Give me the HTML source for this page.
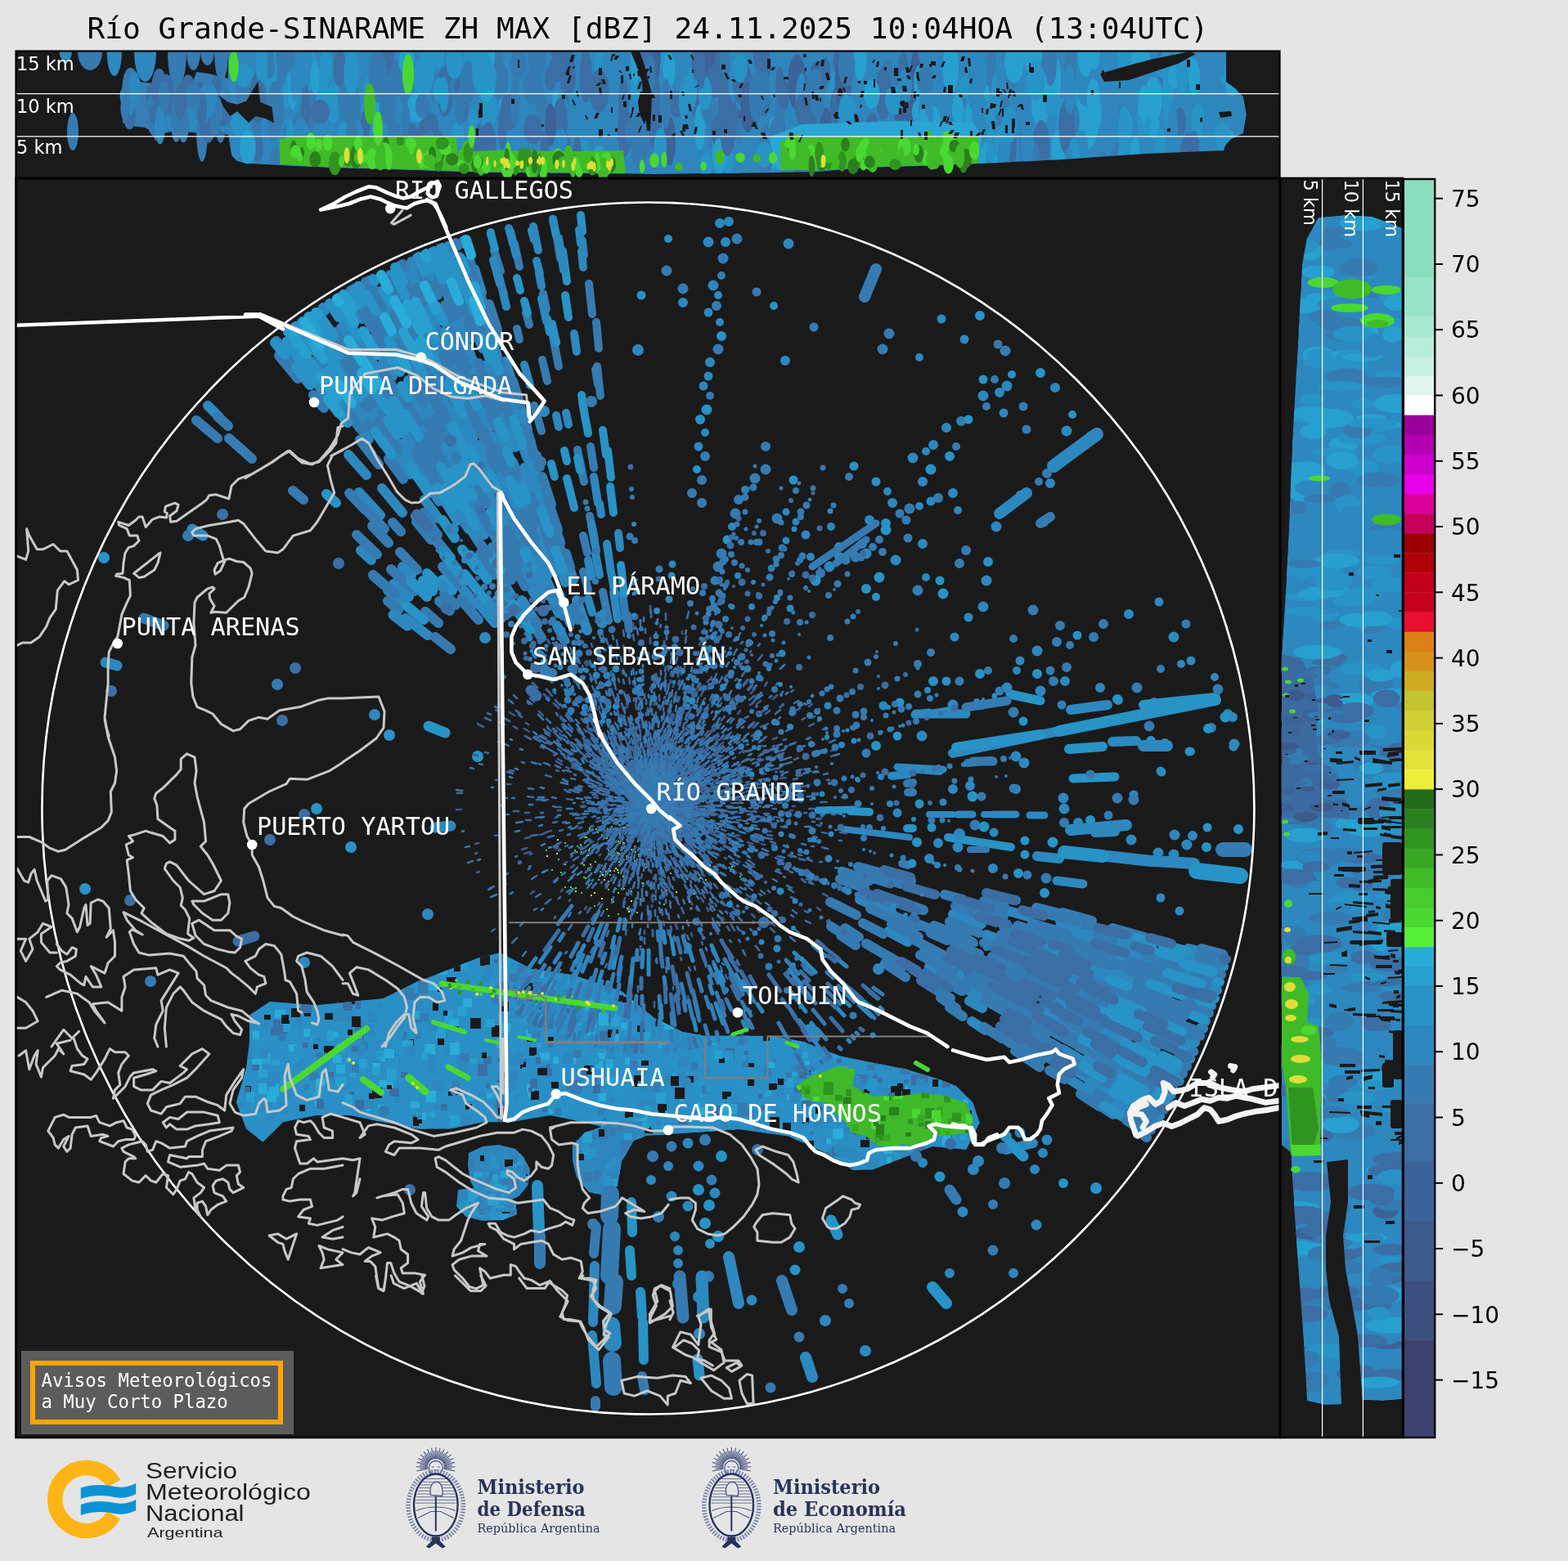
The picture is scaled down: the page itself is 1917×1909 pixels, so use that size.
<!DOCTYPE html>
<html><head><meta charset="utf-8"><title>Río Grande-SINARAME ZH MAX</title>
<style>html,body{margin:0;padding:0;background:#e5e5e5;overflow:hidden}svg{display:block}</style></head>
<body><svg xmlns="http://www.w3.org/2000/svg" width="1917" height="1909" viewBox="0 0 1917 1909">
<defs><clipPath id="mapclip"><rect x="20" y="219" width="1544" height="1538"/></clipPath><clipPath id="topclip"><rect x="20" y="63" width="1544" height="154"/></clipPath><clipPath id="rightclip"><rect x="1566" y="219" width="148" height="1538"/></clipPath></defs>
<rect x="0" y="0" width="1917" height="1909" fill="#e5e5e5"/>
<text x="106.5" y="47.4" font-family="DejaVu Sans Mono" font-size="36.15" fill="#000">Río Grande-SINARAME ZH MAX [dBZ] 24.11.2025 10:04HOA (13:04UTC)</text>
<rect x="19" y="62" width="1546" height="156" fill="#1a1a1a"/>
<rect x="19" y="218" width="1546" height="1540" fill="#1a1a1a"/>
<rect x="1565" y="218" width="150" height="1540" fill="#1a1a1a"/>
<g clip-path="url(#topclip)">
<path d="M279.0,63.0 L1499.0,63.0 L1499.0,100.0 L1510.0,108.0 L1520.0,118.0 L1524.0,140.0 L1520.0,163.0 L1505.0,170.0 L1498.0,178.0 L1496.0,184.0 L1400.0,188.0 L1300.0,195.0 L1200.0,200.0 L1100.0,204.0 L1060.0,205.0 L1000.0,210.0 L900.0,212.0 L800.0,213.0 L700.0,212.0 L600.0,211.0 L560.0,210.0 L500.0,208.0 L400.0,205.0 L342.0,202.0 L300.0,200.0 L290.0,197.0 L283.0,190.0 L279.0,165.0Z" fill="#2f86bd" />
<path d="M150.0,104.0 L170.0,100.0 L200.0,103.0 L236.0,100.0 L240.0,88.0 L255.0,90.0 L279.0,96.0 L279.0,165.0 L265.0,162.0 L250.0,158.0 L236.0,162.0 L215.0,160.0 L199.0,163.0 L190.0,172.0 L185.0,160.0 L177.0,156.0 L160.0,154.0 L150.0,150.0Z" fill="#357fb6" />
<ellipse cx="80.3" cy="63.0" rx="7.7" ry="12.0" fill="#2d88bf"/>
<ellipse cx="110.0" cy="63.0" rx="15.0" ry="23.0" fill="#357bb2"/>
<ellipse cx="139.8" cy="63.0" rx="9.2" ry="30.0" fill="#2d88bf"/>
<ellipse cx="177.5" cy="63.0" rx="13.5" ry="37.0" fill="#2d88bf"/>
<ellipse cx="216.5" cy="63.0" rx="11.5" ry="45.0" fill="#357bb2"/>
<ellipse cx="236.5" cy="63.0" rx="8.5" ry="23.0" fill="#357bb2"/>
<ellipse cx="253.5" cy="63.0" rx="8.5" ry="17.0" fill="#357bb2"/>
<ellipse cx="270.5" cy="63.0" rx="8.5" ry="37.0" fill="#357bb2"/>
<ellipse cx="89.0" cy="161.0" rx="7.0" ry="23.0" fill="#357bb2"/>
<ellipse cx="247.0" cy="160.0" rx="7.0" ry="38.0" fill="#357bb2"/>
<ellipse cx="289.0" cy="178.0" rx="6.0" ry="22.0" fill="#2d88bf"/>
<ellipse cx="1273.8" cy="130.6" rx="9.3" ry="17.7" fill="#2893c6"/>
<ellipse cx="947.6" cy="189.4" rx="9.4" ry="25.9" fill="#2d88bf"/>
<ellipse cx="1471.7" cy="155.9" rx="9.3" ry="17.1" fill="#3a6ea4"/>
<ellipse cx="362.7" cy="68.1" rx="11.2" ry="26.0" fill="#27a0d0"/>
<ellipse cx="855.6" cy="125.6" rx="10.9" ry="24.4" fill="#3a6ea4"/>
<ellipse cx="1099.8" cy="127.9" rx="6.9" ry="34.0" fill="#3a6ea4"/>
<ellipse cx="672.8" cy="95.6" rx="7.0" ry="15.4" fill="#3a6ea4"/>
<ellipse cx="1326.3" cy="117.9" rx="11.7" ry="30.9" fill="#2893c6"/>
<ellipse cx="863.1" cy="202.2" rx="7.8" ry="15.5" fill="#2893c6"/>
<ellipse cx="529.1" cy="158.8" rx="7.4" ry="20.2" fill="#3a6ea4"/>
<ellipse cx="1470.8" cy="170.6" rx="5.8" ry="18.9" fill="#27a0d0"/>
<ellipse cx="1265.3" cy="88.2" rx="8.9" ry="22.9" fill="#357bb2"/>
<ellipse cx="1231.5" cy="122.5" rx="7.7" ry="21.9" fill="#2d88bf"/>
<ellipse cx="1512.4" cy="65.8" rx="6.3" ry="33.9" fill="#2893c6"/>
<ellipse cx="408.4" cy="203.5" rx="6.5" ry="19.2" fill="#27a0d0"/>
<ellipse cx="1035.7" cy="180.9" rx="7.7" ry="15.5" fill="#357bb2"/>
<ellipse cx="1001.8" cy="97.5" rx="9.2" ry="21.4" fill="#357bb2"/>
<ellipse cx="1308.8" cy="82.3" rx="7.7" ry="26.5" fill="#357bb2"/>
<ellipse cx="1290.9" cy="98.4" rx="6.3" ry="28.8" fill="#27a0d0"/>
<ellipse cx="1370.1" cy="148.7" rx="8.0" ry="16.1" fill="#2d88bf"/>
<ellipse cx="578.2" cy="163.1" rx="6.8" ry="30.5" fill="#2893c6"/>
<ellipse cx="888.9" cy="136.9" rx="11.5" ry="33.5" fill="#3a6ea4"/>
<ellipse cx="629.7" cy="193.3" rx="6.4" ry="14.3" fill="#357bb2"/>
<ellipse cx="791.1" cy="98.4" rx="5.3" ry="19.6" fill="#3b6399"/>
<ellipse cx="398.4" cy="82.7" rx="8.2" ry="20.6" fill="#2893c6"/>
<ellipse cx="1135.2" cy="146.0" rx="6.0" ry="14.7" fill="#2d88bf"/>
<ellipse cx="1147.2" cy="199.7" rx="5.1" ry="26.7" fill="#2d88bf"/>
<ellipse cx="677.3" cy="204.9" rx="5.5" ry="24.9" fill="#2893c6"/>
<ellipse cx="339.7" cy="195.9" rx="10.2" ry="16.6" fill="#357bb2"/>
<ellipse cx="717.8" cy="160.3" rx="11.3" ry="31.4" fill="#2d88bf"/>
<ellipse cx="322.2" cy="134.0" rx="5.1" ry="27.2" fill="#2d88bf"/>
<ellipse cx="1001.7" cy="149.5" rx="5.6" ry="26.8" fill="#357bb2"/>
<ellipse cx="1180.7" cy="118.2" rx="10.1" ry="25.6" fill="#2893c6"/>
<ellipse cx="923.0" cy="136.1" rx="7.2" ry="15.8" fill="#3a6ea4"/>
<ellipse cx="896.6" cy="150.3" rx="11.4" ry="19.1" fill="#3b6399"/>
<ellipse cx="1119.1" cy="91.8" rx="6.2" ry="32.1" fill="#3b6399"/>
<ellipse cx="687.2" cy="157.6" rx="6.4" ry="22.6" fill="#27a0d0"/>
<ellipse cx="531.4" cy="93.4" rx="6.5" ry="32.4" fill="#357bb2"/>
<ellipse cx="452.5" cy="133.5" rx="10.9" ry="31.0" fill="#2893c6"/>
<ellipse cx="363.9" cy="202.2" rx="10.8" ry="16.3" fill="#2d88bf"/>
<ellipse cx="623.5" cy="93.4" rx="7.9" ry="26.5" fill="#2d88bf"/>
<ellipse cx="1166.0" cy="182.6" rx="9.4" ry="20.4" fill="#2893c6"/>
<ellipse cx="1119.3" cy="102.9" rx="7.5" ry="27.0" fill="#3b6399"/>
<ellipse cx="315.4" cy="180.8" rx="6.7" ry="16.8" fill="#3a6ea4"/>
<ellipse cx="1495.3" cy="79.4" rx="5.8" ry="24.7" fill="#2893c6"/>
<ellipse cx="1463.9" cy="160.2" rx="6.4" ry="23.5" fill="#357bb2"/>
<ellipse cx="1213.7" cy="138.9" rx="5.3" ry="18.5" fill="#27a0d0"/>
<ellipse cx="769.0" cy="175.5" rx="11.3" ry="15.7" fill="#2893c6"/>
<ellipse cx="762.2" cy="127.0" rx="6.4" ry="31.7" fill="#3a6ea4"/>
<ellipse cx="855.4" cy="155.5" rx="6.4" ry="28.4" fill="#27a0d0"/>
<ellipse cx="1421.8" cy="80.5" rx="6.7" ry="21.8" fill="#3a6ea4"/>
<ellipse cx="945.5" cy="175.3" rx="7.2" ry="32.2" fill="#27a0d0"/>
<ellipse cx="304.2" cy="134.7" rx="5.3" ry="20.8" fill="#2d88bf"/>
<ellipse cx="1229.9" cy="132.2" rx="5.2" ry="30.2" fill="#2893c6"/>
<ellipse cx="497.7" cy="110.6" rx="10.5" ry="16.8" fill="#357bb2"/>
<ellipse cx="1514.8" cy="190.9" rx="8.6" ry="27.6" fill="#2d88bf"/>
<ellipse cx="890.9" cy="197.8" rx="5.6" ry="18.4" fill="#2893c6"/>
<ellipse cx="972.3" cy="181.0" rx="8.9" ry="17.3" fill="#2893c6"/>
<ellipse cx="1322.7" cy="142.5" rx="7.2" ry="21.6" fill="#27a0d0"/>
<ellipse cx="1034.6" cy="106.2" rx="6.0" ry="24.9" fill="#3b6399"/>
<ellipse cx="790.6" cy="79.2" rx="5.0" ry="21.5" fill="#2893c6"/>
<ellipse cx="919.7" cy="119.9" rx="10.6" ry="25.3" fill="#3b6399"/>
<ellipse cx="366.1" cy="139.5" rx="7.9" ry="33.1" fill="#2d88bf"/>
<ellipse cx="616.1" cy="130.2" rx="5.9" ry="22.7" fill="#27a0d0"/>
<ellipse cx="1435.9" cy="193.6" rx="8.7" ry="16.2" fill="#2d88bf"/>
<ellipse cx="1423.1" cy="81.4" rx="10.5" ry="14.5" fill="#2893c6"/>
<ellipse cx="1130.1" cy="108.7" rx="7.5" ry="26.4" fill="#2893c6"/>
<ellipse cx="1332.9" cy="151.5" rx="10.0" ry="28.0" fill="#27a0d0"/>
<ellipse cx="1300.0" cy="150.4" rx="8.8" ry="31.3" fill="#2893c6"/>
<ellipse cx="936.4" cy="183.9" rx="9.3" ry="31.1" fill="#357bb2"/>
<ellipse cx="1410.2" cy="152.2" rx="7.4" ry="17.6" fill="#27a0d0"/>
<ellipse cx="553.3" cy="204.8" rx="11.2" ry="16.7" fill="#357bb2"/>
<ellipse cx="448.0" cy="75.5" rx="7.7" ry="22.7" fill="#2d88bf"/>
<ellipse cx="953.2" cy="163.1" rx="6.4" ry="26.6" fill="#3b6399"/>
<ellipse cx="986.0" cy="113.8" rx="10.7" ry="21.2" fill="#3a6ea4"/>
<ellipse cx="903.4" cy="160.4" rx="6.3" ry="15.4" fill="#357bb2"/>
<ellipse cx="465.3" cy="89.2" rx="6.4" ry="30.8" fill="#357bb2"/>
<ellipse cx="1425.1" cy="76.5" rx="5.4" ry="33.0" fill="#2893c6"/>
<ellipse cx="687.0" cy="129.3" rx="8.6" ry="22.6" fill="#3a6ea4"/>
<ellipse cx="1323.4" cy="88.7" rx="8.2" ry="28.8" fill="#2d88bf"/>
<ellipse cx="1029.0" cy="76.5" rx="10.5" ry="20.5" fill="#3a6ea4"/>
<ellipse cx="1151.7" cy="185.2" rx="9.4" ry="22.1" fill="#2d88bf"/>
<ellipse cx="1274.9" cy="99.7" rx="11.4" ry="28.9" fill="#27a0d0"/>
<ellipse cx="448.9" cy="109.8" rx="8.8" ry="21.4" fill="#2d88bf"/>
<ellipse cx="1226.2" cy="120.6" rx="10.1" ry="15.4" fill="#2893c6"/>
<ellipse cx="298.0" cy="113.5" rx="9.5" ry="26.5" fill="#357bb2"/>
<ellipse cx="620.8" cy="199.5" rx="7.1" ry="18.3" fill="#2d88bf"/>
<ellipse cx="985.6" cy="138.7" rx="7.7" ry="34.0" fill="#3a6ea4"/>
<ellipse cx="1221.9" cy="202.2" rx="5.2" ry="26.3" fill="#27a0d0"/>
<ellipse cx="778.9" cy="70.2" rx="6.4" ry="21.5" fill="#3a6ea4"/>
<ellipse cx="1398.9" cy="141.1" rx="8.6" ry="33.3" fill="#2893c6"/>
<ellipse cx="407.6" cy="126.1" rx="9.5" ry="25.0" fill="#2893c6"/>
<ellipse cx="1218.9" cy="69.4" rx="11.5" ry="17.2" fill="#2d88bf"/>
<ellipse cx="1337.5" cy="140.0" rx="9.2" ry="22.6" fill="#27a0d0"/>
<ellipse cx="1020.3" cy="114.9" rx="7.0" ry="27.1" fill="#2893c6"/>
<ellipse cx="1101.2" cy="169.2" rx="5.2" ry="29.4" fill="#357bb2"/>
<ellipse cx="349.9" cy="107.8" rx="7.8" ry="25.6" fill="#2893c6"/>
<ellipse cx="1446.7" cy="73.4" rx="11.3" ry="22.6" fill="#27a0d0"/>
<ellipse cx="340.9" cy="77.0" rx="10.7" ry="32.2" fill="#357bb2"/>
<ellipse cx="1488.9" cy="179.0" rx="9.2" ry="16.3" fill="#2893c6"/>
<ellipse cx="535.5" cy="70.4" rx="8.7" ry="16.5" fill="#2d88bf"/>
<ellipse cx="456.9" cy="122.2" rx="9.2" ry="26.8" fill="#2893c6"/>
<ellipse cx="801.0" cy="173.5" rx="8.7" ry="34.0" fill="#357bb2"/>
<ellipse cx="578.2" cy="79.2" rx="11.2" ry="29.7" fill="#2893c6"/>
<ellipse cx="1326.3" cy="102.0" rx="9.3" ry="28.5" fill="#2d88bf"/>
<ellipse cx="1211.6" cy="90.0" rx="6.7" ry="33.6" fill="#357bb2"/>
<ellipse cx="333.6" cy="71.6" rx="6.9" ry="22.5" fill="#2893c6"/>
<ellipse cx="331.8" cy="94.6" rx="6.9" ry="29.1" fill="#2893c6"/>
<ellipse cx="482.9" cy="96.3" rx="11.9" ry="23.7" fill="#357bb2"/>
<ellipse cx="544.1" cy="111.8" rx="10.2" ry="30.8" fill="#3a6ea4"/>
<ellipse cx="1271.8" cy="126.5" rx="10.8" ry="30.8" fill="#27a0d0"/>
<ellipse cx="1204.2" cy="118.4" rx="6.1" ry="17.1" fill="#27a0d0"/>
<ellipse cx="685.2" cy="140.9" rx="10.2" ry="32.4" fill="#2d88bf"/>
<ellipse cx="999.1" cy="128.6" rx="7.3" ry="24.9" fill="#357bb2"/>
<ellipse cx="1287.8" cy="128.8" rx="10.8" ry="14.2" fill="#2893c6"/>
<ellipse cx="1140.0" cy="133.3" rx="10.3" ry="20.6" fill="#2d88bf"/>
<ellipse cx="735.7" cy="79.7" rx="10.0" ry="25.4" fill="#2893c6"/>
<ellipse cx="823.7" cy="177.0" rx="7.1" ry="20.4" fill="#2d88bf"/>
<ellipse cx="1475.4" cy="166.6" rx="8.6" ry="15.7" fill="#2d88bf"/>
<ellipse cx="1117.7" cy="146.0" rx="10.6" ry="28.8" fill="#3b6399"/>
<ellipse cx="502.2" cy="170.8" rx="11.2" ry="19.6" fill="#3a6ea4"/>
<ellipse cx="557.1" cy="71.2" rx="6.1" ry="19.9" fill="#3a6ea4"/>
<ellipse cx="1086.0" cy="177.2" rx="5.4" ry="24.9" fill="#27a0d0"/>
<ellipse cx="955.9" cy="110.5" rx="6.9" ry="16.1" fill="#3b6399"/>
<ellipse cx="404.9" cy="178.9" rx="8.0" ry="28.2" fill="#2d88bf"/>
<ellipse cx="1226.4" cy="137.1" rx="10.4" ry="21.9" fill="#357bb2"/>
<ellipse cx="694.5" cy="82.4" rx="8.4" ry="30.1" fill="#3a6ea4"/>
<ellipse cx="1410.4" cy="121.3" rx="10.8" ry="27.3" fill="#27a0d0"/>
<ellipse cx="1310.6" cy="189.2" rx="11.7" ry="26.8" fill="#2893c6"/>
<ellipse cx="1271.8" cy="122.9" rx="7.9" ry="16.9" fill="#27a0d0"/>
<ellipse cx="1126.4" cy="108.6" rx="7.7" ry="24.6" fill="#357bb2"/>
<ellipse cx="357.8" cy="106.8" rx="5.8" ry="27.0" fill="#27a0d0"/>
<ellipse cx="1416.3" cy="192.5" rx="10.3" ry="14.3" fill="#2d88bf"/>
<ellipse cx="329.7" cy="78.4" rx="6.3" ry="18.3" fill="#357bb2"/>
<ellipse cx="1023.0" cy="130.0" rx="8.6" ry="22.8" fill="#3a6ea4"/>
<ellipse cx="1055.9" cy="196.8" rx="8.9" ry="31.1" fill="#2d88bf"/>
<ellipse cx="1376.5" cy="192.8" rx="7.4" ry="24.9" fill="#27a0d0"/>
<ellipse cx="776.3" cy="93.9" rx="5.9" ry="30.0" fill="#2893c6"/>
<ellipse cx="1237.2" cy="174.9" rx="5.4" ry="32.5" fill="#3a6ea4"/>
<ellipse cx="1398.4" cy="126.9" rx="6.7" ry="22.4" fill="#27a0d0"/>
<ellipse cx="1234.5" cy="83.6" rx="11.4" ry="30.2" fill="#357bb2"/>
<ellipse cx="1506.5" cy="100.8" rx="8.7" ry="17.0" fill="#27a0d0"/>
<ellipse cx="1295.3" cy="183.2" rx="10.8" ry="15.6" fill="#357bb2"/>
<ellipse cx="934.4" cy="189.3" rx="9.9" ry="15.7" fill="#2893c6"/>
<ellipse cx="1006.6" cy="184.7" rx="7.1" ry="29.8" fill="#2d88bf"/>
<ellipse cx="522.5" cy="159.9" rx="10.5" ry="22.8" fill="#3a6ea4"/>
<ellipse cx="953.3" cy="137.6" rx="6.1" ry="30.6" fill="#357bb2"/>
<ellipse cx="378.5" cy="106.4" rx="8.3" ry="28.3" fill="#357bb2"/>
<ellipse cx="376.4" cy="83.0" rx="9.7" ry="27.5" fill="#2893c6"/>
<ellipse cx="1474.3" cy="180.8" rx="9.6" ry="14.2" fill="#2d88bf"/>
<ellipse cx="869.6" cy="104.7" rx="5.8" ry="29.4" fill="#27a0d0"/>
<ellipse cx="1268.3" cy="92.4" rx="9.3" ry="19.8" fill="#2d88bf"/>
<ellipse cx="1207.2" cy="198.5" rx="10.3" ry="25.1" fill="#27a0d0"/>
<ellipse cx="748.2" cy="78.6" rx="7.2" ry="19.5" fill="#2d88bf"/>
<ellipse cx="692.9" cy="180.4" rx="5.6" ry="16.8" fill="#3a6ea4"/>
<ellipse cx="446.7" cy="152.5" rx="6.3" ry="17.9" fill="#3a6ea4"/>
<ellipse cx="1314.4" cy="147.2" rx="5.6" ry="18.5" fill="#357bb2"/>
<ellipse cx="818.6" cy="172.5" rx="7.4" ry="30.5" fill="#3b6399"/>
<ellipse cx="1228.2" cy="179.6" rx="7.7" ry="20.6" fill="#2d88bf"/>
<ellipse cx="1179.1" cy="150.1" rx="7.2" ry="29.8" fill="#357bb2"/>
<ellipse cx="1033.6" cy="65.6" rx="7.3" ry="20.8" fill="#357bb2"/>
<ellipse cx="537.0" cy="110.3" rx="7.1" ry="16.1" fill="#2893c6"/>
<ellipse cx="479.8" cy="171.8" rx="11.3" ry="25.0" fill="#357bb2"/>
<ellipse cx="1037.8" cy="135.9" rx="9.0" ry="18.0" fill="#2893c6"/>
<ellipse cx="1154.4" cy="195.9" rx="9.0" ry="14.5" fill="#2893c6"/>
<ellipse cx="452.6" cy="130.9" rx="7.9" ry="20.7" fill="#3a6ea4"/>
<ellipse cx="1427.7" cy="114.3" rx="8.2" ry="16.5" fill="#2893c6"/>
<ellipse cx="974.2" cy="100.5" rx="11.4" ry="33.8" fill="#3b6399"/>
<ellipse cx="435.9" cy="180.1" rx="7.0" ry="31.9" fill="#357bb2"/>
<ellipse cx="1217.7" cy="114.6" rx="6.2" ry="26.0" fill="#2893c6"/>
<ellipse cx="781.2" cy="174.1" rx="11.5" ry="34.0" fill="#357bb2"/>
<ellipse cx="1041.7" cy="153.9" rx="10.3" ry="17.2" fill="#3b6399"/>
<ellipse cx="934.3" cy="79.8" rx="7.8" ry="20.7" fill="#3a6ea4"/>
<ellipse cx="350.8" cy="174.3" rx="10.1" ry="29.8" fill="#2d88bf"/>
<ellipse cx="1465.0" cy="148.2" rx="8.3" ry="22.2" fill="#2893c6"/>
<ellipse cx="979.7" cy="120.8" rx="7.0" ry="31.8" fill="#2d88bf"/>
<ellipse cx="1336.7" cy="121.1" rx="8.0" ry="25.3" fill="#27a0d0"/>
<ellipse cx="802.0" cy="66.4" rx="11.4" ry="19.9" fill="#2893c6"/>
<ellipse cx="1185.4" cy="147.8" rx="10.3" ry="20.1" fill="#2893c6"/>
<ellipse cx="585.5" cy="182.9" rx="6.7" ry="31.5" fill="#3a6ea4"/>
<ellipse cx="870.1" cy="78.0" rx="11.4" ry="24.9" fill="#3b6399"/>
<ellipse cx="1367.1" cy="204.9" rx="10.1" ry="31.4" fill="#357bb2"/>
<ellipse cx="803.3" cy="177.3" rx="6.6" ry="28.9" fill="#2893c6"/>
<ellipse cx="435.9" cy="73.2" rx="8.6" ry="16.6" fill="#2893c6"/>
<ellipse cx="993.3" cy="127.4" rx="7.1" ry="28.6" fill="#3a6ea4"/>
<ellipse cx="827.1" cy="126.9" rx="8.7" ry="16.8" fill="#3a6ea4"/>
<ellipse cx="661.7" cy="127.6" rx="7.2" ry="20.5" fill="#357bb2"/>
<ellipse cx="1487.1" cy="130.1" rx="6.4" ry="19.9" fill="#2893c6"/>
<ellipse cx="525.5" cy="182.0" rx="7.5" ry="23.4" fill="#357bb2"/>
<ellipse cx="1066.5" cy="162.1" rx="8.9" ry="24.7" fill="#3a6ea4"/>
<ellipse cx="1084.6" cy="106.5" rx="10.7" ry="33.2" fill="#357bb2"/>
<ellipse cx="1162.2" cy="82.2" rx="9.9" ry="32.8" fill="#27a0d0"/>
<ellipse cx="559.6" cy="106.6" rx="10.0" ry="17.9" fill="#357bb2"/>
<ellipse cx="1170.8" cy="134.2" rx="7.1" ry="19.5" fill="#27a0d0"/>
<ellipse cx="1372.9" cy="146.8" rx="6.6" ry="20.0" fill="#357bb2"/>
<ellipse cx="625.5" cy="153.9" rx="5.6" ry="33.7" fill="#2d88bf"/>
<ellipse cx="375.8" cy="191.9" rx="5.0" ry="25.7" fill="#2893c6"/>
<ellipse cx="593.6" cy="177.1" rx="5.6" ry="19.7" fill="#27a0d0"/>
<ellipse cx="518.1" cy="88.5" rx="10.1" ry="14.6" fill="#27a0d0"/>
<ellipse cx="1388.3" cy="203.3" rx="5.2" ry="23.2" fill="#2893c6"/>
<ellipse cx="1428.0" cy="134.0" rx="6.3" ry="25.1" fill="#2893c6"/>
<ellipse cx="679.6" cy="131.7" rx="5.2" ry="19.8" fill="#27a0d0"/>
<ellipse cx="1126.6" cy="136.9" rx="11.7" ry="17.5" fill="#27a0d0"/>
<ellipse cx="422.9" cy="124.9" rx="9.7" ry="25.0" fill="#357bb2"/>
<ellipse cx="1252.5" cy="175.3" rx="6.7" ry="23.8" fill="#357bb2"/>
<ellipse cx="1027.1" cy="100.1" rx="6.4" ry="33.4" fill="#3b6399"/>
<ellipse cx="684.8" cy="149.4" rx="9.3" ry="30.1" fill="#3a6ea4"/>
<ellipse cx="1338.7" cy="67.4" rx="5.8" ry="17.6" fill="#27a0d0"/>
<ellipse cx="1051.6" cy="70.7" rx="8.0" ry="27.9" fill="#27a0d0"/>
<ellipse cx="931.3" cy="100.6" rx="9.1" ry="15.8" fill="#357bb2"/>
<ellipse cx="598.4" cy="85.7" rx="9.8" ry="30.6" fill="#27a0d0"/>
<ellipse cx="844.1" cy="107.8" rx="8.3" ry="28.0" fill="#2893c6"/>
<ellipse cx="336.8" cy="132.5" rx="10.3" ry="33.7" fill="#357bb2"/>
<ellipse cx="1200.9" cy="137.1" rx="11.9" ry="14.1" fill="#2d88bf"/>
<ellipse cx="459.1" cy="118.8" rx="7.1" ry="22.5" fill="#3a6ea4"/>
<ellipse cx="1480.1" cy="159.5" rx="10.0" ry="33.5" fill="#2d88bf"/>
<ellipse cx="431.2" cy="184.5" rx="7.9" ry="15.7" fill="#357bb2"/>
<ellipse cx="732.7" cy="110.9" rx="11.9" ry="26.2" fill="#3a6ea4"/>
<ellipse cx="1192.0" cy="143.6" rx="11.4" ry="31.7" fill="#27a0d0"/>
<ellipse cx="1435.6" cy="93.3" rx="7.7" ry="15.0" fill="#27a0d0"/>
<ellipse cx="1260.7" cy="177.2" rx="8.4" ry="22.0" fill="#2d88bf"/>
<ellipse cx="866.3" cy="132.6" rx="9.4" ry="17.6" fill="#357bb2"/>
<ellipse cx="800.6" cy="69.7" rx="6.9" ry="33.0" fill="#3b6399"/>
<ellipse cx="1197.2" cy="135.7" rx="9.0" ry="27.0" fill="#2d88bf"/>
<ellipse cx="355.4" cy="166.4" rx="10.4" ry="16.7" fill="#357bb2"/>
<ellipse cx="1174.8" cy="191.8" rx="5.1" ry="20.4" fill="#27a0d0"/>
<ellipse cx="685.1" cy="172.4" rx="8.6" ry="15.1" fill="#2d88bf"/>
<ellipse cx="885.8" cy="89.7" rx="8.6" ry="16.6" fill="#357bb2"/>
<ellipse cx="873.7" cy="161.6" rx="8.6" ry="25.0" fill="#357bb2"/>
<ellipse cx="1104.4" cy="83.9" rx="6.4" ry="19.6" fill="#3a6ea4"/>
<ellipse cx="563.0" cy="104.5" rx="7.4" ry="18.3" fill="#3a6ea4"/>
<ellipse cx="1328.3" cy="169.1" rx="8.4" ry="14.2" fill="#27a0d0"/>
<ellipse cx="651.7" cy="158.2" rx="11.4" ry="18.3" fill="#3a6ea4"/>
<ellipse cx="1459.8" cy="186.3" rx="6.6" ry="26.7" fill="#3a6ea4"/>
<ellipse cx="432.4" cy="133.0" rx="8.4" ry="32.6" fill="#357bb2"/>
<ellipse cx="896.5" cy="102.7" rx="6.1" ry="22.0" fill="#2d88bf"/>
<ellipse cx="716.4" cy="164.1" rx="8.6" ry="28.9" fill="#2d88bf"/>
<ellipse cx="873.3" cy="99.5" rx="11.0" ry="20.2" fill="#3a6ea4"/>
<ellipse cx="433.0" cy="192.2" rx="11.4" ry="19.4" fill="#2d88bf"/>
<ellipse cx="894.5" cy="146.2" rx="8.3" ry="20.5" fill="#3a6ea4"/>
<ellipse cx="711.9" cy="189.6" rx="9.0" ry="19.2" fill="#2893c6"/>
<ellipse cx="1376.1" cy="154.2" rx="7.7" ry="20.8" fill="#27a0d0"/>
<ellipse cx="1233.9" cy="152.1" rx="9.3" ry="22.2" fill="#2893c6"/>
<ellipse cx="1305.4" cy="187.9" rx="7.7" ry="32.2" fill="#3a6ea4"/>
<ellipse cx="1125.6" cy="101.7" rx="8.5" ry="23.5" fill="#27a0d0"/>
<ellipse cx="616.8" cy="99.7" rx="6.5" ry="24.4" fill="#2893c6"/>
<ellipse cx="1490.1" cy="63.5" rx="8.8" ry="31.0" fill="#2d88bf"/>
<ellipse cx="609.8" cy="77.8" rx="5.1" ry="30.1" fill="#357bb2"/>
<ellipse cx="1140.3" cy="160.5" rx="11.7" ry="30.5" fill="#27a0d0"/>
<ellipse cx="1275.1" cy="104.7" rx="7.9" ry="21.3" fill="#27a0d0"/>
<ellipse cx="1079.9" cy="114.4" rx="9.9" ry="32.3" fill="#3a6ea4"/>
<ellipse cx="1501.7" cy="179.1" rx="11.2" ry="20.2" fill="#27a0d0"/>
<ellipse cx="334.7" cy="151.3" rx="7.9" ry="23.6" fill="#357bb2"/>
<ellipse cx="597.3" cy="135.1" rx="10.6" ry="21.8" fill="#2893c6"/>
<ellipse cx="1065.8" cy="115.2" rx="9.8" ry="17.7" fill="#27a0d0"/>
<ellipse cx="1321.5" cy="180.7" rx="9.0" ry="22.4" fill="#2d88bf"/>
<ellipse cx="1270.5" cy="80.8" rx="7.6" ry="27.4" fill="#357bb2"/>
<ellipse cx="1482.8" cy="130.0" rx="9.9" ry="29.8" fill="#2d88bf"/>
<ellipse cx="800.7" cy="152.7" rx="7.8" ry="32.7" fill="#3a6ea4"/>
<ellipse cx="1356.1" cy="90.5" rx="7.5" ry="24.8" fill="#2d88bf"/>
<ellipse cx="1397.8" cy="181.3" rx="11.0" ry="17.4" fill="#2d88bf"/>
<ellipse cx="560.1" cy="165.5" rx="7.9" ry="16.8" fill="#2893c6"/>
<ellipse cx="763.9" cy="161.6" rx="8.8" ry="30.0" fill="#3a6ea4"/>
<ellipse cx="969.1" cy="190.3" rx="11.2" ry="22.7" fill="#357bb2"/>
<ellipse cx="683.1" cy="65.7" rx="9.0" ry="16.9" fill="#3a6ea4"/>
<ellipse cx="564.9" cy="131.5" rx="7.6" ry="19.2" fill="#3a6ea4"/>
<ellipse cx="471.5" cy="64.0" rx="10.3" ry="27.4" fill="#3a6ea4"/>
<ellipse cx="509.5" cy="131.6" rx="12.0" ry="18.0" fill="#27a0d0"/>
<ellipse cx="787.5" cy="67.6" rx="7.5" ry="25.2" fill="#3a6ea4"/>
<ellipse cx="625.8" cy="196.3" rx="11.1" ry="33.9" fill="#2d88bf"/>
<ellipse cx="987.6" cy="196.6" rx="5.3" ry="31.1" fill="#357bb2"/>
<ellipse cx="948.0" cy="158.8" rx="6.9" ry="14.5" fill="#357bb2"/>
<ellipse cx="297.9" cy="92.8" rx="11.7" ry="14.2" fill="#2893c6"/>
<ellipse cx="610.9" cy="97.8" rx="11.5" ry="23.9" fill="#357bb2"/>
<ellipse cx="1272.8" cy="180.5" rx="10.4" ry="33.7" fill="#3a6ea4"/>
<ellipse cx="878.0" cy="182.3" rx="7.9" ry="32.0" fill="#2893c6"/>
<ellipse cx="313.9" cy="144.9" rx="6.6" ry="21.8" fill="#357bb2"/>
<ellipse cx="907.6" cy="102.3" rx="11.9" ry="26.5" fill="#3a6ea4"/>
<ellipse cx="367.0" cy="155.8" rx="9.2" ry="19.3" fill="#357bb2"/>
<ellipse cx="1197.2" cy="93.0" rx="10.2" ry="24.9" fill="#2d88bf"/>
<ellipse cx="415.2" cy="83.3" rx="7.5" ry="22.6" fill="#3a6ea4"/>
<ellipse cx="776.7" cy="70.4" rx="5.7" ry="33.0" fill="#27a0d0"/>
<ellipse cx="536.8" cy="188.0" rx="7.2" ry="29.1" fill="#3a6ea4"/>
<ellipse cx="996.9" cy="108.7" rx="8.3" ry="32.8" fill="#3b6399"/>
<ellipse cx="1284.5" cy="72.9" rx="7.7" ry="32.4" fill="#357bb2"/>
<ellipse cx="930.9" cy="64.4" rx="10.1" ry="27.2" fill="#3a6ea4"/>
<ellipse cx="1376.8" cy="184.6" rx="9.4" ry="24.1" fill="#2893c6"/>
<ellipse cx="434.4" cy="167.9" rx="10.2" ry="22.7" fill="#2d88bf"/>
<ellipse cx="800.8" cy="117.6" rx="6.6" ry="26.0" fill="#3a6ea4"/>
<ellipse cx="934.7" cy="127.1" rx="7.0" ry="14.9" fill="#3a6ea4"/>
<ellipse cx="471.9" cy="129.6" rx="12.0" ry="28.8" fill="#357bb2"/>
<ellipse cx="516.6" cy="129.6" rx="8.9" ry="15.0" fill="#357bb2"/>
<ellipse cx="1211.0" cy="190.4" rx="5.8" ry="17.7" fill="#2893c6"/>
<ellipse cx="460.1" cy="79.3" rx="5.7" ry="19.0" fill="#357bb2"/>
<ellipse cx="364.7" cy="186.6" rx="10.0" ry="19.0" fill="#27a0d0"/>
<ellipse cx="714.0" cy="92.5" rx="5.1" ry="22.5" fill="#3b6399"/>
<ellipse cx="375.5" cy="141.8" rx="10.5" ry="23.8" fill="#357bb2"/>
<ellipse cx="373.8" cy="133.5" rx="5.4" ry="31.4" fill="#3a6ea4"/>
<ellipse cx="1265.0" cy="84.6" rx="7.6" ry="16.0" fill="#3a6ea4"/>
<ellipse cx="1460.0" cy="94.2" rx="7.0" ry="22.3" fill="#27a0d0"/>
<ellipse cx="1394.2" cy="73.2" rx="11.9" ry="18.1" fill="#27a0d0"/>
<ellipse cx="973.8" cy="204.2" rx="7.6" ry="30.3" fill="#2893c6"/>
<ellipse cx="672.9" cy="152.4" rx="6.9" ry="26.1" fill="#3b6399"/>
<ellipse cx="496.0" cy="145.4" rx="5.3" ry="19.6" fill="#357bb2"/>
<ellipse cx="1442.5" cy="149.6" rx="7.5" ry="17.9" fill="#3a6ea4"/>
<ellipse cx="1190.6" cy="114.2" rx="7.2" ry="22.2" fill="#2d88bf"/>
<ellipse cx="807.4" cy="179.5" rx="7.9" ry="23.1" fill="#2893c6"/>
<ellipse cx="437.0" cy="76.5" rx="8.6" ry="22.4" fill="#2d88bf"/>
<ellipse cx="997.5" cy="103.5" rx="11.1" ry="19.7" fill="#357bb2"/>
<ellipse cx="562.5" cy="130.8" rx="6.4" ry="22.3" fill="#357bb2"/>
<ellipse cx="836.5" cy="72.1" rx="7.9" ry="19.6" fill="#2d88bf"/>
<ellipse cx="614.2" cy="157.0" rx="5.1" ry="26.2" fill="#3a6ea4"/>
<ellipse cx="791.2" cy="81.8" rx="11.3" ry="19.0" fill="#3a6ea4"/>
<ellipse cx="1294.2" cy="183.7" rx="9.1" ry="24.9" fill="#27a0d0"/>
<ellipse cx="393.7" cy="114.6" rx="7.6" ry="28.5" fill="#2893c6"/>
<ellipse cx="1142.7" cy="203.6" rx="10.7" ry="31.5" fill="#2893c6"/>
<ellipse cx="862.1" cy="114.4" rx="8.3" ry="20.3" fill="#2893c6"/>
<ellipse cx="359.9" cy="94.6" rx="5.1" ry="29.8" fill="#2d88bf"/>
<ellipse cx="1304.3" cy="155.3" rx="9.9" ry="34.0" fill="#3a6ea4"/>
<ellipse cx="1092.1" cy="175.2" rx="11.5" ry="24.4" fill="#2893c6"/>
<ellipse cx="542.6" cy="115.5" rx="6.0" ry="21.9" fill="#2893c6"/>
<ellipse cx="1262.4" cy="63.5" rx="11.7" ry="27.9" fill="#27a0d0"/>
<ellipse cx="596.7" cy="178.2" rx="10.1" ry="29.5" fill="#3a6ea4"/>
<ellipse cx="817.8" cy="85.1" rx="7.6" ry="21.3" fill="#27a0d0"/>
<ellipse cx="314.7" cy="112.9" rx="8.8" ry="24.7" fill="#3a6ea4"/>
<ellipse cx="1239.8" cy="76.4" rx="12.0" ry="25.3" fill="#27a0d0"/>
<ellipse cx="1100.1" cy="135.4" rx="7.2" ry="21.1" fill="#3b6399"/>
<ellipse cx="1009.3" cy="87.2" rx="5.7" ry="16.8" fill="#3a6ea4"/>
<ellipse cx="904.6" cy="83.4" rx="9.0" ry="17.5" fill="#2893c6"/>
<ellipse cx="1347.5" cy="199.9" rx="7.9" ry="14.2" fill="#357bb2"/>
<ellipse cx="419.7" cy="167.7" rx="7.6" ry="19.9" fill="#2893c6"/>
<ellipse cx="320.1" cy="78.7" rx="7.1" ry="33.3" fill="#2893c6"/>
<ellipse cx="1222.9" cy="173.1" rx="7.7" ry="20.0" fill="#2893c6"/>
<ellipse cx="1093.3" cy="122.5" rx="11.3" ry="18.1" fill="#2893c6"/>
<ellipse cx="983.5" cy="134.1" rx="11.3" ry="21.9" fill="#3a6ea4"/>
<ellipse cx="555.7" cy="75.0" rx="10.5" ry="21.7" fill="#2893c6"/>
<ellipse cx="814.5" cy="127.0" rx="5.3" ry="30.7" fill="#357bb2"/>
<ellipse cx="958.5" cy="119.8" rx="6.6" ry="16.0" fill="#3a6ea4"/>
<ellipse cx="880.3" cy="95.7" rx="10.2" ry="23.7" fill="#3a6ea4"/>
<ellipse cx="293.7" cy="147.3" rx="11.7" ry="21.3" fill="#2893c6"/>
<ellipse cx="1138.4" cy="182.3" rx="6.5" ry="29.3" fill="#27a0d0"/>
<ellipse cx="430.0" cy="170.7" rx="7.4" ry="31.1" fill="#357bb2"/>
<ellipse cx="594.9" cy="101.4" rx="10.6" ry="22.5" fill="#27a0d0"/>
<ellipse cx="744.2" cy="75.7" rx="9.0" ry="15.9" fill="#2d88bf"/>
<ellipse cx="1307.8" cy="109.6" rx="7.2" ry="30.4" fill="#2d88bf"/>
<ellipse cx="354.8" cy="171.4" rx="5.3" ry="26.5" fill="#2893c6"/>
<ellipse cx="455.4" cy="111.3" rx="10.0" ry="26.3" fill="#2893c6"/>
<ellipse cx="1210.9" cy="145.3" rx="5.0" ry="28.7" fill="#2893c6"/>
<ellipse cx="497.2" cy="74.9" rx="9.8" ry="16.8" fill="#27a0d0"/>
<ellipse cx="835.6" cy="125.0" rx="5.8" ry="20.4" fill="#2893c6"/>
<ellipse cx="1312.6" cy="198.8" rx="7.5" ry="30.6" fill="#2893c6"/>
<ellipse cx="773.5" cy="161.1" rx="9.6" ry="16.3" fill="#357bb2"/>
<ellipse cx="683.7" cy="82.9" rx="11.6" ry="17.1" fill="#3a6ea4"/>
<ellipse cx="1387.8" cy="195.1" rx="6.4" ry="28.1" fill="#27a0d0"/>
<ellipse cx="914.2" cy="131.4" rx="8.8" ry="31.1" fill="#3b6399"/>
<ellipse cx="303.1" cy="179.9" rx="9.6" ry="21.5" fill="#27a0d0"/>
<ellipse cx="924.6" cy="118.2" rx="9.0" ry="30.8" fill="#357bb2"/>
<ellipse cx="466.8" cy="162.9" rx="7.8" ry="15.8" fill="#2d88bf"/>
<ellipse cx="572.3" cy="100.1" rx="10.1" ry="25.5" fill="#357bb2"/>
<ellipse cx="1418.7" cy="177.0" rx="6.8" ry="18.9" fill="#2893c6"/>
<ellipse cx="973.2" cy="201.6" rx="11.4" ry="23.1" fill="#2d88bf"/>
<ellipse cx="429.6" cy="89.4" rx="9.3" ry="27.6" fill="#2893c6"/>
<ellipse cx="1327.3" cy="68.0" rx="9.9" ry="25.4" fill="#27a0d0"/>
<ellipse cx="471.4" cy="198.0" rx="10.4" ry="30.1" fill="#3a6ea4"/>
<ellipse cx="588.9" cy="85.2" rx="11.9" ry="31.2" fill="#2893c6"/>
<ellipse cx="1035.1" cy="80.2" rx="10.4" ry="25.6" fill="#357bb2"/>
<ellipse cx="732.7" cy="198.0" rx="10.0" ry="19.8" fill="#27a0d0"/>
<ellipse cx="1306.8" cy="202.4" rx="5.8" ry="21.2" fill="#2d88bf"/>
<ellipse cx="1106.4" cy="103.7" rx="8.9" ry="19.3" fill="#2d88bf"/>
<ellipse cx="1445.4" cy="84.6" rx="7.7" ry="30.4" fill="#2893c6"/>
<ellipse cx="1034.6" cy="140.2" rx="10.1" ry="24.7" fill="#2893c6"/>
<ellipse cx="1009.8" cy="153.7" rx="7.1" ry="22.5" fill="#3b6399"/>
<ellipse cx="876.6" cy="160.4" rx="7.4" ry="18.3" fill="#3a6ea4"/>
<ellipse cx="1374.2" cy="73.7" rx="8.8" ry="25.5" fill="#2893c6"/>
<ellipse cx="656.9" cy="63.4" rx="11.5" ry="33.2" fill="#357bb2"/>
<ellipse cx="665.5" cy="186.8" rx="5.4" ry="27.3" fill="#3a6ea4"/>
<ellipse cx="458.1" cy="121.7" rx="6.0" ry="32.0" fill="#27a0d0"/>
<ellipse cx="1483.8" cy="193.6" rx="8.8" ry="22.7" fill="#2d88bf"/>
<ellipse cx="1038.4" cy="194.4" rx="11.2" ry="16.0" fill="#357bb2"/>
<ellipse cx="882.7" cy="74.2" rx="8.4" ry="25.2" fill="#3a6ea4"/>
<ellipse cx="600.0" cy="94.2" rx="6.9" ry="17.0" fill="#2893c6"/>
<ellipse cx="1453.4" cy="194.4" rx="11.0" ry="32.7" fill="#3a6ea4"/>
<ellipse cx="1263.4" cy="204.5" rx="9.0" ry="32.0" fill="#357bb2"/>
<ellipse cx="391.3" cy="136.7" rx="11.7" ry="14.6" fill="#3a6ea4"/>
<ellipse cx="651.4" cy="105.7" rx="11.9" ry="22.3" fill="#357bb2"/>
<ellipse cx="1131.8" cy="136.8" rx="9.1" ry="29.1" fill="#2d88bf"/>
<ellipse cx="368.5" cy="175.8" rx="11.8" ry="30.7" fill="#2d88bf"/>
<ellipse cx="716.2" cy="94.1" rx="7.7" ry="32.0" fill="#3a6ea4"/>
<ellipse cx="932.1" cy="110.6" rx="9.7" ry="23.1" fill="#357bb2"/>
<ellipse cx="794.5" cy="91.5" rx="6.5" ry="23.0" fill="#357bb2"/>
<ellipse cx="694.4" cy="96.8" rx="9.6" ry="19.2" fill="#3a6ea4"/>
<ellipse cx="512.0" cy="96.0" rx="7.1" ry="20.6" fill="#2893c6"/>
<ellipse cx="536.4" cy="67.9" rx="6.7" ry="15.9" fill="#2893c6"/>
<ellipse cx="1224.1" cy="97.7" rx="6.5" ry="22.3" fill="#2d88bf"/>
<ellipse cx="371.0" cy="73.4" rx="10.8" ry="34.0" fill="#2d88bf"/>
<ellipse cx="1256.2" cy="174.1" rx="7.4" ry="29.8" fill="#2d88bf"/>
<ellipse cx="976.6" cy="197.0" rx="5.5" ry="33.5" fill="#3a6ea4"/>
<ellipse cx="349.0" cy="67.7" rx="11.7" ry="22.5" fill="#357bb2"/>
<ellipse cx="461.5" cy="92.2" rx="11.1" ry="33.2" fill="#357bb2"/>
<ellipse cx="705.6" cy="195.2" rx="6.0" ry="28.3" fill="#3a6ea4"/>
<ellipse cx="522.0" cy="82.3" rx="9.7" ry="31.7" fill="#2893c6"/>
<ellipse cx="1374.3" cy="157.9" rx="7.6" ry="28.5" fill="#2893c6"/>
<ellipse cx="1494.7" cy="166.0" rx="9.7" ry="16.5" fill="#2893c6"/>
<ellipse cx="621.9" cy="137.1" rx="10.7" ry="22.8" fill="#3a6ea4"/>
<ellipse cx="385.2" cy="94.7" rx="5.5" ry="20.2" fill="#27a0d0"/>
<ellipse cx="1434.0" cy="159.1" rx="6.3" ry="33.3" fill="#2d88bf"/>
<ellipse cx="879.9" cy="189.8" rx="9.2" ry="21.0" fill="#27a0d0"/>
<ellipse cx="885.8" cy="68.5" rx="6.0" ry="23.4" fill="#357bb2"/>
<ellipse cx="953.3" cy="103.0" rx="5.3" ry="22.0" fill="#3a6ea4"/>
<ellipse cx="314.8" cy="123.2" rx="11.7" ry="26.2" fill="#3a6ea4"/>
<ellipse cx="857.1" cy="88.9" rx="5.1" ry="20.1" fill="#3a6ea4"/>
<ellipse cx="1130.9" cy="98.6" rx="10.2" ry="17.3" fill="#357bb2"/>
<ellipse cx="999.6" cy="122.2" rx="8.8" ry="23.2" fill="#357bb2"/>
<ellipse cx="889.5" cy="159.2" rx="9.4" ry="31.8" fill="#3a6ea4"/>
<ellipse cx="1226.2" cy="195.6" rx="7.2" ry="25.1" fill="#2d88bf"/>
<ellipse cx="634.4" cy="76.8" rx="9.8" ry="20.9" fill="#357bb2"/>
<ellipse cx="1128.3" cy="157.1" rx="7.8" ry="24.0" fill="#27a0d0"/>
<ellipse cx="853.6" cy="75.8" rx="8.5" ry="23.6" fill="#3a6ea4"/>
<ellipse cx="629.6" cy="125.9" rx="5.6" ry="30.0" fill="#357bb2"/>
<ellipse cx="1266.5" cy="99.2" rx="11.3" ry="24.1" fill="#2893c6"/>
<ellipse cx="272.1" cy="129.0" rx="7.4" ry="15.8" fill="#3a6ea4"/>
<ellipse cx="215.9" cy="121.5" rx="6.0" ry="14.8" fill="#2d88bf"/>
<ellipse cx="254.0" cy="153.9" rx="9.6" ry="20.9" fill="#3a6ea4"/>
<ellipse cx="242.4" cy="145.3" rx="9.0" ry="14.3" fill="#2d88bf"/>
<ellipse cx="190.5" cy="116.4" rx="9.6" ry="12.3" fill="#3a6ea4"/>
<ellipse cx="235.6" cy="128.0" rx="8.2" ry="20.8" fill="#2d88bf"/>
<ellipse cx="270.4" cy="136.9" rx="5.3" ry="20.7" fill="#357bb2"/>
<ellipse cx="185.0" cy="118.7" rx="6.9" ry="15.3" fill="#3a6ea4"/>
<ellipse cx="240.2" cy="142.7" rx="9.9" ry="20.1" fill="#357bb2"/>
<ellipse cx="247.1" cy="138.1" rx="7.2" ry="17.3" fill="#2d88bf"/>
<ellipse cx="251.7" cy="148.6" rx="7.8" ry="24.3" fill="#3a6ea4"/>
<ellipse cx="269.4" cy="115.5" rx="8.6" ry="12.5" fill="#357bb2"/>
<ellipse cx="215.5" cy="153.9" rx="6.2" ry="20.0" fill="#357bb2"/>
<ellipse cx="240.2" cy="130.3" rx="6.6" ry="15.5" fill="#357bb2"/>
<ellipse cx="155.4" cy="117.6" rx="8.9" ry="13.3" fill="#2d88bf"/>
<ellipse cx="269.7" cy="150.5" rx="6.5" ry="24.4" fill="#3a6ea4"/>
<ellipse cx="190.5" cy="127.7" rx="5.3" ry="13.4" fill="#357bb2"/>
<ellipse cx="218.4" cy="128.9" rx="5.2" ry="23.2" fill="#3a6ea4"/>
<ellipse cx="158.4" cy="142.6" rx="7.6" ry="15.7" fill="#3a6ea4"/>
<ellipse cx="198.3" cy="126.1" rx="7.0" ry="16.4" fill="#2d88bf"/>
<ellipse cx="189.5" cy="147.9" rx="9.3" ry="18.9" fill="#357bb2"/>
<ellipse cx="203.7" cy="116.0" rx="7.4" ry="24.5" fill="#357bb2"/>
<ellipse cx="206.5" cy="128.3" rx="7.1" ry="20.2" fill="#3a6ea4"/>
<ellipse cx="269.4" cy="129.5" rx="9.7" ry="19.6" fill="#2d88bf"/>
<ellipse cx="278.7" cy="130.9" rx="5.9" ry="22.0" fill="#357bb2"/>
<ellipse cx="230.1" cy="113.4" rx="9.8" ry="22.2" fill="#3a6ea4"/>
<ellipse cx="244.3" cy="120.3" rx="8.8" ry="20.4" fill="#3a6ea4"/>
<ellipse cx="159.4" cy="107.1" rx="9.9" ry="24.4" fill="#357bb2"/>
<ellipse cx="273.2" cy="149.3" rx="5.3" ry="12.9" fill="#2d88bf"/>
<ellipse cx="211.0" cy="135.4" rx="9.3" ry="24.9" fill="#2d88bf"/>
<ellipse cx="224.8" cy="142.0" rx="7.0" ry="20.4" fill="#3a6ea4"/>
<ellipse cx="261.6" cy="124.9" rx="5.4" ry="19.3" fill="#357bb2"/>
<ellipse cx="159.0" cy="128.2" rx="5.1" ry="12.9" fill="#2d88bf"/>
<ellipse cx="244.8" cy="135.6" rx="6.0" ry="15.2" fill="#3a6ea4"/>
<ellipse cx="213.8" cy="134.0" rx="6.6" ry="24.8" fill="#357bb2"/>
<ellipse cx="194.6" cy="105.1" rx="9.2" ry="21.4" fill="#3a6ea4"/>
<ellipse cx="204.1" cy="124.3" rx="9.4" ry="15.3" fill="#357bb2"/>
<ellipse cx="241.9" cy="126.9" rx="6.8" ry="17.7" fill="#2d88bf"/>
<ellipse cx="207.3" cy="114.8" rx="5.1" ry="23.3" fill="#3a6ea4"/>
<ellipse cx="250.1" cy="127.2" rx="7.4" ry="23.4" fill="#2d88bf"/>
<ellipse cx="235.7" cy="138.6" rx="7.5" ry="22.4" fill="#2d88bf"/>
<ellipse cx="264.5" cy="107.8" rx="6.1" ry="15.0" fill="#3a6ea4"/>
<ellipse cx="272.6" cy="137.4" rx="8.3" ry="17.7" fill="#3a6ea4"/>
<ellipse cx="189.9" cy="134.6" rx="5.4" ry="19.6" fill="#3a6ea4"/>
<ellipse cx="195.4" cy="140.3" rx="5.1" ry="17.4" fill="#2d88bf"/>
<ellipse cx="185.0" cy="135.3" rx="6.1" ry="17.2" fill="#357bb2"/>
<ellipse cx="246.9" cy="126.1" rx="7.5" ry="12.7" fill="#357bb2"/>
<ellipse cx="258.3" cy="124.0" rx="8.0" ry="21.3" fill="#2d88bf"/>
<ellipse cx="246.8" cy="133.5" rx="6.3" ry="21.2" fill="#3a6ea4"/>
<ellipse cx="203.8" cy="112.0" rx="5.1" ry="21.8" fill="#3a6ea4"/>
<ellipse cx="193.2" cy="141.1" rx="9.8" ry="15.6" fill="#3a6ea4"/>
<ellipse cx="195.6" cy="152.6" rx="6.6" ry="24.0" fill="#2d88bf"/>
<ellipse cx="236.2" cy="118.7" rx="9.0" ry="17.5" fill="#357bb2"/>
<ellipse cx="164.5" cy="106.5" rx="7.3" ry="19.2" fill="#2d88bf"/>
<ellipse cx="224.3" cy="152.6" rx="6.8" ry="21.9" fill="#357bb2"/>
<ellipse cx="153.1" cy="131.8" rx="5.8" ry="16.7" fill="#357bb2"/>
<ellipse cx="200.3" cy="118.0" rx="6.8" ry="19.0" fill="#357bb2"/>
<ellipse cx="220.5" cy="124.3" rx="7.0" ry="22.2" fill="#3a6ea4"/>
<ellipse cx="262.8" cy="151.6" rx="6.2" ry="14.3" fill="#357bb2"/>
<ellipse cx="267.6" cy="136.5" rx="5.1" ry="14.5" fill="#357bb2"/>
<path d="M279.0,220.0 L279.0,165.0 L283.0,190.0 L290.0,197.0 L300.0,200.0 L342.0,202.0 L400.0,205.0 L500.0,208.0 L560.0,210.0 L600.0,211.0 L700.0,212.0 L800.0,213.0 L900.0,212.0 L1000.0,210.0 L1060.0,205.0 L1100.0,204.0 L1200.0,200.0 L1300.0,195.0 L1400.0,188.0 L1496.0,184.0 L1498.0,178.0 L1505.0,170.0 L1520.0,163.0 L1524.0,140.0 L1520.0,118.0 L1510.0,108.0 L1499.0,100.0 L1499.0,63.0 L1566.0,63.0 L1566.0,220.0Z" fill="#1a1a1a" />
<path d="M940.0,168.0 L980.0,152.0 L1100.0,148.0 L1190.0,150.0 L1200.0,166.0 L1196.0,200.0 L950.0,208.0Z" fill="#2aa6d6" />
<path d="M342.0,170.0 L360.0,167.0 L420.0,166.0 L470.0,168.0 L520.0,166.0 L558.0,168.0 L560.0,209.0 L500.0,207.0 L400.0,204.0 L342.0,201.0Z" fill="#40bb28" />
<path d="M560.0,186.0 L600.0,184.0 L700.0,185.0 L762.0,184.0 L765.0,212.0 L700.0,211.0 L600.0,210.0 L560.0,209.0Z" fill="#40bb28" />
<path d="M954.0,172.0 L990.0,168.0 L1050.0,167.0 L1120.0,168.0 L1196.0,167.0 L1196.0,200.0 L1100.0,203.0 L1060.0,204.0 L1000.0,208.0 L954.0,208.0Z" fill="#40bb28" />
<ellipse cx="700.5" cy="204.9" rx="4.1" ry="12.3" fill="#40bb28"/>
<ellipse cx="737.4" cy="201.4" rx="3.1" ry="14.3" fill="#4ad832"/>
<ellipse cx="1040.9" cy="177.6" rx="6.1" ry="7.4" fill="#40bb28"/>
<ellipse cx="512.2" cy="197.5" rx="6.4" ry="7.5" fill="#40bb28"/>
<ellipse cx="630.3" cy="205.2" rx="4.1" ry="9.3" fill="#309420"/>
<ellipse cx="1159.7" cy="172.1" rx="7.2" ry="10.9" fill="#4ad832"/>
<ellipse cx="625.5" cy="199.2" rx="7.3" ry="6.6" fill="#4ad832"/>
<ellipse cx="1102.7" cy="179.3" rx="6.3" ry="12.3" fill="#40bb28"/>
<ellipse cx="353.6" cy="180.7" rx="4.8" ry="8.2" fill="#40bb28"/>
<ellipse cx="563.0" cy="199.0" rx="4.3" ry="7.0" fill="#4ad832"/>
<ellipse cx="1029.5" cy="197.2" rx="5.2" ry="12.5" fill="#309420"/>
<ellipse cx="638.8" cy="195.8" rx="5.9" ry="15.0" fill="#309420"/>
<ellipse cx="1048.8" cy="197.1" rx="6.1" ry="8.6" fill="#309420"/>
<ellipse cx="746.4" cy="201.2" rx="6.7" ry="10.1" fill="#2a801e"/>
<ellipse cx="1094.4" cy="201.2" rx="7.2" ry="6.7" fill="#309420"/>
<ellipse cx="1057.2" cy="180.5" rx="7.3" ry="10.7" fill="#4ad832"/>
<ellipse cx="582.8" cy="201.7" rx="6.8" ry="10.0" fill="#2a801e"/>
<ellipse cx="967.5" cy="175.9" rx="5.3" ry="14.1" fill="#2a801e"/>
<ellipse cx="650.3" cy="207.8" rx="7.6" ry="11.5" fill="#4ad832"/>
<ellipse cx="389.5" cy="177.3" rx="4.6" ry="7.6" fill="#4ad832"/>
<ellipse cx="455.0" cy="194.4" rx="6.6" ry="12.8" fill="#4ad832"/>
<ellipse cx="416.3" cy="189.0" rx="6.7" ry="14.0" fill="#40bb28"/>
<ellipse cx="742.1" cy="200.0" rx="6.1" ry="14.4" fill="#4ad832"/>
<ellipse cx="1166.7" cy="178.6" rx="6.6" ry="7.7" fill="#2a801e"/>
<ellipse cx="567.1" cy="206.2" rx="6.4" ry="6.6" fill="#309420"/>
<ellipse cx="1180.5" cy="193.8" rx="7.9" ry="12.0" fill="#2a801e"/>
<ellipse cx="624.6" cy="196.8" rx="4.9" ry="10.8" fill="#4ad832"/>
<ellipse cx="1101.4" cy="181.2" rx="3.7" ry="11.3" fill="#4ad832"/>
<ellipse cx="1074.9" cy="189.2" rx="4.2" ry="7.7" fill="#4ad832"/>
<ellipse cx="358.9" cy="181.5" rx="4.1" ry="9.9" fill="#2a801e"/>
<ellipse cx="503.1" cy="180.5" rx="3.3" ry="8.5" fill="#4ad832"/>
<ellipse cx="565.7" cy="189.2" rx="6.6" ry="7.2" fill="#40bb28"/>
<ellipse cx="471.9" cy="176.9" rx="3.9" ry="10.1" fill="#2a801e"/>
<ellipse cx="385.3" cy="194.8" rx="7.0" ry="9.7" fill="#2a801e"/>
<ellipse cx="662.6" cy="192.8" rx="7.9" ry="6.3" fill="#40bb28"/>
<ellipse cx="645.4" cy="192.4" rx="4.4" ry="12.0" fill="#309420"/>
<ellipse cx="1044.0" cy="173.7" rx="6.3" ry="8.4" fill="#40bb28"/>
<ellipse cx="1143.8" cy="194.9" rx="6.2" ry="11.7" fill="#40bb28"/>
<ellipse cx="1191.1" cy="184.1" rx="6.4" ry="11.3" fill="#4ad832"/>
<ellipse cx="536.0" cy="195.2" rx="6.3" ry="14.6" fill="#309420"/>
<ellipse cx="975.8" cy="172.1" rx="6.1" ry="8.5" fill="#40bb28"/>
<ellipse cx="1018.8" cy="199.1" rx="7.9" ry="8.4" fill="#40bb28"/>
<ellipse cx="682.3" cy="190.4" rx="5.8" ry="9.1" fill="#4ad832"/>
<ellipse cx="1105.8" cy="179.4" rx="8.0" ry="11.7" fill="#4ad832"/>
<ellipse cx="435.1" cy="191.7" rx="7.3" ry="14.4" fill="#2a801e"/>
<ellipse cx="1012.4" cy="195.2" rx="5.3" ry="12.2" fill="#309420"/>
<ellipse cx="539.6" cy="188.5" rx="3.8" ry="6.3" fill="#2a801e"/>
<ellipse cx="1001.1" cy="192.9" rx="7.8" ry="6.5" fill="#4ad832"/>
<ellipse cx="588.1" cy="201.0" rx="5.7" ry="13.7" fill="#40bb28"/>
<ellipse cx="571.6" cy="191.0" rx="3.1" ry="7.5" fill="#4ad832"/>
<ellipse cx="976.6" cy="198.0" rx="4.7" ry="7.1" fill="#40bb28"/>
<ellipse cx="532.9" cy="190.3" rx="7.9" ry="8.6" fill="#40bb28"/>
<ellipse cx="654.6" cy="204.7" rx="5.4" ry="14.2" fill="#309420"/>
<ellipse cx="985.8" cy="182.4" rx="3.5" ry="14.6" fill="#40bb28"/>
<ellipse cx="682.9" cy="194.7" rx="7.6" ry="10.4" fill="#2a801e"/>
<ellipse cx="489.4" cy="171.4" rx="5.0" ry="6.7" fill="#309420"/>
<ellipse cx="437.9" cy="192.9" rx="5.2" ry="8.7" fill="#40bb28"/>
<ellipse cx="424.9" cy="196.6" rx="5.4" ry="7.2" fill="#309420"/>
<ellipse cx="1131.6" cy="193.0" rx="4.1" ry="10.0" fill="#4ad832"/>
<ellipse cx="965.8" cy="174.9" rx="6.9" ry="7.0" fill="#4ad832"/>
<ellipse cx="552.8" cy="194.9" rx="7.6" ry="7.6" fill="#2a801e"/>
<ellipse cx="1004.4" cy="202.6" rx="5.1" ry="7.4" fill="#2a801e"/>
<ellipse cx="475.5" cy="194.5" rx="4.2" ry="13.6" fill="#4ad832"/>
<ellipse cx="1014.2" cy="187.6" rx="7.4" ry="11.4" fill="#40bb28"/>
<ellipse cx="1055.7" cy="201.9" rx="4.1" ry="6.6" fill="#4ad832"/>
<ellipse cx="594.3" cy="204.6" rx="5.4" ry="7.8" fill="#4ad832"/>
<ellipse cx="380.0" cy="172.7" rx="5.5" ry="10.7" fill="#4ad832"/>
<ellipse cx="513.3" cy="189.5" rx="4.9" ry="9.7" fill="#40bb28"/>
<ellipse cx="1066.7" cy="198.8" rx="7.0" ry="12.1" fill="#40bb28"/>
<ellipse cx="689.8" cy="198.5" rx="7.8" ry="7.6" fill="#40bb28"/>
<ellipse cx="1123.3" cy="188.1" rx="6.1" ry="10.8" fill="#2a801e"/>
<ellipse cx="737.3" cy="206.7" rx="7.0" ry="14.4" fill="#40bb28"/>
<ellipse cx="1004.7" cy="197.3" rx="4.6" ry="7.7" fill="#4ad832"/>
<ellipse cx="1135.2" cy="170.5" rx="5.3" ry="11.4" fill="#40bb28"/>
<ellipse cx="664.3" cy="207.4" rx="4.8" ry="14.3" fill="#4ad832"/>
<ellipse cx="368.7" cy="186.7" rx="3.5" ry="6.8" fill="#2a801e"/>
<ellipse cx="620.4" cy="205.7" rx="7.8" ry="12.8" fill="#4ad832"/>
<ellipse cx="444.2" cy="185.6" rx="7.4" ry="13.3" fill="#4ad832"/>
<ellipse cx="465.1" cy="194.5" rx="6.7" ry="13.8" fill="#40bb28"/>
<ellipse cx="994.9" cy="179.5" rx="6.9" ry="9.0" fill="#40bb28"/>
<ellipse cx="515.6" cy="197.1" rx="4.1" ry="9.1" fill="#4ad832"/>
<ellipse cx="1033.5" cy="176.9" rx="5.3" ry="8.3" fill="#2a801e"/>
<ellipse cx="1001.8" cy="188.3" rx="5.4" ry="14.7" fill="#309420"/>
<ellipse cx="992.4" cy="203.2" rx="3.9" ry="12.8" fill="#2a801e"/>
<ellipse cx="544.4" cy="182.8" rx="7.6" ry="6.8" fill="#4ad832"/>
<ellipse cx="444.3" cy="178.5" rx="7.2" ry="10.8" fill="#40bb28"/>
<ellipse cx="652.3" cy="203.5" rx="5.5" ry="14.6" fill="#40bb28"/>
<ellipse cx="991.3" cy="183.2" rx="4.8" ry="6.3" fill="#4ad832"/>
<ellipse cx="695.1" cy="186.7" rx="4.6" ry="9.3" fill="#40bb28"/>
<ellipse cx="1120.1" cy="183.0" rx="3.9" ry="6.9" fill="#4ad832"/>
<ellipse cx="437.9" cy="176.0" rx="4.9" ry="10.2" fill="#4ad832"/>
<ellipse cx="621.2" cy="188.0" rx="3.5" ry="14.7" fill="#4ad832"/>
<ellipse cx="540.7" cy="175.1" rx="8.0" ry="7.8" fill="#309420"/>
<ellipse cx="1061.0" cy="193.1" rx="4.0" ry="14.1" fill="#4ad832"/>
<ellipse cx="619.7" cy="194.8" rx="3.4" ry="13.7" fill="#2a801e"/>
<ellipse cx="609.6" cy="195.6" rx="5.5" ry="13.0" fill="#40bb28"/>
<ellipse cx="1050.8" cy="188.3" rx="4.8" ry="10.1" fill="#4ad832"/>
<ellipse cx="659.3" cy="199.7" rx="3.0" ry="12.8" fill="#309420"/>
<ellipse cx="366.8" cy="192.0" rx="3.1" ry="6.1" fill="#4ad832"/>
<ellipse cx="978.5" cy="192.2" rx="3.5" ry="9.5" fill="#40bb28"/>
<ellipse cx="1156.2" cy="174.8" rx="4.5" ry="14.6" fill="#4ad832"/>
<ellipse cx="522.6" cy="195.0" rx="7.1" ry="10.8" fill="#4ad832"/>
<ellipse cx="570.0" cy="186.2" rx="5.9" ry="14.1" fill="#40bb28"/>
<ellipse cx="1072.4" cy="191.5" rx="7.1" ry="9.9" fill="#40bb28"/>
<ellipse cx="708.1" cy="207.1" rx="5.0" ry="10.2" fill="#4ad832"/>
<ellipse cx="701.5" cy="196.5" rx="4.7" ry="6.9" fill="#2a801e"/>
<ellipse cx="585.1" cy="198.2" rx="5.5" ry="7.6" fill="#2a801e"/>
<ellipse cx="1059.3" cy="180.6" rx="3.1" ry="12.6" fill="#4ad832"/>
<ellipse cx="1065.3" cy="186.4" rx="6.5" ry="11.9" fill="#40bb28"/>
<ellipse cx="409.5" cy="199.7" rx="7.8" ry="14.5" fill="#309420"/>
<ellipse cx="583.9" cy="198.1" rx="5.2" ry="8.5" fill="#4ad832"/>
<ellipse cx="1139.7" cy="195.9" rx="7.8" ry="11.4" fill="#40bb28"/>
<ellipse cx="502.2" cy="175.2" rx="6.7" ry="7.0" fill="#4ad832"/>
<ellipse cx="729.9" cy="198.5" rx="3.4" ry="12.6" fill="#4ad832"/>
<ellipse cx="572.4" cy="187.0" rx="5.9" ry="12.2" fill="#309420"/>
<ellipse cx="1043.0" cy="203.5" rx="6.8" ry="9.4" fill="#2a801e"/>
<ellipse cx="1063.2" cy="197.9" rx="6.6" ry="7.4" fill="#2a801e"/>
<ellipse cx="728.7" cy="204.0" rx="6.0" ry="7.2" fill="#4ad832"/>
<ellipse cx="702.7" cy="199.5" rx="4.8" ry="9.1" fill="#4ad832"/>
<ellipse cx="1159.6" cy="201.0" rx="6.3" ry="11.5" fill="#4ad832"/>
<ellipse cx="724.1" cy="203.1" rx="6.0" ry="11.4" fill="#309420"/>
<ellipse cx="528.4" cy="189.3" rx="4.6" ry="10.4" fill="#2a801e"/>
<ellipse cx="470.2" cy="183.9" rx="7.5" ry="9.6" fill="#4ad832"/>
<ellipse cx="968.7" cy="183.4" rx="4.4" ry="12.2" fill="#4ad832"/>
<ellipse cx="466.4" cy="187.9" rx="5.1" ry="13.2" fill="#40bb28"/>
<ellipse cx="698.1" cy="191.0" rx="3.1" ry="8.7" fill="#40bb28"/>
<ellipse cx="1102.0" cy="188.2" rx="3.3" ry="9.1" fill="#40bb28"/>
<ellipse cx="1148.3" cy="174.5" rx="4.6" ry="9.4" fill="#40bb28"/>
<ellipse cx="1157.3" cy="196.4" rx="3.8" ry="11.1" fill="#4ad832"/>
<ellipse cx="653.6" cy="197.2" rx="4.3" ry="14.8" fill="#2a801e"/>
<ellipse cx="519.6" cy="176.5" rx="4.5" ry="11.5" fill="#40bb28"/>
<ellipse cx="525.0" cy="196.7" rx="7.6" ry="8.3" fill="#40bb28"/>
<ellipse cx="361.4" cy="185.4" rx="6.4" ry="8.0" fill="#4ad832"/>
<ellipse cx="985.8" cy="186.9" rx="5.2" ry="6.3" fill="#40bb28"/>
<ellipse cx="1177.9" cy="204.0" rx="4.6" ry="7.6" fill="#2a801e"/>
<ellipse cx="715.9" cy="197.3" rx="7.2" ry="13.8" fill="#40bb28"/>
<ellipse cx="417.5" cy="197.6" rx="3.5" ry="6.8" fill="#4ad832"/>
<ellipse cx="1173.3" cy="190.8" rx="6.1" ry="14.6" fill="#40bb28"/>
<ellipse cx="400.7" cy="174.8" rx="5.9" ry="9.7" fill="#4ad832"/>
<ellipse cx="1154.2" cy="184.6" rx="5.3" ry="9.2" fill="#4ad832"/>
<ellipse cx="785.0" cy="203.4" rx="3.2" ry="8.5" fill="#4ad832"/>
<ellipse cx="800.0" cy="196.2" rx="5.6" ry="9.0" fill="#4ad832"/>
<ellipse cx="812.0" cy="195.2" rx="3.5" ry="9.8" fill="#4ad832"/>
<ellipse cx="830.0" cy="204.0" rx="4.6" ry="5.3" fill="#40bb28"/>
<ellipse cx="860.0" cy="203.1" rx="3.6" ry="5.9" fill="#4ad832"/>
<ellipse cx="880.0" cy="192.0" rx="5.8" ry="9.3" fill="#40bb28"/>
<ellipse cx="905.0" cy="192.6" rx="5.8" ry="6.2" fill="#4ad832"/>
<ellipse cx="925.0" cy="193.3" rx="4.6" ry="5.3" fill="#40bb28"/>
<ellipse cx="945.0" cy="193.3" rx="5.2" ry="7.2" fill="#4ad832"/>
<ellipse cx="424.0" cy="190.0" rx="3.5" ry="10.0" fill="#e0dd3a"/>
<ellipse cx="440.5" cy="191.0" rx="3.5" ry="10.0" fill="#e0dd3a"/>
<ellipse cx="512.5" cy="191.0" rx="3.5" ry="9.0" fill="#e0dd3a"/>
<ellipse cx="1006.6" cy="197.0" rx="3.0" ry="8.0" fill="#e0dd3a"/>
<ellipse cx="632.8" cy="199.5" rx="2.7" ry="3.0" fill="#e0dd3a"/>
<ellipse cx="680.9" cy="200.8" rx="2.6" ry="5.8" fill="#e0dd3a"/>
<ellipse cx="702.6" cy="198.0" rx="1.8" ry="4.4" fill="#e0dd3a"/>
<ellipse cx="638.6" cy="201.0" rx="1.6" ry="5.1" fill="#e0dd3a"/>
<ellipse cx="659.6" cy="196.4" rx="1.7" ry="5.8" fill="#e0dd3a"/>
<ellipse cx="726.6" cy="203.9" rx="2.1" ry="6.0" fill="#e0dd3a"/>
<ellipse cx="621.4" cy="202.5" rx="2.9" ry="3.6" fill="#e0dd3a"/>
<ellipse cx="595.7" cy="197.1" rx="1.6" ry="5.4" fill="#e0dd3a"/>
<ellipse cx="689.0" cy="200.3" rx="1.7" ry="4.9" fill="#e0dd3a"/>
<ellipse cx="616.2" cy="197.2" rx="2.4" ry="4.9" fill="#e0dd3a"/>
<ellipse cx="719.1" cy="203.4" rx="1.7" ry="3.9" fill="#e0dd3a"/>
<ellipse cx="617.3" cy="200.4" rx="1.5" ry="5.6" fill="#e0dd3a"/>
<ellipse cx="700.7" cy="203.3" rx="2.2" ry="5.7" fill="#e0dd3a"/>
<ellipse cx="724.4" cy="203.5" rx="2.7" ry="3.6" fill="#e0dd3a"/>
<ellipse cx="648.5" cy="196.5" rx="2.6" ry="4.4" fill="#e0dd3a"/>
<ellipse cx="747.9" cy="198.6" rx="2.1" ry="5.6" fill="#e0dd3a"/>
<ellipse cx="745.2" cy="202.8" rx="2.8" ry="5.8" fill="#e0dd3a"/>
<ellipse cx="637.1" cy="201.6" rx="1.6" ry="5.0" fill="#e0dd3a"/>
<ellipse cx="742.6" cy="200.6" rx="1.7" ry="4.7" fill="#e0dd3a"/>
<ellipse cx="605.1" cy="200.2" rx="1.6" ry="4.3" fill="#e0dd3a"/>
<ellipse cx="721.8" cy="202.7" rx="2.8" ry="4.4" fill="#e0dd3a"/>
<ellipse cx="663.4" cy="196.5" rx="2.7" ry="4.7" fill="#e0dd3a"/>
<ellipse cx="658.2" cy="197.3" rx="2.2" ry="3.2" fill="#e0dd3a"/>
<ellipse cx="613.6" cy="196.7" rx="2.1" ry="3.4" fill="#e0dd3a"/>
<ellipse cx="723.2" cy="201.5" rx="2.8" ry="4.7" fill="#e0dd3a"/>
<ellipse cx="619.7" cy="198.5" rx="2.8" ry="4.8" fill="#e0dd3a"/>
<ellipse cx="285.7" cy="81.0" rx="6.0" ry="19.0" fill="#4ad832"/>
<ellipse cx="452.0" cy="127.0" rx="7.0" ry="25.0" fill="#40bb28"/>
<ellipse cx="462.0" cy="157.0" rx="6.0" ry="21.0" fill="#4ad832"/>
<ellipse cx="499.0" cy="91.0" rx="7.0" ry="25.0" fill="#4ad832"/>
<ellipse cx="576.6" cy="167.0" rx="4.0" ry="14.0" fill="#4ad832"/>
<path d="M771.0,63.0 L782.0,63.0 L788.0,80.0 L793.0,100.0 L797.0,115.0 L796.0,140.0 L795.0,160.0 L791.0,160.0 L789.0,140.0 L786.0,120.0 L785.0,100.0 L778.0,80.0Z" fill="#1a1a1a" />
<path d="M783.0,112.0 L790.0,120.0 L792.0,140.0 L788.0,152.0 L782.0,140.0 L780.0,125.0Z" fill="#1a1a1a" />
<path fill="#1a1a1a" d="M1052 128l2 0l-1 4h-2zM1163 159l4 0l-4 5h-4zM1003 105l5 0l-2 4h-5zM699 67l4 0l-3 9h-4zM699 122l2 0l3 7h-2zM1108 92l4 0l2 5h-4zM835 152l4 0l-1 9h-4zM1224 123l2 0l-2 8h-2zM753 68l4 0l-3 5h-4zM1125 78l4 0l-1 5h-4zM1212 148l4 0l1 10h-4zM1214 127l4 0l-1 5h-4zM1009 89l4 0l2 9h-4zM816 67l3 0l3 6h-3zM996 116l4 0l1 7h-4zM1002 120l2 0l-0 4h-2zM1186 160l3 0l0 7h-3zM944 82l4 0l-2 4h-4zM846 85l2 0l0 4h-2zM786 129l4 0l-0 7h-4zM1033 94l3 0l-2 8h-3zM1101 123l5 0l0 7h-5zM1120 93l3 0l2 6h-3zM1093 83l5 0l-0 10h-5zM1247 127l3 0l-4 4h-3zM1021 137l4 0l-1 8h-4zM1106 125l4 0l1 7h-4zM1004 73l4 0l-1 8h-4zM1233 113l2 0l-1 7h-2zM783 154l2 0l-3 8h-2zM980 165l2 0l-4 9h-2zM1237 156l3 0l-0 7h-3zM782 100l3 0l-3 9h-3zM992 112l3 0l1 9h-3zM871 160l4 0l0 5h-4zM1176 69l4 0l-2 6h-4zM779 87l3 0l1 6h-3zM841 127l3 0l2 9h-3zM823 163l3 0l-2 5h-3zM1089 108l4 0l3 5h-4zM838 152l3 0l1 6h-3zM983 119l3 0l2 10h-3zM742 164l2 0l3 3h-2zM844 67l2 0l3 6h-2zM701 81l2 0l-1 3h-2zM965 162l4 0l1 9h-4zM1200 132l2 0l-0 6h-2zM752 157l3 0l-0 4h-3zM1141 92l4 0l-2 4h-4zM795 115l4 0l2 5h-4zM1018 140l5 0l4 5h-5zM945 115l2 0l1 4h-2zM748 68l2 0l-2 7h-2zM837 141l3 0l1 4h-3zM1247 127l3 0l2 7h-3zM1159 143l2 0l-3 8h-2zM762 115l2 0l-2 7h-2zM1218 108l4 0l-0 10h-4zM1120 114l3 0l1 4h-3zM1206 133l3 0l-1 7h-3zM909 142l2 0l0 6h-2zM772 138l2 0l-2 6h-2zM1025 108l4 0l2 6h-4zM999 75l3 0l-2 5h-3zM1221 112l4 0l1 4h-4zM756 86l2 0l3 3h-2zM1230 101l2 0l1 8h-2zM715 141l2 0l2 5h-2zM1120 88l3 0l1 9h-3zM984 83l2 0l0 4h-2zM1024 110l4 0l1 7h-4zM920 149l3 0l4 9h-3zM1154 142l4 0l-2 7h-4zM747 131l2 0l0 7h-2zM1030 107l2 0l2 5h-2zM1186 96l3 0l-1 6h-3zM1044 140l4 0l2 9h-4zM1234 109l3 0l-1 8h-3zM1154 106l3 0l-1 7h-3zM696 92l3 0l-3 10h-3zM1196 162l4 0l-4 5h-4zM1183 71l3 0l1 10h-3zM1151 148l2 0l-3 7h-2zM902 114l4 0l1 5h-4zM769 90l2 0l1 7h-2zM1089 106l5 0l1 8h-5zM1179 82l3 0l1 7h-3zM1225 133l2 0l-0 10h-2zM805 141l4 0l0 9h-4zM833 112l3 0l1 5h-3zM774 90l2 0l0 3h-2zM1103 105l5 0l1 7h-5zM850 155l3 0l-2 9h-3zM1223 133l2 0l-3 8h-2zM906 102l3 0l-3 6h-3zM914 73l4 0l2 5h-4zM930 162l5 0l3 8h-5zM1202 158l3 0l-3 7h-3zM894 97l4 0l2 3h-4zM732 107l3 0l1 9h-3zM773 131l2 0l-1 7h-2zM1225 109l2 0l4 5h-2zM885 89l3 0l4 8h-3zM735 97l4 0l2 6h-4zM1068 73l2 0l-2 4h-2zM792 93l2 0l0 3h-2zM1114 80l2 0l-3 8h-2zM768 114l3 0l0 8h-3zM983 102l2 0l-1 9h-2zM1153 75l3 0l-3 7h-3zM732 158l5 0l0 10h-5zM1100 125l3 0l1 4h-3zM938 133l2 0l-3 5h-2zM1117 112l3 0l0 8h-3zM853 104l2 0l-4 3h-2zM1229 153l3 0l0 10h-3zM1072 75l3 0l-1 7h-3zM1056 99l4 0l-0 4h-4zM930 117l2 0l2 5h-2zM783 112l5 0l2 7h-5zM1122 162l3 0l2 6h-3zM704 111l2 0l2 7h-2zM1172 115l4 0l1 4h-4zM1211 126l3 0l-1 7h-3zM790 84l4 0l-4 7h-4zM1034 148l4 0l4 4h-4zM792 115l3 0l-2 4h-3zM794 81l2 0l1 8h-2zM831 160l3 0l3 6h-3zM1053 111l4 0l-2 8h-4zM729 138l4 0l-3 7h-4zM1107 82l4 0l1 7h-4zM732 101l4 0l-4 4h-4zM921 150l4 0l-3 5h-4zM1159 149l4 0l2 4h-4zM695 81l3 0l-4 10h-3zM780 138l4 0l-3 5h-4zM1168 162l5 0l-3 7h-5zM1104 130l4 0l0 8h-4zM1237 111l3 0l2 7h-3z"/>
<path d="M1345.0,90.0 L1380.0,80.0 L1410.0,72.0 L1440.0,66.0 L1455.0,63.0 L1462.0,66.0 L1440.0,78.0 L1410.0,88.0 L1380.0,98.0 L1350.0,100.0Z" fill="#1a1a1a" />
<path d="M1490.0,137.0 L1505.0,136.0 L1506.0,142.0 L1492.0,144.0Z" fill="#1a1a1a" />
<path d="M267.4,116.4 L278.7,124.9 L290.0,127.7 L301.2,123.5 L315.4,99.5 L318.2,124.9 L332.3,130.6 L335.1,150.3 L323.8,144.7 L312.5,141.9 L304.1,150.3 L290.0,136.2 L281.5,141.9 L273.0,130.6Z" fill="#1a1a1a" />
<rect x="1101" y="159" width="3" height="11" fill="#1a1a1a"/>
<rect x="1368" y="100" width="2" height="8" fill="#1a1a1a"/>
<rect x="1130" y="161" width="4" height="10" fill="#1a1a1a"/>
<rect x="1259" y="82" width="5" height="7" fill="#1a1a1a"/>
<rect x="759" y="92" width="3" height="10" fill="#1a1a1a"/>
<rect x="1068" y="97" width="2" height="10" fill="#1a1a1a"/>
<rect x="1254" y="149" width="5" height="4" fill="#1a1a1a"/>
<rect x="819" y="111" width="3" height="10" fill="#1a1a1a"/>
<rect x="748" y="66" width="4" height="3" fill="#1a1a1a"/>
<rect x="586" y="126" width="4" height="8" fill="#1a1a1a"/>
<rect x="625" y="121" width="4" height="6" fill="#1a1a1a"/>
<rect x="765" y="81" width="4" height="6" fill="#1a1a1a"/>
<rect x="1099" y="132" width="3" height="8" fill="#1a1a1a"/>
<rect x="798" y="140" width="3" height="8" fill="#1a1a1a"/>
<rect x="1237" y="145" width="4" height="11" fill="#1a1a1a"/>
<rect x="1467" y="144" width="3" height="5" fill="#1a1a1a"/>
<rect x="1136" y="78" width="3" height="4" fill="#1a1a1a"/>
<rect x="1159" y="104" width="6" height="10" fill="#1a1a1a"/>
<rect x="1049" y="99" width="3" height="3" fill="#1a1a1a"/>
<rect x="662" y="152" width="3" height="3" fill="#1a1a1a"/>
<rect x="1462" y="103" width="5" height="7" fill="#1a1a1a"/>
<rect x="1451" y="73" width="4" height="9" fill="#1a1a1a"/>
<rect x="582" y="157" width="3" height="9" fill="#1a1a1a"/>
<rect x="633" y="73" width="2" height="10" fill="#1a1a1a"/>
<rect x="1427" y="157" width="4" height="4" fill="#1a1a1a"/>
<rect x="1275" y="116" width="5" height="9" fill="#1a1a1a"/>
<rect x="1081" y="82" width="3" height="4" fill="#1a1a1a"/>
<rect x="958" y="94" width="6" height="3" fill="#1a1a1a"/>
<rect x="1258" y="77" width="2" height="11" fill="#1a1a1a"/>
<rect x="762" y="124" width="4" height="7" fill="#1a1a1a"/>
<rect x="882" y="79" width="5" height="6" fill="#1a1a1a"/>
<rect x="1113" y="147" width="2" height="7" fill="#1a1a1a"/>
<rect x="885" y="158" width="4" height="5" fill="#1a1a1a"/>
<rect x="982" y="66" width="4" height="4" fill="#1a1a1a"/>
<rect x="687" y="116" width="4" height="5" fill="#1a1a1a"/>
<rect x="1097" y="96" width="5" height="3" fill="#1a1a1a"/>
<rect x="1334" y="110" width="3" height="6" fill="#1a1a1a"/>
<rect x="1138" y="75" width="6" height="5" fill="#1a1a1a"/>
<rect x="938" y="72" width="4" height="12" fill="#1a1a1a"/>
<rect x="732" y="83" width="4" height="9" fill="#1a1a1a"/>
<rect x="692" y="87" width="4" height="5" fill="#1a1a1a"/>
<rect x="585" y="134" width="5" height="10" fill="#1a1a1a"/>
<rect x="1347" y="86" width="3" height="8" fill="#1a1a1a"/>
<rect x="1127" y="128" width="4" height="5" fill="#1a1a1a"/>
<rect x="779" y="73" width="2" height="8" fill="#1a1a1a"/>
</g>
<g clip-path="url(#mapclip)">
<clipPath id="radclip"><circle cx="792.4" cy="988.5" r="740"/></clipPath><g clip-path="url(#radclip)"><path d="M305.0,1241.5 L329.6,1225.0 L386.8,1229.3 L427.7,1225.2 L468.5,1221.0 L509.4,1200.7 L542.0,1188.4 L583.0,1172.0 L611.6,1165.0 L650.0,1185.0 L700.0,1192.0 L760.0,1212.0 L800.0,1245.0 L835.0,1262.0 L862.0,1266.7 L943.8,1266.7 L984.8,1274.8 L1025.7,1291.0 L1066.6,1299.4 L1107.6,1307.6 L1148.6,1320.0 L1169.0,1328.0 L1189.5,1348.6 L1197.7,1373.0 L1181.3,1405.9 L1140.0,1402.0 L1066.6,1430.5 L1042.0,1430.5 L1009.0,1410.0 L964.0,1389.5 L903.0,1381.0 L841.4,1385.4 L780.0,1389.5 L713.7,1372.3 L672.9,1364.0 L623.8,1372.3 L591.0,1372.3 L550.3,1380.5 L509.4,1380.5 L468.5,1372.3 L427.7,1364.0 L386.8,1364.0 L346.0,1372.3 L321.4,1396.8 L301.0,1380.5 L288.7,1347.8 L301.0,1307.0 L305.0,1274.0Z" fill="#2a8fc6" />
<clipPath id="c2368331"><path d="M305.0,1241.5 L329.6,1225.0 L386.8,1229.3 L427.7,1225.2 L468.5,1221.0 L509.4,1200.7 L542.0,1188.4 L583.0,1172.0 L611.6,1165.0 L650.0,1185.0 L700.0,1192.0 L760.0,1212.0 L800.0,1245.0 L835.0,1262.0 L862.0,1266.7 L943.8,1266.7 L984.8,1274.8 L1025.7,1291.0 L1066.6,1299.4 L1107.6,1307.6 L1148.6,1320.0 L1169.0,1328.0 L1189.5,1348.6 L1197.7,1373.0 L1181.3,1405.9 L1140.0,1402.0 L1066.6,1430.5 L1042.0,1430.5 L1009.0,1410.0 L964.0,1389.5 L903.0,1381.0 L841.4,1385.4 L780.0,1389.5 L713.7,1372.3 L672.9,1364.0 L623.8,1372.3 L591.0,1372.3 L550.3,1380.5 L509.4,1380.5 L468.5,1372.3 L427.7,1364.0 L386.8,1364.0 L346.0,1372.3 L321.4,1396.8 L301.0,1380.5 L288.7,1347.8 L301.0,1307.0 L305.0,1274.0Z"/></clipPath><g clip-path="url(#c2368331)"><rect x="839" y="1412" width="9" height="10" fill="#357bb2"/><rect x="1124" y="1313" width="10" height="11" fill="#3a6ea4"/><rect x="866" y="1239" width="8" height="12" fill="#29acd9"/><rect x="687" y="1353" width="9" height="8" fill="#2893c6"/><rect x="543" y="1283" width="8" height="8" fill="#2d88bf"/><rect x="1054" y="1327" width="9" height="10" fill="#1a1a1a"/><rect x="594" y="1325" width="5" height="6" fill="#3a6ea4"/><rect x="656" y="1275" width="6" height="6" fill="#27a0d0"/><rect x="470" y="1409" width="9" height="12" fill="#2d88bf"/><rect x="831" y="1340" width="5" height="7" fill="#29acd9"/><rect x="779" y="1343" width="12" height="10" fill="#2d88bf"/><rect x="494" y="1262" width="10" height="8" fill="#3a6ea4"/><rect x="1100" y="1243" width="9" height="9" fill="#2d88bf"/><rect x="993" y="1174" width="10" height="14" fill="#357bb2"/><rect x="384" y="1205" width="8" height="7" fill="#2d88bf"/><rect x="884" y="1187" width="11" height="10" fill="#1a1a1a"/><rect x="496" y="1412" width="8" height="9" fill="#29acd9"/><rect x="564" y="1175" width="8" height="10" fill="#27a0d0"/><rect x="1035" y="1265" width="8" height="6" fill="#357bb2"/><rect x="1123" y="1426" width="8" height="11" fill="#357bb2"/><rect x="881" y="1351" width="9" height="10" fill="#2893c6"/><rect x="558" y="1288" width="9" height="8" fill="#2d88bf"/><rect x="1101" y="1214" width="9" height="9" fill="#357bb2"/><rect x="1007" y="1320" width="11" height="12" fill="#1a1a1a"/><rect x="419" y="1202" width="6" height="6" fill="#3a6ea4"/><rect x="878" y="1355" width="8" height="8" fill="#2893c6"/><rect x="866" y="1289" width="7" height="6" fill="#2893c6"/><rect x="880" y="1371" width="10" height="13" fill="#2d88bf"/><rect x="312" y="1291" width="13" height="16" fill="#2893c6"/><rect x="1019" y="1194" width="9" height="9" fill="#2d88bf"/><rect x="913" y="1396" width="8" height="12" fill="#2893c6"/><rect x="754" y="1217" width="8" height="8" fill="#1a1a1a"/><rect x="382" y="1390" width="9" height="10" fill="#2893c6"/><rect x="1165" y="1192" width="8" height="8" fill="#2893c6"/><rect x="1196" y="1232" width="11" height="12" fill="#2893c6"/><rect x="882" y="1348" width="6" height="7" fill="#1a1a1a"/><rect x="811" y="1408" width="10" height="10" fill="#2d88bf"/><rect x="806" y="1274" width="5" height="7" fill="#29acd9"/><rect x="1190" y="1258" width="7" height="8" fill="#2d88bf"/><rect x="534" y="1175" width="13" height="17" fill="#29acd9"/><rect x="665" y="1247" width="11" height="11" fill="#3a6ea4"/><rect x="407" y="1286" width="9" height="8" fill="#2893c6"/><rect x="1058" y="1221" width="6" height="7" fill="#1a1a1a"/><rect x="768" y="1370" width="6" height="7" fill="#357bb2"/><rect x="1088" y="1189" width="9" height="9" fill="#27a0d0"/><rect x="1101" y="1305" width="8" height="9" fill="#27a0d0"/><rect x="883" y="1335" width="11" height="9" fill="#1a1a1a"/><rect x="1044" y="1421" width="10" height="10" fill="#2d88bf"/><rect x="662" y="1301" width="13" height="15" fill="#3a6ea4"/><rect x="510" y="1196" width="10" height="8" fill="#27a0d0"/><rect x="631" y="1211" width="11" height="12" fill="#29acd9"/><rect x="659" y="1305" width="11" height="13" fill="#2d88bf"/><rect x="633" y="1179" width="11" height="12" fill="#357bb2"/><rect x="703" y="1252" width="8" height="9" fill="#2893c6"/><rect x="936" y="1370" width="6" height="6" fill="#2d88bf"/><rect x="629" y="1338" width="7" height="8" fill="#2d88bf"/><rect x="676" y="1187" width="11" height="10" fill="#2893c6"/><rect x="829" y="1366" width="11" height="9" fill="#3a6ea4"/><rect x="1153" y="1401" width="8" height="6" fill="#2893c6"/><rect x="764" y="1358" width="13" height="9" fill="#1a1a1a"/><rect x="972" y="1325" width="13" height="15" fill="#2d88bf"/><rect x="564" y="1406" width="9" height="11" fill="#2d88bf"/><rect x="939" y="1167" width="13" height="16" fill="#27a0d0"/><rect x="914" y="1320" width="8" height="8" fill="#1a1a1a"/><rect x="752" y="1170" width="8" height="8" fill="#3a6ea4"/><rect x="698" y="1230" width="10" height="12" fill="#2893c6"/><rect x="320" y="1288" width="11" height="13" fill="#27a0d0"/><rect x="455" y="1330" width="12" height="13" fill="#1a1a1a"/><rect x="592" y="1287" width="8" height="7" fill="#2893c6"/><rect x="538" y="1260" width="10" height="10" fill="#2d88bf"/><rect x="1075" y="1176" width="9" height="8" fill="#2d88bf"/><rect x="304" y="1220" width="6" height="5" fill="#3a6ea4"/><rect x="760" y="1219" width="12" height="10" fill="#1a1a1a"/><rect x="663" y="1354" width="6" height="6" fill="#3a6ea4"/><rect x="845" y="1314" width="10" height="7" fill="#2d88bf"/><rect x="711" y="1283" width="9" height="7" fill="#27a0d0"/><rect x="490" y="1311" width="9" height="7" fill="#3a6ea4"/><rect x="529" y="1322" width="13" height="11" fill="#2d88bf"/><rect x="555" y="1325" width="9" height="7" fill="#2d88bf"/><rect x="649" y="1217" width="12" height="12" fill="#29acd9"/><rect x="431" y="1217" width="12" height="10" fill="#357bb2"/><rect x="308" y="1295" width="12" height="13" fill="#29acd9"/><rect x="973" y="1185" width="12" height="16" fill="#1a1a1a"/><rect x="1197" y="1197" width="11" height="8" fill="#1a1a1a"/><rect x="683" y="1358" width="6" height="8" fill="#2893c6"/><rect x="448" y="1355" width="5" height="4" fill="#29acd9"/><rect x="803" y="1198" width="10" height="7" fill="#1a1a1a"/><rect x="349" y="1396" width="6" height="5" fill="#29acd9"/><rect x="683" y="1323" width="5" height="5" fill="#2893c6"/><rect x="1184" y="1408" width="8" height="11" fill="#2893c6"/><rect x="988" y="1259" width="8" height="7" fill="#1a1a1a"/><rect x="361" y="1295" width="12" height="10" fill="#2d88bf"/><rect x="1130" y="1256" width="11" height="11" fill="#3a6ea4"/><rect x="1181" y="1380" width="6" height="6" fill="#27a0d0"/><rect x="804" y="1242" width="8" height="10" fill="#2d88bf"/><rect x="701" y="1314" width="5" height="5" fill="#27a0d0"/><rect x="1040" y="1428" width="11" height="11" fill="#357bb2"/><rect x="407" y="1290" width="11" height="10" fill="#29acd9"/><rect x="532" y="1416" width="12" height="12" fill="#2893c6"/><rect x="478" y="1371" width="8" height="9" fill="#357bb2"/><rect x="584" y="1410" width="6" height="6" fill="#27a0d0"/><rect x="507" y="1239" width="8" height="11" fill="#3a6ea4"/><rect x="667" y="1174" width="12" height="15" fill="#2d88bf"/><rect x="739" y="1237" width="13" height="14" fill="#3a6ea4"/><rect x="451" y="1372" width="6" height="7" fill="#3a6ea4"/><rect x="891" y="1201" width="11" height="10" fill="#2893c6"/><rect x="463" y="1384" width="6" height="4" fill="#357bb2"/><rect x="680" y="1263" width="13" height="15" fill="#2d88bf"/><rect x="774" y="1357" width="12" height="12" fill="#2d88bf"/><rect x="658" y="1211" width="6" height="7" fill="#29acd9"/><rect x="380" y="1219" width="6" height="9" fill="#2893c6"/><rect x="1153" y="1383" width="11" height="11" fill="#357bb2"/><rect x="1069" y="1274" width="6" height="6" fill="#2d88bf"/><rect x="548" y="1335" width="5" height="5" fill="#1a1a1a"/><rect x="1121" y="1413" width="11" height="9" fill="#2893c6"/><rect x="497" y="1271" width="9" height="10" fill="#1a1a1a"/><rect x="992" y="1339" width="7" height="8" fill="#29acd9"/><rect x="550" y="1364" width="12" height="13" fill="#27a0d0"/><rect x="1160" y="1206" width="12" height="9" fill="#2893c6"/><rect x="751" y="1400" width="7" height="9" fill="#2893c6"/><rect x="1086" y="1326" width="8" height="10" fill="#27a0d0"/><rect x="366" y="1367" width="6" height="7" fill="#2d88bf"/><rect x="1045" y="1329" width="11" height="16" fill="#2d88bf"/><rect x="1192" y="1421" width="10" height="12" fill="#2893c6"/><rect x="419" y="1223" width="12" height="10" fill="#357bb2"/><rect x="1093" y="1235" width="10" height="8" fill="#1a1a1a"/><rect x="914" y="1214" width="5" height="4" fill="#357bb2"/><rect x="735" y="1225" width="7" height="9" fill="#2893c6"/><rect x="369" y="1258" width="6" height="9" fill="#2d88bf"/><rect x="694" y="1173" width="6" height="8" fill="#3a6ea4"/><rect x="387" y="1398" width="10" height="7" fill="#29acd9"/><rect x="1033" y="1416" width="6" height="5" fill="#2893c6"/><rect x="552" y="1401" width="11" height="14" fill="#3a6ea4"/><rect x="1100" y="1297" width="12" height="17" fill="#357bb2"/><rect x="658" y="1232" width="11" height="9" fill="#1a1a1a"/><rect x="371" y="1258" width="8" height="10" fill="#29acd9"/><rect x="589" y="1192" width="9" height="9" fill="#2d88bf"/><rect x="864" y="1266" width="12" height="12" fill="#29acd9"/><rect x="446" y="1165" width="9" height="9" fill="#1a1a1a"/><rect x="1135" y="1184" width="13" height="15" fill="#3a6ea4"/><rect x="1063" y="1360" width="7" height="8" fill="#2893c6"/><rect x="584" y="1301" width="12" height="15" fill="#3a6ea4"/><rect x="1161" y="1280" width="11" height="14" fill="#2d88bf"/><rect x="1138" y="1419" width="11" height="14" fill="#2d88bf"/><rect x="300" y="1286" width="9" height="10" fill="#2d88bf"/><rect x="1042" y="1166" width="6" height="7" fill="#357bb2"/><rect x="602" y="1336" width="7" height="7" fill="#27a0d0"/><rect x="811" y="1173" width="13" height="14" fill="#2893c6"/><rect x="887" y="1282" width="6" height="8" fill="#2d88bf"/><rect x="1102" y="1190" width="7" height="8" fill="#27a0d0"/><rect x="725" y="1326" width="9" height="11" fill="#3a6ea4"/><rect x="327" y="1214" width="9" height="9" fill="#357bb2"/><rect x="960" y="1318" width="10" height="12" fill="#27a0d0"/><rect x="643" y="1398" width="5" height="4" fill="#2893c6"/><rect x="555" y="1181" width="8" height="7" fill="#1a1a1a"/><rect x="440" y="1397" width="9" height="11" fill="#357bb2"/><rect x="1046" y="1235" width="13" height="13" fill="#2893c6"/><rect x="500" y="1279" width="6" height="5" fill="#2893c6"/><rect x="849" y="1240" width="6" height="7" fill="#2d88bf"/><rect x="756" y="1172" width="13" height="16" fill="#3a6ea4"/><rect x="728" y="1283" width="12" height="12" fill="#29acd9"/><rect x="670" y="1276" width="6" height="5" fill="#3a6ea4"/><rect x="501" y="1358" width="10" height="12" fill="#2893c6"/><rect x="561" y="1199" width="7" height="6" fill="#2893c6"/><rect x="719" y="1235" width="9" height="12" fill="#3a6ea4"/><rect x="456" y="1298" width="12" height="13" fill="#2d88bf"/><rect x="930" y="1173" width="12" height="11" fill="#3a6ea4"/><rect x="485" y="1390" width="8" height="10" fill="#3a6ea4"/><rect x="926" y="1370" width="8" height="11" fill="#2d88bf"/><rect x="650" y="1172" width="9" height="9" fill="#3a6ea4"/><rect x="414" y="1238" width="5" height="5" fill="#3a6ea4"/><rect x="1188" y="1263" width="9" height="10" fill="#27a0d0"/><rect x="1079" y="1394" width="8" height="9" fill="#3a6ea4"/><rect x="979" y="1342" width="6" height="5" fill="#29acd9"/><rect x="692" y="1233" width="9" height="6" fill="#3a6ea4"/><rect x="652" y="1403" width="12" height="13" fill="#2d88bf"/><rect x="303" y="1242" width="6" height="5" fill="#357bb2"/><rect x="812" y="1313" width="11" height="13" fill="#2d88bf"/><rect x="569" y="1350" width="8" height="7" fill="#1a1a1a"/><rect x="933" y="1178" width="6" height="7" fill="#2d88bf"/><rect x="1112" y="1194" width="9" height="10" fill="#1a1a1a"/><rect x="508" y="1263" width="6" height="7" fill="#3a6ea4"/><rect x="778" y="1296" width="10" height="9" fill="#27a0d0"/><rect x="489" y="1412" width="5" height="4" fill="#2893c6"/><rect x="552" y="1322" width="9" height="9" fill="#357bb2"/><rect x="1103" y="1258" width="13" height="13" fill="#2d88bf"/><rect x="611" y="1202" width="12" height="9" fill="#3a6ea4"/><rect x="349" y="1215" width="9" height="9" fill="#2893c6"/><rect x="546" y="1195" width="12" height="13" fill="#1a1a1a"/><rect x="889" y="1341" width="13" height="14" fill="#2d88bf"/><rect x="977" y="1248" width="9" height="11" fill="#2893c6"/><rect x="435" y="1330" width="12" height="10" fill="#2893c6"/><rect x="524" y="1359" width="7" height="6" fill="#27a0d0"/><rect x="736" y="1224" width="6" height="8" fill="#27a0d0"/><rect x="457" y="1273" width="6" height="4" fill="#2d88bf"/><rect x="708" y="1276" width="12" height="13" fill="#2893c6"/><rect x="660" y="1294" width="8" height="10" fill="#2893c6"/><rect x="552" y="1378" width="7" height="7" fill="#2d88bf"/><rect x="462" y="1285" width="8" height="10" fill="#27a0d0"/><rect x="1000" y="1211" width="13" height="11" fill="#29acd9"/><rect x="984" y="1297" width="6" height="5" fill="#29acd9"/><rect x="899" y="1321" width="6" height="7" fill="#2893c6"/><rect x="519" y="1277" width="13" height="16" fill="#29acd9"/><rect x="618" y="1265" width="9" height="9" fill="#2893c6"/><rect x="1001" y="1307" width="12" height="10" fill="#2893c6"/><rect x="1066" y="1219" width="8" height="8" fill="#2d88bf"/><rect x="578" y="1395" width="9" height="10" fill="#2893c6"/><rect x="635" y="1194" width="9" height="12" fill="#2d88bf"/><rect x="1084" y="1185" width="8" height="8" fill="#2d88bf"/><rect x="678" y="1411" width="9" height="9" fill="#357bb2"/><rect x="941" y="1355" width="9" height="10" fill="#2d88bf"/><rect x="679" y="1355" width="7" height="9" fill="#357bb2"/><rect x="1130" y="1189" width="9" height="12" fill="#2d88bf"/><rect x="672" y="1391" width="11" height="12" fill="#2893c6"/><rect x="1170" y="1235" width="12" height="16" fill="#1a1a1a"/><rect x="768" y="1369" width="12" height="9" fill="#2d88bf"/><rect x="980" y="1367" width="9" height="7" fill="#1a1a1a"/><rect x="702" y="1327" width="10" height="11" fill="#2d88bf"/><rect x="695" y="1195" width="8" height="8" fill="#27a0d0"/><rect x="460" y="1287" width="8" height="5" fill="#2893c6"/><rect x="1114" y="1354" width="5" height="6" fill="#3a6ea4"/><rect x="639" y="1427" width="13" height="17" fill="#29acd9"/><rect x="702" y="1422" width="8" height="9" fill="#2d88bf"/><rect x="1080" y="1330" width="10" height="10" fill="#2d88bf"/><rect x="1166" y="1217" width="7" height="7" fill="#1a1a1a"/><rect x="1126" y="1367" width="6" height="5" fill="#2d88bf"/><rect x="943" y="1247" width="5" height="5" fill="#357bb2"/><rect x="323" y="1241" width="8" height="6" fill="#1a1a1a"/><rect x="531" y="1349" width="8" height="8" fill="#2d88bf"/><rect x="1140" y="1274" width="12" height="15" fill="#2d88bf"/><rect x="891" y="1349" width="5" height="6" fill="#357bb2"/><rect x="864" y="1257" width="8" height="8" fill="#2893c6"/><rect x="395" y="1325" width="6" height="7" fill="#3a6ea4"/><rect x="792" y="1345" width="10" height="7" fill="#2d88bf"/><rect x="1070" y="1348" width="6" height="9" fill="#2d88bf"/><rect x="660" y="1411" width="6" height="7" fill="#1a1a1a"/><rect x="427" y="1219" width="7" height="9" fill="#1a1a1a"/><rect x="376" y="1398" width="13" height="14" fill="#2d88bf"/><rect x="955" y="1178" width="13" height="10" fill="#2893c6"/><rect x="769" y="1167" width="13" height="10" fill="#2893c6"/><rect x="1159" y="1347" width="10" height="11" fill="#2d88bf"/><rect x="1154" y="1345" width="13" height="17" fill="#2d88bf"/><rect x="1124" y="1285" width="12" height="9" fill="#27a0d0"/><rect x="342" y="1348" width="10" height="14" fill="#2d88bf"/><rect x="1010" y="1185" width="6" height="6" fill="#1a1a1a"/><rect x="826" y="1321" width="6" height="5" fill="#2893c6"/><rect x="375" y="1331" width="7" height="5" fill="#2893c6"/><rect x="379" y="1268" width="7" height="7" fill="#27a0d0"/><rect x="804" y="1350" width="11" height="8" fill="#1a1a1a"/><rect x="1024" y="1182" width="6" height="7" fill="#29acd9"/><rect x="930" y="1197" width="5" height="4" fill="#357bb2"/><rect x="671" y="1356" width="5" height="6" fill="#29acd9"/><rect x="977" y="1310" width="9" height="9" fill="#3a6ea4"/><rect x="385" y="1344" width="7" height="9" fill="#29acd9"/><rect x="494" y="1208" width="12" height="15" fill="#357bb2"/><rect x="1089" y="1328" width="13" height="16" fill="#1a1a1a"/><rect x="1010" y="1392" width="6" height="7" fill="#29acd9"/><rect x="887" y="1287" width="10" height="12" fill="#2d88bf"/><rect x="1129" y="1287" width="10" height="11" fill="#2d88bf"/><rect x="374" y="1414" width="10" height="12" fill="#27a0d0"/><rect x="1181" y="1199" width="10" height="10" fill="#1a1a1a"/><rect x="893" y="1403" width="6" height="5" fill="#2d88bf"/><rect x="814" y="1358" width="10" height="10" fill="#2893c6"/><rect x="539" y="1350" width="8" height="8" fill="#3a6ea4"/><rect x="1116" y="1321" width="7" height="6" fill="#2d88bf"/><rect x="919" y="1167" width="6" height="7" fill="#2893c6"/><rect x="548" y="1235" width="6" height="6" fill="#2893c6"/><rect x="673" y="1300" width="9" height="7" fill="#2893c6"/><rect x="625" y="1425" width="10" height="9" fill="#29acd9"/><rect x="366" y="1351" width="7" height="8" fill="#1a1a1a"/><rect x="552" y="1250" width="7" height="6" fill="#2d88bf"/><rect x="953" y="1348" width="8" height="8" fill="#2893c6"/><rect x="1157" y="1252" width="13" height="11" fill="#2d88bf"/><rect x="1064" y="1279" width="10" height="13" fill="#2d88bf"/><rect x="450" y="1246" width="8" height="6" fill="#2893c6"/><rect x="504" y="1363" width="8" height="6" fill="#3a6ea4"/><rect x="1102" y="1328" width="8" height="6" fill="#29acd9"/><rect x="1102" y="1408" width="13" height="14" fill="#2d88bf"/><rect x="333" y="1312" width="9" height="12" fill="#2d88bf"/><rect x="415" y="1324" width="8" height="9" fill="#2d88bf"/><rect x="616" y="1249" width="8" height="7" fill="#2d88bf"/><rect x="379" y="1171" width="6" height="7" fill="#1a1a1a"/><rect x="559" y="1231" width="12" height="11" fill="#27a0d0"/><rect x="386" y="1367" width="5" height="5" fill="#2893c6"/><rect x="941" y="1353" width="9" height="9" fill="#2d88bf"/><rect x="637" y="1397" width="7" height="6" fill="#29acd9"/><rect x="456" y="1300" width="9" height="10" fill="#29acd9"/><rect x="883" y="1418" width="9" height="8" fill="#357bb2"/><rect x="385" y="1320" width="5" height="5" fill="#2893c6"/><rect x="1105" y="1363" width="11" height="14" fill="#2d88bf"/><rect x="1190" y="1207" width="6" height="6" fill="#3a6ea4"/><rect x="524" y="1248" width="9" height="12" fill="#2d88bf"/><rect x="665" y="1405" width="12" height="14" fill="#3a6ea4"/><rect x="938" y="1378" width="7" height="8" fill="#27a0d0"/><rect x="770" y="1221" width="8" height="6" fill="#29acd9"/><rect x="480" y="1424" width="12" height="14" fill="#2d88bf"/><rect x="604" y="1173" width="5" height="5" fill="#3a6ea4"/><rect x="509" y="1361" width="12" height="9" fill="#29acd9"/><rect x="916" y="1287" width="12" height="13" fill="#2893c6"/><rect x="1031" y="1273" width="12" height="14" fill="#3a6ea4"/><rect x="802" y="1408" width="10" height="8" fill="#2893c6"/><rect x="566" y="1221" width="11" height="11" fill="#29acd9"/><rect x="1158" y="1368" width="10" height="14" fill="#3a6ea4"/><rect x="960" y="1395" width="12" height="14" fill="#3a6ea4"/><rect x="1122" y="1206" width="10" height="12" fill="#2893c6"/><rect x="1191" y="1407" width="8" height="8" fill="#357bb2"/><rect x="1186" y="1224" width="12" height="16" fill="#2d88bf"/><rect x="1127" y="1308" width="6" height="4" fill="#27a0d0"/><rect x="513" y="1420" width="8" height="7" fill="#2d88bf"/><rect x="872" y="1388" width="8" height="9" fill="#3a6ea4"/><rect x="647" y="1281" width="9" height="10" fill="#1a1a1a"/><rect x="922" y="1378" width="7" height="7" fill="#357bb2"/><rect x="934" y="1388" width="10" height="8" fill="#2893c6"/><rect x="729" y="1381" width="6" height="9" fill="#3a6ea4"/><rect x="615" y="1373" width="12" height="13" fill="#357bb2"/><rect x="400" y="1260" width="9" height="13" fill="#27a0d0"/><rect x="477" y="1249" width="11" height="9" fill="#2893c6"/><rect x="765" y="1281" width="8" height="11" fill="#2d88bf"/><rect x="931" y="1352" width="6" height="6" fill="#3a6ea4"/><rect x="876" y="1225" width="13" height="17" fill="#2893c6"/><rect x="692" y="1320" width="13" height="13" fill="#357bb2"/><rect x="303" y="1428" width="11" height="14" fill="#3a6ea4"/><rect x="444" y="1416" width="13" height="16" fill="#2893c6"/><rect x="601" y="1254" width="10" height="14" fill="#1a1a1a"/><rect x="854" y="1354" width="12" height="10" fill="#29acd9"/><rect x="316" y="1424" width="6" height="7" fill="#2d88bf"/><rect x="902" y="1354" width="10" height="11" fill="#3a6ea4"/><rect x="430" y="1246" width="9" height="8" fill="#27a0d0"/><rect x="472" y="1323" width="9" height="11" fill="#29acd9"/><rect x="1149" y="1261" width="6" height="5" fill="#2893c6"/><rect x="463" y="1223" width="9" height="7" fill="#2893c6"/><rect x="879" y="1294" width="7" height="6" fill="#1a1a1a"/><rect x="515" y="1287" width="10" height="9" fill="#27a0d0"/><rect x="1170" y="1298" width="9" height="7" fill="#357bb2"/><rect x="497" y="1428" width="11" height="8" fill="#357bb2"/><rect x="795" y="1416" width="6" height="7" fill="#3a6ea4"/><rect x="872" y="1209" width="13" height="18" fill="#3a6ea4"/><rect x="363" y="1212" width="6" height="5" fill="#27a0d0"/><rect x="1113" y="1272" width="8" height="9" fill="#357bb2"/><rect x="294" y="1403" width="12" height="12" fill="#1a1a1a"/><rect x="1097" y="1324" width="9" height="8" fill="#3a6ea4"/><rect x="426" y="1185" width="8" height="10" fill="#357bb2"/><rect x="1141" y="1165" width="11" height="12" fill="#2d88bf"/><rect x="649" y="1389" width="11" height="16" fill="#27a0d0"/><rect x="714" y="1303" width="11" height="11" fill="#1a1a1a"/><rect x="697" y="1237" width="13" height="17" fill="#2d88bf"/><rect x="951" y="1180" width="12" height="9" fill="#2893c6"/><rect x="858" y="1167" width="10" height="8" fill="#2893c6"/><rect x="366" y="1430" width="8" height="11" fill="#2893c6"/><rect x="571" y="1339" width="9" height="7" fill="#27a0d0"/><rect x="921" y="1375" width="5" height="5" fill="#357bb2"/><rect x="442" y="1273" width="8" height="10" fill="#357bb2"/><rect x="346" y="1422" width="8" height="6" fill="#2893c6"/><rect x="731" y="1337" width="10" height="10" fill="#29acd9"/><rect x="733" y="1368" width="9" height="7" fill="#3a6ea4"/><rect x="378" y="1311" width="11" height="10" fill="#357bb2"/><rect x="611" y="1251" width="13" height="12" fill="#29acd9"/><rect x="905" y="1261" width="10" height="14" fill="#2d88bf"/><rect x="557" y="1332" width="6" height="7" fill="#1a1a1a"/><rect x="1144" y="1206" width="10" height="12" fill="#27a0d0"/><rect x="1106" y="1427" width="9" height="9" fill="#2d88bf"/><rect x="1076" y="1346" width="9" height="10" fill="#27a0d0"/><rect x="638" y="1380" width="10" height="8" fill="#2893c6"/><rect x="375" y="1381" width="6" height="8" fill="#2d88bf"/><rect x="1091" y="1272" width="10" height="11" fill="#1a1a1a"/><rect x="351" y="1188" width="9" height="7" fill="#27a0d0"/><rect x="930" y="1429" width="10" height="12" fill="#3a6ea4"/><rect x="429" y="1244" width="8" height="6" fill="#2d88bf"/><rect x="1055" y="1191" width="8" height="7" fill="#1a1a1a"/><rect x="715" y="1222" width="11" height="14" fill="#29acd9"/><rect x="592" y="1413" width="9" height="9" fill="#2d88bf"/><rect x="303" y="1224" width="9" height="9" fill="#2d88bf"/><rect x="744" y="1342" width="7" height="6" fill="#2d88bf"/><rect x="345" y="1414" width="9" height="8" fill="#2893c6"/><rect x="555" y="1382" width="7" height="9" fill="#3a6ea4"/><rect x="663" y="1263" width="12" height="12" fill="#2893c6"/><rect x="805" y="1356" width="8" height="6" fill="#1a1a1a"/><rect x="1107" y="1402" width="5" height="5" fill="#27a0d0"/><rect x="859" y="1186" width="11" height="9" fill="#2893c6"/><rect x="974" y="1197" width="11" height="10" fill="#2d88bf"/><rect x="792" y="1234" width="5" height="7" fill="#357bb2"/><rect x="600" y="1414" width="11" height="14" fill="#2d88bf"/><rect x="855" y="1209" width="10" height="9" fill="#3a6ea4"/><rect x="502" y="1346" width="12" height="9" fill="#2d88bf"/><rect x="300" y="1328" width="7" height="8" fill="#1a1a1a"/><rect x="477" y="1276" width="11" height="15" fill="#2d88bf"/><rect x="779" y="1254" width="9" height="8" fill="#1a1a1a"/><rect x="329" y="1325" width="12" height="16" fill="#29acd9"/><rect x="544" y="1237" width="10" height="13" fill="#27a0d0"/><rect x="404" y="1387" width="10" height="7" fill="#1a1a1a"/><rect x="1129" y="1288" width="12" height="14" fill="#2d88bf"/><rect x="731" y="1356" width="8" height="7" fill="#357bb2"/><rect x="1023" y="1165" width="12" height="14" fill="#29acd9"/><rect x="551" y="1332" width="8" height="6" fill="#357bb2"/><rect x="312" y="1269" width="11" height="13" fill="#2893c6"/><rect x="491" y="1182" width="8" height="11" fill="#357bb2"/><rect x="296" y="1220" width="8" height="8" fill="#27a0d0"/><rect x="446" y="1253" width="12" height="14" fill="#2d88bf"/><rect x="431" y="1239" width="12" height="14" fill="#2d88bf"/><rect x="1167" y="1240" width="6" height="8" fill="#2d88bf"/><rect x="1051" y="1336" width="9" height="10" fill="#2d88bf"/><rect x="871" y="1388" width="13" height="9" fill="#3a6ea4"/><rect x="1151" y="1239" width="11" height="9" fill="#2d88bf"/><rect x="1081" y="1301" width="11" height="8" fill="#2d88bf"/><rect x="947" y="1213" width="12" height="14" fill="#29acd9"/><rect x="1079" y="1194" width="13" height="15" fill="#3a6ea4"/><rect x="1066" y="1214" width="7" height="7" fill="#3a6ea4"/><rect x="631" y="1264" width="8" height="8" fill="#2893c6"/><rect x="1034" y="1349" width="12" height="9" fill="#1a1a1a"/><rect x="1140" y="1320" width="7" height="9" fill="#1a1a1a"/><rect x="559" y="1296" width="13" height="15" fill="#2d88bf"/><rect x="804" y="1199" width="10" height="9" fill="#2893c6"/><rect x="885" y="1171" width="8" height="10" fill="#357bb2"/><rect x="645" y="1336" width="9" height="7" fill="#29acd9"/><rect x="950" y="1430" width="11" height="14" fill="#1a1a1a"/><rect x="1047" y="1321" width="10" height="9" fill="#2d88bf"/><rect x="1067" y="1313" width="5" height="6" fill="#3a6ea4"/><rect x="744" y="1385" width="7" height="9" fill="#2893c6"/><rect x="758" y="1226" width="8" height="7" fill="#2893c6"/><rect x="1102" y="1182" width="9" height="6" fill="#1a1a1a"/><rect x="506" y="1207" width="8" height="8" fill="#2893c6"/><rect x="1012" y="1381" width="6" height="7" fill="#2893c6"/><rect x="940" y="1325" width="10" height="8" fill="#1a1a1a"/><rect x="372" y="1234" width="8" height="9" fill="#1a1a1a"/><rect x="756" y="1391" width="8" height="8" fill="#3a6ea4"/><rect x="1046" y="1314" width="7" height="9" fill="#357bb2"/><rect x="1178" y="1344" width="6" height="5" fill="#29acd9"/><rect x="312" y="1352" width="12" height="15" fill="#2893c6"/><rect x="887" y="1282" width="11" height="15" fill="#3a6ea4"/><rect x="519" y="1327" width="5" height="4" fill="#2d88bf"/><rect x="1041" y="1327" width="8" height="10" fill="#29acd9"/><rect x="1030" y="1221" width="6" height="8" fill="#2893c6"/><rect x="906" y="1264" width="9" height="10" fill="#2d88bf"/><rect x="770" y="1190" width="8" height="7" fill="#2893c6"/><rect x="652" y="1382" width="6" height="8" fill="#2893c6"/><rect x="800" y="1201" width="7" height="9" fill="#357bb2"/><rect x="334" y="1382" width="6" height="7" fill="#2d88bf"/><rect x="719" y="1247" width="10" height="10" fill="#29acd9"/><rect x="1046" y="1231" width="12" height="13" fill="#27a0d0"/><rect x="913" y="1252" width="5" height="5" fill="#2893c6"/><rect x="794" y="1225" width="9" height="11" fill="#2893c6"/><rect x="696" y="1294" width="8" height="7" fill="#29acd9"/><rect x="1000" y="1262" width="9" height="10" fill="#357bb2"/><rect x="521" y="1404" width="6" height="8" fill="#29acd9"/><rect x="894" y="1423" width="11" height="8" fill="#2893c6"/><rect x="623" y="1240" width="8" height="5" fill="#2d88bf"/><rect x="745" y="1369" width="9" height="10" fill="#2893c6"/><rect x="430" y="1385" width="10" height="11" fill="#27a0d0"/><rect x="806" y="1245" width="9" height="8" fill="#3a6ea4"/><rect x="523" y="1289" width="10" height="13" fill="#2d88bf"/><rect x="462" y="1412" width="11" height="9" fill="#27a0d0"/><rect x="389" y="1199" width="12" height="15" fill="#2d88bf"/><rect x="1027" y="1350" width="8" height="11" fill="#2d88bf"/><rect x="347" y="1335" width="10" height="8" fill="#2d88bf"/><rect x="1137" y="1306" width="10" height="9" fill="#2d88bf"/><rect x="330" y="1176" width="8" height="10" fill="#3a6ea4"/><rect x="694" y="1366" width="5" height="7" fill="#2d88bf"/><rect x="717" y="1266" width="9" height="7" fill="#2d88bf"/><rect x="830" y="1390" width="9" height="7" fill="#2d88bf"/><rect x="309" y="1261" width="8" height="10" fill="#29acd9"/><rect x="957" y="1373" width="10" height="13" fill="#1a1a1a"/><rect x="368" y="1200" width="11" height="13" fill="#1a1a1a"/><rect x="1055" y="1285" width="12" height="10" fill="#2d88bf"/><rect x="1078" y="1197" width="10" height="13" fill="#27a0d0"/><rect x="872" y="1230" width="13" height="16" fill="#3a6ea4"/><rect x="1152" y="1388" width="10" height="13" fill="#29acd9"/><rect x="1026" y="1353" width="7" height="6" fill="#2893c6"/><rect x="1176" y="1181" width="13" height="11" fill="#2893c6"/><rect x="1103" y="1318" width="9" height="9" fill="#2893c6"/><rect x="1153" y="1300" width="10" height="8" fill="#2d88bf"/><rect x="893" y="1375" width="11" height="8" fill="#2d88bf"/><rect x="492" y="1268" width="9" height="8" fill="#357bb2"/><rect x="764" y="1402" width="5" height="5" fill="#1a1a1a"/><rect x="973" y="1176" width="7" height="7" fill="#27a0d0"/><rect x="1143" y="1195" width="7" height="5" fill="#357bb2"/><rect x="908" y="1295" width="7" height="10" fill="#357bb2"/><rect x="778" y="1359" width="13" height="12" fill="#29acd9"/><rect x="633" y="1430" width="6" height="6" fill="#2893c6"/><rect x="535" y="1250" width="11" height="13" fill="#27a0d0"/><rect x="915" y="1209" width="10" height="13" fill="#3a6ea4"/><rect x="1090" y="1363" width="5" height="4" fill="#29acd9"/><rect x="728" y="1276" width="11" height="12" fill="#2893c6"/><rect x="787" y="1297" width="6" height="6" fill="#2d88bf"/><rect x="587" y="1169" width="12" height="12" fill="#1a1a1a"/><rect x="1029" y="1317" width="7" height="6" fill="#2893c6"/><rect x="1081" y="1373" width="11" height="15" fill="#3a6ea4"/><rect x="1170" y="1418" width="6" height="8" fill="#3a6ea4"/><rect x="601" y="1399" width="13" height="9" fill="#29acd9"/><rect x="1177" y="1329" width="10" height="9" fill="#357bb2"/><rect x="327" y="1317" width="10" height="12" fill="#2d88bf"/><rect x="884" y="1175" width="8" height="12" fill="#27a0d0"/><rect x="555" y="1252" width="6" height="8" fill="#1a1a1a"/><rect x="466" y="1294" width="5" height="4" fill="#29acd9"/><rect x="369" y="1384" width="6" height="8" fill="#29acd9"/><rect x="318" y="1284" width="9" height="11" fill="#2d88bf"/><rect x="784" y="1297" width="9" height="9" fill="#1a1a1a"/><rect x="574" y="1401" width="11" height="9" fill="#2d88bf"/><rect x="777" y="1189" width="9" height="7" fill="#29acd9"/><rect x="1086" y="1226" width="11" height="8" fill="#3a6ea4"/><rect x="292" y="1407" width="13" height="17" fill="#2893c6"/><rect x="1070" y="1291" width="6" height="7" fill="#357bb2"/><rect x="1165" y="1350" width="9" height="11" fill="#2d88bf"/><rect x="801" y="1201" width="7" height="8" fill="#2893c6"/><rect x="591" y="1292" width="10" height="9" fill="#3a6ea4"/><rect x="886" y="1285" width="11" height="15" fill="#2893c6"/><rect x="434" y="1277" width="12" height="14" fill="#2d88bf"/><rect x="728" y="1265" width="9" height="11" fill="#2893c6"/><rect x="776" y="1367" width="8" height="6" fill="#27a0d0"/><rect x="405" y="1243" width="10" height="8" fill="#2893c6"/><rect x="424" y="1417" width="10" height="10" fill="#357bb2"/><rect x="402" y="1311" width="6" height="6" fill="#3a6ea4"/><rect x="529" y="1226" width="7" height="10" fill="#1a1a1a"/><rect x="612" y="1311" width="6" height="8" fill="#1a1a1a"/><rect x="1178" y="1376" width="6" height="6" fill="#27a0d0"/><rect x="561" y="1300" width="9" height="9" fill="#2d88bf"/><rect x="759" y="1407" width="5" height="7" fill="#2d88bf"/><rect x="638" y="1295" width="6" height="6" fill="#3a6ea4"/><rect x="1049" y="1282" width="5" height="4" fill="#2d88bf"/><rect x="525" y="1170" width="8" height="6" fill="#2893c6"/><rect x="422" y="1239" width="6" height="8" fill="#1a1a1a"/><rect x="1047" y="1227" width="11" height="8" fill="#29acd9"/><rect x="756" y="1389" width="6" height="5" fill="#2d88bf"/><rect x="980" y="1346" width="12" height="8" fill="#3a6ea4"/><rect x="764" y="1185" width="8" height="8" fill="#2893c6"/><rect x="798" y="1247" width="6" height="8" fill="#1a1a1a"/><rect x="1028" y="1379" width="11" height="14" fill="#2d88bf"/><rect x="935" y="1356" width="8" height="8" fill="#27a0d0"/><rect x="729" y="1366" width="8" height="6" fill="#2893c6"/><rect x="821" y="1312" width="9" height="6" fill="#27a0d0"/><rect x="750" y="1317" width="7" height="6" fill="#27a0d0"/><rect x="741" y="1296" width="8" height="11" fill="#29acd9"/><rect x="1134" y="1234" width="10" height="8" fill="#2d88bf"/><rect x="295" y="1388" width="11" height="10" fill="#3a6ea4"/><rect x="582" y="1389" width="5" height="7" fill="#27a0d0"/><rect x="481" y="1293" width="9" height="12" fill="#2d88bf"/><rect x="810" y="1387" width="12" height="16" fill="#2893c6"/><rect x="728" y="1236" width="9" height="9" fill="#3a6ea4"/><rect x="564" y="1364" width="13" height="16" fill="#2d88bf"/><rect x="971" y="1302" width="8" height="9" fill="#357bb2"/><rect x="701" y="1406" width="5" height="7" fill="#3a6ea4"/><rect x="733" y="1261" width="12" height="12" fill="#3a6ea4"/><rect x="450" y="1242" width="11" height="8" fill="#2d88bf"/><rect x="1127" y="1364" width="7" height="7" fill="#1a1a1a"/><rect x="1056" y="1227" width="6" height="9" fill="#3a6ea4"/><rect x="1013" y="1189" width="8" height="11" fill="#2893c6"/><rect x="1025" y="1276" width="8" height="7" fill="#2d88bf"/><rect x="1176" y="1238" width="9" height="11" fill="#27a0d0"/><rect x="871" y="1237" width="6" height="5" fill="#3a6ea4"/><rect x="1017" y="1425" width="12" height="13" fill="#2893c6"/><rect x="642" y="1243" width="6" height="8" fill="#27a0d0"/><rect x="649" y="1334" width="10" height="11" fill="#1a1a1a"/><rect x="964" y="1184" width="8" height="8" fill="#2d88bf"/><rect x="832" y="1324" width="5" height="4" fill="#2893c6"/><rect x="442" y="1200" width="11" height="10" fill="#27a0d0"/><rect x="386" y="1319" width="12" height="17" fill="#29acd9"/><rect x="786" y="1262" width="9" height="8" fill="#27a0d0"/><rect x="298" y="1377" width="6" height="7" fill="#357bb2"/><rect x="950" y="1219" width="10" height="14" fill="#357bb2"/><rect x="339" y="1253" width="12" height="12" fill="#3a6ea4"/><rect x="463" y="1321" width="10" height="9" fill="#29acd9"/><rect x="852" y="1402" width="13" height="14" fill="#27a0d0"/><rect x="962" y="1166" width="12" height="15" fill="#27a0d0"/><rect x="543" y="1384" width="13" height="17" fill="#3a6ea4"/><rect x="962" y="1339" width="7" height="6" fill="#29acd9"/><rect x="764" y="1312" width="7" height="8" fill="#2893c6"/><rect x="964" y="1198" width="8" height="6" fill="#27a0d0"/><rect x="618" y="1301" width="9" height="6" fill="#2893c6"/><rect x="825" y="1180" width="7" height="8" fill="#2893c6"/><rect x="965" y="1263" width="7" height="8" fill="#29acd9"/><rect x="1040" y="1364" width="12" height="15" fill="#1a1a1a"/><rect x="915" y="1300" width="7" height="6" fill="#1a1a1a"/><rect x="386" y="1215" width="12" height="14" fill="#357bb2"/><rect x="971" y="1329" width="8" height="7" fill="#3a6ea4"/><rect x="874" y="1197" width="7" height="8" fill="#2d88bf"/><rect x="707" y="1382" width="10" height="12" fill="#1a1a1a"/><rect x="1063" y="1309" width="6" height="6" fill="#2893c6"/><rect x="760" y="1184" width="9" height="11" fill="#2893c6"/><rect x="1127" y="1254" width="10" height="12" fill="#1a1a1a"/><rect x="387" y="1342" width="12" height="12" fill="#2893c6"/><rect x="860" y="1390" width="12" height="9" fill="#27a0d0"/><rect x="1147" y="1243" width="11" height="13" fill="#27a0d0"/><rect x="1014" y="1200" width="13" height="15" fill="#1a1a1a"/><rect x="985" y="1309" width="6" height="5" fill="#1a1a1a"/><rect x="777" y="1272" width="7" height="7" fill="#2893c6"/><rect x="1006" y="1409" width="10" height="12" fill="#3a6ea4"/><rect x="1155" y="1176" width="6" height="7" fill="#3a6ea4"/><rect x="1094" y="1212" width="7" height="8" fill="#2d88bf"/><rect x="608" y="1362" width="9" height="10" fill="#3a6ea4"/><rect x="611" y="1172" width="12" height="13" fill="#2893c6"/><rect x="1028" y="1279" width="10" height="8" fill="#1a1a1a"/><rect x="1016" y="1213" width="8" height="11" fill="#357bb2"/><rect x="382" y="1336" width="11" height="10" fill="#27a0d0"/><rect x="604" y="1422" width="10" height="10" fill="#2d88bf"/><rect x="510" y="1397" width="11" height="10" fill="#27a0d0"/><rect x="952" y="1310" width="11" height="11" fill="#2893c6"/><rect x="492" y="1273" width="5" height="7" fill="#29acd9"/><rect x="1028" y="1427" width="8" height="7" fill="#2893c6"/><rect x="786" y="1215" width="11" height="12" fill="#3a6ea4"/><rect x="951" y="1319" width="7" height="8" fill="#1a1a1a"/><rect x="646" y="1384" width="9" height="11" fill="#3a6ea4"/><rect x="964" y="1414" width="8" height="7" fill="#27a0d0"/><rect x="437" y="1325" width="9" height="9" fill="#2893c6"/><rect x="436" y="1276" width="5" height="4" fill="#2d88bf"/><rect x="646" y="1401" width="9" height="10" fill="#2893c6"/><rect x="743" y="1259" width="13" height="10" fill="#1a1a1a"/><rect x="969" y="1231" width="8" height="9" fill="#2893c6"/><rect x="387" y="1244" width="7" height="6" fill="#2d88bf"/><rect x="860" y="1304" width="9" height="8" fill="#2d88bf"/><rect x="616" y="1235" width="6" height="4" fill="#2893c6"/><rect x="368" y="1287" width="6" height="7" fill="#2893c6"/><rect x="935" y="1389" width="11" height="14" fill="#1a1a1a"/><rect x="461" y="1264" width="9" height="8" fill="#2893c6"/><rect x="708" y="1366" width="7" height="6" fill="#2d88bf"/><rect x="552" y="1246" width="9" height="9" fill="#29acd9"/><rect x="910" y="1285" width="5" height="5" fill="#3a6ea4"/><rect x="396" y="1388" width="10" height="12" fill="#357bb2"/><rect x="659" y="1245" width="8" height="9" fill="#2893c6"/><rect x="641" y="1375" width="10" height="9" fill="#2d88bf"/><rect x="666" y="1168" width="11" height="10" fill="#2d88bf"/><rect x="402" y="1378" width="5" height="5" fill="#29acd9"/><rect x="829" y="1358" width="9" height="9" fill="#2d88bf"/><rect x="1040" y="1316" width="9" height="12" fill="#27a0d0"/><rect x="372" y="1326" width="6" height="6" fill="#357bb2"/><rect x="995" y="1359" width="8" height="10" fill="#29acd9"/><rect x="405" y="1317" width="9" height="7" fill="#2d88bf"/><rect x="607" y="1270" width="13" height="12" fill="#29acd9"/><rect x="1077" y="1204" width="10" height="10" fill="#357bb2"/><rect x="1060" y="1302" width="10" height="7" fill="#357bb2"/><rect x="322" y="1212" width="12" height="9" fill="#3a6ea4"/><rect x="425" y="1259" width="6" height="7" fill="#1a1a1a"/><rect x="644" y="1326" width="9" height="9" fill="#29acd9"/><rect x="768" y="1268" width="10" height="14" fill="#357bb2"/><rect x="320" y="1420" width="6" height="8" fill="#357bb2"/><rect x="1190" y="1174" width="11" height="10" fill="#1a1a1a"/><rect x="439" y="1172" width="13" height="18" fill="#29acd9"/><rect x="634" y="1239" width="9" height="10" fill="#27a0d0"/><rect x="660" y="1287" width="12" height="9" fill="#29acd9"/><rect x="422" y="1338" width="9" height="12" fill="#27a0d0"/><rect x="594" y="1411" width="5" height="6" fill="#2d88bf"/><rect x="1181" y="1373" width="9" height="9" fill="#2893c6"/><rect x="820" y="1253" width="6" height="7" fill="#3a6ea4"/><rect x="624" y="1294" width="8" height="10" fill="#2d88bf"/><rect x="456" y="1167" width="11" height="14" fill="#3a6ea4"/><rect x="480" y="1348" width="6" height="7" fill="#2893c6"/><rect x="1118" y="1218" width="6" height="6" fill="#2893c6"/><rect x="1183" y="1358" width="5" height="5" fill="#1a1a1a"/><rect x="1044" y="1378" width="8" height="10" fill="#3a6ea4"/><rect x="1195" y="1260" width="6" height="7" fill="#357bb2"/><rect x="422" y="1292" width="7" height="8" fill="#27a0d0"/><rect x="999" y="1263" width="7" height="9" fill="#27a0d0"/><rect x="412" y="1362" width="10" height="13" fill="#2893c6"/><rect x="1182" y="1166" width="8" height="8" fill="#357bb2"/><rect x="1130" y="1375" width="10" height="13" fill="#2d88bf"/><rect x="1068" y="1198" width="13" height="15" fill="#29acd9"/><rect x="1013" y="1166" width="6" height="8" fill="#2893c6"/><rect x="461" y="1225" width="6" height="7" fill="#2d88bf"/><rect x="847" y="1322" width="12" height="15" fill="#2893c6"/><rect x="929" y="1428" width="8" height="8" fill="#29acd9"/><rect x="535" y="1269" width="8" height="9" fill="#1a1a1a"/><rect x="479" y="1271" width="11" height="11" fill="#2893c6"/><rect x="696" y="1312" width="5" height="7" fill="#2d88bf"/><rect x="992" y="1186" width="11" height="11" fill="#27a0d0"/><rect x="1152" y="1320" width="9" height="10" fill="#3a6ea4"/><rect x="683" y="1167" width="11" height="10" fill="#2d88bf"/><rect x="595" y="1337" width="7" height="6" fill="#29acd9"/><rect x="659" y="1236" width="11" height="11" fill="#27a0d0"/><rect x="962" y="1214" width="10" height="9" fill="#3a6ea4"/><rect x="1148" y="1361" width="10" height="7" fill="#27a0d0"/><rect x="408" y="1262" width="6" height="6" fill="#29acd9"/><rect x="988" y="1353" width="12" height="9" fill="#27a0d0"/><rect x="808" y="1237" width="11" height="16" fill="#29acd9"/><rect x="748" y="1264" width="9" height="12" fill="#29acd9"/><rect x="669" y="1244" width="9" height="8" fill="#357bb2"/><rect x="968" y="1310" width="6" height="7" fill="#27a0d0"/><rect x="903" y="1214" width="10" height="11" fill="#2893c6"/><rect x="1120" y="1234" width="13" height="11" fill="#29acd9"/><rect x="394" y="1370" width="13" height="13" fill="#3a6ea4"/><rect x="630" y="1371" width="8" height="6" fill="#357bb2"/><rect x="421" y="1189" width="8" height="10" fill="#2893c6"/><rect x="1111" y="1392" width="10" height="12" fill="#2893c6"/><rect x="736" y="1229" width="12" height="10" fill="#357bb2"/><rect x="502" y="1347" width="11" height="8" fill="#29acd9"/><rect x="722" y="1304" width="6" height="7" fill="#357bb2"/><rect x="978" y="1286" width="10" height="9" fill="#27a0d0"/><rect x="1104" y="1391" width="11" height="14" fill="#1a1a1a"/><rect x="935" y="1256" width="6" height="8" fill="#2d88bf"/><rect x="446" y="1346" width="11" height="10" fill="#2d88bf"/><rect x="622" y="1190" width="13" height="11" fill="#357bb2"/><rect x="421" y="1237" width="10" height="13" fill="#2d88bf"/><rect x="430" y="1279" width="7" height="7" fill="#3a6ea4"/><rect x="1032" y="1350" width="9" height="9" fill="#357bb2"/><rect x="1001" y="1191" width="7" height="10" fill="#2d88bf"/><rect x="837" y="1316" width="11" height="8" fill="#1a1a1a"/><rect x="607" y="1321" width="6" height="5" fill="#3a6ea4"/><rect x="806" y="1187" width="8" height="8" fill="#357bb2"/><rect x="925" y="1398" width="9" height="8" fill="#2d88bf"/><rect x="1097" y="1417" width="6" height="7" fill="#357bb2"/><rect x="853" y="1348" width="12" height="12" fill="#29acd9"/><rect x="332" y="1219" width="8" height="10" fill="#2d88bf"/><rect x="749" y="1237" width="5" height="6" fill="#27a0d0"/><rect x="885" y="1237" width="11" height="15" fill="#27a0d0"/><rect x="849" y="1272" width="11" height="14" fill="#2893c6"/><rect x="950" y="1414" width="6" height="6" fill="#2893c6"/><rect x="497" y="1260" width="8" height="11" fill="#2893c6"/><rect x="1177" y="1351" width="5" height="7" fill="#29acd9"/><rect x="870" y="1398" width="12" height="11" fill="#2d88bf"/><rect x="735" y="1371" width="6" height="8" fill="#29acd9"/><rect x="854" y="1185" width="5" height="4" fill="#357bb2"/><rect x="417" y="1216" width="10" height="12" fill="#2d88bf"/><rect x="856" y="1209" width="9" height="9" fill="#27a0d0"/><rect x="741" y="1297" width="6" height="5" fill="#27a0d0"/><rect x="965" y="1237" width="8" height="10" fill="#3a6ea4"/><rect x="348" y="1165" width="8" height="6" fill="#2893c6"/><rect x="1084" y="1415" width="6" height="8" fill="#29acd9"/><rect x="587" y="1410" width="7" height="7" fill="#29acd9"/><rect x="691" y="1378" width="12" height="11" fill="#29acd9"/><rect x="880" y="1347" width="7" height="9" fill="#2893c6"/><rect x="654" y="1290" width="6" height="7" fill="#2893c6"/><rect x="993" y="1267" width="5" height="4" fill="#1a1a1a"/><rect x="644" y="1264" width="8" height="10" fill="#1a1a1a"/><rect x="390" y="1287" width="10" height="9" fill="#29acd9"/><rect x="445" y="1219" width="7" height="5" fill="#2893c6"/><rect x="342" y="1216" width="10" height="11" fill="#2d88bf"/><rect x="1018" y="1380" width="13" height="13" fill="#29acd9"/><rect x="601" y="1418" width="8" height="11" fill="#2893c6"/><rect x="994" y="1368" width="12" height="11" fill="#2d88bf"/><rect x="1114" y="1314" width="9" height="13" fill="#3a6ea4"/><rect x="1008" y="1213" width="9" height="7" fill="#2d88bf"/><rect x="904" y="1224" width="9" height="8" fill="#29acd9"/><rect x="333" y="1374" width="12" height="12" fill="#2893c6"/><rect x="1083" y="1341" width="9" height="11" fill="#2d88bf"/><rect x="894" y="1239" width="11" height="10" fill="#3a6ea4"/><rect x="927" y="1338" width="5" height="5" fill="#3a6ea4"/><rect x="848" y="1394" width="13" height="16" fill="#1a1a1a"/><rect x="913" y="1338" width="11" height="8" fill="#2d88bf"/><rect x="802" y="1369" width="6" height="7" fill="#2d88bf"/><rect x="965" y="1303" width="8" height="8" fill="#2d88bf"/><rect x="484" y="1279" width="11" height="10" fill="#2893c6"/><rect x="1047" y="1171" width="5" height="4" fill="#27a0d0"/><rect x="673" y="1392" width="9" height="8" fill="#29acd9"/><rect x="855" y="1245" width="10" height="13" fill="#27a0d0"/><rect x="907" y="1290" width="5" height="7" fill="#2893c6"/><rect x="1159" y="1283" width="8" height="8" fill="#2893c6"/><rect x="925" y="1243" width="12" height="13" fill="#29acd9"/><rect x="850" y="1212" width="10" height="8" fill="#2893c6"/><rect x="1176" y="1361" width="10" height="9" fill="#2893c6"/><rect x="603" y="1350" width="10" height="12" fill="#2d88bf"/><rect x="1118" y="1257" width="11" height="12" fill="#2893c6"/><rect x="866" y="1384" width="8" height="9" fill="#2893c6"/><rect x="702" y="1315" width="13" height="16" fill="#2893c6"/><rect x="426" y="1194" width="6" height="7" fill="#29acd9"/><rect x="701" y="1263" width="12" height="13" fill="#3a6ea4"/><rect x="584" y="1335" width="9" height="6" fill="#2d88bf"/><rect x="1052" y="1394" width="11" height="9" fill="#1a1a1a"/><rect x="1086" y="1336" width="8" height="9" fill="#3a6ea4"/><rect x="891" y="1228" width="9" height="12" fill="#2893c6"/><rect x="594" y="1394" width="13" height="15" fill="#2d88bf"/><rect x="964" y="1419" width="7" height="7" fill="#29acd9"/><rect x="439" y="1295" width="10" height="11" fill="#27a0d0"/><rect x="401" y="1283" width="6" height="7" fill="#2d88bf"/><rect x="825" y="1330" width="12" height="14" fill="#1a1a1a"/><rect x="713" y="1169" width="8" height="8" fill="#3a6ea4"/><rect x="410" y="1174" width="7" height="8" fill="#1a1a1a"/><rect x="979" y="1237" width="12" height="11" fill="#2d88bf"/><rect x="593" y="1246" width="12" height="10" fill="#27a0d0"/><rect x="636" y="1299" width="7" height="8" fill="#1a1a1a"/><rect x="375" y="1420" width="10" height="8" fill="#29acd9"/><rect x="990" y="1428" width="6" height="8" fill="#2893c6"/><rect x="1006" y="1365" width="11" height="9" fill="#2d88bf"/><rect x="781" y="1323" width="12" height="12" fill="#2893c6"/><rect x="783" y="1211" width="8" height="9" fill="#29acd9"/><rect x="574" y="1294" width="9" height="6" fill="#27a0d0"/><rect x="439" y="1241" width="6" height="5" fill="#2893c6"/><rect x="747" y="1243" width="11" height="12" fill="#27a0d0"/><rect x="625" y="1321" width="5" height="6" fill="#29acd9"/><rect x="622" y="1368" width="9" height="9" fill="#29acd9"/><rect x="333" y="1190" width="7" height="9" fill="#2893c6"/><rect x="1163" y="1186" width="7" height="8" fill="#2893c6"/><rect x="1119" y="1237" width="12" height="11" fill="#2d88bf"/><rect x="1069" y="1318" width="9" height="6" fill="#3a6ea4"/><rect x="775" y="1315" width="12" height="14" fill="#1a1a1a"/><rect x="323" y="1233" width="8" height="8" fill="#2893c6"/><rect x="606" y="1377" width="12" height="13" fill="#1a1a1a"/><rect x="1082" y="1227" width="12" height="13" fill="#29acd9"/><rect x="705" y="1315" width="13" height="16" fill="#2d88bf"/><rect x="679" y="1414" width="6" height="8" fill="#29acd9"/><rect x="462" y="1351" width="8" height="10" fill="#29acd9"/><rect x="350" y="1212" width="7" height="8" fill="#2d88bf"/><rect x="884" y="1234" width="9" height="10" fill="#2893c6"/><rect x="336" y="1427" width="8" height="10" fill="#3a6ea4"/><rect x="370" y="1275" width="6" height="6" fill="#3a6ea4"/><rect x="753" y="1332" width="8" height="6" fill="#3a6ea4"/><rect x="985" y="1264" width="9" height="6" fill="#29acd9"/><rect x="845" y="1173" width="9" height="10" fill="#2d88bf"/><rect x="1104" y="1344" width="11" height="14" fill="#357bb2"/><rect x="675" y="1338" width="7" height="8" fill="#2d88bf"/><rect x="768" y="1366" width="8" height="10" fill="#2893c6"/><rect x="579" y="1398" width="10" height="7" fill="#2d88bf"/><rect x="752" y="1390" width="12" height="16" fill="#2d88bf"/><rect x="298" y="1195" width="7" height="9" fill="#2d88bf"/><rect x="925" y="1169" width="6" height="6" fill="#27a0d0"/><rect x="1024" y="1329" width="9" height="10" fill="#2d88bf"/><rect x="657" y="1174" width="6" height="4" fill="#1a1a1a"/><rect x="437" y="1261" width="8" height="11" fill="#3a6ea4"/><rect x="855" y="1395" width="9" height="10" fill="#2d88bf"/><rect x="674" y="1344" width="12" height="11" fill="#2893c6"/><rect x="635" y="1406" width="9" height="12" fill="#3a6ea4"/><rect x="1059" y="1387" width="6" height="6" fill="#1a1a1a"/><rect x="793" y="1240" width="9" height="10" fill="#2d88bf"/><rect x="730" y="1417" width="9" height="12" fill="#357bb2"/><rect x="846" y="1356" width="6" height="6" fill="#357bb2"/><rect x="825" y="1296" width="9" height="9" fill="#2d88bf"/><rect x="1159" y="1274" width="7" height="9" fill="#29acd9"/><rect x="1090" y="1176" width="11" height="9" fill="#29acd9"/><rect x="873" y="1285" width="10" height="10" fill="#27a0d0"/><rect x="985" y="1205" width="12" height="11" fill="#29acd9"/><rect x="802" y="1337" width="12" height="13" fill="#27a0d0"/><rect x="520" y="1402" width="5" height="5" fill="#2893c6"/><rect x="1192" y="1314" width="11" height="13" fill="#2d88bf"/><rect x="800" y="1397" width="5" height="6" fill="#29acd9"/><rect x="728" y="1297" width="9" height="10" fill="#29acd9"/><rect x="505" y="1366" width="11" height="11" fill="#1a1a1a"/><rect x="948" y="1332" width="10" height="12" fill="#2d88bf"/><rect x="539" y="1393" width="10" height="9" fill="#1a1a1a"/><rect x="414" y="1233" width="6" height="8" fill="#3a6ea4"/><rect x="290" y="1304" width="12" height="9" fill="#27a0d0"/><rect x="510" y="1362" width="6" height="7" fill="#2d88bf"/><rect x="851" y="1301" width="5" height="5" fill="#2893c6"/><rect x="1105" y="1279" width="12" height="10" fill="#1a1a1a"/><rect x="1083" y="1166" width="8" height="8" fill="#29acd9"/><rect x="1197" y="1325" width="11" height="10" fill="#2893c6"/><rect x="619" y="1275" width="10" height="8" fill="#2893c6"/><rect x="550" y="1275" width="12" height="15" fill="#29acd9"/><rect x="853" y="1399" width="10" height="9" fill="#1a1a1a"/><rect x="973" y="1257" width="12" height="13" fill="#2d88bf"/><rect x="1138" y="1330" width="8" height="8" fill="#2d88bf"/><rect x="511" y="1199" width="12" height="16" fill="#357bb2"/><rect x="593" y="1180" width="10" height="14" fill="#2d88bf"/><rect x="1103" y="1332" width="10" height="14" fill="#1a1a1a"/><rect x="1090" y="1228" width="6" height="7" fill="#2d88bf"/><rect x="1181" y="1194" width="10" height="9" fill="#2d88bf"/><rect x="718" y="1257" width="9" height="10" fill="#29acd9"/><rect x="316" y="1325" width="10" height="13" fill="#29acd9"/><rect x="1107" y="1242" width="6" height="8" fill="#3a6ea4"/><rect x="902" y="1266" width="8" height="12" fill="#357bb2"/><rect x="858" y="1328" width="9" height="10" fill="#357bb2"/><rect x="805" y="1252" width="5" height="6" fill="#2893c6"/><rect x="975" y="1363" width="10" height="10" fill="#2d88bf"/><rect x="1044" y="1426" width="6" height="6" fill="#2893c6"/><rect x="807" y="1215" width="6" height="6" fill="#3a6ea4"/><rect x="1127" y="1366" width="8" height="6" fill="#3a6ea4"/><rect x="764" y="1294" width="6" height="8" fill="#29acd9"/><rect x="801" y="1387" width="11" height="8" fill="#29acd9"/><rect x="382" y="1269" width="10" height="11" fill="#2d88bf"/><rect x="376" y="1415" width="10" height="7" fill="#1a1a1a"/><rect x="387" y="1344" width="9" height="12" fill="#3a6ea4"/><rect x="412" y="1182" width="9" height="9" fill="#2d88bf"/><rect x="704" y="1258" width="12" height="15" fill="#2893c6"/><rect x="1176" y="1369" width="7" height="8" fill="#2d88bf"/><rect x="964" y="1166" width="8" height="7" fill="#2d88bf"/><rect x="711" y="1309" width="6" height="8" fill="#3a6ea4"/><rect x="368" y="1173" width="11" height="11" fill="#2893c6"/><rect x="427" y="1335" width="6" height="4" fill="#3a6ea4"/><rect x="748" y="1196" width="9" height="8" fill="#27a0d0"/><rect x="644" y="1213" width="10" height="11" fill="#1a1a1a"/><rect x="1036" y="1305" width="11" height="15" fill="#2d88bf"/><rect x="345" y="1315" width="12" height="10" fill="#29acd9"/><rect x="665" y="1391" width="8" height="10" fill="#1a1a1a"/><rect x="1115" y="1280" width="9" height="11" fill="#2893c6"/><rect x="355" y="1412" width="11" height="9" fill="#29acd9"/><rect x="1061" y="1342" width="8" height="8" fill="#2d88bf"/><rect x="1174" y="1385" width="8" height="9" fill="#27a0d0"/><rect x="434" y="1255" width="6" height="6" fill="#3a6ea4"/><rect x="998" y="1286" width="6" height="5" fill="#2d88bf"/><rect x="973" y="1260" width="12" height="15" fill="#357bb2"/><rect x="794" y="1325" width="13" height="10" fill="#357bb2"/><rect x="453" y="1369" width="13" height="9" fill="#27a0d0"/><rect x="781" y="1303" width="13" height="12" fill="#2d88bf"/><rect x="856" y="1204" width="10" height="12" fill="#27a0d0"/><rect x="856" y="1227" width="9" height="10" fill="#1a1a1a"/><rect x="360" y="1279" width="8" height="7" fill="#27a0d0"/><rect x="355" y="1383" width="6" height="5" fill="#29acd9"/><rect x="773" y="1375" width="9" height="13" fill="#2893c6"/><rect x="601" y="1356" width="8" height="6" fill="#2893c6"/><rect x="610" y="1225" width="12" height="12" fill="#1a1a1a"/><rect x="304" y="1196" width="13" height="10" fill="#29acd9"/><rect x="670" y="1268" width="7" height="8" fill="#1a1a1a"/><rect x="1164" y="1175" width="10" height="12" fill="#29acd9"/><rect x="838" y="1257" width="11" height="9" fill="#2d88bf"/><rect x="655" y="1293" width="6" height="8" fill="#3a6ea4"/><rect x="897" y="1396" width="8" height="8" fill="#2893c6"/><rect x="643" y="1259" width="8" height="11" fill="#29acd9"/><rect x="1136" y="1342" width="9" height="7" fill="#27a0d0"/><rect x="964" y="1402" width="5" height="6" fill="#357bb2"/><rect x="833" y="1230" width="5" height="5" fill="#29acd9"/><rect x="348" y="1194" width="11" height="13" fill="#27a0d0"/><rect x="1032" y="1430" width="12" height="14" fill="#2893c6"/><rect x="336" y="1235" width="13" height="10" fill="#29acd9"/><rect x="700" y="1226" width="9" height="8" fill="#2893c6"/><rect x="1098" y="1396" width="8" height="11" fill="#357bb2"/><rect x="609" y="1293" width="7" height="6" fill="#3a6ea4"/><rect x="934" y="1303" width="9" height="12" fill="#357bb2"/><rect x="396" y="1172" width="10" height="12" fill="#3a6ea4"/><rect x="1123" y="1171" width="10" height="7" fill="#2893c6"/><rect x="969" y="1206" width="6" height="5" fill="#2893c6"/><rect x="584" y="1239" width="6" height="6" fill="#2893c6"/><rect x="505" y="1235" width="10" height="12" fill="#27a0d0"/><rect x="770" y="1297" width="10" height="11" fill="#357bb2"/><rect x="476" y="1331" width="12" height="10" fill="#3a6ea4"/><rect x="527" y="1362" width="6" height="5" fill="#27a0d0"/><rect x="302" y="1224" width="7" height="6" fill="#27a0d0"/><rect x="612" y="1327" width="12" height="12" fill="#1a1a1a"/><rect x="622" y="1219" width="5" height="4" fill="#2893c6"/><rect x="674" y="1323" width="9" height="8" fill="#1a1a1a"/><rect x="1050" y="1314" width="12" height="12" fill="#357bb2"/><rect x="954" y="1197" width="10" height="9" fill="#29acd9"/><rect x="464" y="1183" width="8" height="7" fill="#2893c6"/><rect x="347" y="1170" width="9" height="8" fill="#2d88bf"/><rect x="448" y="1402" width="11" height="14" fill="#2d88bf"/><rect x="449" y="1237" width="8" height="6" fill="#2d88bf"/><rect x="589" y="1287" width="6" height="7" fill="#1a1a1a"/><rect x="997" y="1354" width="7" height="8" fill="#1a1a1a"/><rect x="335" y="1408" width="12" height="11" fill="#29acd9"/><rect x="563" y="1288" width="11" height="11" fill="#357bb2"/><rect x="384" y="1422" width="6" height="8" fill="#27a0d0"/><rect x="407" y="1231" width="8" height="7" fill="#2893c6"/><rect x="1029" y="1318" width="10" height="13" fill="#2893c6"/><rect x="701" y="1323" width="12" height="14" fill="#2d88bf"/><rect x="780" y="1303" width="5" height="6" fill="#2d88bf"/><rect x="354" y="1286" width="12" height="14" fill="#2893c6"/><rect x="975" y="1282" width="6" height="6" fill="#2d88bf"/><rect x="346" y="1374" width="10" height="9" fill="#3a6ea4"/><rect x="652" y="1260" width="8" height="9" fill="#29acd9"/><rect x="944" y="1196" width="11" height="13" fill="#2893c6"/><rect x="747" y="1169" width="11" height="12" fill="#1a1a1a"/><rect x="1024" y="1189" width="8" height="8" fill="#2893c6"/><rect x="1097" y="1325" width="7" height="9" fill="#1a1a1a"/><rect x="714" y="1205" width="10" height="12" fill="#2d88bf"/><rect x="896" y="1199" width="11" height="12" fill="#2893c6"/><rect x="617" y="1210" width="9" height="10" fill="#2893c6"/><rect x="691" y="1393" width="9" height="12" fill="#29acd9"/><rect x="1113" y="1233" width="10" height="13" fill="#27a0d0"/><rect x="697" y="1221" width="13" height="18" fill="#357bb2"/><rect x="438" y="1255" width="9" height="8" fill="#3a6ea4"/><rect x="1092" y="1406" width="9" height="12" fill="#2893c6"/><rect x="701" y="1369" width="7" height="8" fill="#2d88bf"/><rect x="412" y="1277" width="7" height="6" fill="#29acd9"/><rect x="573" y="1355" width="8" height="7" fill="#2893c6"/><rect x="724" y="1317" width="6" height="7" fill="#3a6ea4"/><rect x="1003" y="1187" width="11" height="12" fill="#2893c6"/><rect x="1068" y="1290" width="12" height="12" fill="#3a6ea4"/><rect x="913" y="1359" width="9" height="7" fill="#2d88bf"/><rect x="1144" y="1292" width="6" height="5" fill="#3a6ea4"/><rect x="473" y="1306" width="12" height="16" fill="#27a0d0"/><rect x="322" y="1345" width="11" height="12" fill="#2d88bf"/><rect x="916" y="1171" width="12" height="17" fill="#2d88bf"/><rect x="910" y="1356" width="11" height="9" fill="#357bb2"/><rect x="1079" y="1278" width="11" height="10" fill="#29acd9"/><rect x="351" y="1257" width="13" height="14" fill="#2893c6"/><rect x="946" y="1182" width="9" height="8" fill="#357bb2"/><rect x="923" y="1166" width="8" height="6" fill="#27a0d0"/><rect x="334" y="1368" width="8" height="6" fill="#2893c6"/><rect x="510" y="1392" width="9" height="11" fill="#3a6ea4"/><rect x="903" y="1353" width="11" height="13" fill="#357bb2"/><rect x="1176" y="1378" width="7" height="8" fill="#2893c6"/><rect x="607" y="1345" width="13" height="14" fill="#3a6ea4"/><rect x="509" y="1261" width="6" height="7" fill="#2d88bf"/><rect x="396" y="1279" width="12" height="10" fill="#1a1a1a"/><rect x="353" y="1275" width="10" height="8" fill="#2d88bf"/><rect x="1167" y="1264" width="10" height="10" fill="#357bb2"/><rect x="653" y="1234" width="9" height="8" fill="#2893c6"/><rect x="955" y="1420" width="11" height="11" fill="#29acd9"/><rect x="353" y="1277" width="10" height="9" fill="#29acd9"/><rect x="774" y="1360" width="8" height="7" fill="#2d88bf"/><rect x="854" y="1167" width="5" height="6" fill="#27a0d0"/><rect x="1118" y="1402" width="13" height="9" fill="#3a6ea4"/><rect x="421" y="1205" width="6" height="8" fill="#27a0d0"/><rect x="866" y="1391" width="9" height="6" fill="#27a0d0"/><rect x="640" y="1358" width="7" height="7" fill="#2d88bf"/><rect x="542" y="1414" width="10" height="10" fill="#2893c6"/><rect x="1062" y="1348" width="6" height="5" fill="#2d88bf"/><rect x="473" y="1327" width="6" height="5" fill="#1a1a1a"/><rect x="682" y="1223" width="5" height="7" fill="#2d88bf"/><rect x="419" y="1221" width="11" height="15" fill="#3a6ea4"/><rect x="891" y="1186" width="8" height="6" fill="#27a0d0"/><rect x="1023" y="1295" width="6" height="5" fill="#3a6ea4"/><rect x="432" y="1177" width="13" height="17" fill="#2d88bf"/><rect x="514" y="1220" width="10" height="12" fill="#2893c6"/><rect x="750" y="1165" width="11" height="12" fill="#1a1a1a"/><rect x="524" y="1301" width="8" height="11" fill="#2d88bf"/><rect x="910" y="1166" width="12" height="10" fill="#2d88bf"/><rect x="619" y="1317" width="12" height="15" fill="#2d88bf"/><rect x="736" y="1166" width="6" height="7" fill="#29acd9"/><rect x="851" y="1378" width="13" height="9" fill="#2893c6"/><rect x="732" y="1238" width="12" height="16" fill="#29acd9"/><rect x="1154" y="1195" width="12" height="12" fill="#29acd9"/><rect x="397" y="1239" width="10" height="8" fill="#1a1a1a"/><rect x="878" y="1211" width="6" height="7" fill="#1a1a1a"/><rect x="1080" y="1401" width="11" height="10" fill="#29acd9"/><rect x="1197" y="1202" width="6" height="5" fill="#2d88bf"/><rect x="545" y="1295" width="9" height="9" fill="#2893c6"/><rect x="331" y="1179" width="7" height="7" fill="#2d88bf"/><rect x="1030" y="1365" width="10" height="11" fill="#2d88bf"/><rect x="1163" y="1209" width="8" height="10" fill="#2893c6"/><rect x="900" y="1224" width="11" height="14" fill="#357bb2"/><rect x="599" y="1197" width="8" height="11" fill="#2893c6"/><rect x="890" y="1348" width="11" height="14" fill="#27a0d0"/><rect x="755" y="1382" width="9" height="12" fill="#2d88bf"/><rect x="641" y="1202" width="10" height="12" fill="#1a1a1a"/><rect x="1190" y="1266" width="9" height="12" fill="#3a6ea4"/><rect x="938" y="1299" width="9" height="7" fill="#29acd9"/><rect x="1034" y="1276" width="6" height="6" fill="#1a1a1a"/><rect x="1056" y="1345" width="12" height="12" fill="#27a0d0"/><rect x="466" y="1372" width="9" height="13" fill="#2d88bf"/><rect x="512" y="1374" width="10" height="8" fill="#2893c6"/><rect x="821" y="1166" width="6" height="6" fill="#1a1a1a"/><rect x="1124" y="1236" width="9" height="9" fill="#2d88bf"/><rect x="290" y="1348" width="7" height="5" fill="#2d88bf"/><rect x="1066" y="1343" width="7" height="7" fill="#357bb2"/><rect x="404" y="1195" width="13" height="13" fill="#2d88bf"/><rect x="878" y="1385" width="10" height="8" fill="#1a1a1a"/><rect x="524" y="1203" width="11" height="8" fill="#29acd9"/><rect x="1066" y="1353" width="13" height="13" fill="#2d88bf"/><rect x="403" y="1302" width="9" height="7" fill="#2893c6"/><rect x="718" y="1402" width="7" height="8" fill="#357bb2"/><rect x="1177" y="1200" width="9" height="10" fill="#2d88bf"/><rect x="436" y="1217" width="9" height="8" fill="#2d88bf"/><rect x="667" y="1387" width="8" height="8" fill="#2d88bf"/><rect x="484" y="1393" width="8" height="9" fill="#2893c6"/><rect x="332" y="1296" width="10" height="7" fill="#27a0d0"/><rect x="322" y="1248" width="8" height="8" fill="#2d88bf"/><rect x="707" y="1377" width="6" height="5" fill="#2893c6"/><rect x="386" y="1287" width="13" height="9" fill="#357bb2"/><rect x="356" y="1233" width="11" height="11" fill="#1a1a1a"/><rect x="476" y="1294" width="11" height="14" fill="#2893c6"/><rect x="825" y="1274" width="8" height="7" fill="#2d88bf"/><rect x="382" y="1205" width="13" height="16" fill="#27a0d0"/><rect x="433" y="1170" width="8" height="6" fill="#2d88bf"/><rect x="1123" y="1215" width="7" height="9" fill="#2d88bf"/><rect x="594" y="1411" width="7" height="7" fill="#2d88bf"/><rect x="521" y="1334" width="12" height="14" fill="#29acd9"/><rect x="706" y="1251" width="5" height="5" fill="#27a0d0"/><rect x="1066" y="1266" width="5" height="6" fill="#2893c6"/><rect x="897" y="1258" width="6" height="7" fill="#27a0d0"/><rect x="1154" y="1198" width="5" height="6" fill="#2d88bf"/><rect x="874" y="1352" width="11" height="14" fill="#3a6ea4"/><rect x="341" y="1263" width="8" height="10" fill="#357bb2"/><rect x="1193" y="1264" width="7" height="6" fill="#29acd9"/><rect x="434" y="1345" width="11" height="12" fill="#3a6ea4"/><rect x="1191" y="1297" width="8" height="8" fill="#2d88bf"/><rect x="845" y="1299" width="8" height="10" fill="#357bb2"/><rect x="533" y="1261" width="12" height="9" fill="#27a0d0"/><rect x="650" y="1260" width="10" height="9" fill="#357bb2"/><rect x="787" y="1352" width="9" height="9" fill="#27a0d0"/><rect x="648" y="1319" width="9" height="12" fill="#3a6ea4"/><rect x="769" y="1266" width="9" height="10" fill="#2d88bf"/><rect x="686" y="1210" width="9" height="8" fill="#2d88bf"/><rect x="1104" y="1374" width="7" height="6" fill="#2893c6"/><rect x="759" y="1251" width="8" height="8" fill="#29acd9"/><rect x="737" y="1317" width="13" height="9" fill="#27a0d0"/><rect x="605" y="1327" width="6" height="7" fill="#3a6ea4"/><rect x="976" y="1267" width="9" height="9" fill="#27a0d0"/><rect x="636" y="1167" width="5" height="4" fill="#2d88bf"/><rect x="706" y="1224" width="9" height="8" fill="#357bb2"/><rect x="780" y="1322" width="13" height="13" fill="#2d88bf"/><rect x="430" y="1243" width="11" height="13" fill="#1a1a1a"/><rect x="651" y="1421" width="7" height="6" fill="#357bb2"/><rect x="1003" y="1391" width="7" height="7" fill="#2d88bf"/><rect x="326" y="1357" width="11" height="14" fill="#2d88bf"/><rect x="609" y="1242" width="11" height="9" fill="#2893c6"/><rect x="513" y="1239" width="11" height="10" fill="#357bb2"/><rect x="417" y="1177" width="6" height="8" fill="#29acd9"/><rect x="949" y="1172" width="11" height="12" fill="#3a6ea4"/><rect x="1013" y="1405" width="6" height="5" fill="#2d88bf"/><rect x="893" y="1340" width="8" height="10" fill="#2d88bf"/><rect x="855" y="1337" width="5" height="5" fill="#27a0d0"/><rect x="777" y="1223" width="12" height="12" fill="#2d88bf"/><rect x="721" y="1289" width="11" height="13" fill="#2893c6"/><rect x="989" y="1330" width="6" height="4" fill="#2893c6"/><rect x="1042" y="1318" width="12" height="14" fill="#2d88bf"/><rect x="649" y="1206" width="8" height="7" fill="#1a1a1a"/><rect x="482" y="1343" width="8" height="6" fill="#2d88bf"/><rect x="506" y="1197" width="5" height="4" fill="#2d88bf"/><rect x="344" y="1241" width="9" height="11" fill="#1a1a1a"/><rect x="352" y="1380" width="7" height="7" fill="#357bb2"/><rect x="805" y="1274" width="9" height="8" fill="#29acd9"/><rect x="629" y="1288" width="11" height="14" fill="#2d88bf"/><rect x="465" y="1241" width="5" height="5" fill="#2893c6"/><rect x="1045" y="1341" width="9" height="12" fill="#29acd9"/><rect x="1120" y="1319" width="11" height="9" fill="#2d88bf"/><rect x="729" y="1430" width="7" height="7" fill="#357bb2"/><rect x="634" y="1239" width="10" height="9" fill="#2893c6"/><rect x="983" y="1407" width="13" height="16" fill="#357bb2"/><rect x="1139" y="1279" width="6" height="7" fill="#27a0d0"/><rect x="334" y="1247" width="9" height="11" fill="#3a6ea4"/><rect x="638" y="1305" width="7" height="7" fill="#2893c6"/><rect x="1157" y="1173" width="9" height="9" fill="#2d88bf"/><rect x="451" y="1427" width="7" height="5" fill="#2d88bf"/><rect x="1098" y="1220" width="6" height="6" fill="#27a0d0"/><rect x="743" y="1284" width="8" height="11" fill="#2d88bf"/><rect x="1021" y="1326" width="8" height="11" fill="#29acd9"/><rect x="495" y="1272" width="10" height="9" fill="#27a0d0"/><rect x="1091" y="1200" width="10" height="8" fill="#1a1a1a"/><rect x="1077" y="1210" width="10" height="13" fill="#2893c6"/><rect x="786" y="1377" width="9" height="9" fill="#2893c6"/><rect x="867" y="1267" width="9" height="9" fill="#2893c6"/><rect x="716" y="1410" width="7" height="8" fill="#29acd9"/><rect x="980" y="1187" width="6" height="8" fill="#357bb2"/><rect x="666" y="1183" width="13" height="15" fill="#2893c6"/><rect x="534" y="1177" width="9" height="9" fill="#357bb2"/><rect x="970" y="1194" width="12" height="16" fill="#1a1a1a"/><rect x="393" y="1328" width="13" height="10" fill="#2893c6"/><rect x="591" y="1430" width="12" height="9" fill="#2d88bf"/><rect x="433" y="1228" width="10" height="10" fill="#2893c6"/><rect x="1189" y="1306" width="7" height="6" fill="#1a1a1a"/><rect x="1086" y="1378" width="8" height="9" fill="#27a0d0"/><rect x="340" y="1169" width="6" height="8" fill="#2893c6"/><rect x="615" y="1332" width="12" height="15" fill="#2893c6"/><rect x="969" y="1393" width="6" height="5" fill="#29acd9"/><rect x="615" y="1328" width="10" height="9" fill="#2d88bf"/><rect x="1053" y="1354" width="12" height="10" fill="#2d88bf"/><rect x="1191" y="1264" width="8" height="11" fill="#3a6ea4"/><rect x="506" y="1224" width="12" height="12" fill="#2d88bf"/><rect x="985" y="1378" width="9" height="12" fill="#2893c6"/><rect x="864" y="1223" width="10" height="11" fill="#2893c6"/><rect x="791" y="1384" width="6" height="7" fill="#3a6ea4"/><rect x="378" y="1168" width="10" height="10" fill="#27a0d0"/><rect x="410" y="1317" width="13" height="12" fill="#27a0d0"/><rect x="899" y="1231" width="10" height="13" fill="#357bb2"/><rect x="609" y="1355" width="9" height="8" fill="#1a1a1a"/><rect x="696" y="1237" width="8" height="7" fill="#3a6ea4"/><rect x="958" y="1421" width="11" height="9" fill="#29acd9"/><rect x="943" y="1388" width="7" height="8" fill="#1a1a1a"/><rect x="1109" y="1189" width="13" height="13" fill="#29acd9"/><rect x="1018" y="1286" width="6" height="8" fill="#27a0d0"/><rect x="656" y="1184" width="10" height="12" fill="#29acd9"/><rect x="868" y="1383" width="12" height="15" fill="#2d88bf"/><rect x="902" y="1349" width="11" height="10" fill="#357bb2"/><rect x="938" y="1209" width="5" height="4" fill="#2d88bf"/><rect x="312" y="1407" width="8" height="7" fill="#3a6ea4"/><rect x="816" y="1296" width="13" height="10" fill="#2893c6"/><rect x="812" y="1248" width="12" height="11" fill="#29acd9"/><rect x="811" y="1235" width="10" height="10" fill="#2d88bf"/><rect x="1160" y="1220" width="5" height="7" fill="#29acd9"/><rect x="400" y="1391" width="7" height="6" fill="#2d88bf"/><rect x="359" y="1279" width="9" height="7" fill="#2893c6"/><rect x="935" y="1241" width="5" height="5" fill="#29acd9"/><rect x="961" y="1311" width="7" height="7" fill="#357bb2"/><rect x="1182" y="1178" width="7" height="7" fill="#3a6ea4"/><rect x="1124" y="1217" width="6" height="6" fill="#2d88bf"/><rect x="536" y="1325" width="7" height="6" fill="#2d88bf"/><rect x="1193" y="1390" width="7" height="6" fill="#357bb2"/><rect x="1085" y="1286" width="11" height="11" fill="#2d88bf"/><rect x="344" y="1315" width="10" height="7" fill="#2893c6"/><rect x="1030" y="1257" width="8" height="10" fill="#2d88bf"/><rect x="1086" y="1200" width="10" height="8" fill="#357bb2"/><rect x="574" y="1213" width="8" height="8" fill="#2893c6"/><rect x="1156" y="1175" width="7" height="7" fill="#2893c6"/><rect x="632" y="1367" width="6" height="8" fill="#2d88bf"/><rect x="301" y="1335" width="10" height="13" fill="#27a0d0"/><rect x="1069" y="1326" width="10" height="8" fill="#2d88bf"/><rect x="1135" y="1425" width="9" height="9" fill="#2893c6"/><rect x="316" y="1308" width="11" height="10" fill="#27a0d0"/><rect x="796" y="1171" width="6" height="5" fill="#29acd9"/><rect x="965" y="1339" width="11" height="10" fill="#2d88bf"/><rect x="1128" y="1227" width="7" height="7" fill="#2893c6"/><rect x="912" y="1337" width="12" height="9" fill="#2893c6"/><rect x="417" y="1280" width="11" height="13" fill="#2893c6"/><rect x="924" y="1190" width="12" height="8" fill="#2d88bf"/><rect x="1137" y="1227" width="9" height="12" fill="#29acd9"/><rect x="470" y="1283" width="12" height="11" fill="#29acd9"/><rect x="430" y="1301" width="9" height="11" fill="#357bb2"/><rect x="382" y="1294" width="8" height="6" fill="#2893c6"/><rect x="1012" y="1178" width="12" height="10" fill="#2893c6"/><rect x="968" y="1270" width="8" height="8" fill="#27a0d0"/><rect x="822" y="1236" width="6" height="6" fill="#3a6ea4"/><rect x="645" y="1248" width="13" height="16" fill="#2d88bf"/><rect x="361" y="1246" width="9" height="8" fill="#2d88bf"/><rect x="623" y="1309" width="11" height="15" fill="#2d88bf"/><rect x="699" y="1411" width="6" height="5" fill="#3a6ea4"/><rect x="606" y="1205" width="6" height="7" fill="#357bb2"/><rect x="534" y="1310" width="5" height="5" fill="#2d88bf"/><rect x="310" y="1355" width="7" height="9" fill="#2893c6"/><rect x="1115" y="1295" width="10" height="8" fill="#1a1a1a"/><rect x="313" y="1350" width="9" height="9" fill="#2d88bf"/><rect x="1056" y="1358" width="9" height="11" fill="#2d88bf"/><rect x="330" y="1394" width="9" height="7" fill="#2893c6"/><rect x="714" y="1318" width="10" height="9" fill="#2893c6"/><rect x="914" y="1305" width="8" height="11" fill="#2893c6"/><rect x="827" y="1311" width="11" height="9" fill="#2d88bf"/><rect x="831" y="1292" width="12" height="12" fill="#2d88bf"/><rect x="1031" y="1303" width="6" height="6" fill="#27a0d0"/><rect x="866" y="1421" width="7" height="7" fill="#2d88bf"/><rect x="1051" y="1324" width="9" height="8" fill="#2d88bf"/><rect x="1060" y="1319" width="13" height="15" fill="#2893c6"/><rect x="830" y="1239" width="12" height="11" fill="#27a0d0"/><rect x="1016" y="1265" width="12" height="9" fill="#2893c6"/><rect x="451" y="1337" width="7" height="7" fill="#1a1a1a"/><rect x="826" y="1424" width="11" height="13" fill="#2d88bf"/><rect x="452" y="1427" width="9" height="9" fill="#1a1a1a"/><rect x="940" y="1383" width="10" height="11" fill="#357bb2"/><rect x="805" y="1376" width="7" height="5" fill="#2893c6"/><rect x="863" y="1327" width="7" height="9" fill="#2893c6"/><rect x="1054" y="1220" width="8" height="10" fill="#29acd9"/><rect x="626" y="1404" width="5" height="6" fill="#3a6ea4"/><rect x="940" y="1249" width="9" height="7" fill="#2d88bf"/><rect x="689" y="1288" width="12" height="13" fill="#2d88bf"/><rect x="834" y="1214" width="12" height="10" fill="#3a6ea4"/><rect x="943" y="1371" width="6" height="6" fill="#3a6ea4"/><rect x="889" y="1405" width="7" height="7" fill="#2893c6"/><rect x="819" y="1212" width="10" height="8" fill="#29acd9"/><rect x="958" y="1211" width="6" height="4" fill="#2d88bf"/><rect x="723" y="1271" width="11" height="14" fill="#2893c6"/><rect x="1179" y="1376" width="11" height="8" fill="#357bb2"/><rect x="701" y="1284" width="10" height="9" fill="#357bb2"/><rect x="348" y="1248" width="6" height="6" fill="#1a1a1a"/><rect x="684" y="1400" width="10" height="8" fill="#1a1a1a"/><rect x="749" y="1326" width="13" height="12" fill="#2893c6"/><rect x="848" y="1225" width="6" height="7" fill="#2893c6"/><rect x="1183" y="1333" width="12" height="14" fill="#2893c6"/><rect x="1064" y="1209" width="13" height="17" fill="#2893c6"/><rect x="646" y="1330" width="5" height="5" fill="#3a6ea4"/><rect x="390" y="1178" width="11" height="12" fill="#29acd9"/><rect x="409" y="1233" width="12" height="17" fill="#2d88bf"/><rect x="872" y="1235" width="6" height="7" fill="#1a1a1a"/><rect x="792" y="1327" width="7" height="9" fill="#2d88bf"/><rect x="994" y="1310" width="5" height="5" fill="#27a0d0"/><rect x="778" y="1356" width="11" height="11" fill="#2d88bf"/><rect x="1028" y="1273" width="8" height="10" fill="#2d88bf"/><rect x="368" y="1225" width="13" height="14" fill="#3a6ea4"/><rect x="657" y="1306" width="12" height="9" fill="#1a1a1a"/><rect x="1042" y="1221" width="10" height="7" fill="#1a1a1a"/><rect x="299" y="1329" width="7" height="7" fill="#3a6ea4"/><rect x="326" y="1334" width="12" height="14" fill="#29acd9"/><rect x="671" y="1200" width="8" height="11" fill="#29acd9"/><rect x="349" y="1232" width="5" height="4" fill="#2d88bf"/><rect x="535" y="1208" width="5" height="5" fill="#1a1a1a"/><rect x="575" y="1245" width="13" height="13" fill="#1a1a1a"/><rect x="1017" y="1402" width="12" height="12" fill="#3a6ea4"/><rect x="362" y="1343" width="7" height="5" fill="#2893c6"/><rect x="1036" y="1371" width="7" height="10" fill="#357bb2"/><rect x="411" y="1302" width="11" height="11" fill="#29acd9"/><rect x="1047" y="1227" width="12" height="16" fill="#3a6ea4"/><rect x="781" y="1265" width="10" height="9" fill="#27a0d0"/><rect x="1004" y="1416" width="6" height="7" fill="#2d88bf"/><rect x="1114" y="1231" width="10" height="7" fill="#2893c6"/><rect x="329" y="1392" width="6" height="8" fill="#3a6ea4"/><rect x="1031" y="1308" width="10" height="11" fill="#357bb2"/><rect x="1097" y="1279" width="9" height="8" fill="#1a1a1a"/><rect x="697" y="1321" width="13" height="16" fill="#357bb2"/><rect x="820" y="1316" width="10" height="12" fill="#1a1a1a"/><rect x="502" y="1214" width="10" height="9" fill="#357bb2"/><rect x="879" y="1255" width="13" height="16" fill="#2893c6"/><rect x="428" y="1312" width="8" height="6" fill="#27a0d0"/><rect x="972" y="1381" width="6" height="7" fill="#2893c6"/><rect x="435" y="1226" width="6" height="8" fill="#3a6ea4"/><rect x="703" y="1254" width="8" height="6" fill="#2893c6"/><rect x="676" y="1292" width="7" height="9" fill="#29acd9"/><rect x="881" y="1349" width="9" height="11" fill="#29acd9"/><rect x="983" y="1395" width="12" height="13" fill="#1a1a1a"/><rect x="867" y="1380" width="11" height="14" fill="#29acd9"/><rect x="1092" y="1278" width="13" height="13" fill="#2d88bf"/><rect x="394" y="1416" width="8" height="10" fill="#1a1a1a"/><rect x="542" y="1236" width="5" height="6" fill="#1a1a1a"/><rect x="822" y="1234" width="10" height="9" fill="#27a0d0"/><rect x="880" y="1359" width="13" height="12" fill="#27a0d0"/><rect x="960" y="1255" width="7" height="9" fill="#27a0d0"/><rect x="695" y="1415" width="10" height="11" fill="#3a6ea4"/><rect x="1164" y="1279" width="11" height="10" fill="#2d88bf"/><rect x="635" y="1341" width="12" height="13" fill="#2893c6"/><rect x="694" y="1370" width="11" height="13" fill="#2893c6"/><rect x="969" y="1280" width="12" height="16" fill="#2d88bf"/><rect x="809" y="1278" width="11" height="12" fill="#2d88bf"/><rect x="548" y="1248" width="7" height="6" fill="#29acd9"/><rect x="1105" y="1320" width="6" height="5" fill="#3a6ea4"/><rect x="788" y="1201" width="7" height="8" fill="#2893c6"/><rect x="455" y="1304" width="10" height="11" fill="#27a0d0"/><rect x="753" y="1166" width="12" height="14" fill="#2d88bf"/><rect x="753" y="1286" width="8" height="6" fill="#2893c6"/><rect x="406" y="1214" width="11" height="13" fill="#3a6ea4"/><rect x="742" y="1227" width="10" height="13" fill="#2d88bf"/><rect x="435" y="1263" width="8" height="8" fill="#27a0d0"/><rect x="719" y="1168" width="6" height="9" fill="#357bb2"/><rect x="485" y="1252" width="8" height="6" fill="#2d88bf"/><rect x="605" y="1324" width="7" height="7" fill="#27a0d0"/><rect x="588" y="1381" width="8" height="9" fill="#29acd9"/><rect x="1182" y="1303" width="5" height="4" fill="#3a6ea4"/><rect x="652" y="1200" width="10" height="10" fill="#357bb2"/><rect x="540" y="1174" width="7" height="8" fill="#2d88bf"/><rect x="346" y="1252" width="9" height="10" fill="#27a0d0"/><rect x="941" y="1366" width="12" height="15" fill="#1a1a1a"/><rect x="308" y="1302" width="9" height="7" fill="#3a6ea4"/><rect x="993" y="1168" width="8" height="7" fill="#2893c6"/><rect x="856" y="1344" width="11" height="10" fill="#2893c6"/><rect x="935" y="1334" width="8" height="7" fill="#27a0d0"/><rect x="933" y="1264" width="8" height="9" fill="#1a1a1a"/><rect x="383" y="1277" width="6" height="6" fill="#1a1a1a"/><rect x="1169" y="1243" width="10" height="9" fill="#357bb2"/><rect x="601" y="1217" width="12" height="10" fill="#357bb2"/><rect x="331" y="1257" width="9" height="9" fill="#3a6ea4"/></g>
<path d="M573.0,1410.0 L590.0,1402.0 L610.0,1400.0 L630.0,1405.0 L640.0,1415.0 L648.0,1430.0 L645.0,1450.0 L635.0,1462.0 L620.0,1470.0 L600.0,1468.0 L585.0,1460.0 L575.0,1445.0 L572.0,1425.0Z" fill="#2f86bd" />
<clipPath id="c93072132"><path d="M573.0,1410.0 L590.0,1402.0 L610.0,1400.0 L630.0,1405.0 L640.0,1415.0 L648.0,1430.0 L645.0,1450.0 L635.0,1462.0 L620.0,1470.0 L600.0,1468.0 L585.0,1460.0 L575.0,1445.0 L572.0,1425.0Z"/></clipPath><g clip-path="url(#c93072132)"><rect x="610" y="1460" width="8" height="8" fill="#27a0d0"/><rect x="578" y="1469" width="6" height="8" fill="#2d88bf"/><rect x="643" y="1436" width="12" height="10" fill="#1a1a1a"/><rect x="616" y="1408" width="6" height="6" fill="#2d88bf"/><rect x="609" y="1447" width="8" height="11" fill="#2d88bf"/><rect x="631" y="1462" width="9" height="8" fill="#2d88bf"/><rect x="624" y="1464" width="7" height="8" fill="#27a0d0"/><rect x="577" y="1445" width="5" height="7" fill="#2d88bf"/><rect x="633" y="1465" width="8" height="8" fill="#27a0d0"/><rect x="621" y="1421" width="10" height="7" fill="#27a0d0"/><rect x="614" y="1437" width="10" height="12" fill="#357bb2"/><rect x="573" y="1417" width="7" height="9" fill="#357bb2"/><rect x="626" y="1435" width="9" height="9" fill="#27a0d0"/><rect x="593" y="1433" width="12" height="13" fill="#357bb2"/><rect x="600" y="1446" width="10" height="7" fill="#27a0d0"/><rect x="596" y="1453" width="10" height="11" fill="#2d88bf"/><rect x="626" y="1415" width="6" height="8" fill="#357bb2"/><rect x="602" y="1436" width="7" height="9" fill="#27a0d0"/><rect x="587" y="1413" width="5" height="7" fill="#1a1a1a"/><rect x="631" y="1446" width="11" height="16" fill="#2d88bf"/><rect x="610" y="1452" width="6" height="6" fill="#2d88bf"/><rect x="597" y="1456" width="7" height="8" fill="#357bb2"/><rect x="639" y="1467" width="9" height="8" fill="#357bb2"/><rect x="634" y="1411" width="7" height="9" fill="#2893c6"/><rect x="617" y="1449" width="10" height="9" fill="#2d88bf"/><rect x="645" y="1434" width="12" height="16" fill="#2893c6"/><rect x="625" y="1458" width="6" height="8" fill="#2d88bf"/><rect x="638" y="1462" width="7" height="6" fill="#27a0d0"/><rect x="599" y="1420" width="11" height="9" fill="#2893c6"/><rect x="591" y="1453" width="8" height="9" fill="#27a0d0"/><rect x="616" y="1464" width="7" height="7" fill="#27a0d0"/><rect x="634" y="1418" width="6" height="4" fill="#2893c6"/><rect x="626" y="1458" width="10" height="11" fill="#2d88bf"/><rect x="573" y="1420" width="6" height="8" fill="#357bb2"/><rect x="642" y="1438" width="6" height="6" fill="#27a0d0"/><rect x="648" y="1440" width="11" height="10" fill="#2d88bf"/><rect x="632" y="1420" width="7" height="5" fill="#27a0d0"/><rect x="643" y="1405" width="6" height="8" fill="#2893c6"/><rect x="646" y="1462" width="11" height="11" fill="#2d88bf"/><rect x="600" y="1444" width="10" height="14" fill="#2893c6"/><rect x="609" y="1449" width="7" height="9" fill="#357bb2"/><rect x="612" y="1432" width="10" height="9" fill="#27a0d0"/><rect x="613" y="1450" width="7" height="5" fill="#27a0d0"/><rect x="591" y="1464" width="5" height="4" fill="#27a0d0"/><rect x="599" y="1414" width="7" height="6" fill="#2893c6"/><rect x="610" y="1406" width="11" height="10" fill="#2d88bf"/><rect x="646" y="1417" width="7" height="10" fill="#2d88bf"/><rect x="573" y="1448" width="12" height="9" fill="#2893c6"/><rect x="588" y="1453" width="5" height="6" fill="#27a0d0"/><rect x="640" y="1427" width="9" height="8" fill="#357bb2"/><rect x="625" y="1442" width="9" height="12" fill="#357bb2"/><rect x="582" y="1436" width="6" height="6" fill="#357bb2"/><rect x="618" y="1464" width="11" height="11" fill="#357bb2"/><rect x="606" y="1448" width="8" height="8" fill="#27a0d0"/><rect x="576" y="1436" width="9" height="8" fill="#357bb2"/><rect x="617" y="1418" width="10" height="9" fill="#1a1a1a"/><rect x="589" y="1433" width="9" height="7" fill="#2893c6"/><rect x="579" y="1433" width="10" height="8" fill="#27a0d0"/><rect x="621" y="1426" width="7" height="8" fill="#2d88bf"/><rect x="648" y="1443" width="9" height="8" fill="#2d88bf"/></g>
<path d="M560.0,1455.0 L585.0,1452.0 L610.0,1460.0 L630.0,1470.0 L632.0,1485.0 L615.0,1492.0 L590.0,1493.0 L570.0,1488.0 L558.0,1475.0Z" fill="#2f86bd" />
<clipPath id="c55932325"><path d="M560.0,1455.0 L585.0,1452.0 L610.0,1460.0 L630.0,1470.0 L632.0,1485.0 L615.0,1492.0 L590.0,1493.0 L570.0,1488.0 L558.0,1475.0Z"/></clipPath><g clip-path="url(#c55932325)"><rect x="612" y="1480" width="11" height="11" fill="#2d88bf"/><rect x="616" y="1483" width="9" height="9" fill="#1a1a1a"/><rect x="569" y="1472" width="9" height="10" fill="#2d88bf"/><rect x="588" y="1474" width="5" height="6" fill="#2893c6"/><rect x="610" y="1485" width="5" height="7" fill="#27a0d0"/><rect x="595" y="1475" width="6" height="4" fill="#357bb2"/><rect x="576" y="1490" width="7" height="10" fill="#357bb2"/><rect x="631" y="1469" width="10" height="11" fill="#27a0d0"/><rect x="568" y="1468" width="11" height="14" fill="#27a0d0"/><rect x="588" y="1470" width="8" height="9" fill="#2d88bf"/><rect x="561" y="1477" width="11" height="11" fill="#27a0d0"/><rect x="628" y="1465" width="8" height="10" fill="#27a0d0"/><rect x="609" y="1464" width="7" height="9" fill="#2d88bf"/><rect x="564" y="1468" width="7" height="8" fill="#2893c6"/><rect x="627" y="1470" width="5" height="6" fill="#357bb2"/><rect x="625" y="1476" width="11" height="15" fill="#2d88bf"/><rect x="559" y="1487" width="8" height="8" fill="#2d88bf"/><rect x="598" y="1462" width="7" height="10" fill="#357bb2"/><rect x="577" y="1472" width="6" height="6" fill="#2893c6"/><rect x="614" y="1482" width="9" height="12" fill="#1a1a1a"/><rect x="599" y="1462" width="8" height="7" fill="#357bb2"/><rect x="606" y="1462" width="6" height="7" fill="#357bb2"/><rect x="573" y="1470" width="10" height="7" fill="#2d88bf"/><rect x="563" y="1483" width="11" height="13" fill="#2893c6"/><rect x="583" y="1452" width="12" height="9" fill="#2d88bf"/><rect x="630" y="1466" width="5" height="5" fill="#27a0d0"/><rect x="590" y="1486" width="5" height="4" fill="#2893c6"/><rect x="606" y="1467" width="8" height="7" fill="#2893c6"/><rect x="606" y="1467" width="10" height="10" fill="#27a0d0"/><rect x="630" y="1465" width="8" height="9" fill="#2d88bf"/><rect x="627" y="1478" width="8" height="7" fill="#357bb2"/><rect x="599" y="1477" width="7" height="6" fill="#2893c6"/><rect x="590" y="1479" width="11" height="10" fill="#2d88bf"/><rect x="603" y="1483" width="8" height="6" fill="#2d88bf"/><rect x="572" y="1473" width="11" height="10" fill="#357bb2"/><rect x="625" y="1472" width="9" height="11" fill="#2893c6"/><rect x="562" y="1472" width="8" height="7" fill="#357bb2"/><rect x="610" y="1465" width="6" height="9" fill="#2d88bf"/><rect x="610" y="1463" width="11" height="9" fill="#2893c6"/><rect x="577" y="1470" width="10" height="13" fill="#2893c6"/><rect x="596" y="1460" width="10" height="14" fill="#27a0d0"/><rect x="569" y="1480" width="7" height="8" fill="#2893c6"/><rect x="628" y="1465" width="6" height="7" fill="#27a0d0"/><rect x="631" y="1455" width="9" height="8" fill="#357bb2"/><rect x="611" y="1484" width="12" height="12" fill="#27a0d0"/><rect x="559" y="1475" width="6" height="7" fill="#2d88bf"/><rect x="585" y="1481" width="6" height="7" fill="#27a0d0"/><rect x="559" y="1470" width="11" height="11" fill="#2893c6"/><rect x="632" y="1492" width="9" height="12" fill="#2893c6"/><rect x="593" y="1454" width="6" height="7" fill="#357bb2"/><rect x="621" y="1485" width="8" height="11" fill="#2893c6"/><rect x="623" y="1480" width="8" height="6" fill="#357bb2"/><rect x="573" y="1464" width="8" height="6" fill="#27a0d0"/><rect x="580" y="1471" width="7" height="9" fill="#357bb2"/><rect x="591" y="1452" width="6" height="7" fill="#2d88bf"/><rect x="582" y="1479" width="10" height="7" fill="#357bb2"/><rect x="599" y="1482" width="12" height="10" fill="#2893c6"/><rect x="578" y="1480" width="8" height="8" fill="#2893c6"/><rect x="572" y="1456" width="12" height="9" fill="#27a0d0"/><rect x="623" y="1473" width="5" height="5" fill="#357bb2"/></g>
<path d="M700.0,1400.0 L715.0,1385.0 L735.0,1378.0 L760.0,1370.0 L790.0,1372.0 L800.0,1385.0 L775.0,1395.0 L760.0,1420.0 L755.0,1450.0 L740.0,1462.0 L720.0,1458.0 L705.0,1440.0 L700.0,1420.0Z" fill="#2f86bd" />
<clipPath id="c29140441"><path d="M700.0,1400.0 L715.0,1385.0 L735.0,1378.0 L760.0,1370.0 L790.0,1372.0 L800.0,1385.0 L775.0,1395.0 L760.0,1420.0 L755.0,1450.0 L740.0,1462.0 L720.0,1458.0 L705.0,1440.0 L700.0,1420.0Z"/></clipPath><g clip-path="url(#c29140441)"><rect x="724" y="1459" width="5" height="6" fill="#27a0d0"/><rect x="710" y="1409" width="12" height="14" fill="#27a0d0"/><rect x="795" y="1379" width="8" height="11" fill="#357bb2"/><rect x="767" y="1412" width="11" height="10" fill="#2893c6"/><rect x="707" y="1412" width="11" height="12" fill="#2d88bf"/><rect x="732" y="1379" width="12" height="15" fill="#357bb2"/><rect x="788" y="1377" width="10" height="9" fill="#1a1a1a"/><rect x="781" y="1404" width="6" height="6" fill="#2d88bf"/><rect x="793" y="1440" width="9" height="12" fill="#2893c6"/><rect x="712" y="1384" width="12" height="13" fill="#27a0d0"/><rect x="740" y="1423" width="8" height="7" fill="#2893c6"/><rect x="744" y="1442" width="11" height="10" fill="#27a0d0"/><rect x="718" y="1404" width="11" height="12" fill="#2893c6"/><rect x="762" y="1394" width="11" height="13" fill="#357bb2"/><rect x="786" y="1447" width="10" height="7" fill="#27a0d0"/><rect x="705" y="1411" width="9" height="8" fill="#1a1a1a"/><rect x="730" y="1437" width="6" height="7" fill="#27a0d0"/><rect x="762" y="1441" width="8" height="7" fill="#2893c6"/><rect x="774" y="1451" width="6" height="8" fill="#357bb2"/><rect x="724" y="1387" width="7" height="6" fill="#357bb2"/><rect x="765" y="1449" width="10" height="11" fill="#357bb2"/><rect x="777" y="1415" width="6" height="4" fill="#357bb2"/><rect x="711" y="1397" width="10" height="12" fill="#2893c6"/><rect x="763" y="1406" width="10" height="10" fill="#2893c6"/><rect x="763" y="1386" width="10" height="8" fill="#27a0d0"/><rect x="753" y="1449" width="6" height="7" fill="#27a0d0"/><rect x="742" y="1455" width="6" height="6" fill="#2893c6"/><rect x="756" y="1427" width="11" height="9" fill="#2893c6"/><rect x="735" y="1433" width="6" height="5" fill="#2d88bf"/><rect x="745" y="1379" width="8" height="10" fill="#357bb2"/><rect x="784" y="1429" width="7" height="9" fill="#2d88bf"/><rect x="739" y="1444" width="12" height="9" fill="#2893c6"/><rect x="768" y="1423" width="9" height="7" fill="#2d88bf"/><rect x="714" y="1417" width="8" height="6" fill="#2d88bf"/><rect x="725" y="1431" width="10" height="13" fill="#357bb2"/><rect x="776" y="1409" width="7" height="6" fill="#357bb2"/><rect x="759" y="1409" width="6" height="4" fill="#357bb2"/><rect x="758" y="1397" width="6" height="5" fill="#357bb2"/><rect x="741" y="1372" width="7" height="7" fill="#357bb2"/><rect x="707" y="1407" width="5" height="4" fill="#357bb2"/><rect x="763" y="1445" width="9" height="13" fill="#1a1a1a"/><rect x="732" y="1381" width="7" height="9" fill="#1a1a1a"/><rect x="738" y="1438" width="9" height="8" fill="#2893c6"/><rect x="781" y="1399" width="10" height="9" fill="#357bb2"/><rect x="762" y="1409" width="10" height="7" fill="#2893c6"/><rect x="755" y="1449" width="6" height="9" fill="#2893c6"/><rect x="747" y="1416" width="6" height="9" fill="#2893c6"/><rect x="759" y="1398" width="11" height="12" fill="#357bb2"/><rect x="779" y="1389" width="7" height="8" fill="#2893c6"/><rect x="759" y="1433" width="11" height="11" fill="#2893c6"/><rect x="720" y="1424" width="7" height="8" fill="#2d88bf"/><rect x="773" y="1439" width="10" height="13" fill="#27a0d0"/><rect x="756" y="1423" width="9" height="6" fill="#2d88bf"/><rect x="751" y="1456" width="10" height="12" fill="#2d88bf"/><rect x="713" y="1433" width="11" height="12" fill="#357bb2"/><rect x="784" y="1402" width="7" height="8" fill="#27a0d0"/><rect x="784" y="1416" width="8" height="8" fill="#2893c6"/><rect x="771" y="1461" width="8" height="9" fill="#27a0d0"/><rect x="785" y="1371" width="9" height="9" fill="#27a0d0"/><rect x="755" y="1375" width="7" height="7" fill="#357bb2"/></g>
<path d="M972.5,1328.0 L993.0,1315.8 L1025.7,1303.5 L1046.0,1307.6 L1042.0,1328.0 L1066.6,1340.4 L1099.4,1340.4 L1128.0,1336.3 L1156.7,1340.4 L1181.0,1348.6 L1189.5,1369.0 L1185.4,1385.4 L1148.6,1389.5 L1140.4,1381.3 L1140.4,1397.7 L1107.6,1401.8 L1074.8,1401.8 L1058.5,1389.5 L1042.0,1385.4 L1034.0,1373.0 L1009.3,1348.6 L984.8,1344.5Z" fill="#3fb82a" />
<clipPath id="c13555288"><path d="M972.5,1328.0 L993.0,1315.8 L1025.7,1303.5 L1046.0,1307.6 L1042.0,1328.0 L1066.6,1340.4 L1099.4,1340.4 L1128.0,1336.3 L1156.7,1340.4 L1181.0,1348.6 L1189.5,1369.0 L1185.4,1385.4 L1148.6,1389.5 L1140.4,1381.3 L1140.4,1397.7 L1107.6,1401.8 L1074.8,1401.8 L1058.5,1389.5 L1042.0,1385.4 L1034.0,1373.0 L1009.3,1348.6 L984.8,1344.5Z"/></clipPath><g clip-path="url(#c13555288)"><rect x="1073" y="1316" width="11" height="11" fill="#40bb28"/><rect x="1146" y="1392" width="12" height="16" fill="#4ad832"/><rect x="1159" y="1368" width="9" height="11" fill="#38a824"/><rect x="974" y="1328" width="11" height="12" fill="#4ad832"/><rect x="1024" y="1358" width="6" height="7" fill="#4ad832"/><rect x="979" y="1328" width="12" height="14" fill="#38a824"/><rect x="1065" y="1368" width="11" height="13" fill="#4ad832"/><rect x="1158" y="1398" width="5" height="7" fill="#2a801e"/><rect x="1083" y="1337" width="7" height="9" fill="#309420"/><rect x="1086" y="1324" width="9" height="8" fill="#38a824"/><rect x="1042" y="1375" width="7" height="9" fill="#38a824"/><rect x="1123" y="1373" width="7" height="5" fill="#309420"/><rect x="1107" y="1321" width="5" height="5" fill="#4ad832"/><rect x="1031" y="1342" width="10" height="8" fill="#2a801e"/><rect x="1166" y="1396" width="6" height="6" fill="#38a824"/><rect x="1151" y="1365" width="7" height="5" fill="#40bb28"/><rect x="1014" y="1305" width="9" height="11" fill="#40bb28"/><rect x="1131" y="1371" width="7" height="9" fill="#2a801e"/><rect x="1090" y="1392" width="10" height="8" fill="#40bb28"/><rect x="1165" y="1312" width="5" height="6" fill="#40bb28"/><rect x="1139" y="1381" width="10" height="11" fill="#38a824"/><rect x="1021" y="1339" width="9" height="7" fill="#309420"/><rect x="1169" y="1334" width="8" height="10" fill="#40bb28"/><rect x="994" y="1341" width="8" height="10" fill="#4ad832"/><rect x="1145" y="1354" width="8" height="11" fill="#38a824"/><rect x="1175" y="1387" width="6" height="4" fill="#4ad832"/><rect x="1188" y="1328" width="7" height="7" fill="#40bb28"/><rect x="1131" y="1355" width="11" height="13" fill="#309420"/><rect x="977" y="1343" width="8" height="9" fill="#4ad832"/><rect x="1154" y="1340" width="8" height="8" fill="#309420"/><rect x="982" y="1390" width="7" height="7" fill="#2a801e"/><rect x="1054" y="1331" width="7" height="6" fill="#2a801e"/><rect x="1021" y="1313" width="10" height="8" fill="#40bb28"/><rect x="1107" y="1385" width="7" height="5" fill="#2a801e"/><rect x="1159" y="1318" width="8" height="8" fill="#309420"/><rect x="1128" y="1331" width="5" height="5" fill="#40bb28"/><rect x="976" y="1341" width="7" height="8" fill="#2a801e"/><rect x="1070" y="1386" width="11" height="9" fill="#309420"/><rect x="1115" y="1356" width="10" height="11" fill="#4ad832"/><rect x="1006" y="1330" width="7" height="8" fill="#38a824"/><rect x="1126" y="1334" width="10" height="9" fill="#309420"/><rect x="1038" y="1385" width="7" height="6" fill="#2a801e"/><rect x="1142" y="1366" width="8" height="11" fill="#4ad832"/><rect x="1149" y="1320" width="11" height="14" fill="#40bb28"/><rect x="1031" y="1389" width="10" height="8" fill="#38a824"/><rect x="1049" y="1320" width="11" height="15" fill="#38a824"/><rect x="1125" y="1304" width="10" height="8" fill="#4ad832"/><rect x="991" y="1376" width="8" height="9" fill="#38a824"/><rect x="986" y="1391" width="10" height="10" fill="#309420"/><rect x="1132" y="1400" width="8" height="10" fill="#4ad832"/><rect x="1181" y="1362" width="8" height="12" fill="#4ad832"/><rect x="1156" y="1328" width="6" height="7" fill="#309420"/><rect x="1083" y="1316" width="10" height="8" fill="#309420"/><rect x="1110" y="1369" width="6" height="6" fill="#309420"/><rect x="974" y="1377" width="6" height="6" fill="#2a801e"/><rect x="1164" y="1361" width="11" height="11" fill="#309420"/><rect x="1144" y="1315" width="9" height="9" fill="#40bb28"/><rect x="1156" y="1383" width="6" height="6" fill="#38a824"/><rect x="1053" y="1396" width="6" height="8" fill="#2a801e"/><rect x="1091" y="1336" width="5" height="7" fill="#309420"/><rect x="980" y="1345" width="12" height="11" fill="#38a824"/><rect x="1174" y="1322" width="10" height="14" fill="#38a824"/><rect x="973" y="1333" width="6" height="6" fill="#2a801e"/><rect x="1069" y="1391" width="6" height="7" fill="#38a824"/><rect x="1080" y="1387" width="8" height="9" fill="#38a824"/><rect x="1092" y="1331" width="12" height="13" fill="#4ad832"/><rect x="1176" y="1335" width="8" height="6" fill="#309420"/><rect x="1007" y="1323" width="12" height="16" fill="#309420"/><rect x="993" y="1305" width="9" height="9" fill="#38a824"/><rect x="1007" y="1339" width="8" height="9" fill="#40bb28"/><rect x="974" y="1307" width="11" height="8" fill="#4ad832"/><rect x="1077" y="1364" width="6" height="7" fill="#2a801e"/><rect x="1139" y="1358" width="11" height="10" fill="#4ad832"/><rect x="1011" y="1364" width="11" height="12" fill="#4ad832"/><rect x="1122" y="1363" width="8" height="9" fill="#38a824"/><rect x="996" y="1349" width="12" height="14" fill="#40bb28"/><rect x="1080" y="1336" width="7" height="10" fill="#4ad832"/><rect x="1157" y="1325" width="9" height="12" fill="#2a801e"/><rect x="977" y="1339" width="6" height="8" fill="#4ad832"/><rect x="984" y="1387" width="6" height="7" fill="#38a824"/><rect x="1012" y="1396" width="6" height="7" fill="#40bb28"/><rect x="1068" y="1371" width="6" height="6" fill="#2a801e"/><rect x="1034" y="1332" width="7" height="9" fill="#309420"/><rect x="1028" y="1401" width="11" height="15" fill="#4ad832"/><rect x="995" y="1377" width="11" height="10" fill="#309420"/><rect x="1180" y="1380" width="10" height="11" fill="#2a801e"/><rect x="984" y="1332" width="6" height="6" fill="#309420"/><rect x="1087" y="1354" width="12" height="10" fill="#2a801e"/><rect x="979" y="1364" width="12" height="13" fill="#40bb28"/><rect x="1071" y="1375" width="10" height="13" fill="#2a801e"/></g>
<path fill="#55f03a" d="M755 1028h2v2h-2zM825 1017h2v2h-2zM720 1063h2v2h-2zM862 1075h2v2h-2zM714 1030h2v2h-2zM720 1012h2v2h-2zM702 1039h2v2h-2zM811 1105h2v2h-2zM784 1015h2v2h-2zM710 1041h2v2h-2zM771 1089h2v2h-2zM690 1084h2v2h-2zM867 1062h2v2h-2zM786 1003h2v2h-2zM790 1023h2v2h-2zM759 1086h2v2h-2zM757 1030h2v2h-2zM904 1071h2v2h-2zM713 1057h2v2h-2zM745 1043h2v2h-2zM812 1047h2v2h-2zM741 1047h2v2h-2zM778 1006h2v2h-2zM892 1064h2v2h-2zM896 1054h2v2h-2zM785 1009h2v2h-2zM782 1099h2v2h-2zM741 1111h2v2h-2zM719 1081h2v2h-2zM886 1070h2v2h-2zM775 1034h2v2h-2zM703 1085h2v2h-2zM780 997h2v2h-2zM814 1088h2v2h-2zM736 1010h2v2h-2zM749 1102h2v2h-2zM780 1044h2v2h-2zM727 1053h2v2h-2zM743 1087h2v2h-2zM753 1005h2v2h-2zM755 1091h2v2h-2zM767 1008h2v2h-2zM715 1073h2v2h-2zM719 1039h2v2h-2zM767 1007h2v2h-2zM726 1035h2v2h-2zM741 1024h2v2h-2zM716 1023h2v2h-2zM888 1083h2v2h-2zM811 1030h2v2h-2zM756 1008h2v2h-2zM843 1068h2v2h-2zM797 1094h2v2h-2zM756 1053h2v2h-2zM763 1122h2v2h-2zM894 1059h2v2h-2zM743 1119h2v2h-2zM765 1073h2v2h-2zM792 1032h2v2h-2zM755 1066h2v2h-2zM756 1043h2v2h-2zM778 1115h2v2h-2zM848 1089h2v2h-2zM697 1084h2v2h-2zM785 1018h2v2h-2zM848 1092h2v2h-2zM720 1014h2v2h-2zM793 1038h2v2h-2zM771 1004h2v2h-2z"/>
<path fill="#e2e23a" d="M699 1086h2v2h-2zM764 1017h2v2h-2zM779 1028h2v2h-2zM735 1098h2v2h-2zM752 1061h2v2h-2zM775 1015h2v2h-2zM770 1086h2v2h-2zM849 1042h2v2h-2zM736 1013h2v2h-2zM777 1010h2v2h-2zM771 1101h2v2h-2zM753 1005h2v2h-2zM752 1012h2v2h-2zM791 1044h2v2h-2zM745 1064h2v2h-2zM711 1055h2v2h-2zM842 1102h2v2h-2zM786 1020h2v2h-2zM751 1016h2v2h-2zM761 1071h2v2h-2zM844 1025h2v2h-2zM704 1041h2v2h-2zM721 1056h2v2h-2zM842 1053h2v2h-2zM681 1026h2v2h-2zM770 1123h2v2h-2zM740 1065h2v2h-2zM774 1010h2v2h-2zM748 1018h2v2h-2zM806 1008h2v2h-2zM754 1042h2v2h-2zM769 1010h2v2h-2zM726 1091h2v2h-2zM766 1110h2v2h-2zM777 1003h2v2h-2zM767 1047h2v2h-2zM743 1039h2v2h-2zM788 1060h2v2h-2zM690 1056h2v2h-2zM671 1035h2v2h-2zM754 1063h2v2h-2zM718 1045h2v2h-2zM668 1046h2v2h-2zM761 1015h2v2h-2zM752 1001h2v2h-2zM738 1075h2v2h-2zM738 1060h2v2h-2zM783 1010h2v2h-2zM744 1044h2v2h-2zM770 1091h2v2h-2zM680 1043h2v2h-2zM768 1114h2v2h-2zM774 1002h2v2h-2zM758 1055h2v2h-2zM713 1050h2v2h-2zM703 1089h2v2h-2zM736 1069h2v2h-2zM762 1011h2v2h-2zM792 1119h2v2h-2zM742 1013h2v2h-2zM772 1061h2v2h-2zM778 1018h2v2h-2zM747 1023h2v2h-2zM743 1077h2v2h-2zM722 1094h2v2h-2zM826 1090h2v2h-2zM867 1057h2v2h-2zM761 1030h2v2h-2zM782 1020h2v2h-2zM747 1099h2v2h-2z"/>
<path fill="#4ad832" d="M759 1046h2v2h-2zM730 1017h2v2h-2zM713 1072h2v2h-2zM728 1013h2v2h-2zM739 1059h2v2h-2zM782 1037h2v2h-2zM678 1034h2v2h-2zM779 1005h2v2h-2zM831 1034h2v2h-2zM768 1003h2v2h-2zM716 1046h2v2h-2zM755 1117h2v2h-2zM760 1006h2v2h-2zM798 1003h2v2h-2zM682 1050h2v2h-2zM769 1051h2v2h-2zM765 1046h2v2h-2zM776 1041h2v2h-2zM763 1122h2v2h-2zM803 1015h2v2h-2zM776 1005h2v2h-2zM771 1038h2v2h-2zM752 1086h2v2h-2zM828 1025h2v2h-2zM817 1119h2v2h-2zM735 1020h2v2h-2zM714 1023h2v2h-2zM757 1012h2v2h-2zM879 1056h2v2h-2zM765 1092h2v2h-2zM709 1032h2v2h-2zM780 1046h2v2h-2zM793 1082h2v2h-2zM757 1019h2v2h-2zM774 1023h2v2h-2zM780 1046h2v2h-2zM742 1031h2v2h-2zM746 1025h2v2h-2zM674 1063h2v2h-2zM819 1067h2v2h-2zM775 1052h2v2h-2zM780 998h2v2h-2zM743 1039h2v2h-2zM784 1079h2v2h-2zM722 1028h2v2h-2zM762 1086h2v2h-2zM731 1075h2v2h-2zM819 1014h2v2h-2zM710 1091h2v2h-2zM764 1123h2v2h-2zM783 1006h2v2h-2zM745 1069h2v2h-2zM667 1039h2v2h-2zM725 1036h2v2h-2zM720 1037h2v2h-2zM752 1036h2v2h-2zM685 1066h2v2h-2zM750 1026h2v2h-2zM705 1034h2v2h-2zM752 1029h2v2h-2zM856 1030h2v2h-2zM774 1009h2v2h-2zM747 1046h2v2h-2zM767 1024h2v2h-2zM778 995h2v2h-2zM873 1043h2v2h-2zM759 1035h2v2h-2zM774 1011h2v2h-2zM810 1011h2v2h-2zM796 1024h2v2h-2zM733 1065h2v2h-2zM745 1044h2v2h-2zM747 1010h2v2h-2zM718 1061h2v2h-2zM726 1107h2v2h-2zM762 1108h2v2h-2zM717 1079h2v2h-2zM750 1064h2v2h-2zM855 1073h2v2h-2zM795 1047h2v2h-2zM690 1030h2v2h-2z"/>
<path stroke="#2d88bf" stroke-width="12" stroke-linecap="round" fill="none" d="M718 771l-13 -37M690 783l-9 -18M697 762l-6 -16M692 746l-8 -19M683 750l-16 -36M657 764l-19 -30M639 757l-22 -32M701 709l-7 -20M691 712l-13 -36M673 720l-12 -25M664 724l-10 -19M655 729l-15 -27M613 756l-18 -23M605 762l-25 -30M678 700l-11 -29M669 704l-12 -28M660 708l-12 -25M651 713l-10 -20M625 728l-11 -18M669 687l-14 -34M660 691l-13 -30M633 704l-7 -12M576 744l-11 -13M685 664l-12 -36M666 671l-10 -25M647 679l-13 -30M572 727l-10 -11M523 777l-27 -21M663 655l-14 -36M635 667l-9 -20M618 676l-12 -21M609 681l-7 -12M673 634l-8 -24M645 645l-10 -22M636 649l-7 -15M627 653l-14 -28M618 658l-17 -32M609 663l-14 -25M592 673l-18 -28M559 696l-20 -25M664 620l-8 -25M646 627l-13 -32M636 631l-14 -34M592 654l-19 -31M583 659l-20 -32M551 682l-18 -22M500 730l-19 -16M494 738l-20 -16M663 604l-11 -33M653 607l-6 -16M625 618l-14 -31M607 627l-15 -30M590 637l-20 -35M573 647l-18 -27M503 704l-11 -11M658 589l-9 -27M648 592l-7 -20M639 595l-12 -30M630 599l-6 -14M621 603l-13 -29M603 612l-15 -29M585 621l-12 -21M576 626l-11 -19M568 631l-17 -27M559 637l-15 -24M470 716l-13 -11M650 574l-5 -15M613 589l-7 -17M604 593l-17 -36M586 602l-15 -29M536 634l-17 -23M520 646l-12 -15M644 559l-10 -29M616 570l-13 -30M598 578l-7 -13M571 592l-16 -30M562 597l-9 -16M554 602l-19 -31M537 613l-9 -13M454 685l-13 -12M630 547l-11 -28M621 551l-13 -32M611 555l-8 -21M602 559l-14 -32M593 563l-9 -19M575 572l-7 -13M558 581l-14 -24M532 597l-11 -17M492 627l-25 -30M645 525l-10 -31M626 532l-14 -38M580 551l-8 -17M562 560l-17 -32M553 565l-15 -27M519 586l-14 -21M465 630l-26 -28M634 512l-6 -19M615 519l-8 -23M597 526l-14 -33M579 534l-12 -25M570 539l-14 -29M561 543l-11 -21M552 548l-12 -21M543 553l-20 -35M509 574l-11 -16M501 580l-19 -27M627 498l-9 -27M617 501l-13 -37M599 508l-12 -28M589 512l-10 -24M580 516l-14 -31M571 520l-13 -28M562 525l-13 -28M553 529l-14 -26M510 554l-21 -32M502 560l-12 -17M630 480l-12 -38M611 486l-8 -22M556 510l-12 -25M521 529l-9 -15M448 581l-22 -25M611 469l-12 -34M601 473l-9 -26M592 476l-11 -28M583 480l-14 -33M546 497l-17 -34M529 506l-12 -21M520 511l-16 -28M469 543l-9 -13M454 555l-14 -17M582 463l-9 -20M563 471l-6 -15M554 475l-6 -14M545 479l-15 -30M527 489l-11 -22M510 498l-11 -18M501 503l-10 -17M467 525l-21 -31M451 537l-21 -28M608 436l-7 -21M580 447l-8 -22M562 454l-8 -19M534 467l-12 -26M526 471l-16 -30M508 481l-9 -16M491 491l-14 -23M465 507l-21 -32M457 513l-12 -18M449 519l-22 -30M609 419l-7 -21M600 422l-12 -33M590 426l-8 -23M572 433l-10 -25M544 445l-13 -28M508 462l-15 -27M474 483l-18 -29M465 488l-19 -30M441 505l-13 -17M433 511l-18 -23M598 406l-6 -18M570 416l-10 -24M542 428l-15 -34M480 460l-11 -19M471 465l-10 -17M422 499l-9 -12M578 396l-9 -24M568 400l-8 -22M559 403l-6 -15M550 407l-6 -15M522 419l-16 -34M461 453l-13 -22M444 463l-9 -13M404 493l-11 -14M532 397l-6 -15M487 419l-6 -13M428 455l-20 -28M395 479l-15 -20M589 358l-9 -29M552 372l-6 -14M524 383l-14 -32M515 387l-7 -15M488 401l-8 -16M470 410l-7 -13M453 420l-8 -13M444 425l-12 -20M436 431l-19 -30M428 436l-15 -22M419 442l-20 -29M403 453l-22 -30M481 386l-16 -30M472 391l-13 -24M380 451l-22 -29M531 345l-9 -23M513 353l-9 -21M504 357l-15 -32M451 385l-18 -32M442 390l-9 -15M425 400l-8 -12M359 446l-22 -28M539 325l-8 -18M511 337l-8 -17M502 341l-7 -16M484 349l-7 -13M397 399l-11 -17M268 510l-14 -14M568 298l-1 -4M549 304l-1 -3M540 308l-2 -4M530 311l-1 -3M512 319l-2 -4M449 349l-2 -4M431 359l-2 -4M397 380l-2 -4M364 402l-2 -3M356 408l-2 -3M1051 1100l40 17M1086 1139l24 13M1130 1159l39 20M1136 1182l29 16M1165 1118l35 12M1154 1181l20 11M1177 1207l30 17M1206 1143l23 9M1185 1224l16 9M1233 1114l24 7M1188 1249l17 11M1259 1139l20 6M1270 1156l32 11M1242 1255l39 23M1251 1237l40 22M1256 1228l20 11M1284 1164l26 9M1290 1145l40 13M1293 1136l43 12M1296 1126l22 6M1271 1233l20 10M1280 1215l21 10M1284 1206l16 7M1308 1141l17 5M1285 1243l38 20M1293 1225l41 19M1305 1197l30 13M1309 1188l31 12M1313 1179l38 14M1316 1169l30 11M1325 1141l43 12M1296 1255l35 19M1314 1219l23 11M1325 1192l21 8M1328 1182l32 11M1299 1283l32 19M1313 1257l41 21M1318 1248l26 12M1345 1183l37 13M1357 1145l16 5M1299 1314l38 25M1319 1280l16 8M1333 1253l28 13M1363 1179l23 7M1367 1169l20 7M1369 1160l44 13M1372 1150l37 10M1375 1141l20 5M1319 1312l34 21M1329 1295l31 18M1348 1260l22 10M1384 1167l26 7M1327 1330l17 11M1332 1321l32 20M1352 1287l26 13M1361 1269l39 19M1365 1260l16 7M1395 1186l40 13M1398 1176l21 7M1346 1329l35 21M1361 1303l24 13M1388 1249l27 12M1356 1344l19 11M1386 1291l40 21M1394 1274l19 9M1424 1199l26 9M1433 1171l23 6M1364 1360l15 10M1395 1308l26 15M1420 1254l25 11M1444 1189l40 12M1450 1169l26 7M1453 1160l32 8M1388 1353l18 11M1417 1300l25 13M1445 1236l27 11M1455 1208l26 9M1464 1179l28 8M1398 1367l11 7M1403 1359l11 6M1423 1324l11 6M1449 1270l12 5M1463 1233l13 4M1473 1204l12 4M1479 1185l12 4M1482 1175l12 4M1412 1374l-2 -2M1418 1365l-3 -1M1455 1295l-3 -1M1459 1286l-3 -1M1471 1258l-3 -1M1488 1211l-3 -1M1496 1182l-3 -1M1165 921l130 -27M1309 868l45 -6M1360 907l29 -1M1339 1018l24 -1M1268 1047l27 3M1507 877h.01M1424 909h.01M1458 1022h.01M1214 1062h.01M1147 1031h.01M1136 1050h.01M1318 1006h.01M1165 965h.01M1242 965h.01M1186 961h.01M880 273h.01M891 271h.01M887 296h.01M868 443h.01M835 370h.01M960 441h.01M1222 480h.01M1290 474h.01M1294 568h.01M1284 591h.01M1157 523h.01M1141 544h.01M1128 589h.01M1165 603h.01M1091 615h.01M1063 636h.01M1026 681h.01M1026 669h.01M1054 665h.01M1128 665h.01M1380 751h.01M1302 833h.01M1345 841h.01M1501 873h.01M817 1426h.01M796 1443h.01M825 1512h.01M829 1529h.01M829 1545h.01M1161 1557h.01M1239 1557h.01M1275 1410h.01M1265 1430h.01M1128 1422h.01M1230 1406l33 -8M727 1548l-2 69M724 1633l5 59"/>
<path stroke="#357bb2" stroke-width="12" stroke-linecap="round" fill="none" d="M707 758l-6 -15M662 780l-13 -20M697 694l-5 -17M642 717l-12 -22M585 758l-21 -24M551 794l-19 -15M688 680l-12 -37M679 683l-13 -34M642 699l-12 -23M625 709l-18 -30M657 675l-16 -37M638 683l-18 -35M630 688l-16 -29M621 693l-14 -24M604 703l-17 -26M557 740l-14 -14M550 747l-13 -12M536 762l-16 -14M682 648l-11 -32M654 658l-14 -31M645 662l-17 -35M627 671l-11 -21M601 686l-13 -20M560 716l-19 -23M663 637l-6 -16M654 641l-6 -16M674 617l-11 -34M655 624l-7 -18M627 635l-13 -28M601 649l-16 -29M507 723l-29 -27M487 746l-13 -11M540 670l-16 -20M510 697l-21 -22M483 726l-27 -23M594 616l-10 -17M535 654l-9 -12M527 660l-18 -22M660 571l-4 -14M632 581l-7 -18M622 585l-15 -36M527 640l-9 -13M653 556l-7 -24M607 574l-9 -21M589 583l-14 -28M545 608l-19 -30M490 650l-10 -11M475 664l-20 -21M461 678l-25 -24M649 541l-6 -18M566 576l-9 -17M470 647l-24 -25M598 543l-8 -18M545 570l-14 -23M536 575l-21 -33M528 581l-19 -30M625 515l-10 -26M606 522l-7 -18M588 530l-13 -30M535 558l-15 -24M518 568l-9 -13M493 586l-18 -25M447 624l-20 -21M636 495l-9 -29M608 504l-7 -18M544 534l-12 -22M536 539l-13 -23M518 549l-17 -29M621 483l-8 -22M593 493l-13 -30M574 501l-11 -24M547 514l-12 -23M487 550l-13 -18M463 568l-20 -26M620 466l-8 -23M555 492l-10 -22M537 501l-13 -25M511 516l-16 -27M503 521l-20 -33M478 537l-16 -21M591 460l-6 -16M572 467l-10 -24M536 484l-15 -29M518 493l-9 -17M476 519l-9 -13M459 531l-9 -12M371 611l-13 -11M571 450l-9 -22M553 458l-11 -23M543 462l-6 -14M517 476l-8 -14M482 496l-8 -13M441 525l-15 -20M562 437l-14 -34M553 440l-16 -35M482 477l-12 -20M457 493l-22 -32M449 499l-18 -25M608 403l-10 -31M589 409l-11 -30M579 413l-7 -20M506 445l-8 -15M597 390l-9 -27M513 424l-6 -14M496 433l-8 -15M453 458l-17 -25M396 499l-13 -16M569 382l-7 -19M560 386l-9 -24M551 389l-7 -16M505 410l-14 -29M496 414l-14 -28M479 424l-17 -29M470 429l-11 -19M436 450l-15 -23M411 467l-12 -16M308 561l-28 -25M580 362l-6 -18M570 365l-10 -29M506 392l-11 -22M582 344l-8 -26M573 347l-11 -33M554 354l-13 -35M545 357l-9 -23M535 361l-5 -13M517 369l-8 -17M508 373l-14 -30M499 377l-16 -33M490 382l-16 -31M463 396l-14 -26M455 401l-12 -21M420 422l-10 -16M372 457l-16 -20M364 463l-23 -28M560 335l-9 -25M522 349l-6 -15M486 366l-11 -23M468 375l-17 -32M279 521l-13 -12M266 536l-26 -22M457 363l-10 -18M372 416l-12 -16M559 301l-2 -4M494 327l-2 -4M440 354l-2 -4M423 364l-2 -4M340 420l-2 -3M1015 1103l32 16M1027 1075l30 11M1030 1066l33 11M1016 1133l25 16M1049 1060l33 9M1028 1144l18 12M1033 1135l17 11M1062 1072l25 8M1055 1129l25 13M1064 1111l24 11M1078 1074l24 7M1059 1154l31 18M1095 1072l19 5M1090 1130l33 16M1095 1121l27 12M1102 1103l27 10M1082 1178l25 17M1087 1170l19 11M1117 1149l36 19M1125 1131l28 12M1115 1185l29 18M1125 1168l40 21M1138 1141l20 9M1142 1132l41 16M1155 1094l22 6M1154 1146l26 11M1161 1127l36 14M1168 1108l33 11M1139 1207l23 14M1150 1190l32 18M1167 1154l30 13M1171 1145l18 7M1185 1107l42 13M1150 1220l19 13M1160 1203l16 9M1175 1177l28 14M1203 1102l25 7M1161 1232l16 11M1182 1198l26 14M1186 1189l40 20M1203 1153l32 13M1221 1096l21 5M1209 1180l41 19M1213 1170l32 15M1220 1152l22 8M1224 1143l24 8M1227 1133l26 9M1204 1223l30 17M1209 1215l32 17M1222 1188l41 19M1230 1170l34 13M1234 1160l38 15M1244 1132l19 6M1203 1256l22 14M1241 1185l30 14M1245 1176l28 12M1249 1167l38 15M1252 1158l27 9M1262 1129l42 13M1267 1110l28 7M1217 1263l19 13M1238 1229l32 17M1273 1146l23 8M1276 1137l21 6M1282 1118l34 9M1231 1272l24 15M1236 1263l39 24M1247 1246l27 15M1269 1201l23 11M1280 1174l38 14M1299 1116l36 10M1241 1285l30 20M1247 1277l20 13M1257 1260l37 21M1262 1251l20 11M1302 1160l30 10M1306 1150l24 8M1314 1121l18 5M1260 1286l14 10M1270 1269l20 12M1302 1207l39 17M1319 1160l23 7M1328 1131l17 5M1276 1290l30 19M1291 1264l34 18M1301 1246l22 12M1305 1238l39 18M1318 1210l20 9M1332 1173l24 8M1335 1163l24 8M1341 1144l19 6M1283 1309l19 11M1294 1292l34 20M1309 1266l40 21M1322 1239l27 12M1326 1230l25 11M1331 1221l35 15M1338 1202l39 15M1348 1174l23 7M1360 1135l39 11M1309 1297l19 11M1346 1226l36 15M1353 1207l18 7M1334 1286l28 16M1343 1269l20 9M1368 1214l34 13M1371 1204l32 12M1378 1186l31 10M1381 1176l33 11M1321 1338l23 15M1337 1313l21 12M1347 1296l16 8M1370 1251l28 13M1378 1233l41 17M1381 1223l26 11M1388 1205l23 8M1392 1195l31 11M1401 1167l37 10M1335 1346l26 17M1341 1337l14 9M1356 1312l33 18M1384 1258l21 10M1396 1231l28 11M1399 1221l20 8M1403 1212l24 9M1409 1193l19 6M1412 1184l20 6M1415 1174l30 9M1376 1309l16 9M1414 1228l19 7M1375 1343l35 22M1380 1335l21 12M1385 1326l18 10M1390 1317l25 14M1424 1245l42 17M1428 1236l19 7M1432 1226l36 14M1441 1198l23 7M1377 1370l16 10M1382 1361l25 16M1403 1327l25 14M1434 1264l19 9M1438 1255l26 11M1448 1227l28 10M1452 1218l25 8M1458 1199l18 5M1461 1189l28 8M1466 1170l28 7M1469 1160l26 7M1392 1376l11 7M1408 1350l11 7M1445 1279l12 5M1476 1195l12 3M1402 1391l-3 -2M1428 1348l-3 -1M1432 1339l-2 -1M1442 1322l-3 -2M1446 1313l-2 -1M1451 1304l-3 -1M1467 1267l-3 -1M1474 1249l-2 -1M1478 1239l-3 -1M1481 1230l-3 -1M1493 1192l-2 -1M1200 862h.01M1411 859h.01M1301 1006h.01M876 374h.01M862 558h.01M858 587h.01M846 603h.01M858 615h.01M936 546h.01M903 611h.01M1280 579h.01M1175 515h.01M1147 609h.01M1003 701h.01M1181 673h.01M1173 689h.01M1349 763h.01M1337 779h.01M1292 785h.01M1296 765h.01M1304 816h.01M1288 833h.01M1481 890h.01M1272 640l12 -8M1030 1576h.01M1038 1594h.01M1214 1473h.01M729 1500l-3 33M728 1713l-0 7M785 1683l3 17"/>
<path stroke="#2893c6" stroke-width="12" stroke-linecap="round" fill="none" d="M648 770l-20 -31M621 750l-13 -17M688 697l-9 -24M651 695l-10 -21M592 732l-24 -30M612 698l-10 -17M596 709l-21 -30M672 651l-10 -27M584 697l-19 -25M568 710l-25 -31M553 722l-12 -13M518 758l-21 -17M537 716l-15 -15M529 723l-12 -13M522 730l-20 -20M609 644l-9 -18M644 611l-6 -15M635 614l-12 -27M581 642l-19 -32M556 658l-15 -22M612 607l-13 -26M595 597l-8 -17M578 607l-19 -34M569 612l-20 -34M560 617l-13 -21M552 622l-17 -26M625 566l-5 -14M580 587l-12 -22M639 544l-11 -31M584 567l-9 -17M549 586l-10 -15M524 603l-22 -32M617 535l-8 -19M571 556l-18 -35M583 497l-12 -29M565 505l-17 -35M512 534l-17 -28M479 556l-20 -28M411 615l-12 -11M574 484l-10 -21M564 488l-12 -27M494 526l-16 -24M486 532l-12 -18M610 453l-9 -25M492 508l-11 -18M484 514l-13 -21M599 440l-9 -26M499 486l-8 -14M474 501l-15 -22M535 449l-9 -19M517 458l-10 -20M425 517l-12 -15M551 424l-7 -17M489 455l-15 -26M446 481l-12 -18M438 487l-19 -27M532 415l-14 -29M487 438l-12 -23M436 469l-22 -32M428 475l-18 -26M420 481l-20 -27M579 379l-12 -34M542 393l-9 -19M419 461l-14 -20M403 473l-23 -31M387 465l-13 -16M379 471l-17 -22M563 350l-13 -36M437 411l-19 -32M404 433l-17 -24M569 331l-5 -14M550 338l-11 -31M541 342l-13 -33M495 362l-12 -26M477 370l-8 -15M459 380l-11 -20M408 411l-15 -22M400 416l-16 -23M383 428l-21 -29M367 440l-17 -22M548 322l-7 -19M529 329l-7 -19M520 333l-8 -19M493 345l-9 -18M448 368l-10 -18M439 373l-7 -13M422 383l-10 -17M414 388l-11 -17M380 410l-11 -16M364 422l-12 -16M348 434l-12 -15M484 331l-1 -4M458 344l-2 -3M406 374l-3 -3M381 391l-3 -4M372 396l-2 -3M1324 1271l22 11M1342 1235l28 12M1357 1198l22 8M1324 1304l24 14M1356 1241l32 15M1360 1232l28 12M1364 1223l31 13M1390 1147l20 6M1374 1242l32 14M1366 1294l30 16M1375 1276l29 15M1406 1203l15 5M1418 1165l24 6M1421 1155l30 8M1350 1352l18 11M1361 1335l19 11M1366 1327l35 20M1371 1318l28 16M1381 1300l36 19M1399 1264l37 17M1407 1246l38 16M1421 1209l24 8M1427 1190l42 13M1399 1300l18 9M1404 1291l34 16M1417 1263l29 13M1447 1179l35 10M1421 1291l19 9M1430 1273l17 8M1413 1341l11 7M1418 1333l11 6M1427 1315l12 6M1460 1242l12 5M1467 1223l12 4M1485 1221l-3 -1M1491 1201l-3 -0M1398 862l88 -9M1307 916l41 -3M1367 856h.01M1477 891h.01M1407 906h.01M1071 912h.01M1514 1014h.01M1475 1036h.01M1277 1092h.01M1245 1068h.01M1121 1030h.01M1373 1009h.01M1333 1003h.01M882 411h.01M856 513h.01M1198 386h.01M1272 456h.01M1161 558h.01M1083 640h.01M1208 687h.01M1059 720h.01M1268 824h.01M1198 824h.01M1141 833h.01M1366 855h.01M1169 914l103 -16M868 1521h.01M1300 1447h.01M772 1470l1 37M770 1529l2 31M783 1580l2 30M786 1617l1 46"/>
<path stroke="#27a0d0" stroke-width="12" stroke-linecap="round" fill="none" d="M524 436l-10 -20M515 441l-9 -18M497 450l-9 -18M414 505l-13 -17M505 428l-12 -22M412 487l-19 -25M588 376l-8 -26M523 401l-15 -32M514 405l-16 -33M461 434l-17 -29M533 379l-7 -17M396 439l-14 -20M433 395l-18 -31M375 434l-21 -29M431 378l-11 -18M389 405l-12 -17M521 315l-1 -4M389 385l-2 -3"/>
<path stroke="#29acd9" stroke-width="12" stroke-linecap="round" fill="none" d="M463 470l-21 -32M455 476l-13 -20M430 493l-17 -24M587 393l-8 -25M444 444l-18 -28M561 368l-9 -23M497 396l-15 -29M479 405l-9 -17M526 365l-7 -16M391 422l-19 -28M576 312l-6 -19M475 354l-9 -18M414 369l-2 -4"/>
<path stroke="#357bb2" stroke-width="10" stroke-linecap="round" fill="none" d="M769 770l-2 -18M765 756l-4 -30M734 484l-4 -36M731 470l-3 -18M732 426l-3 -32M724 384l-4 -37M714 312l-2 -18M726 572l-4 -26M685 316l-4 -25M744 759l-7 -35M727 660l-6 -29M714 589l-8 -39M683 448l-7 -36M668 378l-4 -19M718 676l-5 -21M669 466l-6 -26M647 397l-4 -15M635 326l-6 -28M627 298l-5 -19M719 721l-6 -22M662 527l-9 -31M635 415l-3 -13M616 361l-9 -35M612 332l-8 -26M1103 1056l7 2M1110 969l6 -0M1109 958l7 -1M1183 933l29 -3M882 337h.01M868 484h.01M1216 464h.01M1206 497h.01M1270 589h.01M1231 622h.01M1169 546h.01M1075 660h.01M1067 669h.01M1038 583h.01M1079 675h.01M1308 789h.01M1239 781h.01M1208 820h.01M1122 812h.01M1138 798h.01M1419 818h.01"/>
<path stroke="#2893c6" stroke-width="10" stroke-linecap="round" fill="none" d="M763 727l-4 -36M750 627l-4 -32M747 584l-4 -33M741 556l-4 -30M712 283l-2 -20M719 530l-7 -38M716 515l-5 -32M695 388l-4 -27M693 344l-5 -37M680 288l-4 -20M709 575l-3 -15M680 419l-5 -23M672 406l-3 -16M653 293l-3 -11M702 621l-9 -36M693 564l-3 -13M645 383l-4 -15M636 355l-4 -15M678 583l-4 -16M605 304l-5 -18M601 290l-1 -6M1040 992l23 1M1109 1013l7 0M1159 1024l77 12M852 574h.01M817 292h.01M946 374h.01M1237 458h.01M1311 507h.01M1071 730h.01"/>
<path stroke="#2d88bf" stroke-width="10" stroke-linecap="round" fill="none" d="M758 670l-2 -18M713 327l-2 -20M710 298l-2 -17M755 757l-5 -33M752 728l-4 -24M747 700l-5 -35M735 629l-2 -13M731 615l-5 -32M705 430l-3 -22M689 330l-6 -39M677 274l-1 -6M733 703l-5 -26M729 674l-6 -32M695 519l-3 -14M668 393l-6 -28M662 350l-3 -16M660 335l-4 -16M658 306l-6 -29M723 705l-4 -20M683 522l-3 -14M631 312l-7 -29M724 749l-5 -17M648 471l-7 -25M619 375l-4 -17M611 347l-8 -29M1090 949l20 -2M878 361h.01M880 394h.01M862 529h.01M911 599h.01M895 644h.01M1124 437h.01M1247 605h.01M1132 552h.01M1171 624h.01M1124 619h.01M1085 601h.01M991 681h.01M1016 644h.01M1132 706h.01M1243 820h.01M1444 812h.01M1485 828h.01M1456 919h.01M1100 939l49 4"/>
<path stroke="#3a6ea4" stroke-width="12" stroke-linecap="round" fill="none" d="M1055 1091l23 9M1072 1093l42 15M1081 1064l32 9M1086 1100l35 13M1108 1084l35 10M1102 1176l19 11M1126 1199l14 9M1131 1190l29 18M1171 1099l39 12M1159 1172l26 13M1163 1163l37 18M1197 1121l21 7M1206 1092l34 9M1191 1180l37 18M1195 1171l29 13M1213 1125l18 5M1217 1161l37 15M1214 1206l29 15M1238 1151l23 9M1241 1142l31 10M1250 1113l26 7M1233 1204l31 15M1223 1255l25 16M1228 1246l27 16M1233 1238l22 12M1242 1220l29 15M1247 1211l18 9M1251 1202l35 16M1259 1184l34 14M1263 1175l42 16M1267 1165l21 8M1273 1192l41 18M1277 1183l26 10M1287 1155l20 6M1252 1268l21 13M1267 1242l33 18M1276 1224l19 10M1296 1179l36 13M1299 1169l30 11M1280 1252l21 11M1289 1234l29 14M1298 1216l41 19M1281 1281l29 18M1309 1228l41 19M1321 1201l31 12M1338 1154l37 11M1343 1135l33 8M1289 1300l20 13M1334 1211l28 12M1329 1262l21 10M1339 1277l20 11M1352 1251l39 18M1387 1157l18 5M1342 1304l15 9M1356 1278l39 20M1406 1147l26 7M1371 1285l26 14M1392 1240l31 13M1403 1255l41 18M1412 1273l24 10M1438 1208l41 13M1408 1318l25 14M1412 1309l26 14M1441 1288l11 5M1470 1214l12 4M1407 1382l-3 -1M1423 1357l-3 -2M1499 1173l-3 -1"/>
<path stroke="#2893c6" stroke-width="14" stroke-linecap="round" fill="none" d="M1295 894l191 -38M882 1414h.01M854 1455h.01M862 1496h.01M878 1512h.01M977 1525h.01M1140 1574l17 20M657 1450l2 56M867 1474h.01M429 1036h.01M387 989h.01M476 899h.01M104 1087h.01M584 925h.01M127 682h.01M1340 1453h.01"/>
<path stroke="#2d88bf" stroke-width="14" stroke-linecap="round" fill="none" d="M1398 912l29 -0M1309 1015l68 -6M1354 1047l53 6M1410 1053l50 3M1222 628l33 -25M829 1570h.01M854 1586h.01M1009 1615h.01M1058 1652h.01M1196 1420h.01M1230 1390h.01M1190 1430h.01M1104 1406h.01M891 1537l12 57M985 1660l8 24M1026 1406l41 16M501 1286h.01M1173 1020h.01M624 629h.01M593 780h.01M780 428h.01M523 1118h.01M1074 1185h.01M542 717h.01M372 1177h.01M855 1631h.01M502 702h.01M673 825h.01M667 821h.01M554 647h.01M458 874h.01M665 503h.01M838 1323h.01M1455 1277h.01"/>
<path stroke="#2893c6" stroke-width="11" stroke-linecap="round" fill="none" d="M1312 952l51 -2M1100 859h.01M1251 882h.01M1454 919h.01M1508 913h.01M1420 944h.01M1097 900h.01M1476 1012h.01M1253 1028h.01M1253 1045h.01M1124 983h.01M1139 1012h.01M1115 1056h.01M784 361h.01M970 587h.01M889 660h.01M1202 464h.01M1184 513h.01M1071 589h.01M1044 570h.01M1149 710h.01M1317 777h.01M1157 833h.01M1235 849l37 8"/>
<path stroke="#2d88bf" stroke-width="9" stroke-linecap="round" fill="none" d="M1097 938l56 3M1171 996l18 -0M1215 996l27 -0M1259 997l18 0M665 810h.01M818 733h.01M821 704h.01M822 690h.01M1008 1078h.01M1037 1090h.01M742 826h.01M992 1072h.01M1012 863h.01M753 818h.01M956 799h.01M950 1160h.01M916 786h.01M925 901h.01M969 871h.01M687 771h.01M961 661h.01M973 638h.01M1092 1109h.01M647 780h.01M846 857h.01M1013 1050h.01M541 671h.01M966 744h.01M900 1033h.01M954 1090h.01M729 826h.01M1153 981h.01M961 626h.01M851 1127h.01M839 855h.01M841 842h.01M920 971h.01M942 968h.01"/>
<path stroke="#2893c6" stroke-width="9" stroke-linecap="round" fill="none" d="M1118 874l18 -3M1141 872l24 -4M1000 991l44 -1"/>
<path stroke="#2d88bf" stroke-width="8" stroke-linecap="round" fill="none" d="M1136 996l29 -0M1203 996l9 -0M1032 1014l80 10M715 865h.01M646 753h.01M659 798h.01M731 797h.01M903 839h.01M753 864h.01M999 921h.01M1029 911h.01M950 731h.01M1091 1113h.01M978 973h.01M892 1106h.01M966 889h.01M719 856h.01M737 749h.01M969 1181h.01M992 910h.01M978 915h.01M592 578h.01M928 829h.01M803 747h.01M947 883h.01M869 839h.01M919 742h.01M1077 950h.01M971 1198h.01M872 779h.01M694 836h.01M1033 1088h.01M1146 1058h.01M1134 844h.01M1088 983h.01M682 771h.01M902 704h.01M568 685h.01"/>
<path stroke="#357bb2" stroke-width="8" stroke-linecap="round" fill="none" d="M1186 1039l20 -0M952 964h.01M709 855h.01M717 881h.01M675 821h.01M602 717h.01M921 981h.01M658 800h.01M728 674h.01M867 745h.01M871 732h.01M877 711h.01M947 1037h.01M1057 1098h.01M744 836h.01M819 881h.01M859 725h.01M887 684h.01M968 702h.01M1020 1083h.01M688 755h.01M1013 728h.01M990 875h.01M999 870h.01M1042 846h.01M728 711h.01M902 854h.01M978 761h.01M1111 864h.01M1137 854h.01M894 823h.01M901 810h.01M978 685h.01M955 995h.01M964 996h.01M667 730h.01M611 615h.01M996 922h.01M1120 882h.01M1194 858h.01M894 678h.01M734 773h.01M712 754h.01M707 739h.01M906 913h.01M779 723h.01M776 661h.01M1056 1025h.01M987 1217h.01M1084 1106h.01M694 848h.01M849 849h.01M887 757h.01M925 663h.01M1063 1012h.01M840 864h.01M921 1024h.01M962 1211h.01M928 873h.01M861 793h.01M906 663h.01M827 820h.01M844 738h.01M888 1085h.01M944 775h.01M635 745h.01M1063 1100h.01M1192 1154h.01M1206 1159h.01M674 761h.01M1171 1061h.01M660 782h.01M1023 891h.01M1056 877h.01M1094 861h.01M947 843h.01M1015 780h.01M825 791h.01M874 833h.01M955 679h.01M979 632h.01M924 986h.01M960 985h.01M973 600h.01M676 758h.01M878 1190h.01M887 1211h.01M877 747h.01M898 688h.01M884 840h.01M625 763h.01M592 718h.01M976 963h.01M1147 939h.01M1227 928h.01M893 826h.01M708 786h.01M690 743h.01"/>
<path stroke="#2893c6" stroke-width="16" stroke-linecap="round" fill="none" d="M1301 1042l47 5"/>
<path stroke="#2893c6" stroke-width="20" stroke-linecap="round" fill="none" d="M1463 1065l53 6"/>
<path stroke="#357bb2" stroke-width="18" stroke-linecap="round" fill="none" d="M1495 1039l27 -0"/>
<path stroke="#2d88bf" stroke-width="11" stroke-linecap="round" fill="none" d="M1292 1077l32 4M1080 863h.01M1419 1098h.01M1442 1114h.01M1097 994h.01M1215 1018h.01M866 382h.01M866 460h.01M860 472h.01M854 546h.01M1151 390h.01M1179 415h.01M1227 505h.01M1302 562h.01M1138 613h.01M985 654h.01M1417 736h.01M1247 808h.01M1184 755h.01M1167 779h.01M1456 808h.01M1419 943h.01M1386 972h.01M1120 873l61 0"/>
<path stroke="#2d88bf" stroke-width="13" stroke-linecap="round" fill="none" d="M1165 862h.01M1301 989h.01M1242 925h.01M1252 933h.01M1127 900h.01M1436 1021h.01M1416 1043h.01M1435 1045h.01M1451 1033h.01M1171 1036h.01M1383 1027h.01M866 296h.01M872 349h.01M964 298h.01M1231 472h.01M1202 484h.01M1304 527h.01M1313 552h.01M1218 644h.01M1116 560h.01M1059 677h.01M1014 693h.01M1095 685h.01M1206 710h.01M1202 742h.01M1435 779h.01M1268 796h.01M1231 841h.01M1272 845h.01M1509 910h.01M1300 976h.01M841 1398h.01M854 1426h.01M874 1459h.01M821 1463h.01M841 1475h.01M919 1590h.01M1267 1498h.01M1177 1482h.01M1280 1394h.01M248 655l-13 -8M652 713l-8 -16M143 814l-14 -4M551 1010l-19 2M736 762l-2 -8M498 765l-17 -13M989 1259l7 10"/>
<path stroke="#357bb2" stroke-width="13" stroke-linecap="round" fill="none" d="M1239 871h.01M1386 978h.01M1405 888h.01M1279 1074h.01M1192 1009h.01M901 292h.01M884 316h.01M878 427h.01M815 331h.01M835 353h.01M936 574h.01M923 585h.01M950 634h.01M899 628h.01M882 677h.01M878 693h.01M1087 408h.01M1079 427h.01M1229 429h.01M1276 638h.01M1112 622h.01M1046 681h.01M1122 722h.01M1263 746h.01M1390 841h.01M1489 843h.01M1366 976h.01M821 1402h.01M870 1443h.01M977 1635h.01M942 1697h.01M1214 1529h.01M1247 1385h.01M1161 1455l8 12M200 765l-24 -9M430 456l-8 -12"/>
<path stroke="#357bb2" stroke-width="11" stroke-linecap="round" fill="none" d="M1298 862h.01M1059 921h.01M1256 1070h.01M1355 997h.01M1200 974h.01M925 357h.01M995 400h.01M874 710h.01M1220 421h.01M1251 497h.01M1255 525h.01M1333 533h.01M1325 542h.01M1108 636h.01M1100 628h.01M1034 685h.01M1110 658h.01M1450 763h.01M1284 820h.01M1173 833h.01M1222 845h.01M1333 947h.01M1239 964h.01M1181 865l50 -8M1190 931l24 -0"/>
<path stroke="#2893c6" stroke-width="13" stroke-linecap="round" fill="none" d="M1498 877h.01M1287 1030h.01M1203 1011h.01M1189 974h.01M864 501h.01M1138 574h.01M1083 648h.01M997 710h.01M1075 706h.01M1153 726h.01M972 1553h.01M1149 1439h.01M1235 1398l16 16M544 896l-20 -8M1016 1492l8 18M853 1662l2 20"/>
<path stroke="#3d5a8d" stroke-width="2.6" stroke-linecap="round" fill="none" d="M795 989l7 1M818 795l0 -3M811 973l5 -4M822 1027l2 2M806 969l2 -3M825 951l2 -2M806 979l3 -2M930 1124l4 4M843 960l6 -4M919 1118l4 4M853 1036l3 2M803 1000l4 6M796 956l0 -6M811 902l1 -6M674 1016l-7 2M799 1000l3 4M816 1137l1 6M786 890l-1 -5M686 905l-4 -4M894 982l3 -0M814 978l4 -2M825 912l1 -4M795 998l1 4M810 984l2 -0M843 1043l4 3M857 966l8 -3M809 980l2 -1M785 997l-2 2M909 920l4 -2M849 970l3 -1M794 976l0 -7M769 903l-1 -3M786 1038l-0 2M824 977l1 -0M813 968l2 -2M810 989l4 0M767 1002l-7 4M772 962l-2 -3M791 987l-3 -2M795 991l4 5M807 958l1 -4M693 1054l-4 3M694 1034l-3 1M917 1066l6 4M874 971l3 -1M944 1129l3 3M1016 918l6 -1M800 1225l-0 7M769 942l-3 -5M852 947l4 -3M809 989l7 0M794 987l2 -2M791 1013l-0 8M763 947l-3 -6M774 1010l-4 4M895 949l4 -2M796 988l7 0M832 971l4 -2M777 910l-1 -7M779 944l-1 -5M877 1057l3 2M806 987l4 0M689 882l-4 -4M785 1146l-0 4M798 989l4 -0M805 992l7 1M786 977l-3 -6M803 990l2 -0M870 770l2 -6M780 985l-6 -2M773 1043l-1 4M786 1000l-2 4M821 1021l4 5M925 873l2 -2M797 1096l-0 4M770 974l-5 -2M727 908l-4 -5M776 985l-6 -2M818 948l4 -6M762 992l-5 0M770 1026l-2 3M801 999l5 5M780 868l-0 -3M586 1066l-3 1M794 988l4 -1M834 866l2 -4M700 814l-3 -5M768 852l-0 -3M792 988l-1 -6M799 991l4 1M766 934l-2 -4M772 972l-5 -3M797 1019l1 6M884 866l1 -1M841 918l2 -4M789 995l-3 6M793 988l2 -1M825 975l7 -4M797 991l2 1M790 984l-3 -4M887 902l2 -3M792 951l-0 -3M767 950l-2 -4M830 990l8 1M797 992l6 4M764 869l-0 -4M835 1018l5 3M834 988l6 0M835 973l4 -1M875 1020l4 2M788 888l-1 -4M793 988l2 0M793 989l1 2M795 989l8 2M839 934l1 -2M701 922l-3 -2M897 1064l3 3M887 992l2 0M823 1051l3 5M763 988l-4 -0M858 1092l4 6M776 944l-3 -7M840 1016l4 2M767 968l-5 -3M805 998l4 4M893 1011l3 0M779 882l-1 -4M708 909l-5 -5M843 991l6 -0M776 907l-1 -5M767 865l-1 -7M803 1012l2 5M846 1016l7 3M792 802l0 -4M945 904l5 -2M801 999l3 3M785 976l-2 -5M739 965l-6 -3M734 1060l-5 7M810 981l2 -1M800 998l3 4M795 990l3 2M793 988l5 -6M783 965l-2 -6M803 947l1 -6M784 991l-7 2M838 915l1 -3M787 956l-1 -8M807 842l1 -3M915 1081l2 2M791 984l0 -3M936 1016l7 1M794 986l3 -7M806 997l4 2M862 868l4 -6M754 1042l-2 4M729 931l-2 -2M805 997l2 2M918 1096l5 4M811 963l3 -5M753 997l-6 2M736 1058l-3 3M796 999l3 8M804 975l3 -4M769 884l-1 -7M796 1044l0 6M799 991l7 3M891 987l6 -0M844 942l6 -5M805 989l8 1M791 972l-1 -7M724 900l-5 -6M734 872l-1 -2M803 978l5 -5M935 968l3 -1M838 917l2 -3M795 994l2 3M814 953l3 -6M989 888l6 -3M890 963l2 -0M766 943l-1 -2M797 980l3 -4M804 997l3 2M799 950l0 -3M796 987l6 -2M739 919l-2 -3M795 993l2 3M796 988l7 -0M810 984l4 -1M692 926l-5 -3M743 1067l-4 5M851 921l5 -6M822 924l1 -2M789 988l-3 -1M932 947l4 -1M778 899l-1 -4M856 944l7 -4M752 979l-5 -1M790 976l-1 -6M732 915l-3 -4M788 972l-1 -5M769 903l-1 -3M798 982l2 -3M686 991l-4 -0M814 976l6 -3M798 967l1 -6M769 1023l-3 4M820 975l7 -4M770 985l-7 -1M800 1039l1 5M789 981l-1 -4M771 920l-2 -4M682 1037l-3 1M859 995l6 1M736 963l-4 -2M853 943l3 -2M801 1071l1 7M790 891l-0 -6M781 973l-3 -4M878 1029l5 2M755 965l-7 -4M855 975l2 -1M801 983l5 -3M796 985l1 -2M841 1014l6 3M793 968l-0 -3M826 987l5 -0M751 836l-2 -6M761 1023l-3 3M819 987l3 0M812 978l3 -2M804 970l3 -6M811 1127l1 5M753 861l-2 -8M794 971l-0 -6M793 971l0 -6M797 1080l0 4M672 855l-3 -3M792 971l0 -3M791 977l-1 -7M846 968l6 -2M850 945l6 -5M736 966l-5 -2M893 968l6 -1M857 851l2 -5M853 992l6 1M916 890l5 -4M827 1003l5 2M823 1010l4 3M811 899l1 -6M886 798l1 -2M834 1066l4 6M879 1023l4 2M821 929l2 -4M926 916l6 -4M806 932l1 -5M786 953l-1 -5M856 844l1 -2M856 941l6 -5M757 922l-4 -6M822 942l4 -7M892 865l4 -5M800 992l3 2M786 963l-1 -5M804 992l8 2M795 984l1 -3M834 874l2 -4M725 887l-3 -5M841 1218l1 6M856 959l6 -2M843 1041l2 2M755 944l-5 -6M830 1036l3 4M815 951l2 -4M844 1017l3 2M782 970l-2 -3M747 930l-4 -5M792 988l5 -0M838 997l7 2M794 987l3 -4M738 781l-1 -4M808 1008l2 3M860 919l5 -5M715 945l-6 -3M813 974l4 -2M797 989l4 2M884 937l3 -2M793 981l0 -2M794 987l1 -2M887 1114l2 3M852 992l7 0M744 918l-2 -3M804 958l1 -3M775 1021l-4 7M822 1033l3 4M819 1028l1 2M809 1095l1 4M825 971l4 -3M798 962l0 -3M799 1003l1 3M774 941l-2 -5M798 994l4 5M759 918l-1 -2M760 954l-5 -5M789 982l-2 -3M882 980l8 -1M820 997l2 0M815 1011l5 5M882 994l2 1M733 933l-4 -4M796 947l-0 -5M808 967l4 -5M770 943l-2 -5M790 1030l-0 3M918 1025l4 1M787 964l-1 -6M805 1064l1 5M860 773l1 -4M789 1041l0 5M797 956l1 -6M798 980l4 -4M793 987l4 -3M846 902l2 -3M883 1102l4 5M753 936l-2 -3M798 979l3 -5M797 1107l-0 2M884 1093l4 4M664 875l-5 -5M795 999l1 4M842 975l2 -0M815 1023l4 6M779 973l-1 -2M668 903l-6 -4M794 989l4 2M778 969l-3 -6M697 1100l-1 2M810 952l1 -3M688 900l-4 -3M831 1018l4 3M886 1004l5 1M794 993l1 5M791 986l-2 -2M795 988l3 -1M784 1009l-3 6M795 989l7 2M856 906l3 -4M758 961l-2 -2M792 989l3 2M795 990l3 3M832 985l3 -1M792 989l-6 2M776 837l-0 -8M789 984l-3 -5M648 1024l-6 1M795 996l1 7M892 1048l5 3M941 942l7 -2M805 977l3 -2M805 987l8 -1M864 966l7 -3M815 967l1 -2M980 1075l2 1M868 968l6 -2M790 954l-1 -3M848 1028l4 3M675 835l-3 -3M820 1009l5 3M799 1025l1 7M881 1037l4 2M778 971l-2 -3M800 993l2 1M796 944l1 -6M820 1029l2 3M809 933l1 -4M764 967l-4 -2M799 984l6 -4M792 986l-0 -2M783 943l-2 -7M825 1024l4 3M793 986l-0 -3M795 980l1 -3M793 988l3 -5M793 989l2 5M848 944l4 -4M702 1058l-4 3M798 984l4 -4M795 989l8 2M870 1063l2 3M792 937l-0 -4M818 895l2 -6M762 967l-2 -1M712 962l-3 -1M750 1032l-4 5M801 1095l1 5M925 861l5 -4M805 991l3 1M801 953l2 -4M775 958l-3 -5M787 979l-2 -3M762 976l-6 -2M647 895l-6 -4M793 989l2 2M794 1044l0 4M868 1032l6 3M788 1033l-1 7M815 1009l3 3M796 985l3 -3M820 989l5 0M812 957l1 -3M777 999l-6 4M687 935l-7 -4M793 990l2 3M789 988l-8 0M823 984l7 -1M897 968l5 -1M809 1018l2 2M698 882l-3 -3M777 959l-1 -2M806 995l3 2M815 914l2 -7M763 1006l-5 4M793 1120l0 5M860 958l3 -1M795 984l2 -2M783 955l-2 -8M758 955l-4 -5M798 973l3 -7M782 936l-1 -4M794 988l4 -1M772 997l-4 2M826 962l3 -2M840 962l3 -1M789 974l-1 -5M797 1028l1 6M792 988l-3 -4M750 1028l-1 1M770 924l-1 -5M790 993l-2 4M725 1040l-7 5M792 988l1 -2M832 982l6 -1M783 957l-1 -3M796 994l1 3M888 1092l5 5M877 931l4 -2M914 843l4 -5M914 1030l6 2M812 1014l3 5M785 984l-4 -3M886 943l5 -2M755 945l-4 -5M798 986l2 -2M792 1001l-0 4M754 946l-2 -2M811 1010l2 3M815 991l3 1M819 939l4 -7M787 993l-4 3M787 988l-7 -0M653 1090l-4 3M786 938l-1 -5M778 867l-1 -6M808 991l3 0M808 965l2 -3M795 973l1 -5M793 988l4 -1M800 982l4 -3M727 864l-2 -4M761 879l-1 -5M815 1038l2 4M752 962l-4 -2M799 982l4 -5M877 1038l3 1M795 991l5 4M820 966l3 -3M769 1031l-4 7M846 968l3 -1M789 913l-0 -4M786 983l-5 -4M783 980l-2 -1M769 950l-3 -5M807 831l0 -3M892 977l8 -1M714 986l-4 -0M761 1043l-2 3M828 1024l2 2M873 964l4 -1M777 895l-0 -5M788 1007l-1 6M850 1011l7 2M901 939l3 -2M811 1009l1 2M800 982l6 -4M935 839l3 -5M679 924l-2 -1M671 891l-2 -3M861 977l6 -2M771 924l-1 -2M804 1007l1 2M895 944l7 -3M781 977l-4 -4M781 951l-2 -6M922 971l3 -1M659 903l-4 -3M798 977l2 -3M789 1021l-0 4M827 977l7 -2M797 1005l1 7M901 1052l3 2M779 959l-4 -7M761 955l-3 -3M780 1000l-3 3M855 867l1 -2M773 1112l-1 7M781 973l-2 -2M775 976l-3 -2M780 908l-1 -3M811 966l2 -3M833 1012l4 3M792 970l-0 -4M707 936l-5 -3M780 1058l-0 3M805 985l7 -1M805 975l2 -3M768 861l-1 -5M688 811l-4 -7M834 956l6 -5M749 953l-6 -5M872 1126l2 4M788 998l-2 5M745 850l-1 -4M795 944l1 -6M759 963l-2 -1M800 970l3 -6M822 985l6 -0M795 844l-0 -3M794 987l3 -4M788 943l-0 -8M793 988l4 -4M904 921l5 -3M840 977l6 -2M794 975l1 -6M716 986l-3 -1M798 951l1 -6M782 980l-6 -4M797 987l4 -2M774 1002l-3 2M782 1014l-1 4M896 1109l2 3M818 962l4 -5M722 1027l-7 3M762 1064l-1 1M775 933l-0 -2M786 993l-6 4M801 983l4 -2M803 1009l3 7M817 992l7 1M761 913l-3 -8M792 977l-0 -2M832 1000l5 1M799 1024l1 3M823 978l4 -1M857 1098l3 5M791 986l-2 -2M796 988l6 -1M811 974l5 -5M804 975l2 -3M775 985l-4 -1M930 889l3 -2M835 981l2 -1M804 991l6 1M767 1073l-2 4M799 980l4 -5M810 891l2 -7M787 984l-3 -3M826 1024l4 3M793 970l1 -6M799 993l6 4M945 855l5 -5M796 993l5 5M870 949l6 -3M790 988l-4 0M808 989l2 -0M823 914l1 -4M927 925l5 -2M709 893l-2 -3M864 803l1 -3M714 856l-2 -2M812 933l3 -8M788 952l-1 -6M820 969l5 -3M840 985l7 -1M785 1008l-2 5M804 999l2 2M857 877l2 -4M810 932l2 -6M849 1016l6 4M744 948l-5 -5M801 948l1 -4M825 997l4 1M795 915l-0 -4M809 971l2 -2M807 959l2 -4M793 986l0 -6M815 1017l3 4M828 946l5 -6M864 1110l2 4M788 964l-1 -3M826 1018l2 3M799 998l2 3M818 869l1 -4M733 867l-1 -3M740 920l-2 -2M739 1014l-4 2M812 995l7 2M718 948l-5 -3M798 954l1 -6M805 884l0 -3M731 1031l-5 4M747 1048l-3 4M785 973l-3 -5M849 1002l4 1M564 990l-6 0M695 909l-5 -4M838 1025l2 2M810 969l3 -4M871 914l5 -5M732 888l-1 -3M740 979l-4 -0M842 973l3 -1M885 977l5 -1M788 991l-3 1M799 998l3 6M897 949l6 -2M740 921l-2 -3M791 998l-0 4M824 975l2 -1M835 920l3 -5M939 1005l5 1M793 987l4 -6M817 927l1 -2M971 979l4 0M793 979l1 -3M725 1029l-4 2M895 970l4 -0M799 982l3 -3M772 952l-2 -4M815 956l3 -4M778 1011l-4 5M774 1026l-3 7M706 941l-7 -3M820 897l1 -2M772 893l-1 -5M798 911l0 -7M793 987l2 -4M847 822l1 -3M727 989l-8 0M714 942l-4 -2M788 977l-1 -4M836 941l2 -3M770 975l-3 -2M814 1006l3 3M780 1011l-2 4M792 988l-0 -4M712 857l-4 -6M893 858l3 -4M820 879l2 -6M866 1083l3 4M785 969l-2 -4M585 1031l-4 1M784 977l-3 -4M783 979l-3 -3M584 924l-5 -1M791 942l0 -5M802 963l2 -6M785 980l-3 -4M981 962l6 -1M762 958l-2 -2M797 991l4 2M666 1019l-6 2M737 940l-1 -1M795 991l5 4M841 1011l3 1M837 1049l3 4M792 986l-2 -3M783 934l-1 -4M743 858l-2 -4M883 916l3 -2M794 990l3 6M788 975l-1 -5M686 1030l-5 2M869 894l3 -3M791 988l-4 -5M792 986l-2 -7M775 985l-4 -1M872 1035l6 4M825 931l3 -5M861 1048l3 3M923 853l4 -4M784 997l-6 5M816 996l7 2M803 991l4 1M875 905l4 -5M722 908l-4 -4M793 984l2 -7M778 978l-2 -1M788 1138l0 4M690 881l-5 -5M856 821l1 -2M897 978l7 -0M813 998l2 1M822 881l2 -7M863 912l3 -3M813 830l1 -7M698 909l-4 -4M738 945l-5 -4M801 978l1 -1M821 827l2 -7M767 909l-2 -4M817 905l2 -7M838 991l3 1M999 1002l3 0M816 960l4 -5M793 987l3 -7M802 1004l3 4M838 932l3 -4M1005 1036l3 1M763 849l-0 -3M879 912l5 -4M747 1002l-4 1M767 992l-7 1M816 997l6 2M870 864l2 -3M687 895l-6 -5M671 907l-3 -2M869 1067l2 2M791 975l-0 -6M848 849l3 -7M855 939l5 -4M817 935l1 -4M790 990l-4 3M971 997l4 0M796 975l2 -6M819 1034l2 3M701 882l-4 -5M787 983l-4 -5M591 889l-7 -4M798 989l6 1M753 967l-7 -3M780 980l-2 -2M762 992l-8 1M897 956l5 -2M791 800l-0 -2M823 840l1 -4M782 957l-2 -4M796 977l1 -3M872 1060l3 2M821 989l4 0M813 1022l4 7M848 975l4 -2M798 983l4 -5M784 939l-1 -8M887 839l3 -6M789 987l-3 -2M790 982l-1 -4M696 940l-4 -2M780 933l-1 -2M763 794l-1 -5M789 982l-2 -6M902 873l3 -4M819 981l8 -2M826 1130l2 6M788 988l-6 -1M729 940l-3 -2M791 1002l-1 5M766 962l-1 -1M777 975l-3 -2M760 912l-1 -3M770 965l-4 -5M794 988l5 -1M773 971l-5 -4M670 854l-5 -5M797 987l5 -1M826 1014l6 4M792 987l-2 -5M753 948l-2 -2M862 1015l7 2M787 966l-2 -5M801 928l0 -4M782 961l-2 -3M743 1078l-3 5M835 1004l3 1M786 1000l-3 5M793 988l5 0M835 960l2 -1M855 947l5 -3M835 902l3 -5M793 986l1 -2M850 970l8 -3M819 937l1 -3M889 959l6 -2M812 1006l4 3M786 989l-6 0M804 911l1 -5M802 993l4 2M716 913l-3 -2M708 969l-6 -1M780 965l-3 -6M868 1032l4 3M745 944l-5 -5M754 960l-2 -2M873 894l1 -2M804 976l6 -6M794 979l1 -6M814 986l4 -1M783 873l-0 -7M815 953l1 -2M644 1037l-6 2M790 987l-3 -2M824 1042l4 6M805 985l5 -1M788 937l-1 -7M803 954l2 -5M789 985l-4 -4M876 900l2 -3M748 959l-4 -3M803 1016l2 5M769 1001l-2 1M799 990l4 0M782 878l-0 -7M823 946l3 -4M830 959l3 -2M796 981l2 -2M766 985l-5 -1M794 961l1 -7M782 982l-4 -3M937 927l6 -2M860 997l2 0M853 939l2 -2M778 858l-1 -4M792 988l-2 -3M867 898l4 -4M836 969l5 -3M840 985l4 -0M841 1003l5 2M792 990l-2 7M798 975l3 -4M830 1016l1 1M785 931l-1 -3M828 958l2 -2M793 989l3 3M817 976l6 -2M954 952l7 -1M916 1086l4 3M718 912l-4 -4M842 1004l3 1M792 1000l0 7M786 983l-3 -2M809 934l1 -6M780 911l-2 -7M833 1047l5 6M787 990l-2 0M610 871l-4 -3M748 947l-3 -4M782 959l-1 -2M841 1026l4 3M801 961l1 -3M729 989l-5 0M839 896l2 -4M803 949l1 -6M819 951l2 -2M803 971l3 -5M812 980l3 -1M870 974l4 -1M833 973l3 -1M772 1092l-0 2M793 978l-0 -6M797 991l5 2M813 972l4 -4M842 1019l5 3M743 983l-6 -0M821 1035l2 5M792 973l-1 -5M798 1100l0 3M850 909l4 -5M805 1021l3 7M809 980l3 -2M817 969l6 -5M818 991l5 1M794 1004l1 8M791 970l-1 -6M948 920l6 -2M816 1017l1 2M800 964l1 -6M818 985l5 -1M782 972l-2 -3M780 923l-1 -7M855 789l1 -3M751 936l-5 -5M772 926l-1 -4M820 1036l2 2M794 998l1 7M809 1017l3 5M781 991l-3 0M775 951l-3 -4M793 991l2 5M797 985l6 -4M775 977l-5 -3M827 973l2 -1M878 865l4 -5M807 1039l1 3M773 894l-0 -4M801 989l7 0M800 999l4 5M927 954l6 -1M826 851l1 -5M795 983l2 -5M780 952l-2 -7M816 969l2 -1M792 955l-0 -4M789 995l-2 4M752 1022l-2 2M806 996l4 2M830 886l3 -6M629 875l-6 -4M836 962l5 -3M792 989l2 3M796 1017l1 6M792 993l-1 5M803 987l5 -0M823 1020l4 5M801 997l5 5M838 892l3 -5M848 1057l2 3M927 959l5 -1M752 947l-3 -3M804 992l6 2M783 899l-0 -6M787 982l-5 -5M798 992l3 2M794 979l1 -6M738 807l-0 -2M804 993l8 3M798 997l3 5M819 935l2 -5M864 1026l2 2M771 1011l-3 2M798 950l1 -4M799 960l1 -7M818 953l2 -2M762 932l-1 -4M772 950l-3 -6M719 888l-1 -2M799 1045l1 4M786 973l-3 -6M793 1030l0 6M757 918l-2 -5M867 937l5 -3M795 993l2 2M774 993l-4 1M779 948l-2 -5M737 1148l-2 6M720 813l-3 -5M832 1004l3 1M792 989l-6 2M858 1047l3 4M816 968l4 -4M754 997l-5 0M865 995l4 1M823 894l2 -4M829 987l3 -0M838 992l6 0M873 943l7 -4M873 920l6 -5M703 934l-6 -3M820 942l1 -3M797 991l3 1M733 858l-3 -6M811 976l4 -2M770 1058l-1 4M824 979l3 -1M909 839l4 -5M793 988l3 -1M900 975l3 -1M777 1060l-1 5M803 970l3 -6M803 1014l1 4M753 898l-1 -4M805 965l2 -2M749 961l-3 -2M769 970l-4 -3M782 1018l-1 4M953 865l4 -2M918 848l5 -6M648 1042l-7 2M836 930l4 -7M788 977l-3 -6M926 1113l3 3M850 1016l2 1M847 964l5 -2M799 959l1 -4M723 916l-4 -4M844 845l1 -3M807 962l3 -7M820 835l0 -3M969 986l3 0M740 925l-1 -2M792 991l0 7M785 984l-3 -2M799 998l2 3M792 987l-1 -4M701 768l-1 -2M792 974l0 -3M837 1142l0 2M785 1012l-1 3M793 984l0 -4M938 929l2 -1M795 987l4 -2M809 983l5 -2M784 989l-7 1M749 951l-2 -2M886 992l4 0M836 820l1 -6M813 945l1 -2M749 902l-2 -5M900 1021l4 1M788 982l-2 -2M843 897l2 -4M799 968l1 -2M868 967l7 -3M789 957l-1 -3M810 974l4 -4M771 1087l-1 5M784 996l-5 4M730 868l-4 -6M792 1004l0 5M780 930l-2 -8M793 985l0 -5M828 1005l6 3M869 1024l6 3M793 988l3 -0M813 1047l2 5M860 1015l3 1M745 887l-3 -7M791 962l-1 -6M775 973l-5 -5M832 1005l5 2M809 972l3 -3M752 989l-5 -0M818 984l4 -1M931 1032l4 1M843 1024l5 3M845 1141l1 4M854 934l5 -4M794 982l2 -5M881 981l3 -0M802 936l2 -8M844 947l4 -3M815 935l2 -7M789 979l-3 -7M799 998l4 6M792 872l-0 -6M845 1051l4 4M868 1079l2 3M757 997l-2 1M827 858l2 -6M917 862l2 -1M805 1140l0 8M787 1038l-0 3M816 1003l6 4M880 943l4 -2M804 968l3 -5M792 988l-1 -5M860 998l7 1M813 985l6 -1M784 964l-0 -3M790 985l-4 -4M862 934l5 -4M924 937l4 -2M799 1002l3 6M866 986l7 -0M703 938l-4 -3M768 1011l-2 1M795 987l4 -2M808 958l2 -3M749 1057l-5 6M801 994l6 4M806 991l2 -0M733 991l-7 0M696 921l-2 -2M804 990l4 0M799 989l3 1M835 1011l5 3M810 976l2 -1M854 1037l2 1M837 1006l3 2M769 884l-1 -4M791 1038l-0 6M804 993l3 1M804 1004l4 5M871 977l8 -1M855 899l4 -6M792 952l-0 -8M799 984l7 -5M784 992l-3 2M858 1009l6 2M821 980l3 -1M830 943l4 -4M850 1071l4 6M847 968l4 -1M771 971l-6 -5M788 907l-0 -3M824 1008l3 2M774 765l-0 -3M815 907l2 -7M802 980l3 -2M793 982l0 -6M809 912l1 -5M777 985l-5 -1M797 982l3 -6M811 990l2 0M793 988l6 0M861 1016l8 3M792 990l1 3M822 944l3 -5M807 918l1 -5M789 990l-3 2M688 1088l-2 2M923 993l2 0M777 1035l-1 3M773 952l-2 -4M744 1036l-2 2M840 1000l4 1M825 1066l3 6M793 988l2 -2M899 1034l6 2M870 932l3 -3M857 996l4 1M803 978l3 -2M741 932l-5 -6M812 998l5 3M741 1000l-4 1M717 1109l-2 3M784 990l-2 0M810 987l4 -0M774 938l-1 -2M773 881l-1 -5M717 895l-3 -3M779 957l-2 -5M835 1001l7 3M785 985l-2 -1M797 996l3 6M731 976l-5 -1M832 953l5 -4M782 968l-4 -7M813 959l3 -4M796 1001l1 4M805 978l3 -2M858 1152l1 3M827 1012l4 3M780 977l-6 -6M800 985l6 -3M826 1190l1 6M879 927l5 -3M801 923l1 -7M804 979l4 -3M807 1026l3 6M798 959l0 -4M793 988l6 -0M837 928l4 -6M866 946l2 -2M844 1026l6 4M794 986l4 -5M804 985l5 -1M772 1180l-1 8M819 943l3 -5M796 992l1 1M908 1042l5 2M798 969l1 -3M780 982l-2 -1M793 988l4 -5M843 1031l2 2M810 976l5 -4M707 864l-3 -3M831 1009l3 1M802 994l6 3M1006 1093l6 3M785 982l-4 -3M759 934l-2 -3M814 1004l5 4M801 993l5 2M835 933l5 -5M752 913l-3 -5M849 938l2 -2M789 987l-6 -1M769 967l-4 -4M886 941l4 -3M797 989l6 2M871 1020l7 3M737 878l-3 -6M815 1057l2 6M864 822l1 -5M799 989l5 1M1016 925l3 -1M833 980l5 -1M814 1005l6 5M799 993l3 2M805 955l2 -4M792 988l3 -0M804 1009l2 3M999 1110l4 3M845 827l1 -3M837 1032l5 4M778 996l-6 3M715 906l-2 -2M804 990l4 0M785 805l-1 -5M782 973l-2 -3M804 976l4 -4M832 966l3 -2M766 905l-2 -4M825 973l6 -3M880 1030l5 2M814 990l3 -0M793 972l-0 -4M741 933l-2 -2M739 929l-3 -4M804 907l0 -6M840 1045l3 4M834 775l0 -3M824 915l2 -2M871 1029l5 3M791 997l-0 2M820 1014l3 3M855 997l5 1M831 959l2 -1M605 1136l-4 3M792 1027l-0 3M843 1099l3 7M806 981l4 -3M966 991l3 0M822 885l0 -2M769 1019l-3 4M808 943l1 -4M916 1057l6 3M792 981l-0 -3M809 921l1 -3M819 1018l1 2M815 927l1 -4M774 994l-4 1M696 925l-2 -1M787 904l0 -3M844 982l6 -1M860 944l4 -3M864 985l3 -0M807 985l7 -2M746 941l-2 -2M755 969l-6 -3"/>
<path stroke="#3b6399" stroke-width="2.6" stroke-linecap="round" fill="none" d="M838 945l4 -4M967 959l5 -1M807 914l2 -7M790 945l-0 -4M831 979l2 -0M809 1009l3 4M931 1042l5 2M791 963l0 -3M763 1123l-1 3M888 956l5 -2M792 1000l-1 7M889 1133l3 5M813 1009l5 4M808 938l2 -3M861 1050l2 2M797 1002l3 6M815 957l3 -5M808 976l2 -1M724 963l-3 -1M795 954l1 -2M624 959l-4 -0M795 891l0 -3M781 1063l-1 7M820 825l1 -4M865 917l2 -3M795 982l1 -4M792 955l-0 -7M686 987l-4 0M787 975l-2 -7M804 1002l4 6M819 990l3 0M771 972l-5 -3M791 988l-3 -2M959 970l7 -0M805 985l3 -0M821 1012l5 4M776 941l-1 -4M847 992l4 0M846 954l4 -3M780 980l-4 -3M794 989l3 1M871 990l8 0M933 919l4 -2M783 944l-1 -6M819 1102l1 2M812 1014l4 4M794 989l7 2M788 937l-0 -7M839 1020l6 4M845 975l5 -1M810 949l2 -6M734 1045l-1 1M828 900l1 -3M791 978l-1 -3M780 959l-1 -3M763 964l-4 -3M801 948l0 -3M733 1104l-2 3M793 985l2 -6M802 1089l0 3M776 986l-6 -1M784 1036l-1 5M861 909l4 -4M835 1003l4 2M714 987l-3 -0M808 962l2 -2M827 977l5 -2M749 962l-3 -1M827 897l2 -5M799 941l1 -3M793 988l5 -5M840 989l6 0M789 986l-4 -4M795 970l1 -5M741 945l-2 -1M791 979l-0 -7M804 999l3 3M681 895l-4 -4M745 1015l-7 3M793 991l1 2M874 1105l2 3M797 985l2 -2M948 1049l6 3M898 976l4 -0M877 957l6 -2M748 904l-1 -3M756 932l-5 -7M797 991l2 1M807 916l1 -5M803 1008l2 5M891 863l2 -3M833 1010l6 3M682 999l-3 1M808 893l1 -2M773 954l-3 -4M851 931l3 -3M821 968l3 -2M818 889l1 -6M863 1027l3 2M832 1052l2 2M786 994l-4 3M792 990l-3 6M839 1028l6 5M745 888l-2 -3M829 858l2 -5M822 1060l1 2M985 1126l6 3M764 971l-3 -1M892 921l5 -4M789 977l-1 -4M790 1006l-1 3M798 988l6 -0M726 1083l-2 3M793 986l2 -7M646 886l-3 -2M781 968l-1 -2M928 931l5 -2M937 935l5 -2M853 944l4 -3M806 1003l3 3M876 862l3 -4M864 940l4 -3M761 1043l-2 3M751 1070l-4 7M921 890l4 -3M801 990l5 0M798 983l3 -3M804 958l3 -6M806 884l-0 -2M792 978l-0 -3M783 937l-1 -3M609 866l-4 -2M799 965l2 -5M756 860l-2 -7M720 945l-2 -1M827 987l8 0M650 1044l-2 1M711 965l-6 -2M796 922l0 -7M768 932l-3 -6M611 1021l-6 1M835 947l4 -3M823 982l8 -2M796 989l5 -0M782 976l-2 -3M700 1046l-2 2M901 1003l6 0M837 1022l6 4M793 988l6 -3M776 997l-6 3M851 964l5 -2M872 944l3 -2M769 943l-2 -4M769 1089l-1 6M853 1123l3 6M795 987l5 -1M810 982l2 -1M807 998l5 3M751 964l-4 -2M853 981l2 -1M740 926l-2 -3M804 974l4 -5M776 910l-1 -3M862 920l3 -2M788 983l-3 -4M797 993l6 4M761 971l-4 -2M773 1006l-5 4M798 996l3 4M958 905l3 -1M795 964l1 -6M795 946l0 -3M782 893l-1 -8M907 970l3 -1M799 996l2 2M1003 981l8 -0M875 958l4 -2M792 1005l-1 4M916 856l6 -5M737 930l-4 -3M803 987l7 -2M794 992l3 6M806 966l2 -4M835 899l1 -2M793 985l1 -6M794 989l3 0M647 994l-5 0M863 948l7 -4M882 1125l3 4M773 943l-3 -7M792 985l-1 -4M846 966l4 -1M814 976l6 -3M806 988l8 0M794 978l-0 -3M868 978l4 -0M794 1013l0 4M813 957l2 -2M793 1005l0 8M813 969l4 -3M810 1027l1 2M831 917l3 -6M819 1007l5 4M852 927l5 -4M794 982l2 -5M803 996l5 3M859 858l3 -4M822 927l1 -3M839 1152l2 5M724 791l-1 -4M812 840l1 -7M852 980l7 -1M775 969l-5 -6M798 969l1 -6M829 940l2 -4M841 938l2 -2M813 1000l2 1M804 950l1 -3M791 990l-3 1M845 952l2 -2M754 1028l-2 2M748 797l-1 -4M905 940l4 -2M846 937l2 -2M928 999l7 1M814 971l3 -3M938 920l5 -3M827 979l3 -1M830 951l4 -3M847 891l2 -3M844 957l3 -2M826 879l2 -7M792 989l-4 -0M863 986l8 -1M795 987l2 -1M821 996l2 1M794 985l2 -7M761 940l-3 -6M789 989l-4 1M831 916l1 -3M790 979l-1 -4M801 1016l2 6M782 980l-6 -4M782 1140l-1 2M796 977l1 -3M811 984l3 -1M803 967l1 -3M801 949l1 -4M934 903l3 -2M762 954l-2 -3M810 977l5 -3M739 1011l-7 3M956 862l2 -1M811 990l8 1M796 970l1 -6M845 1036l5 4M765 943l-3 -6M793 1077l-0 6M866 939l5 -3M797 976l3 -7M913 1059l5 3M803 1007l3 5M798 980l3 -3M792 966l0 -3M795 787l0 -7M845 1048l2 3M851 969l5 -1M808 1011l2 3M797 988l5 -1M789 981l-2 -5M777 973l-5 -4M788 990l-7 2M818 973l3 -3M749 953l-3 -3M862 926l5 -5M819 926l1 -3M779 979l-3 -3M800 959l0 -3M839 965l2 -1M790 967l-1 -6M608 954l-2 -0M786 958l-1 -5M687 931l-5 -3M796 994l5 6M792 970l-0 -7M786 1005l-1 4M730 973l-5 -1M720 975l-2 0M778 900l-0 -2M989 989l6 -0M773 976l-6 -5M852 980l2 0M865 965l3 -1M831 988l2 -0M816 934l2 -4M799 994l3 3M904 842l2 -2M854 1061l5 5M774 973l-5 -5M762 1046l-3 7M784 930l-0 -6M843 888l2 -4M807 1079l1 4M792 987l-1 -7M919 987l7 -0M791 898l0 -4M790 984l-3 -7M794 986l3 -4M698 928l-3 -2M818 913l2 -7M733 917l-5 -6M839 958l6 -4M943 976l7 -0M743 1015l-4 2M789 1015l0 3M796 995l2 4M814 758l0 -8M793 988l7 -4M794 991l4 5M795 958l0 -7M818 982l6 -2M777 1002l-3 2M757 880l-1 -4M808 984l3 -1M886 1049l2 1M821 906l2 -7M790 995l-0 2M799 879l1 -5M750 948l-4 -4M800 920l1 -7M772 917l-2 -5M784 982l-4 -3M820 990l3 0M765 1078l-2 5M791 987l-4 -6M898 1116l2 1M831 1061l3 6M892 944l7 -3M900 1176l3 4M865 1058l5 5M803 996l3 2M833 929l4 -6M802 916l0 -2M840 994l7 1M727 846l-3 -7M793 974l0 -2M808 1048l1 5M810 984l7 -2M796 1001l2 4M808 983l2 -1M818 934l3 -4M769 963l-4 -4M811 989l6 0M798 981l3 -3M796 987l7 -2M795 989l5 -0M852 809l1 -4M853 983l2 -1M835 975l8 -3M804 983l5 -3M791 1030l0 8M873 975l6 -1M759 1015l-3 3M767 927l-2 -7M744 1015l-3 2M600 874l-4 -2M783 904l-0 -5M838 950l2 -3M801 964l0 -3M762 941l-1 -2M738 972l-8 -3M819 881l2 -7M797 987l2 -0M829 1031l2 3M795 987l3 -1M913 1046l3 1M873 949l3 -2M753 995l-4 1M812 982l3 -1M725 1014l-3 1M806 987l5 -1M814 1080l1 5M790 973l-1 -7M820 1023l2 2M735 955l-3 -2M782 983l-4 -2M814 963l2 -2M784 948l-0 -4M799 992l5 3M821 1012l3 3M842 946l4 -3M802 991l5 2M802 1003l4 6M839 967l4 -1M796 939l1 -7M766 1137l-1 6M831 871l2 -6M695 929l-5 -3M884 961l3 -0M798 987l5 -1M845 939l6 -5M794 987l1 -3M798 972l0 -2M779 916l-1 -4M770 856l-1 -4M773 938l-1 -2M758 986l-4 0M709 996l-4 1M815 1081l1 4M772 959l-2 -2M854 1032l6 4M818 980l3 -0M978 941l2 -0M797 982l2 -2M813 861l1 -5M894 1131l4 7M844 920l3 -4M792 967l-0 -2M812 1041l2 3M807 1009l3 4M863 933l4 -3M810 1017l3 5M670 916l-3 -2M794 942l1 -7M814 977l7 -3M824 942l3 -5M870 993l2 -0M774 987l-4 -0M808 910l0 -3M767 973l-3 -2M780 1004l-4 5M838 1000l3 0M791 984l-2 -5M762 1019l-1 2M757 962l-3 -1M799 975l3 -5M772 965l-3 -4M769 1036l-4 6M834 1052l3 6M925 960l4 -1M855 919l5 -5M861 1029l5 3M785 1069l-1 5M808 998l4 3M825 1001l6 2M913 1094l3 3M793 947l-0 -7M815 1002l4 3M803 979l4 -4M913 911l2 -1M779 968l-3 -5M810 992l3 1M842 937l5 -5M920 998l5 1M912 957l4 -1M793 989l3 1M718 931l-5 -5M804 1018l2 6M729 863l-2 -5M890 893l4 -3M876 971l7 -2M791 950l0 -5M795 990l2 1M855 952l7 -4M801 984l4 -2M790 966l-0 -2M808 987l5 -1M781 967l-2 -5M802 776l-0 -3M839 952l3 -1M797 993l5 6M824 1012l4 3M798 990l7 1M791 1037l0 3M743 971l-2 -1M802 963l1 -2M905 991l7 0M795 986l2 -2M812 1003l3 2M822 915l1 -3M799 1073l0 2M840 964l5 -3M791 954l0 -3M858 823l2 -6M803 971l3 -7M792 987l-1 -7M714 820l-2 -6M800 957l2 -6M784 980l-2 -2M793 988l4 -6M799 987l7 -2M784 1037l-1 6M861 960l7 -3M901 1025l5 2M804 996l6 3M817 870l2 -8M728 937l-5 -4M822 1017l4 4M891 1172l3 5M784 983l-2 -2M804 981l4 -3M832 969l6 -3M872 1042l4 3M811 869l0 -4M796 987l5 -2M794 980l1 -8M802 1019l1 5M790 989l-3 -0M807 1007l2 2M807 950l1 -3M757 991l-3 -0M828 938l3 -5M740 982l-7 -1M757 966l-4 -3M789 957l-1 -3M793 988l2 -1M799 1019l1 2M800 995l4 5M819 972l6 -4M804 986l5 -2M830 1015l2 1M832 1158l0 2M795 749l0 -8M760 968l-5 -3M725 865l-3 -7M859 911l3 -4M788 985l-4 -3M747 979l-4 -1M846 959l4 -1M809 1017l1 2M727 1118l-4 7M817 953l3 -4M852 977l8 -2M790 1015l-0 4M803 962l1 -3M845 1026l5 3M833 1000l2 0M785 978l-3 -3M848 877l1 -2M814 988l6 -0M769 1026l-2 3M826 950l2 -2M899 1201l3 6M804 984l3 -1M795 957l0 -4M913 975l3 -1M823 988l5 -0M927 807l5 -6M763 1016l-1 1M754 958l-3 -3M985 862l4 -3M865 1026l2 1M788 985l-2 -1M790 985l-1 -3M797 988l5 -1M820 1047l2 4M732 1059l-3 4M793 986l1 -6M1027 1018l8 1M783 1006l-1 2M780 993l-5 1M797 941l1 -4M722 1110l-4 6M851 1012l2 1M786 994l-6 5M764 1098l-2 7M794 990l3 1M724 894l-2 -3M711 1012l-3 1M914 992l5 1M736 1078l-1 2M944 1116l3 3M855 979l8 -1M849 852l3 -6M721 926l-4 -4M834 906l1 -2M892 1005l3 1M756 944l-2 -3M797 1079l1 7M872 956l6 -3M672 936l-3 -2M842 968l6 -2M933 870l5 -4M803 976l4 -5M917 798l1 -2M765 1063l-2 6M797 978l2 -4M787 983l-4 -4M793 964l0 -3M763 965l-4 -3M806 924l1 -6M792 988l1 -3M919 900l5 -4M901 952l8 -3M770 971l-3 -2M830 937l3 -4M862 954l3 -2M875 968l5 -1M799 999l4 6M960 914l2 -1M812 988l6 0M875 979l3 -0M778 923l-1 -4M842 1003l3 1M709 942l-4 -3M857 906l1 -1M807 1003l3 4M623 882l-7 -4M759 945l-2 -4M763 1069l-0 2M843 1042l3 4M753 984l-5 -0M787 978l-1 -3M885 1026l2 1M916 1037l2 1M818 955l3 -3M806 917l1 -4M839 1013l5 3M733 889l-4 -6M811 1065l2 8M789 971l-0 -2M807 1063l1 8M787 984l-3 -2M803 945l2 -6M796 971l2 -7M808 960l1 -2M804 973l2 -2M791 933l-0 -4M792 985l-0 -6M800 862l1 -5M792 898l0 -4M790 972l-1 -7M793 943l1 -4M869 994l4 0M789 966l-1 -4M765 899l-0 -3M827 879l1 -4M746 927l-3 -4M710 909l-5 -5M808 957l2 -5M830 1008l6 3M736 1023l-5 4M816 977l4 -1M797 955l1 -5M813 975l2 -2M814 1015l2 2M778 954l-1 -2M769 973l-3 -2M737 932l-2 -3M784 982l-3 -2M811 981l5 -2M817 1058l2 4M725 932l-3 -2M913 968l8 -2M793 1059l0 6M883 951l4 -1M779 933l-0 -2M803 1002l3 3M871 947l3 -2M751 998l-4 1M751 960l-6 -4M825 855l1 -7M757 864l-2 -7M795 981l2 -3M774 900l-1 -4M795 1005l1 7M724 899l-3 -3M989 864l4 -3M794 996l2 6M830 1034l4 5M649 904l-7 -4M795 988l5 -1M776 906l-1 -5M622 912l-7 -3M793 941l0 -2M862 994l3 0M822 979l5 -2M762 1023l-1 2M849 994l6 0M828 942l3 -4M805 984l6 -3M775 1012l-1 2M813 821l1 -6M829 952l2 -2M911 1015l7 1M804 1002l2 3M864 1034l5 3M836 975l6 -2M779 929l-2 -5M797 922l0 -7M819 963l3 -4M801 998l3 4M833 1110l3 7M831 998l3 1M797 962l1 -2M634 992l-6 0M838 1027l4 3M786 1002l-1 3M819 967l4 -4M734 928l-3 -2M756 1018l-6 4M816 1006l4 3M834 932l2 -3M828 961l6 -4M770 836l-1 -7M866 843l2 -5M861 874l2 -3M792 988l7 -2M821 949l2 -3M790 983l-1 -3M797 990l5 2M820 966l6 -5M821 935l3 -6M921 1028l6 2M793 988l3 -4M885 1035l5 2M758 1076l-2 7M946 999l8 1M768 920l-2 -5M844 998l7 1M853 1003l7 2M759 940l-2 -3M816 1023l4 6M771 921l-1 -4M819 909l2 -6M864 982l7 -1M806 994l4 1M792 973l-0 -5M919 979l5 -1M901 1133l2 3M743 934l-1 -2M802 997l6 6M895 1011l3 1M793 991l1 6M813 899l0 -2M749 1022l-2 2M781 1022l-1 2M891 976l3 -1M799 949l1 -5M812 1001l3 2M793 925l-0 -5M852 1066l2 3M834 970l6 -2M793 988l3 -2M792 982l-1 -2M833 970l5 -3M801 987l5 -1M824 976l6 -3M885 904l6 -5M1000 882l3 -2M792 998l-0 7M792 972l0 -3M774 998l-2 1M812 1026l3 5M700 978l-7 -1M814 845l0 -2M773 999l-3 2M761 1012l-6 4M756 898l-1 -2M860 992l2 0M875 1137l3 5M737 1169l-2 4M822 979l8 -2M799 968l2 -6M789 990l-1 0M795 984l3 -4M796 1020l1 8M797 978l1 -3M882 881l4 -5M792 988l-4 -5M799 979l2 -3M753 1013l-3 1M583 1043l-2 1M777 960l-3 -5M795 978l2 -7M692 891l-5 -5M874 942l3 -2M802 1021l2 6M793 981l-0 -6M812 1020l4 6M855 1011l7 2M788 992l-3 3M841 1012l6 3M836 1042l3 3M787 994l-5 4M829 992l6 0M861 965l3 -1M869 975l8 -1M815 995l7 2M858 1069l3 2M801 922l0 -6M807 1037l1 4M793 1014l0 3M746 949l-1 -1M719 919l-4 -4M796 981l2 -5M748 891l-3 -6M819 954l3 -4M833 922l3 -4M806 979l4 -3M801 985l6 -3M845 1032l2 2M810 997l5 3M732 940l-3 -3M806 953l3 -6M778 974l-2 -2M840 935l4 -5M796 976l2 -5M887 1192l2 5M798 987l5 -1M928 874l5 -5M804 967l2 -4M834 943l2 -2M850 1071l2 4M752 916l-3 -6M789 963l-1 -3M972 869l3 -1M830 988l4 -0M777 969l-4 -5M809 962l3 -5M777 953l-3 -7M938 1125l5 5M824 969l3 -2M899 935l3 -1M790 967l-0 -6M815 996l3 1M798 995l2 2M822 962l5 -4M808 993l3 1M749 1033l-5 5M843 936l4 -4M815 992l4 1M837 909l3 -5M792 972l-0 -4M724 860l-2 -3M784 977l-4 -6M835 954l3 -3M785 983l-6 -4M880 870l3 -3M792 988l-2 -6M788 996l-2 2M911 992l3 -0M840 970l7 -2M1029 975l7 0M835 890l2 -6M838 966l5 -2M675 851l-2 -2M829 1034l4 5M912 930l5 -2M778 906l-0 -4M794 912l0 -4M757 944l-2 -3M883 996l4 0M707 1164l-2 5M844 1046l4 4M776 961l-2 -4M788 961l-1 -6M782 976l-4 -5M864 915l2 -2M793 960l1 -6M820 852l1 -3M814 1041l1 2M862 899l4 -5M812 983l4 -1M735 946l-2 -1M736 887l-3 -5M858 1002l5 1M795 988l2 0M789 986l-3 -3M788 1035l-1 2M814 999l5 3M844 1008l5 2M777 930l-1 -3M726 988l-6 -0M791 986l-6 -5M615 864l-5 -4M776 906l-1 -6M670 831l-2 -2M805 911l1 -4M800 995l4 2M827 979l6 -1M788 991l-7 3M795 986l5 -4M862 1174l2 6M895 808l2 -3M823 968l5 -3M683 866l-6 -6M777 1036l-2 5M794 968l-0 -5M744 939l-3 -3M787 963l-1 -7M837 985l2 -0M800 995l6 5M785 859l-0 -4M792 989l0 5M796 943l0 -7M801 1020l2 6M758 1081l-1 3M792 988l-1 -2M848 1040l3 3M812 968l5 -5M785 984l-5 -4M938 919l7 -4M888 963l3 -1M812 973l5 -5M862 1015l6 3M990 1018l5 0M768 962l-6 -5M760 991l-4 0M841 997l2 -0M859 925l4 -4M807 985l3 -1M790 975l-1 -7M817 1013l4 5M822 994l4 1M842 985l3 -0M845 948l5 -3M793 1041l-0 3M770 1043l-2 4M789 1001l-1 2M899 832l2 -2M793 807l-0 -8M795 986l2 -2M817 1085l2 6M864 1005l5 1M784 1000l-4 6M916 923l2 -1M859 944l4 -2M817 1004l3 2M823 1207l-0 3M784 953l-1 -4M908 944l6 -3M740 1012l-7 3M789 999l-1 2M792 987l-0 -5M791 995l-1 5M817 935l3 -7M756 941l-3 -4M1006 892l4 -2M750 1015l-3 1M793 991l0 5M794 982l0 -4M796 968l2 -6M815 938l1 -3M901 958l6 -2M790 981l-1 -4M798 974l2 -4M794 992l2 3M775 981l-7 -4M820 1040l1 2M746 978l-4 -0M769 984l-7 -2M750 1014l-5 3M846 927l4 -4M800 975l1 -2M775 837l-1 -3M833 929l4 -6M800 953l2 -8M791 976l0 -3M836 981l7 -1M768 920l-2 -6M971 929l5 -2M632 891l-4 -3M792 990l-2 8M791 935l-0 -5M794 992l2 6M835 895l1 -3M808 984l7 -2M891 916l4 -3M864 800l2 -4M851 935l1 -1M727 914l-4 -4M788 996l-4 6M798 987l4 -0M957 935l3 -1M755 929l-4 -6M937 928l5 -2M799 968l2 -7M876 925l2 -2M756 872l-1 -4M780 971l-3 -4M772 964l-3 -3M795 992l3 5M802 979l2 -3M810 1018l4 6M763 964l-2 -2M746 927l-1 -2M681 1005l-5 1M759 1013l-2 1M839 1026l5 4M819 1138l1 3M813 969l4 -3M788 968l-2 -6M806 913l1 -5M812 996l3 2M832 972l3 -2M789 1013l-0 6M848 974l4 -1M796 982l1 -2M771 1001l-2 2M809 980l3 -1M817 978l2 -0M805 1056l0 3M674 894l-5 -4M771 942l-4 -7M778 992l-7 2M777 971l-5 -5M760 953l-2 -2M812 946l3 -7M849 1001l3 1M805 996l6 5M797 931l-0 -3M680 898l-3 -3M818 1021l2 2M795 982l3 -7M789 980l-3 -7M683 943l-3 -1M796 942l0 -6M792 981l-1 -3M865 994l4 -0M729 989l-5 0M797 982l5 -7M769 971l-2 -1M818 939l3 -5M632 854l-4 -4M884 960l7 -2M857 1046l4 4M781 1062l-1 4M773 974l-5 -4M822 1019l2 2M760 954l-5 -5M777 904l-1 -7M806 986l4 -0M993 970l7 -0M796 983l1 -3M817 820l0 -6M809 971l4 -4M870 839l4 -6M787 983l-5 -5M792 988l-3 -4M891 978l4 -0M793 985l0 -3M826 978l5 -1M790 978l-2 -6M784 960l-2 -7M795 997l2 4M788 972l-1 -5M827 1003l7 3M854 844l3 -7M805 1045l1 6M806 1010l3 6M793 988l3 -4M794 990l6 6M829 1033l3 5M836 958l2 -2M815 1050l2 4M742 937l-4 -4M829 828l0 -3M935 968l7 -1M821 985l7 -1M682 1169l-4 5M670 978l-4 0M855 872l3 -6M869 831l1 -3M844 956l5 -3M858 1031l2 1M793 986l2 -7M793 989l4 4M845 900l4 -6M790 971l-0 -3M735 1131l-3 7M740 907l-1 -2M861 935l5 -4M775 963l-3 -4M784 961l-3 -6M834 988l3 -1M781 973l-4 -5M792 988l0 -7M720 919l-4 -4M803 1002l4 4M852 1087l4 6M703 834l-2 -4M675 909l-6 -3M938 1021l6 1M740 1062l-4 6M722 880l-4 -7M832 1171l1 3M837 934l2 -2M790 981l-2 -7M868 927l2 -1M850 1018l4 2M820 934l3 -7M877 949l3 -1M819 863l2 -6M815 1004l4 3M753 909l-3 -7M833 1014l7 4M757 917l-3 -6M999 1009l4 1M867 1105l3 5M825 912l2 -5M823 1037l1 2M807 936l1 -3M799 987l4 -1M842 978l7 -1M861 1045l6 5M870 859l3 -5M792 988l-5 -6M813 951l3 -7M781 932l-2 -8M796 971l2 -8M792 975l-0 -5M697 847l-4 -6M861 992l6 1M875 1059l2 1M888 974l5 -0M809 944l2 -3M837 1023l3 2M942 1135l5 5M811 906l1 -7M841 951l4 -2M910 1041l3 2M807 985l7 -2M796 1019l0 5M864 981l6 -1M774 1020l-2 3M764 971l-3 -2M798 964l0 -3M757 993l-7 1M794 987l5 -2M785 1039l-1 7M803 997l3 3M736 1003l-7 2M973 948l3 -0M771 968l-5 -6M792 989l-1 2M797 999l3 7M785 999l-2 2M993 878l3 -2M827 934l4 -6M846 961l6 -3M795 988l7 -3M806 857l0 -7M812 1001l3 2M945 989l4 -0M775 921l-2 -8M792 988l-1 -5M790 982l-3 -6M831 942l3 -3M864 1004l5 1M996 945l5 -1M792 987l-2 -7M793 853l-0 -3M779 978l-3 -3M719 870l-4 -6M804 1020l2 4M856 1043l5 5M855 986l7 0M826 991l4 0M803 945l1 -5M965 911l8 -3M797 974l1 -6M777 963l-1 -2M818 963l2 -1M715 1052l-5 4M860 974l6 -2M832 1015l6 4M793 976l0 -3M842 919l2 -4M793 986l3 -7M878 952l2 -1M794 994l1 6M846 1032l4 4M925 1101l5 4M835 955l6 -4M948 944l2 -0M741 1020l-6 4M729 957l-6 -3M824 959l5 -4M793 972l0 -8M998 1001l6 0M842 955l4 -2M773 1014l-4 6M791 978l-1 -5M813 970l5 -4M853 1026l2 1M920 1070l4 3M793 988l2 -2M792 988l-4 -4M812 1085l-0 2M774 1009l-1 2M886 1034l6 3M716 999l-5 1M783 965l-1 -3M815 974l4 -2M771 890l-1 -3M1005 1018l6 1M793 991l1 7M863 1049l5 5M827 1042l3 5M804 985l4 -1M873 935l4 -3M796 985l2 -4M883 1122l2 3M835 1006l5 2M813 969l5 -4M789 972l-1 -3M870 961l3 -1M751 930l-1 -2M672 787l-3 -5M802 991l3 1M861 976l2 0M809 979l2 -1M793 987l0 -5M749 1028l-2 2M824 953l3 -3M914 1052l4 2M778 1006l-4 6M936 873l5 -4M736 840l-2 -6M778 986l-7 -1M792 874l-0 -5M790 989l-2 1M838 849l3 -6M840 1057l1 2M784 954l-1 -4M834 977l7 -2M793 989l3 0M790 983l-1 -3M811 959l3 -5M674 950l-7 -2M717 814l-2 -4M792 988l-2 -3M807 987l3 -0M765 952l-3 -3M802 1000l2 3M758 931l-3 -5M797 967l2 -5M964 1046l4 2M794 987l2 -3M796 995l3 4M824 1049l3 5M728 928l-4 -5M869 1008l7 2M794 981l1 -4M778 892l-0 -3M801 979l1 -2M984 1114l4 2M746 1021l-2 1M852 901l4 -6M817 936l1 -2M798 992l4 3M720 918l-5 -6M803 862l-0 -3M797 984l6 -5M826 1004l3 2M821 990l4 0M815 999l4 2M779 955l-2 -7M834 907l1 -3M764 1103l-2 6M636 1053l-2 1M791 1004l-1 5M829 919l2 -4M857 892l4 -6M766 951l-3 -5M786 1036l-1 7M865 834l2 -3M803 933l2 -8M777 977l-3 -2M794 989l7 1M917 918l3 -2M770 964l-1 -2M810 983l4 -1M827 967l5 -3M827 993l7 1M792 986l-2 -6M818 959l4 -5M790 1050l-0 2M797 1041l1 6M790 977l-1 -5M784 1051l-1 7M847 926l3 -3M822 966l4 -2M798 996l2 3M792 979l0 -4M841 1018l7 4M839 875l1 -3M808 981l6 -3M947 963l2 -0M823 929l3 -6M741 944l-4 -3"/>
<path stroke="#3a6ea4" stroke-width="2.6" stroke-linecap="round" fill="none" d="M792 914l-0 -8M937 969l7 -1M750 1097l-2 7M805 990l3 1M805 994l7 3M773 1055l-1 3M781 1005l-4 6M792 989l-8 1M824 972l4 -3M839 961l2 -2M905 1085l3 2M794 991l1 4M803 1025l2 7M895 1115l3 3M760 951l-5 -6M797 987l8 -2M795 1006l0 4M828 957l3 -3M830 987l4 0M860 979l3 -0M769 927l-2 -4M782 976l-4 -6M766 958l-5 -5M917 1136l2 2M851 1126l2 5M865 972l2 -1M915 844l5 -6M797 992l6 4M838 880l2 -5M782 971l-3 -5M818 1017l2 2M888 952l4 -1M877 986l3 0M768 991l-4 1M855 884l3 -6M913 946l2 -1M794 988l5 0M850 920l3 -4M834 972l6 -2M774 936l-2 -6M840 959l6 -3M854 1014l6 3M640 1128l-4 4M717 907l-4 -5M773 1070l-2 6M754 896l-3 -5M842 1001l3 1M817 935l3 -7M786 978l-1 -3M819 872l1 -3M761 926l-3 -5M758 1015l-6 5M627 946l-7 -2M795 970l1 -8M955 848l2 -2M814 973l2 -1M850 975l3 -1M807 982l6 -3M798 958l2 -7M795 950l1 -5M879 999l3 1M839 1047l4 6M710 962l-3 -1M804 1016l2 5M860 803l0 -2M807 978l5 -4M881 974l7 -1M751 975l-7 -2M800 938l1 -7M770 959l-2 -3M854 1069l5 6M840 947l4 -4M808 982l5 -2M788 1027l-1 3M866 906l3 -4M824 932l4 -6M834 1022l2 1M871 816l3 -5M795 985l2 -4M788 1026l-0 7M816 1000l7 3M808 825l0 -5M781 979l-1 -2M790 983l-3 -5M768 944l-4 -7M781 1013l-1 3M840 1126l2 6M737 921l-3 -4M868 990l3 -0M823 919l3 -5M822 948l2 -3M854 922l5 -5M770 958l-2 -3M828 952l4 -4M795 987l4 -2M822 1021l5 5M773 966l-3 -4M791 1078l-0 3M796 986l6 -3M831 881l1 -3M851 1110l2 3M809 1010l2 2M795 987l4 -2M928 1127l3 3M805 865l1 -3M803 1172l-0 6M979 914l5 -2M801 983l6 -4M833 947l2 -2M962 1083l6 3M837 981l3 -0M793 988l2 -6M848 983l4 -0M777 998l-3 1M774 997l-3 2M792 1007l0 8M742 938l-3 -3M779 953l-1 -4M672 900l-6 -4M830 1046l4 7M801 911l1 -3M792 973l-0 -7M828 985l3 0M786 964l-1 -6M722 980l-5 -1M826 928l2 -4M807 957l1 -3M777 951l-1 -2M786 1039l-0 5M792 988l-4 -4M786 982l-3 -3M981 880l3 -2M804 989l5 0M795 981l1 -3M804 993l6 2M811 998l4 2M793 980l-0 -8M900 958l6 -2M713 930l-2 -2M813 989l7 0M738 905l-2 -3M792 983l-1 -3M788 1027l-1 3M802 963l2 -4M828 989l4 0M728 845l-1 -2M775 978l-7 -4M812 985l5 -1M774 1039l-1 3M810 984l3 -0M835 986l5 -0M809 1003l6 5M828 889l1 -5M832 934l4 -6M739 935l-2 -2M745 995l-6 0M784 994l-5 4M799 941l1 -6M815 1003l2 1M857 1065l2 3M789 978l-1 -4M802 984l2 -1M796 986l3 -3M920 959l6 -2M772 1051l-2 4M792 988l-1 -3M773 1005l-7 5M795 1004l1 5M872 1008l2 1M897 1087l4 4M697 969l-4 -1M944 1125l2 2M886 955l4 -1M758 972l-5 -2M986 904l3 -2M947 1007l2 0M804 1036l2 4M760 956l-3 -3M840 995l6 0M886 944l7 -3M804 984l3 -1M937 1044l2 1M815 998l4 1M708 895l-2 -3M704 937l-2 -1M749 826l-2 -5M805 971l2 -3M793 957l-0 -4M799 903l1 -6M790 964l-1 -5M789 965l-0 -4M783 994l-5 2M815 955l4 -6M777 963l-2 -3M743 758l-1 -3M794 988l6 -0M792 986l-1 -8M821 947l2 -3M804 985l6 -1M775 947l-2 -4M796 989l4 2M821 993l8 1M830 1010l3 2M738 1010l-7 2M832 925l3 -4M814 1005l4 3M769 971l-4 -3M800 979l5 -6M787 977l-2 -5M794 989l2 2M801 995l4 3M879 835l4 -7M793 989l4 2M865 940l3 -2M929 1070l3 1M772 966l-4 -4M792 986l-2 -6M843 1029l3 2M803 1000l4 5M816 982l4 -1M808 1019l2 4M764 957l-2 -3M798 1012l1 4M792 992l-0 3M648 1061l-2 2M732 965l-6 -3M784 967l-1 -3M798 1055l1 4M763 918l-3 -6M792 985l-1 -6M781 994l-6 2M773 1005l-5 4M817 979l7 -2M719 883l-2 -3M725 921l-4 -5M779 1015l-2 4M753 946l-3 -3M802 980l3 -2M725 1159l-3 6M788 943l-1 -2M647 861l-2 -2M841 971l6 -2M787 760l0 -5M779 891l-0 -3M840 946l4 -4M763 870l-1 -5M800 853l0 -6M783 1157l-0 4M832 962l4 -2M794 990l4 6M792 987l-2 -6M801 928l0 -3M788 979l-2 -3M795 870l0 -4M814 904l1 -4M834 924l2 -3M817 1009l2 2M964 1087l6 4M837 982l4 -1M611 908l-2 -1M796 989l5 0M783 1006l-3 6M812 972l3 -3M804 1004l2 2M806 805l0 -6M830 1036l4 5M806 997l4 3M792 985l-1 -2M760 955l-5 -5M871 917l4 -3M829 978l7 -2M815 880l2 -6M810 954l1 -3M724 816l-3 -8M834 1072l4 7M862 986l3 0M740 942l-4 -3M806 985l3 -1M814 1008l3 3M784 983l-3 -1M807 1044l2 4M950 912l6 -2M781 963l-3 -5M794 965l1 -5M750 1047l-3 5M782 1009l-3 5M797 989l3 0M993 1005l3 0M844 893l3 -5M808 895l0 -3M976 1045l4 1M748 1030l-4 4M845 963l7 -3M806 1020l2 4M766 1014l-1 2M905 979l2 -1M794 989l4 1M796 1004l1 4M804 917l1 -4M832 897l2 -3M798 982l5 -6M783 1042l-1 4M841 928l5 -6M878 859l4 -6M790 875l-0 -3M895 937l5 -3M838 921l4 -6M743 929l-3 -4M798 993l6 4M771 969l-6 -5M818 947l3 -6M806 1001l3 3M791 980l-1 -3M789 972l-1 -4M770 966l-2 -2M846 993l7 0M758 925l-2 -3M793 985l0 -5M853 801l1 -4M776 950l-2 -4M794 985l3 -6M769 943l-1 -2M757 965l-2 -1M808 981l3 -2M786 991l-7 3M741 924l-4 -5M779 985l-7 -1M747 959l-2 -2M816 983l6 -1M821 978l7 -3M818 913l0 -2M818 973l4 -3M665 915l-4 -2M977 972l5 -0M807 1021l3 6M799 914l1 -3M829 943l4 -5M805 962l1 -3M752 837l-1 -3M763 959l-2 -3M804 974l4 -6M837 989l3 0M748 919l-3 -5M816 1051l3 6M679 1121l-1 2M868 986l6 -0M786 1007l-2 6M748 950l-5 -4M800 932l1 -4M791 973l-1 -5M780 1005l-3 3M895 923l2 -2M760 886l-2 -5M802 1013l1 3M804 986l7 -2M835 944l3 -4M944 1011l4 1M797 983l5 -6M818 985l7 -1M805 975l5 -5M807 990l3 1M744 941l-4 -4M770 1074l-1 6M801 994l5 4M801 957l2 -7M807 987l6 -1M840 1038l4 5M706 1010l-2 1M844 1077l1 3M820 986l5 -1M815 1007l3 2M696 919l-5 -3M795 971l0 -5M803 973l3 -5M790 976l-0 -4M797 988l3 -0M808 973l3 -2M839 919l3 -3M778 957l-2 -4M797 983l4 -5M897 935l6 -3M797 963l1 -7M803 996l5 4M910 901l5 -4M792 1036l0 3M674 910l-3 -1M636 873l-5 -4M846 986l6 0M812 995l5 1M798 930l1 -3M831 955l4 -3M737 947l-2 -2M831 996l6 1M763 940l-4 -6M811 838l0 -3M705 919l-3 -2M774 1000l-4 2M881 1027l6 3M898 982l5 0M903 1149l2 3M804 993l5 1M801 961l1 -4M820 1003l6 3M728 970l-6 -1M795 992l2 2M795 972l1 -4M793 984l0 -7M889 883l5 -5M980 1032l5 1M796 987l2 -1M798 1137l-0 8M750 939l-2 -2M790 861l-0 -5M690 943l-2 -1M784 937l-1 -5M834 1002l7 2M764 872l-1 -6M770 964l-4 -5M728 856l-3 -7M781 918l-1 -5M653 858l-5 -4M790 982l-2 -6M813 970l2 -2M795 988l2 -1M819 949l3 -5M927 986l3 0M791 981l-1 -5M831 978l3 -1M812 1048l1 6M783 943l-1 -7M792 959l-0 -7M802 991l5 1M893 884l4 -5M601 1086l-4 2M692 966l-2 -0M791 988l-6 -1M799 996l6 6M797 948l0 -4M746 941l-4 -3M714 1042l-4 2M771 999l-7 4M792 989l5 1M783 905l-1 -5M784 981l-5 -5M822 961l3 -3M759 936l-4 -6M770 969l-2 -2M870 1009l3 0M779 972l-4 -5M705 829l-4 -7M622 996l-3 -0M730 937l-4 -3M792 1023l-0 4M802 1052l0 6M799 975l3 -6M830 823l2 -7M842 1183l2 4M831 887l1 -3M992 1035l3 0M799 918l0 -3M825 893l2 -5M833 949l3 -3M725 1035l-3 2M793 874l-0 -4M907 905l4 -3M736 941l-5 -4M786 1010l-3 8M740 903l-4 -7M793 1005l-0 8M765 956l-4 -5M789 984l-3 -4M780 977l-5 -4M785 962l-1 -6M796 979l3 -7M823 962l2 -2M954 944l3 -1M798 978l1 -3M797 1002l1 3M777 965l-3 -4M742 982l-6 -1M799 994l5 4M777 974l-3 -4M813 922l1 -3M792 983l0 -6M801 962l1 -4M785 1094l-0 8M850 953l6 -3M793 962l0 -7M958 994l7 -0M950 1063l3 1M827 919l3 -6M794 974l0 -7M870 1162l3 6M800 881l0 -7M792 989l-8 -0M835 984l6 -0M731 1034l-4 2M759 953l-4 -5M946 1008l3 1M813 960l4 -5M756 1002l-5 2M823 1002l4 2M790 985l-3 -4M800 936l1 -5M745 902l-1 -2M879 905l5 -4M661 1093l-6 4M799 980l2 -2M786 979l-2 -3M791 983l-0 -3M657 841l-6 -6M767 924l-3 -7M800 992l3 1M802 1024l0 3M795 982l1 -5M788 985l-3 -2M828 822l1 -7M720 1033l-6 4M866 927l6 -5M834 836l1 -4M786 967l-1 -4M808 1000l5 4M802 982l4 -3M792 979l-0 -4M919 1055l3 2M782 1052l-1 6M762 931l-4 -7M857 1015l5 2M792 988l0 -3M804 985l2 -0M788 973l-2 -7M885 966l7 -1M736 1106l-4 7M796 962l0 -3M803 982l4 -2M775 1066l-1 6M828 920l3 -5M849 975l3 -1M793 979l1 -3M718 976l-2 -0M788 935l-0 -8M812 969l5 -4M711 967l-8 -2M791 970l0 -3M801 991l6 2M794 919l0 -4M787 961l-2 -7M859 1015l6 3M811 1005l3 4M832 994l3 1M825 965l4 -3M829 936l4 -6M835 975l7 -2M905 1099l3 3M821 986l2 -1M794 989l6 5M923 1020l8 2M706 1061l-2 2M787 967l-1 -4M763 958l-3 -2M795 905l1 -3M846 967l4 -1M890 1020l6 2M805 988l5 0M784 980l-4 -4M840 943l5 -5M812 942l2 -3M804 1121l1 6M801 984l5 -2M653 817l-3 -5M947 977l3 0M833 873l1 -2M762 950l-4 -5M909 1004l4 -0M822 1002l3 2M773 972l-2 -2M806 967l4 -5M789 1001l-1 5M841 897l1 -3M788 969l-1 -6M789 1006l-1 5M815 904l1 -4M804 1002l2 2M888 1000l8 1M810 981l3 -1M936 968l3 -1M817 1073l1 3M795 988l6 -0M738 949l-2 -1M797 980l2 -4M932 1038l7 3M842 970l4 -1M926 1070l5 3M760 926l-2 -3M697 899l-4 -4M799 987l7 -2M789 986l-5 -3M793 990l2 2M890 987l6 0M741 1056l-4 7M798 989l5 -0M817 1021l2 3M778 1053l-1 5M822 946l1 -2M775 825l-1 -7M858 1039l3 3M799 997l3 2M765 1039l-2 5M794 988l7 -2M811 971l3 -3M795 1001l1 3M821 1013l2 2M853 955l6 -3M818 974l7 -4M792 1042l-0 7M738 1114l-3 6M808 935l1 -6M837 1163l0 2M796 977l2 -5M892 1031l5 2M707 1048l-6 4M805 1031l1 2M797 988l4 -1M777 958l-3 -5M745 960l-4 -3M812 984l5 -1M809 994l4 2M820 1018l2 2M803 972l2 -2M795 1007l0 5M671 935l-6 -2M920 860l5 -6M797 874l0 -7M805 1007l3 4M876 1044l2 2M814 1009l5 4M789 992l-4 4M810 954l1 -2M700 1043l-2 2M809 984l4 -1M795 998l0 2M721 922l-3 -3M834 995l4 0M763 951l-4 -5M788 986l-3 -1M786 1000l-3 6M914 1002l6 1M793 995l1 6M782 964l-2 -6M744 1005l-7 2M840 1050l5 5M788 933l-0 -5M805 990l5 0M825 977l4 -2M855 898l3 -5M801 1070l1 6M722 893l-2 -2M801 986l7 -2M808 990l6 1M917 1076l4 3M812 999l5 2M817 1012l5 5M744 1081l-3 5M793 991l1 6M781 960l-1 -4M830 969l6 -3M796 994l1 2M917 1102l5 4M814 1011l4 4M797 985l5 -3M628 943l-5 -1M795 984l0 -2M798 997l2 2M744 1021l-6 5M897 1005l6 1M807 986l7 -2M927 854l5 -4M851 941l5 -4M874 948l4 -2M794 973l1 -6M817 944l2 -4M818 1014l5 5M804 1024l2 5M924 886l3 -2M815 971l4 -4M838 1025l2 2M795 959l1 -2M894 947l5 -2M902 956l4 -1M787 960l-1 -5M790 1001l-1 5M840 978l4 -0M781 906l-1 -7M822 977l4 -2M811 988l8 -1M711 915l-5 -5M822 1004l2 2M790 979l-0 -3M807 999l7 5M825 903l3 -5M736 981l-5 -0M567 1016l-2 1M679 795l-1 -2M787 984l-3 -2M754 947l-4 -4M801 984l5 -2M861 869l2 -3M811 940l1 -2M880 971l3 -1M789 795l-0 -3M799 971l2 -5M796 987l5 -3M839 1070l2 5M749 958l-4 -4M966 1146l6 5M807 993l4 1M724 955l-6 -3M786 985l-5 -3M798 986l4 -1M824 859l1 -5M796 1007l0 3M840 993l5 1M921 1005l5 0M854 884l3 -6M766 954l-3 -4M863 908l4 -5M928 907l3 -2M793 897l-0 -4M882 891l3 -3M742 850l-1 -5M792 991l-2 6M797 983l3 -5M903 835l3 -4M796 977l2 -5M859 962l3 -1M799 985l7 -4M826 989l5 0M755 968l-6 -4M827 962l4 -3M945 913l2 -1M717 1040l-5 4M812 969l2 -2M795 984l1 -4M715 1022l-6 3M921 1027l6 2M792 975l-0 -8M812 788l0 -4M869 1025l6 4M668 812l-3 -5M830 960l2 -2M818 988l3 -0M835 890l1 -3M816 861l1 -6M793 946l0 -6M762 1083l-1 5M803 979l6 -6M815 965l4 -4M820 1133l1 5M733 1057l-2 3M741 942l-2 -1M843 1033l2 2M776 1103l-1 5M843 957l1 -1M791 984l-3 -6M794 1002l1 7M791 960l0 -8M780 885l-1 -6M794 987l3 -4M772 978l-2 -1M721 1062l-5 5M919 985l3 -1M814 989l7 -0M762 994l-6 1M806 1051l2 8M1008 921l2 -1M770 1000l-3 2M925 978l6 -1M845 1073l2 2M790 990l-3 2M957 946l6 -2M777 841l-1 -8M849 1065l2 4M844 1082l2 4M834 976l5 -1M793 1054l0 5M818 1018l2 2M796 986l4 -3M838 967l5 -2M800 1035l1 3M716 1036l-6 3M830 937l4 -5M793 988l2 -0M792 986l-3 -5M806 974l4 -4M743 941l-5 -4M721 1076l-4 4M789 932l-1 -7M884 936l6 -4M757 965l-3 -1M806 950l1 -2M751 900l-3 -7M809 1079l0 3M793 979l-0 -4M805 985l4 -1M824 981l7 -2M801 980l4 -3M814 953l3 -5M807 1012l3 4M753 997l-8 2M808 962l1 -3M780 967l-3 -5M808 1003l3 3M824 971l3 -2M835 1020l6 4M840 1048l4 5M795 987l3 -1M797 992l4 4M871 1027l3 1M803 950l1 -3M808 983l2 -1M794 994l0 3M795 986l3 -3M790 974l-1 -5M820 984l4 -0M807 977l4 -3M825 1017l2 1M818 938l4 -7M795 985l3 -4M783 1011l-3 6M673 1100l-6 5M863 1034l6 4M861 977l7 -1M871 1130l2 5M802 937l2 -6M786 968l-1 -4M794 891l-0 -3M765 956l-3 -4M798 980l1 -3M793 981l0 -5M791 986l-2 -4M776 963l-1 -2M815 1058l2 6M888 1115l1 2M798 992l6 4M886 935l3 -1M784 979l-2 -2M776 1006l-4 5M780 977l-5 -5M578 1053l-6 2M804 988l8 -0M803 926l0 -3M831 965l6 -4M828 978l5 -1M733 915l-3 -3M805 956l1 -2M793 999l1 5M849 1016l5 3M814 1000l5 2M812 1020l4 7M732 993l-7 0M719 995l-6 1M785 927l0 -2M815 849l1 -4M802 1048l1 3M724 853l-2 -3M672 847l-4 -4M870 1006l6 1M795 989l7 3M813 895l1 -4M792 970l-0 -3M673 884l-5 -5M794 965l-0 -5M823 1035l4 6M745 967l-5 -2M796 986l4 -3M794 1027l1 6M774 1013l-4 7M755 961l-6 -5M764 952l-4 -5M801 971l2 -4M830 908l2 -5M813 1006l4 3M785 949l-1 -5M793 991l0 4M805 978l5 -3M873 970l5 -1M761 1036l-2 4M793 989l2 4M839 959l4 -3M903 945l4 -2M738 949l-3 -2M874 1012l4 1M771 999l-7 4M726 981l-2 -0M784 981l-5 -5M762 1051l-3 6M794 1031l1 7M825 951l3 -4M800 986l6 -2M731 942l-5 -3M805 969l2 -2M793 971l0 -5M819 1105l1 5M884 929l7 -4M794 988l2 -1M960 970l4 -0M789 974l-1 -4M782 966l-0 -2M894 907l3 -3M777 988l-4 -0M855 1014l5 3M852 935l3 -2M836 861l2 -6M813 950l2 -4M791 979l-1 -5M813 953l1 -2M794 992l3 7M874 1098l4 5M804 994l5 3M788 1056l0 2M680 987l-4 -1M777 968l-2 -2M818 952l2 -3M816 988l5 -0M795 944l-0 -2M809 1050l1 3M975 949l5 -1M868 1091l4 5M783 938l-1 -6M797 985l3 -4M714 788l-2 -4M860 1054l5 5M912 1007l3 0M773 956l-4 -7M855 924l5 -5M925 1023l3 1M831 942l3 -5M772 971l-4 -4M789 774l-0 -5M793 1000l-0 3M837 962l3 -1M834 998l2 1M632 1147l-6 6M811 973l4 -3M792 988l-5 -3M836 940l4 -4M747 951l-5 -5M848 1046l4 5M898 908l6 -5M667 979l-4 -0M1026 1028l3 0M805 994l2 1M942 1029l6 2M798 988l3 0M764 1031l-2 2M793 972l-0 -4M745 954l-7 -5M790 986l-3 -3M787 990l-3 1M766 893l-1 -2M798 998l3 5M907 890l2 -1M841 1039l5 5M829 967l2 -2M818 973l6 -4M921 842l4 -4M838 1036l4 5M803 983l5 -3M794 987l6 -3M832 995l5 0M916 988l2 0M732 1040l-3 3M818 901l2 -6M800 979l4 -5M786 942l-1 -5M903 1122l4 4M775 970l-2 -2M785 1006l-3 6M804 998l6 5M773 1005l-3 2M792 966l0 -3M807 968l2 -3M825 973l7 -3M847 980l4 -1M961 894l4 -2M614 865l-5 -3M854 927l2 -2M680 976l-5 -1M801 958l2 -7M619 1081l-3 1M806 1011l4 7M945 982l3 0M732 939l-2 -2M792 948l0 -7M804 985l5 -1M793 981l-0 -2M791 955l-0 -5M798 988l6 0M792 976l0 -5M807 868l1 -4M766 966l-4 -3M788 941l-0 -6M785 940l-1 -3M821 991l6 0M787 970l-2 -7M792 988l-6 -4M909 883l2 -1M756 962l-6 -4M838 954l6 -5M774 1059l-1 4M801 983l3 -2M786 984l-6 -5M875 963l3 -1M799 998l4 5M700 892l-5 -6M854 944l6 -5M818 975l4 -3M794 990l5 5M800 989l7 0M816 1004l4 2M830 988l4 -1M736 960l-6 -3M840 756l2 -8M873 918l6 -5M819 921l1 -4M858 922l1 -2M764 968l-4 -2M776 946l-3 -6M796 967l1 -6M859 1006l7 2M893 1117l4 5M785 912l-1 -4M804 1030l2 6M802 923l1 -3M800 989l3 -0M779 989l-5 -0M832 957l6 -5M826 1033l3 4M765 919l-3 -7M797 969l2 -7M771 973l-2 -1M812 968l2 -3M766 959l-3 -3M816 982l5 -2M836 1060l3 4M795 994l2 2M806 950l2 -5M730 951l-5 -3M783 977l-2 -2M801 987l4 -0M704 996l-3 1M805 840l1 -7M797 845l1 -4M861 1051l5 6M732 916l-4 -6M795 1000l0 3M749 910l-3 -6M794 992l4 7M793 993l1 3M814 967l2 -3M879 934l3 -2M818 976l4 -2M919 1099l2 3M781 974l-4 -7M728 915l-2 -3M849 981l2 -1M784 998l-4 5M763 964l-6 -5M887 1089l2 2M809 985l6 -1M746 991l-8 0M790 982l-0 -3M868 906l5 -6M856 1040l1 1M899 957l5 -2M804 960l1 -2M812 1012l1 2M858 877l2 -4M867 1011l6 2M806 953l1 -4M824 1028l3 4M826 979l7 -2M788 984l-1 -2M796 991l2 2M778 914l-1 -5M792 990l-0 4M840 968l2 -1M777 918l-1 -5M783 972l-1 -2M909 1058l3 2M864 1011l3 1M814 980l6 -2M796 991l6 4M795 985l1 -3M839 1029l2 3M726 946l-2 -2M784 1013l-1 4M906 939l4 -1M786 981l-6 -6M795 989l6 1M787 974l-2 -5M809 985l7 -1M807 954l1 -2M740 983l-6 -1M796 976l1 -3M757 964l-3 -2M766 991l-4 1M790 961l-1 -7M836 973l6 -2M874 910l3 -3M827 1016l5 4M798 979l1 -2M802 913l1 -5M781 1073l-0 6M637 1055l-3 1M959 1010l3 -0M777 929l-1 -3M812 979l3 -1M775 783l-1 -7M822 978l4 -1M912 1099l5 5M805 977l5 -4M830 966l6 -3M793 986l-0 -5M824 925l3 -6M750 1024l-3 3M833 988l4 -0M977 1050l7 2M838 786l1 -8M826 1097l2 5M803 989l6 0M808 934l0 -3M780 1206l-0 7M794 986l4 -4M794 986l3 -3M799 957l2 -5M798 985l7 -3M871 1036l3 2M565 970l-6 -0M892 1150l2 2M789 989l-7 1M745 866l-1 -3M828 999l4 1M812 968l2 -2M815 940l2 -6M885 991l2 -0M818 1016l5 5M818 979l6 -2M829 1011l2 1M841 1015l6 3M773 1004l-3 3M787 952l-0 -7M755 932l-4 -6M813 946l2 -4M796 1051l0 2M821 958l4 -4M864 1022l4 2M881 978l2 0M759 961l-3 -3M864 1058l5 5M831 955l4 -4M863 1010l4 2M806 941l1 -4M759 989l-5 0M790 980l-1 -4M763 953l-3 -3M737 1010l-4 2M818 958l3 -4M855 928l3 -3M805 995l7 3M764 881l-1 -6M783 972l-4 -6M808 1006l4 4M795 979l1 -6M872 903l5 -5M830 873l2 -6M844 983l5 -1M793 991l1 4M782 959l-1 -3M849 974l3 -1M854 1002l5 1M878 986l3 0M935 953l4 -1M901 890l6 -5M817 988l2 -0M791 971l-1 -7M693 1164l-2 2M873 995l4 1M797 1003l3 6M812 992l3 1M809 1078l1 7M809 916l0 -2M871 889l3 -3M895 955l7 -3M768 1066l-2 6M826 988l8 -0M818 1000l2 1M788 979l-2 -6M789 997l-2 4M744 910l-3 -5M826 1019l3 2M815 984l7 -1M792 988l3 -0M809 906l1 -7M792 923l-0 -6M817 967l2 -2M784 982l-6 -4M787 1019l-1 5M789 991l-4 4M780 1061l-1 4M699 923l-5 -4M780 964l-3 -7M791 982l-1 -5M783 1101l-0 6M840 931l2 -1M814 1019l3 5M812 967l4 -5M801 969l2 -6M780 935l-1 -3M814 973l6 -4M795 977l1 -5M1014 908l7 -3M879 916l5 -4M790 976l-1 -6M850 1002l3 1M881 779l1 -3M802 1070l0 2M986 1075l6 2M773 978l-6 -3M805 998l6 4M817 982l7 -2M793 988l4 -2M775 968l-2 -1M808 981l4 -2M794 988l6 -0M936 997l2 -0M795 983l1 -4M788 964l-0 -4M792 988l-1 -5M791 981l-1 -4M788 961l-1 -3M720 851l-4 -7M834 970l6 -3M805 1021l1 2M872 985l3 0M796 996l3 4M793 990l3 3M792 988l1 -6M797 1044l0 4M744 1138l-2 7M817 939l3 -5M812 971l4 -4M850 1083l4 6M896 1013l6 2M692 865l-2 -2M897 864l5 -5M833 942l5 -6M769 944l-3 -6M766 967l-5 -5M804 986l6 -1M697 1088l-4 3M769 984l-3 -0M873 967l7 -2M788 946l0 -3M813 1013l2 3M863 1008l3 1M873 977l2 -0M801 979l4 -6M914 1059l5 2M797 993l2 2M863 872l3 -6M797 984l1 -2M723 924l-4 -4M798 993l3 2M720 957l-7 -3M770 797l-1 -4M808 983l6 -2M886 1083l2 2M705 835l-2 -3M590 935l-4 -1M824 1014l5 4M767 1064l-1 2M803 944l0 -3M736 1032l-4 3M797 991l3 2M774 990l-5 -0M829 965l2 -2M796 986l5 -5M770 1023l-3 6M795 1114l1 7M908 1162l3 6M911 878l4 -2M735 954l-4 -3M803 933l0 -4M771 958l-4 -5M786 1025l-0 2M829 1215l2 7M753 949l-2 -2M844 847l2 -5M896 903l6 -5M800 985l3 -1M803 963l1 -3M985 944l6 -1M807 991l7 1M796 982l2 -3M777 972l-3 -4M792 992l-0 5M847 920l2 -2M801 962l1 -3M819 972l5 -3M837 984l4 -0M799 1042l1 8M790 964l-1 -4M774 975l-3 -2M801 993l4 1M797 1006l2 7M798 995l5 6M807 1056l2 7M793 964l1 -6M860 995l7 1M846 981l8 -2M766 1092l-0 2M783 975l-4 -6M816 933l3 -7M805 987l5 -0M829 837l2 -5M785 991l-5 2M832 984l8 -1M682 875l-2 -3M831 961l4 -3M816 963l6 -6M870 1102l1 2M804 982l4 -2M839 959l5 -3M803 1004l3 4M802 1008l2 3M774 1000l-7 4M777 938l-2 -7M776 988l-6 -1M792 986l-1 -6M793 993l1 7M765 953l-3 -4M856 989l6 0M798 991l5 2M806 936l3 -8M775 954l-3 -6M810 999l7 4M896 1038l4 2M922 964l8 -1M803 958l1 -4M817 1040l1 2M934 913l2 -1M800 974l1 -2M853 886l2 -3M787 993l-3 3M794 1019l0 8M784 1005l-3 6M760 956l-2 -2M833 958l5 -4M825 987l6 0M789 979l-1 -3M702 1180l-1 2M762 824l-1 -3M808 1011l2 3M853 1012l2 1M804 1008l3 5M789 983l-4 -5M795 989l3 1M770 1033l-3 7M944 1002l2 0M794 979l1 -7M768 858l-2 -7M776 994l-4 1M804 967l3 -6M761 955l-3 -4M797 988l6 -1M789 973l-1 -7M784 963l-0 -2M749 962l-3 -2M813 1087l1 6M796 980l1 -3M824 963l4 -3M797 980l3 -5M685 1039l-2 1M797 945l0 -4M776 1111l-0 4M824 988l4 0M793 987l0 -2M810 932l0 -2M953 1047l6 2M771 1048l-3 6M772 1048l-2 5M843 954l4 -3M803 928l1 -6M805 1014l3 7M788 968l-1 -4M661 935l-2 -1M784 979l-2 -2M920 906l5 -4M787 985l-1 -2M816 1022l3 4M792 900l0 -7M788 954l0 -3M776 1000l-1 2M821 1017l3 4M777 972l-5 -5M815 1016l2 3M826 998l2 0M809 1088l1 7M793 989l3 2M874 1037l6 3M819 958l5 -6M781 995l-5 3M791 940l-1 -6M846 1168l1 4M749 963l-4 -2M765 928l-2 -4M736 812l-1 -3M778 1001l-5 4M791 1010l-0 6M806 998l4 2M797 983l2 -2M843 938l4 -3M798 980l1 -2M792 992l-1 6M709 842l-4 -6M806 988l6 -0M806 958l2 -4M801 883l1 -2M760 967l-5 -4M780 987l-3 -0M770 909l-0 -3M808 985l2 -0M846 948l5 -3M796 982l2 -3M809 1032l1 4M839 1024l6 4M790 988l-4 -1M917 1000l5 1M799 977l2 -4M825 999l8 2M772 1204l-1 8M787 944l-1 -8M776 1022l-2 3M915 924l4 -2M804 985l5 -1M790 985l-3 -3M819 870l2 -8M798 969l0 -4M770 899l-2 -7M792 990l-0 3M881 1067l3 3M803 949l1 -2M789 939l-0 -7M692 1005l-4 1M828 970l4 -2M792 987l-1 -3M862 1045l3 2M751 912l-2 -5M618 828l-2 -2M843 929l3 -5M794 991l4 6M828 970l3 -2M900 853l3 -3M795 987l2 -1M788 908l-0 -7M808 931l2 -7M713 838l-3 -5M752 912l-2 -3M879 991l6 0M741 1008l-2 1M828 900l1 -3M878 975l2 -1M788 991l-3 1M792 992l-1 5M801 1017l1 6M787 1014l-1 4M803 973l3 -6M791 1002l0 4M764 886l-1 -5M811 879l1 -7M682 1074l-5 4M796 994l3 4M800 922l1 -4M800 940l0 -3M816 987l5 0M740 931l-3 -3M768 949l-1 -2M800 982l5 -4M795 957l-0 -3M783 861l-0 -7M745 970l-8 -3M832 919l1 -3M668 895l-3 -3M827 975l4 -2M893 1030l2 1M844 1046l2 2M783 977l-3 -4M826 979l5 -2M844 963l6 -3M801 998l5 6M828 1023l2 2M795 986l5 -5M752 1013l-5 4M700 966l-4 -0M795 953l1 -7M928 1093l3 2M822 935l2 -3M664 1111l-2 2M796 979l2 -4M853 921l1 -1M877 1119l2 3M831 956l2 -2M901 887l4 -5M793 987l5 -5M840 925l3 -3M788 986l-4 -3M795 943l1 -6M815 985l4 -0M802 879l0 -6M809 992l7 1M805 943l2 -6M763 1051l-3 5M792 989l1 4M812 972l6 -4M849 1021l3 2M790 978l-1 -6M820 1011l3 2M864 991l4 -0M814 972l2 -2M777 986l-3 -1M791 994l-3 7M762 1037l-2 3M828 1000l5 2M882 1103l4 4M844 1067l2 4M791 984l-2 -4M825 1018l3 4M799 985l4 -2M706 964l-3 -1M909 974l3 -1M793 988l5 -2M723 983l-5 -1M791 990l-3 4M856 994l5 0M722 953l-3 -2M805 961l1 -2M1002 1054l3 0M812 994l4 1M627 860l-5 -4M824 981l3 -1M828 1010l4 3M790 989l-5 1M778 982l-4 -2M822 1006l6 4M760 943l-5 -6M849 1075l1 2M794 986l2 -4M781 866l-0 -5M806 964l1 -4M793 987l4 -7M926 1025l7 1M793 988l7 -1M794 989l4 3M851 1022l5 3M817 1019l3 5M726 876l-2 -3M750 930l-4 -6M800 997l2 3M809 988l4 0M816 1007l5 4M828 899l0 -2M795 1012l0 6M795 987l3 -2M807 983l2 -1M916 959l7 -2M802 1010l1 4M829 963l2 -2M815 959l3 -3M629 976l-3 0M779 996l-6 4M807 964l4 -6M764 825l-2 -6M812 985l5 -2M810 1025l3 6M800 990l7 1M750 980l-5 -1M787 944l-0 -7M810 992l4 1M781 1026l-1 3M853 1001l3 1M901 909l3 -2M789 983l-3 -3M735 943l-4 -3M770 858l-1 -3M816 1015l4 5M828 1020l5 6M856 912l2 -2M769 988l-3 -0M792 947l-0 -7M846 927l2 -3M852 990l5 -0M820 928l1 -4M889 949l5 -2M793 987l1 -4M799 1032l0 3M794 987l3 -2M799 955l1 -5M796 970l1 -5M684 913l-2 -1M907 932l7 -4M785 970l-1 -3M796 973l1 -5M803 984l6 -2M812 959l4 -6M799 981l3 -4M807 952l3 -7M896 928l3 -2M834 1205l2 7M794 994l1 7M803 992l7 3M793 1010l0 7M842 1000l8 2M925 916l4 -2M823 931l3 -7M841 967l4 -1M976 919l2 -1M818 887l1 -4M801 996l5 4M862 953l4 -3M830 1029l1 1M728 990l-8 0M813 964l3 -4M775 900l-1 -5M821 972l4 -3M832 1012l2 1M837 984l6 -1M815 1037l2 5M797 992l4 3M794 988l3 -1M793 942l0 -3M717 874l-4 -6M790 994l-2 5M660 907l-5 -4M763 1002l-4 2M804 1037l1 7M822 943l4 -5M847 964l6 -2M814 926l0 -3M776 948l-2 -5M742 947l-2 -2M752 906l-2 -2M785 965l-1 -5M806 956l3 -6M810 1016l2 2M814 969l3 -2M792 991l0 4M795 988l7 0M793 985l2 -7M688 865l-3 -4M805 1021l0 2M810 1021l4 7M793 987l-0 -2M805 1007l2 3M912 949l7 -2M792 1009l0 3M792 1022l0 8M796 977l1 -2M807 1043l2 5M813 977l3 -1M781 991l-5 1M791 986l-4 -4M852 1108l3 6M786 976l-1 -4M794 1003l1 6M756 932l-1 -3M827 904l1 -3M850 965l7 -3M832 976l7 -3M803 1031l1 5M765 929l-3 -5M774 1000l-3 2M773 881l-1 -3M768 766l-0 -3M856 960l3 -2M867 992l4 1M807 1029l2 8M772 950l-2 -4M777 963l-2 -4M792 960l-0 -5M804 1001l3 3M801 801l0 -3M883 901l2 -2M793 989l2 6M772 953l-3 -5M795 984l2 -3M787 1013l-0 3M758 1017l-5 5M698 944l-6 -2M808 985l5 -2M775 975l-6 -5M798 989l3 -0M951 973l7 -1M791 1053l-0 7M810 986l3 -0M875 1066l2 2M789 978l-1 -4M794 992l3 5M782 998l-3 3M926 929l4 -1M795 1012l-0 5M803 990l5 1M746 1001l-3 1M781 958l-1 -2M803 1004l5 6M789 988l-6 -0M743 919l-3 -4M847 954l4 -3M719 891l-1 -2M736 935l-6 -5M778 884l-1 -4M793 985l0 -4M917 963l5 -2M811 1006l4 3M814 985l4 -0M793 951l0 -7M754 806l-0 -3M814 999l6 3M778 939l-1 -6M826 1017l3 3M830 932l3 -5M816 997l7 3M802 989l3 -0M799 1003l3 5M666 904l-6 -4M806 951l2 -6M798 992l3 3M832 974l3 -1M805 957l3 -6M801 992l3 1M818 979l2 -1M882 920l3 -2M824 1013l4 3M800 1045l1 6M896 945l6 -3M819 934l2 -4M822 919l2 -6M817 982l2 -1M708 837l-2 -3M831 970l3 -1M733 1000l-3 1M950 967l4 -1M787 986l-3 -1M790 954l-1 -6M904 994l4 -0M747 961l-6 -3M803 997l4 3M789 982l-3 -6M799 984l2 -2M807 960l2 -3M803 836l0 -4M909 837l5 -6M884 1058l4 4M839 981l6 -2M803 901l1 -6M792 988l1 -4M817 972l5 -4M930 1002l7 0M863 925l5 -5M743 973l-5 -2M980 967l4 -0M918 952l2 -0M802 1005l3 6M845 974l3 -1M780 988l-5 -1M799 944l0 -3M792 961l-1 -4M817 843l1 -7M621 1068l-2 1M794 954l-0 -6M789 991l-3 2M780 985l-3 -0M724 831l-3 -7M786 981l-4 -5M994 1023l5 1M777 974l-6 -6M791 989l-2 1M815 973l3 -3M892 1037l5 3M785 982l-5 -4M785 983l-3 -2M829 998l3 1M858 960l5 -2M782 862l-0 -2M821 1009l6 5M863 967l3 -1M803 936l1 -3M715 901l-6 -5M789 1035l-0 6M791 990l-4 2M804 1012l2 3M796 1008l1 2M825 997l3 1M802 953l1 -7M788 963l-0 -2M803 947l1 -8M809 1017l1 2M819 985l7 -1M762 933l-2 -3M798 985l2 -1M808 904l1 -3M794 972l1 -6M792 991l0 5M746 1028l-2 2M998 869l4 -2M842 872l3 -7M1011 954l3 0M823 985l4 -1M749 967l-3 -2M770 961l-2 -3M825 985l3 -1M781 973l-5 -6M872 979l6 -1M807 1002l4 4M768 778l-1 -4M846 1006l5 1M805 945l2 -6M878 1119l3 4M782 889l-1 -4M790 968l-0 -4M725 1015l-6 2M897 801l2 -4M784 929l-0 -5M878 920l2 -2M797 929l0 -8M871 1123l1 2M835 955l4 -3M816 949l3 -5M821 979l5 -1M813 924l2 -6M801 909l1 -4M758 955l-3 -2M752 939l-2 -3M794 988l4 0M819 997l7 3M821 981l2 -1M697 877l-4 -5M808 969l5 -6M822 968l5 -4M832 1038l3 4M827 1022l3 3M802 984l3 -2M775 1008l-4 4M762 979l-7 -2M777 924l-1 -5M794 989l4 3M917 918l7 -4M807 1096l0 3M850 911l2 -3M787 977l-3 -6M805 990l5 1M836 1007l6 2M805 978l4 -3M771 1012l-4 5M915 890l1 -2M803 1050l1 8M824 1218l1 7M803 960l1 -2M780 1018l-3 5M757 834l-1 -4M760 929l-2 -3M829 942l5 -5M887 903l3 -3M742 941l-5 -5M811 958l1 -3M801 1006l2 3M792 970l-1 -4M773 949l-2 -5M859 944l4 -3M704 1042l-2 1M711 939l-5 -3M793 997l1 7M761 966l-3 -2M751 1021l-5 3M678 789l-2 -3M814 970l5 -4M898 917l4 -3M792 986l-2 -5M800 948l1 -5M741 986l-7 0M788 965l-1 -3M679 894l-3 -3M846 961l6 -3M888 919l6 -4M714 981l-2 0M811 877l1 -6M789 959l-1 -5M853 995l4 1M783 765l0 -4M771 1027l-2 4M846 941l4 -3M783 976l-4 -6M846 904l3 -5M789 994l-4 5M955 1011l7 1M823 935l3 -6M795 975l1 -4M729 940l-3 -2M803 989l5 0M777 928l-2 -5M765 1013l-6 5M959 1060l5 2M827 1097l2 7M737 878l-1 -2M804 983l2 -1M796 987l3 -1M770 953l-2 -3M756 892l-2 -6M797 946l1 -6M791 991l-2 5M784 999l-4 3M799 983l5 -5M697 1020l-3 1M780 1072l-0 5M876 1044l2 1M693 902l-4 -3M753 1018l-4 2M797 982l1 -2M747 944l-1 -1M778 923l-1 -5M750 948l-4 -3M864 976l3 -1M774 1028l-1 2M848 1020l5 2M808 972l4 -5M723 1080l-5 6M785 934l-0 -6M793 972l0 -8M760 904l-3 -7M841 972l3 -1M891 1021l8 2M793 989l8 1M830 987l2 -0M803 987l7 -1M796 971l1 -3M808 922l1 -5M785 865l-1 -4M740 950l-5 -4M804 990l4 0M868 1099l3 5M909 961l7 -2M825 1028l3 4M799 954l0 -4M800 987l7 -1M798 984l4 -4M808 983l3 -2M858 891l4 -5M826 811l2 -7M782 978l-3 -4M816 984l2 -0M704 912l-5 -4M877 1023l6 2M704 1012l-6 2M883 982l3 -0M730 1036l-3 2M744 889l-2 -5M838 980l6 -1M786 992l-4 2M799 961l1 -2M771 946l-2 -3M812 927l1 -3M844 987l7 0M799 1029l1 7M804 997l5 4M785 969l-2 -5M884 1068l3 3M800 998l5 5M891 993l7 0M812 987l3 -1M851 909l4 -5M798 996l3 6M832 977l2 -0M780 970l-2 -4M784 980l-3 -4M827 980l2 -1M733 951l-4 -2M786 952l-1 -7M787 998l-2 3M966 1066l3 1M958 969l8 -1M830 1032l4 5M843 960l6 -4M906 787l2 -2M756 1046l-2 3M722 976l-7 -1M840 1053l3 4M811 933l2 -4M840 993l4 0M856 977l7 -2M803 983l5 -2M797 1005l2 6M788 982l-1 -2M776 983l-2 -0M913 964l3 -1M690 923l-4 -2M787 994l-4 3M797 939l1 -7M835 1021l2 2M811 1008l3 3M835 925l2 -3M785 1003l-3 5M791 982l-0 -5M787 988l-2 0M769 1014l-5 6M779 971l-4 -5M739 924l-4 -4M816 995l6 1M768 969l-4 -4M792 987l0 -2M799 990l4 1M793 983l1 -5M767 965l-2 -2M809 990l7 0M852 859l2 -6M790 985l-5 -6M813 970l4 -3M808 957l3 -4M818 970l4 -2M791 987l-2 -2M814 919l0 -3M805 944l1 -4M784 914l-1 -5M656 1111l-3 2M848 1072l3 5M861 953l2 -1M810 1015l3 4M794 946l1 -6M805 909l1 -7M813 975l6 -3M850 1041l1 2M781 972l-3 -5M958 970l2 -0M790 1002l-1 4M871 1108l3 5M771 1034l-3 6M794 988l4 -1M790 977l-0 -2M819 977l6 -3M793 987l0 -5M795 999l1 6M812 1049l1 5M814 996l7 2M792 988l-2 -1M792 986l0 -7M790 970l0 -2M824 1003l4 2M839 1044l4 4M794 988l6 -4M685 1097l-2 2M801 953l2 -5M830 907l2 -4M836 989l8 0M772 1012l-6 5M793 1000l0 7M853 840l2 -5M705 822l-2 -4M806 1034l1 3M857 895l3 -4M914 996l6 0M810 983l2 -1M801 937l1 -3M781 1002l-3 3M656 1071l-6 4M811 983l3 -1M792 992l-1 2M805 983l3 -1M796 989l7 -0M788 975l-2 -5M784 981l-4 -4M782 968l-2 -3M802 1002l2 2M729 961l-4 -1M821 992l4 1M928 908l5 -3M790 986l-2 -4M836 939l3 -2M826 937l2 -3M792 988l1 -4M726 935l-5 -3M792 981l-1 -4M934 888l5 -3M867 952l2 -1M802 997l4 4M792 986l-3 -6M1017 996l4 -0M785 1041l-1 4M759 959l-3 -2M799 989l8 1M844 1053l3 4M815 861l0 -4M757 977l-6 -2M863 991l3 -0M793 989l0 4M791 988l-5 -2M755 932l-1 -3M817 1117l1 7M797 995l2 2M833 903l1 -2M836 951l5 -5M708 1000l-4 1M792 939l-1 -5M798 982l3 -3M880 1028l6 3M778 978l-7 -5M843 1018l4 2M796 974l2 -7M800 983l2 -2M731 905l-2 -2M819 970l4 -3M809 1073l1 4M786 948l-1 -4M761 921l-3 -7M801 988l4 -1M826 1023l6 5M823 827l1 -7M826 988l7 0M830 981l2 -0M797 946l1 -7M789 931l-1 -7M789 959l-1 -4M817 871l0 -2M905 989l4 0M815 1005l4 2M798 979l2 -3M785 971l-1 -3M754 965l-5 -3M762 867l-2 -7M793 988l3 0M833 936l5 -6M810 994l8 2M839 959l4 -3M877 883l3 -5M870 767l2 -5M796 988l7 -0M796 1004l1 4M803 1023l2 7M801 982l5 -4M802 990l6 1M808 968l3 -5M735 994l-5 -0M837 941l5 -5M796 983l4 -5M656 903l-3 -2M800 1080l0 7M756 889l-1 -2M795 1005l1 4M790 987l-2 -1M817 944l4 -6M822 1008l4 2M870 940l2 -2M790 983l-2 -6M786 952l-0 -3M793 977l-0 -7M814 988l5 -1M810 937l2 -8M803 993l7 4M788 982l-3 -6M821 931l2 -5M872 978l5 -0M755 968l-2 -1M845 1033l2 1M698 900l-5 -5M808 1002l3 1M891 948l5 -2M775 959l-2 -3M796 1064l0 3M803 976l5 -5M763 964l-5 -5M807 969l1 -1M748 1014l-6 3M798 971l1 -6M987 904l4 -2M875 911l2 -2M693 846l-3 -3M736 924l-4 -5M725 1042l-4 3M786 850l-1 -7M806 1141l1 7M906 941l6 -3M866 1040l5 4M803 1054l1 3M828 1064l1 2M832 944l3 -3M796 932l0 -5M838 1008l3 2M797 978l2 -4M958 1072l2 1M862 1087l3 5M809 964l3 -4M802 972l3 -6M846 1030l3 3M805 962l3 -6M743 980l-7 -1M794 975l1 -5M853 958l2 -1M649 827l-4 -5M798 982l3 -3M883 1178l2 2M641 933l-3 -1M815 899l1 -4M886 830l2 -4M741 1007l-2 1M784 935l-1 -6M787 989l-8 2M794 1001l0 3M748 1015l-2 1M970 953l5 -1M978 864l6 -4M794 986l1 -4M820 1019l2 2M879 1011l3 0M747 1029l-3 3M828 973l3 -1M749 1039l-5 5M802 981l5 -4M772 995l-5 2M792 988l1 -3M813 960l4 -6M794 989l5 5M797 991l7 3M814 1049l2 3M802 1022l1 4M808 913l1 -3M782 980l-4 -3M743 962l-2 -1M854 1008l4 2M800 973l1 -2M819 906l1 -2M783 961l-2 -5M795 969l0 -4M858 1035l5 4M877 946l5 -2M731 908l-3 -3M703 995l-6 -0M769 932l-2 -4M784 982l-6 -5M870 997l4 0M770 952l-1 -3M779 996l-3 2M809 1112l1 7M788 854l-0 -5M851 971l3 -1M758 905l-2 -6M817 992l7 1M795 986l4 -4M871 940l3 -2M903 779l2 -5M803 965l2 -6M810 890l2 -7M829 915l1 -2M830 1058l3 7M754 1005l-4 2M834 964l5 -3M820 1025l5 6M847 996l4 0M750 899l-1 -2M816 944l4 -7M759 957l-1 -2M818 982l4 -1M802 974l2 -4M806 971l4 -5M883 930l3 -3M818 1007l3 2M1007 947l5 -1M984 1011l4 0M776 1061l-1 4M845 976l4 -1M795 985l5 -5M801 1095l0 5M852 1008l7 3M747 949l-5 -4M802 993l3 1M795 973l2 -7M787 921l-1 -7M811 809l1 -8M786 983l-5 -6M793 1015l0 8M822 1034l2 3M773 927l-1 -2M807 951l3 -6M861 970l6 -2M812 1013l4 4M815 782l0 -6M826 999l5 2M792 986l-3 -7M724 992l-2 0M798 989l4 1M826 978l6 -2M971 1136l6 5M754 1016l-5 3M828 1011l6 4M937 942l4 -1M794 971l0 -6M795 992l3 5M786 971l-3 -7M776 1004l-5 5M821 982l7 -2M711 921l-5 -4M813 1000l4 3M753 902l-2 -2M810 956l2 -3M793 974l0 -3M842 1070l1 2M802 990l8 1M790 994l-2 3M793 951l0 -6M870 948l6 -3M785 1020l-1 2M750 1042l-3 3M803 881l0 -5M799 986l4 -2M829 990l3 1M808 1004l5 4M809 987l5 -0M776 973l-3 -2M805 1036l1 7M788 978l-2 -5M793 986l-0 -4M744 977l-3 -1M872 963l6 -2M789 925l-1 -4M788 1040l-0 7M843 929l4 -5M750 1030l-3 3M802 1056l0 4M798 892l1 -6M787 934l-0 -3M788 950l-1 -6M795 985l3 -4M795 975l2 -7M860 965l4 -2M574 1035l-5 1M819 1021l1 2M821 983l7 -1M796 999l2 7M748 1017l-6 3M825 987l3 -1M806 1110l1 6M798 910l0 -2M810 913l1 -2M827 894l1 -4M788 974l-1 -5M790 988l-4 -1M705 930l-3 -2M834 1014l6 4M842 919l5 -6M800 838l0 -6M798 978l2 -4M791 976l-0 -3M817 1001l2 1M829 950l2 -2M950 940l3 -1M959 1062l5 2M795 988l6 -1M860 997l2 0M794 986l1 -1M793 988l2 -7M809 980l5 -2M650 861l-5 -4M728 909l-4 -5M817 893l1 -4M782 1024l-1 3M849 978l3 -1M905 991l5 1M783 923l-1 -4M742 956l-2 -1M797 997l3 5M793 989l4 0M795 1121l0 4M866 989l6 0M778 897l-1 -4M811 918l1 -6M771 946l-1 -3M794 993l2 4M773 959l-4 -5M785 979l-4 -6M820 980l8 -2M740 922l-2 -3M729 884l-4 -7M785 971l-1 -3M789 980l-1 -4M798 990l3 0M813 982l7 -2M794 988l5 0M828 962l5 -4M779 972l-4 -5M719 954l-4 -1M807 993l7 2M720 1026l-4 3M799 988l4 -0M797 891l-0 -5M773 947l-2 -6M927 1026l6 2M806 979l3 -2M821 961l3 -3M784 964l-1 -4M807 1029l1 3M792 988l-5 -3M811 952l2 -3M806 995l3 1M881 992l7 0M816 996l6 2M792 974l1 -6M689 917l-5 -4M797 972l2 -8M753 923l-3 -5M761 933l-3 -5M666 1032l-4 2M672 897l-3 -2M791 985l-1 -6M786 1016l-1 4M759 971l-7 -3M907 965l6 -2M825 954l2 -2M657 905l-5 -3M838 1042l4 4M708 1176l-3 6M778 950l-1 -5M794 986l3 -6M853 995l5 0M812 1019l2 4M802 988l6 0M822 969l2 -1M724 863l-1 -3M809 990l6 1M798 983l4 -3M828 876l1 -3M796 986l4 -2M794 924l-0 -6M804 961l1 -2M869 983l2 -0M833 825l1 -7M667 909l-6 -4M794 988l8 -2M825 1003l3 1M840 1039l4 4M638 877l-4 -3M807 998l3 2M891 1047l2 1M844 1005l6 2M746 1006l-3 1M774 1015l-3 4M783 920l-1 -6M807 971l5 -5M888 1024l5 2M789 946l-0 -4M799 974l2 -4M867 1068l1 2M808 989l4 -0M849 938l2 -1M738 915l-4 -4M809 964l1 -2M862 977l6 -1M792 965l0 -4M886 831l1 -3M785 1028l-1 4M783 996l-6 4M757 951l-4 -3M772 877l-1 -2M844 1011l6 3M810 993l3 1M801 982l2 -1M804 996l6 4M802 976l5 -5M820 1005l7 3M750 1001l-3 1M816 940l2 -4M789 998l-1 4M807 986l4 -0M805 987l3 -0M802 985l8 -2M795 1005l0 4M792 989l-6 0M831 1053l3 4M769 967l-5 -4M769 1003l-6 3M800 994l4 3M748 1012l-5 3M810 975l3 -2M813 1060l2 5M770 927l-2 -4M720 1018l-4 2M815 945l3 -5M870 906l2 -2M776 972l-5 -5M793 991l1 8M766 887l-2 -6M794 984l1 -4M784 980l-3 -2M728 998l-4 1M789 983l-3 -5M871 1046l5 3M792 1004l1 6M727 948l-6 -4M821 946l4 -6M787 978l-4 -6M816 975l3 -2M847 981l4 -0M901 1087l3 2M797 988l3 -0M794 961l0 -2M800 954l2 -8M864 1079l2 3M790 986l-3 -2M807 932l2 -8M759 880l-3 -7M801 1113l0 7M814 962l4 -5M803 987l7 -1M737 942l-3 -2M920 934l6 -2M775 983l-5 -1M783 996l-6 5M738 968l-7 -3M792 975l-0 -3M789 982l-3 -5M844 940l3 -4M797 847l0 -2M842 959l5 -3M818 947l1 -2M771 971l-3 -2M842 910l2 -2M781 986l-5 -1M804 935l1 -4M657 1021l-8 1M1008 1037l4 1M853 979l5 -1M948 873l6 -5M752 1024l-4 3M799 988l5 0M813 987l8 -0M818 996l6 2M800 982l5 -5M798 999l3 5M886 975l5 -1M793 993l1 2M676 919l-5 -3M795 993l4 7M781 947l-0 -3M841 991l5 -0M720 958l-4 -2M920 999l6 0M798 959l0 -4M785 966l-0 -2M766 1055l-3 7M819 972l6 -4M864 1028l6 3M805 994l5 2M799 924l0 -2M794 986l3 -5M790 982l-1 -4M919 1001l4 1M803 980l4 -4M828 1018l6 5M799 987l4 -1M767 988l-5 0M759 953l-2 -3M812 940l2 -5M750 956l-2 -2M702 915l-4 -4M892 1006l2 -0M802 986l7 -2M721 911l-3 -3M812 1006l2 2M812 980l4 -2M843 973l7 -2M662 999l-7 1M801 980l5 -5M710 1115l-2 2M825 987l3 0M792 989l-1 5M818 1009l5 4M863 1032l3 2M892 911l2 -1M758 936l-2 -4M954 930l7 -2M632 1047l-2 1M739 968l-6 -3M816 986l3 -0M809 1036l2 6M800 984l5 -2M784 993l-3 2M787 981l-2 -2M798 962l1 -5M849 1182l1 4M780 1011l-4 6M861 910l5 -5M823 954l5 -6M778 982l-3 -1M774 1004l-3 2M812 1004l3 3M828 967l5 -2M794 981l1 -7M802 875l0 -4M816 957l2 -2M778 981l-3 -2M753 886l-1 -2M792 989l-0 6M807 977l6 -4M874 1036l7 4M818 913l1 -4M794 987l5 -3M893 1120l4 5M732 913l-2 -2M791 982l-1 -5M829 951l5 -5M800 980l5 -6M898 906l6 -5M801 979l1 -2M786 983l-4 -4M857 948l6 -4M751 828l-1 -4M839 884l2 -4M835 996l5 1M809 881l1 -3M834 1003l7 2M795 993l5 6M817 980l6 -2M662 902l-3 -2M791 990l-4 4M823 956l4 -4M983 994l3 0M773 982l-4 -1M776 936l-2 -6M772 938l-2 -6M858 1019l3 1M798 970l2 -5M863 987l5 -0M791 986l-2 -3M777 957l-3 -7M793 986l1 -6M698 1011l-3 1M815 974l2 -2M981 1076l4 3M890 899l4 -3M744 953l-2 -1M816 928l1 -2M766 827l-1 -3M781 946l-1 -8M756 967l-3 -2M803 944l2 -7M811 982l4 -2M742 1179l-2 4M744 1046l-4 5M753 906l-1 -3M780 1004l-3 3M868 1100l2 4M859 930l1 -1M664 994l-3 0M787 984l-5 -5M788 1016l-1 7M799 974l1 -2M838 977l6 -1M776 973l-4 -4M767 918l-2 -3M775 891l-1 -6M797 1033l0 6M789 970l-0 -4M794 989l3 -0M839 977l2 -0M766 957l-3 -4M790 963l-1 -8M760 1000l-4 2M944 1033l4 1M794 975l0 -4M812 968l3 -4M684 862l-5 -6M884 946l6 -3M794 960l0 -4M822 909l2 -4M811 1011l4 5M956 1122l2 2M779 1012l-3 5M616 985l-6 -0M825 993l6 1M728 904l-4 -6M597 921l-4 -1M836 981l4 -1M825 1000l4 2M875 928l6 -4M809 973l4 -5M938 955l3 -0M722 875l-1 -2M833 994l3 1M881 1182l2 6M781 1079l-1 7M744 1064l-4 6M796 995l2 4M903 936l2 -1M767 925l-2 -6M841 936l5 -6M754 959l-3 -2M725 852l-1 -3M805 961l2 -4M800 884l-0 -3M857 814l1 -3M782 978l-3 -2M829 951l5 -6M779 973l-5 -6M791 990l-3 5M783 1000l-4 5M753 1020l-3 2M782 976l-3 -3M783 988l-4 -0M838 1006l1 1M894 995l3 -0M793 980l0 -8M838 1063l2 3M777 1107l-1 7M781 980l-3 -2M775 974l-6 -5M864 992l3 1M1006 996l2 0M849 1013l6 2M750 782l-1 -5M796 1010l-0 3M812 989l8 1M771 964l-2 -2M816 990l5 -0M787 997l-2 3M803 967l3 -7M817 998l4 1M753 1020l-4 3M916 888l6 -5M836 977l5 -2M652 975l-7 -1M858 930l4 -3M792 1111l-0 7M791 993l-1 2M771 887l-1 -4M793 989l2 3M798 995l3 3M761 921l-2 -3M780 964l-2 -5M783 997l-2 2M716 995l-4 0M838 979l6 -1M810 973l5 -4M986 942l3 -1M796 983l2 -3M715 875l-2 -3M800 963l1 -2M952 879l2 -2M734 932l-4 -4M764 1072l-2 6M794 982l1 -3M820 975l4 -2M803 982l5 -3M794 965l1 -4M824 1002l8 3M745 864l-1 -4M807 1008l2 5M784 1022l-1 6M918 930l4 -2M782 961l-2 -5M773 992l-3 0M778 971l-4 -5M698 1116l-3 5M738 984l-7 -1M788 1147l0 7M748 945l-4 -4M967 1097l4 2M795 981l2 -4M799 997l2 3M784 988l-7 -1M789 963l-0 -7M798 993l5 4M823 925l2 -3M794 992l2 5M838 986l3 -0M759 952l-4 -5M837 940l3 -3M875 990l8 0M791 1006l-1 6M792 872l-0 -4M730 930l-4 -4M808 972l5 -4M804 991l2 0M741 958l-4 -2M796 986l2 -2M818 852l1 -5M793 987l2 -5M796 930l1 -4M773 964l-3 -4M776 950l-3 -6M804 999l6 5M790 985l-3 -4M930 1089l5 4M928 1004l8 0M753 980l-3 -1M828 1102l2 4M819 1014l2 2M835 1000l7 2M845 1043l2 2M873 1063l5 5M803 897l1 -4M796 982l3 -6M979 1042l6 1M776 973l-2 -2M830 1012l3 2M782 1002l-1 2M793 989l8 2M864 909l3 -3M801 993l4 2M831 959l3 -2M794 988l5 -2M795 1009l1 5M882 1014l5 2M795 996l3 7M840 991l5 -0M781 947l-1 -7M685 939l-6 -3M848 931l5 -5M787 888l-1 -5M789 995l-1 3M834 1015l2 1M741 923l-4 -6M728 820l-2 -8M579 940l-4 -1M784 963l-1 -5M793 908l-0 -2M681 922l-7 -4M806 993l7 2M776 963l-2 -3M788 961l-1 -5M794 1020l1 3M788 989l-7 0M960 928l7 -2M778 1098l-1 3M952 923l6 -2M838 958l3 -2M864 1050l6 5M794 987l2 -2M787 1001l-2 5M870 942l3 -1M809 967l2 -3M791 988l-3 -3M753 942l-3 -3M829 1024l4 4M788 971l-0 -2M695 909l-2 -1M797 980l2 -3M794 981l0 -4M796 984l3 -2M649 1003l-6 0M805 986l2 -0M811 1007l3 3M880 1018l7 3M796 986l5 -4M787 984l-5 -5M791 990l-3 3M751 1044l-1 3M792 986l-1 -3M801 995l6 4M802 974l4 -6M823 1030l3 4M818 979l3 -1M833 958l4 -4M798 980l4 -7M878 888l3 -3M891 1061l5 3M762 978l-7 -3M794 987l5 -2M805 958l1 -4M790 1019l-0 3M792 987l-3 -6M809 982l3 -2M873 924l3 -3M831 980l6 -2M813 922l1 -3M790 1001l-0 5M784 983l-2 -2M848 1008l2 0M804 837l0 -7M903 950l4 -2M821 1091l2 6M797 985l2 -2M788 985l-5 -4M810 956l3 -6M820 975l2 -1M804 883l0 -6M888 803l2 -4M831 967l7 -4M815 980l5 -2M762 930l-3 -6M788 985l-5 -4M821 997l7 3M846 927l3 -4M840 979l8 -2M761 967l-3 -2M858 1008l6 2M811 1007l3 3M822 1012l5 4M796 989l3 1M792 986l-1 -3M807 983l5 -2M796 992l4 4M907 1139l2 3M786 970l-0 -2M848 991l4 -0M695 919l-2 -1M967 846l3 -2M786 1004l-1 4M796 983l1 -2M727 963l-7 -2M792 988l5 -2M795 963l0 -3M772 986l-6 -0M813 947l3 -5M839 847l0 -2M788 978l-2 -3M777 985l-5 -2M809 977l6 -3M763 904l-1 -3M790 1004l-1 8M796 941l1 -7M847 892l2 -4M880 997l5 1M786 973l-2 -6M723 1060l-4 4M809 988l6 -0M935 955l6 -2M846 844l2 -7M792 988l-0 -5M843 921l4 -6M901 1087l5 5M796 983l4 -6M844 966l7 -3M869 948l7 -3M779 975l-4 -4M812 973l2 -2M809 983l7 -2M753 911l-1 -2M767 945l-3 -5M777 992l-3 0M791 987l-2 -1M792 987l-3 -5M811 1046l2 5M797 973l1 -6M712 912l-6 -5M891 977l6 -1M835 1000l4 1M802 991l5 1M798 989l5 1M758 972l-5 -2M825 966l3 -2M817 967l5 -5M709 811l-2 -6M743 998l-6 1M776 1021l-4 6M791 983l-1 -5M802 951l2 -7M836 984l6 -1M769 914l-2 -5M990 1052l3 1M842 1037l5 6M804 1002l5 6M798 982l3 -2M923 977l2 -1M916 1034l6 2M747 954l-4 -4M803 966l1 -2M761 1046l-3 5M874 985l8 -0M921 992l3 0M819 921l2 -6M798 988l3 0M790 990l-4 2M816 1020l4 5M765 942l-3 -5M686 919l-4 -3M783 970l-3 -6M818 894l1 -6M793 990l3 7M808 980l6 -3M798 968l1 -6M752 1003l-4 1M763 836l-1 -5M909 1012l7 1M759 1016l-2 2M727 931l-2 -2M807 964l3 -5M787 985l-4 -2M818 1004l7 5M870 838l2 -5M793 987l0 -7M905 1068l2 2M790 1006l-1 2M835 999l6 1M764 1075l-2 7M815 988l3 -0M688 1015l-4 1M780 946l-1 -3M794 986l3 -3M769 1001l-2 1M948 1065l7 3M795 989l3 2M786 966l-1 -7M846 1054l2 2M834 992l6 1M790 983l-2 -4M817 1018l3 3M800 1017l1 3M839 963l3 -2M797 986l3 -2M791 969l-1 -3M808 1004l3 2M838 961l3 -2M694 891l-5 -6M794 889l-0 -6M812 904l1 -4M826 979l2 -0M788 997l-1 3M789 944l-0 -4M844 970l4 -1M833 921l3 -5M927 790l2 -3M784 1020l-0 3M897 954l4 -1M760 959l-3 -2M880 864l1 -2M803 937l2 -5M831 1046l2 3M822 965l4 -4M826 899l3 -7M824 1020l3 3M808 974l6 -5M818 985l7 -0M786 984l-4 -3M836 868l1 -3M809 996l7 3M801 966l1 -3M840 1144l2 5M787 1015l-1 7M806 969l2 -3M762 936l-2 -3M797 984l2 -2M940 998l2 -0M789 1022l-1 3M931 1043l7 3M785 989l-6 -0M796 923l-0 -3M832 998l7 2M779 951l-2 -5M836 1036l2 3M781 1037l-1 3M819 1080l1 4M811 954l1 -2M787 975l-3 -7M789 960l-0 -3M858 974l5 -1M909 907l4 -2M739 933l-4 -4M706 995l-6 0M902 1136l3 2M889 968l3 -1M793 994l0 6M792 986l-1 -2M783 1046l-1 6M769 993l-3 1M788 1023l-1 4M777 946l-2 -4M793 991l1 3M708 885l-4 -5M707 969l-7 -2M806 1074l1 2M774 972l-1 -2M772 1215l-0 6M855 1012l6 2M805 977l5 -6M861 789l2 -5M770 968l-4 -4M798 962l1 -3M937 1025l7 1M719 908l-2 -2M792 988l-2 -2M826 945l3 -5M792 1131l-0 3M795 904l0 -7M815 942l2 -6M843 982l8 -1M805 982l4 -3M789 990l-4 1M786 948l-1 -5M844 1155l1 3M838 879l1 -2M805 1002l2 2M814 946l4 -7M802 981l4 -3M784 980l-4 -4M786 959l-1 -3M699 895l-6 -6M729 881l-4 -7M805 990l7 1M829 939l3 -5M924 998l4 0M836 997l2 0M822 998l6 2M706 810l-1 -3M835 948l4 -3M817 979l4 -1M819 981l6 -1M913 1016l2 1M704 930l-4 -3M728 881l-3 -6M620 976l-6 0M792 936l-0 -2M794 976l2 -8M782 994l-6 3M748 934l-2 -2M914 972l4 -0M790 961l-1 -6M792 989l5 1M812 990l4 1M773 1068l-1 3M767 981l-7 -2M871 1017l3 1M815 936l2 -4M856 1028l3 2M827 924l1 -2M816 889l1 -2M862 1179l1 3M810 988l7 -0M828 980l4 -1M801 1007l3 5M809 987l8 -1M789 992l-4 4M814 1002l5 3M797 995l4 6M803 954l1 -5M844 1022l2 2M846 1021l5 3M807 996l3 2M617 886l-5 -3M833 946l4 -5M814 1183l1 6M808 1039l2 5M884 975l4 -0M805 996l2 1M682 1035l-5 1M858 885l3 -4M826 1043l2 2M732 968l-6 -2M855 943l2 -2M781 934l-2 -5M764 951l-3 -4M739 938l-2 -2M786 973l-1 -3M725 959l-3 -1M834 1069l1 3M815 993l2 0M828 1017l5 4M789 1007l-0 4M881 998l4 0M825 1008l6 3M811 1006l3 2M875 1022l5 2M813 973l4 -4M807 968l2 -3M776 966l-3 -3M919 998l6 1M806 969l4 -5M789 967l-1 -2M810 992l2 -0M734 938l-4 -3M740 926l-4 -4M792 1108l0 7M826 909l1 -2M805 996l1 2M794 964l0 -7M863 942l3 -2M803 1053l1 4M841 938l4 -5M796 988l4 -2M809 941l1 -3M892 1084l2 2M787 1001l-2 3M858 908l3 -4M774 1011l-3 4M771 968l-2 -2M800 984l3 -2M761 979l-4 -1M828 800l1 -4M859 885l2 -3M793 989l6 2M815 982l8 -2M824 971l5 -2M967 972l6 -0M793 988l4 0M807 999l4 3M728 1018l-3 1M787 982l-3 -4M756 912l-3 -5M759 1003l-5 2M789 1012l-1 4M781 967l-2 -4M851 1057l4 5M768 945l-3 -6M790 1014l-1 6M765 996l-4 2M895 860l2 -2M788 1060l-1 5M798 956l1 -3M780 1091l-0 8M816 903l1 -5M719 915l-4 -5M915 1062l5 3M801 967l2 -5M745 898l-2 -4M655 805l-4 -4M775 983l-4 -1M799 996l4 4M727 1192l-1 5M808 951l2 -6M857 965l3 -0M791 889l-1 -7M858 1142l1 3M769 964l-3 -4M982 946l6 -1M804 962l2 -5M751 959l-3 -2M818 992l7 1M808 956l2 -3M867 951l2 -1M774 969l-3 -3M757 1018l-5 4M788 1002l-1 3M826 1018l4 4M874 943l6 -4M827 970l2 -1M795 990l5 5M776 1054l-1 4M785 990l-3 1M837 984l6 -0M862 945l2 -2M838 909l4 -7M793 990l5 5M813 974l3 -2M703 953l-5 -1M844 931l3 -3M804 965l0 -2M800 984l6 -4M759 968l-7 -4M835 1100l2 5M781 855l-1 -6M813 971l2 -2M752 955l-4 -4M805 993l4 1M818 1077l1 5M677 1022l-7 2M800 969l2 -8M805 1048l1 6M726 940l-5 -4M802 997l5 4M787 1099l-0 3M799 955l1 -6M818 976l5 -2M833 965l4 -3M797 991l6 4M796 1012l-0 3M798 990l4 1M815 1092l0 3M822 922l1 -3M810 992l5 1M745 934l-4 -5M814 965l5 -5M793 984l-0 -6M818 977l3 -1M766 966l-4 -4M801 942l1 -3M846 993l3 1M798 943l1 -8M700 799l-3 -7M665 999l-4 1M785 989l-7 -0M965 911l6 -2M785 965l-2 -7M786 945l-1 -8M808 993l5 1M767 982l-3 -0M815 924l1 -2M788 966l-0 -6M897 1087l5 4M839 909l2 -4M742 954l-6 -4M792 961l0 -7M774 966l-5 -6M796 962l0 -6M749 985l-6 -1M763 885l-1 -6M762 932l-4 -6M866 1026l6 3M792 967l0 -4M866 1014l5 1M746 937l-4 -3M826 978l7 -3M912 1055l5 4M794 988l7 -3M722 992l-7 0M796 982l1 -3M749 828l-2 -6M811 982l4 -2M805 973l5 -6M739 914l-4 -6M969 1113l5 4M810 1008l5 6M835 975l6 -2M825 942l2 -2M821 954l3 -3M672 910l-3 -2M814 1100l0 4M848 943l4 -3M825 974l6 -3M821 852l1 -8M856 990l3 0M847 1015l2 1M793 987l2 -4M789 988l-7 -0M846 988l7 0M977 867l1 -1M763 977l-6 -2M851 1005l6 2M683 805l-3 -6M788 981l-2 -3M893 865l5 -5M793 982l1 -4M817 1008l4 3M818 973l6 -4M823 917l2 -4M858 969l6 -1M797 950l1 -8M961 934l7 -2M826 944l4 -5M866 1042l5 4M616 830l-2 -1M934 903l2 -2M952 1051l5 1M791 987l-5 -6M792 978l0 -3M796 755l0 -8M783 949l-1 -3M799 1026l1 6M810 984l5 -1M763 928l-4 -7M793 981l1 -6M799 962l1 -8M853 959l5 -3M822 986l4 -0M792 987l-3 -5M907 827l4 -6M943 1008l4 1M803 995l2 2M870 872l1 -2M799 986l3 -1M813 942l1 -2M796 958l-0 -4M725 904l-2 -2M773 963l-3 -5M843 1003l5 1M814 963l2 -2M875 1016l5 2M795 971l1 -3M703 1069l-5 4M796 990l5 3M806 978l3 -2M837 1082l3 5M797 988l5 -1M899 797l2 -3M714 883l-3 -4M769 937l-1 -3M797 910l0 -6M867 988l7 -0M792 928l-0 -3M792 985l0 -5M804 970l2 -3M600 881l-7 -3M816 957l1 -2M766 899l-2 -4M847 988l2 0M790 987l-4 -3M909 989l2 0M869 906l2 -2M781 954l-2 -5M782 989l-6 1M815 1006l4 2M794 953l-0 -2M840 915l1 -3M930 977l6 -1M835 1011l3 2M788 951l-1 -5M791 964l-1 -6M755 975l-3 -0M783 926l-0 -4M1021 1015l2 0M778 971l-5 -5M808 970l5 -5M785 984l-3 -2M792 996l-0 3M809 1004l4 4M741 987l-7 0M818 974l5 -3M813 1004l4 3M792 986l0 -4M868 1111l3 3M939 1089l2 2M792 989l3 5M773 997l-5 2M864 922l1 -1M801 980l1 -1M769 974l-2 -2M799 993l2 1M763 986l-7 -1M779 980l-3 -2M865 1034l2 2M679 848l-3 -4M784 997l-5 5M822 969l4 -2M788 975l-2 -5M784 975l-1 -2M846 838l1 -2M765 963l-2 -2M762 960l-3 -3M798 1005l2 5M752 935l-2 -3M833 969l6 -3M814 1022l2 4M802 1022l2 6M855 1020l3 1M750 1054l-4 5M812 914l2 -7M967 1119l3 2M649 1059l-2 1M823 1036l2 2M779 968l-2 -3M854 1042l2 2M713 1005l-6 2M781 936l-1 -2M804 911l0 -2M793 989l4 0M761 923l-2 -4M807 981l6 -3M776 1045l-1 5M795 1041l-0 7M804 979l3 -3M815 966l4 -4M825 1006l5 3M793 989l5 3M785 975l-2 -3M841 997l6 2M865 994l5 -0M788 983l-4 -4M855 957l3 -1M798 994l5 6M811 982l6 -2M786 993l-3 3M796 967l1 -6M924 1157l4 5M802 1174l0 2M801 949l1 -6M794 957l0 -2M799 988l7 -1M830 963l6 -5M765 918l-2 -4M736 1068l-3 4M755 790l-1 -7M806 984l2 -1M726 865l-2 -3M764 947l-2 -2M769 917l-1 -5M827 1014l5 3M823 1073l1 3M793 968l0 -5M796 940l1 -6M802 953l2 -6M813 884l0 -3M813 947l3 -5M798 1006l1 4M790 992l-3 3M901 1174l3 6M785 1087l-0 5M919 1009l6 1M734 928l-5 -4M756 945l-3 -4M794 988l3 -2M779 1066l-0 3M848 941l5 -5M861 1034l2 1M796 978l2 -3M764 981l-3 -1M755 959l-3 -3M802 995l3 3M770 973l-3 -2M844 1029l4 3M820 954l5 -6M827 1055l3 5M837 997l8 1M782 994l-3 1M813 961l2 -2M718 791l-1 -2M753 959l-6 -4M788 989l-7 2M802 1007l3 6M949 925l6 -3M798 978l3 -6M792 955l-0 -4M797 989l3 -0M774 976l-6 -5M885 1010l2 1M754 921l-4 -7M792 982l0 -8M785 879l-1 -7M796 1038l1 5M803 1021l3 7M803 979l2 -1M782 976l-3 -4M816 990l8 -0M777 908l-1 -6M775 978l-7 -4M795 998l1 7M785 969l-1 -2M797 978l2 -5M822 952l4 -5M867 1081l3 5M793 995l0 3M831 979l7 -1M793 989l2 -0M728 924l-5 -6M800 958l2 -6M801 984l3 -2M778 989l-3 -0M856 865l3 -5M845 925l5 -5M757 857l-2 -8M707 937l-5 -3M855 1058l2 2M795 990l2 1M799 971l1 -3M818 985l5 -1M771 1120l-0 4M921 1066l5 3M812 976l4 -2M800 987l6 -1M859 1047l6 5M779 946l-0 -3M788 978l-2 -7M793 937l0 -5M768 974l-6 -4M779 1000l-3 2M858 899l2 -4M849 937l5 -5M894 915l2 -1M838 1040l4 4M823 949l5 -6M691 905l-3 -2M696 880l-4 -5M823 969l1 -1M811 966l3 -3M826 922l2 -3M813 978l5 -3M822 1084l1 3M755 937l-3 -4M793 987l3 -5M810 977l4 -3M797 963l1 -3M683 1032l-6 3M773 958l-1 -3M819 976l3 -1M945 1075l5 3M790 983l-1 -4M807 976l4 -3M826 870l1 -7M807 969l4 -5M751 948l-3 -3M779 971l-1 -2M786 1038l-1 3M785 979l-4 -5M837 977l4 -1M813 947l1 -2M811 973l3 -3M795 993l4 6M993 911l3 -1M777 1010l-1 3M801 957l1 -3M785 988l-7 0M798 991l3 2M888 1008l2 0M813 957l2 -2M774 896l-1 -5M801 994l5 3M771 1003l-3 2M855 910l2 -3M796 984l4 -5M791 987l-2 -5M816 932l2 -4M719 949l-3 -1M711 1035l-3 2M770 963l-2 -3M793 986l2 -5M793 808l-0 -3M663 978l-7 -0M827 1024l2 2M778 987l-3 -1M874 919l5 -4M802 1026l2 5M868 959l3 -1M792 989l-2 6M792 975l-1 -5M902 955l4 -2M832 1038l5 5M652 965l-6 -1M863 902l4 -4M934 995l6 0M813 920l2 -6M764 1013l-2 2M911 1081l4 3M780 1011l-2 3M788 978l-2 -5M827 959l3 -3M816 1009l4 4M815 912l2 -7M929 923l7 -3M715 1019l-8 3M845 941l2 -2M835 978l4 -1M842 925l2 -2M832 924l4 -7M810 808l1 -7M793 983l2 -8M875 930l2 -2M796 973l1 -6M874 963l5 -2M828 969l5 -2M687 903l-6 -4M649 807l-2 -3M717 926l-6 -5M791 982l-0 -4M846 953l2 -1M842 973l3 -0M886 997l3 0M893 955l2 -0M831 1005l4 2M807 1008l3 4M818 1041l1 2M801 999l4 6M810 957l2 -2M784 990l-7 1M784 948l-0 -3M817 990l2 -0M775 857l-0 -3M993 972l7 -0M604 1084l-5 2M811 960l2 -3M809 1020l1 3M813 844l1 -6M819 972l3 -1M784 997l-3 4M794 934l0 -4M803 1011l2 5M782 990l-4 1M808 964l2 -2M839 987l3 0M851 978l3 -1M853 1001l3 1M777 973l-2 -2M752 1144l-2 8M904 815l3 -4M793 988l6 -3M791 1031l0 4M816 1052l2 6M854 1014l5 2M848 1069l3 4M797 996l1 3M880 1021l7 3M891 1000l5 1M846 893l3 -7M834 979l3 -1M824 971l6 -3M686 911l-3 -2M729 1080l-3 3M897 999l8 0M830 957l3 -2M780 776l-1 -7M817 1006l4 3M794 1015l1 8M795 992l3 6M794 977l1 -5M755 1046l-4 5M787 990l-5 1M748 930l-4 -6M890 988l7 0M841 1051l2 3M812 854l1 -2M855 923l2 -2M780 950l-2 -7M844 933l1 -2M736 904l-2 -1M796 1005l1 4M657 802l-2 -3M934 971l6 -1M809 985l3 -1M860 991l5 -0M807 982l6 -3M808 977l5 -4M774 1112l-1 7M840 936l2 -2M868 856l3 -7M825 1062l1 3M745 832l-1 -4M888 986l6 0M834 1008l4 1M773 1130l-0 4M921 1066l6 4M683 907l-2 -2M913 919l5 -2M820 980l5 -1M834 957l2 -2M794 972l-0 -8M791 985l-1 -3M767 949l-4 -7M787 984l-4 -3M786 875l0 -2M794 995l1 5M774 1006l-2 3M796 994l3 5M846 905l2 -3M753 843l-2 -7M874 828l2 -4M863 1036l3 1M844 1003l3 1M812 1013l4 4M832 979l3 -0M791 987l-4 -3M759 888l-2 -8M865 1028l3 2M750 851l-1 -5M796 992l4 2M743 787l-2 -6M811 1003l4 3M811 1000l4 3M800 931l1 -6M880 917l4 -3M819 1012l4 4M800 980l5 -5M811 985l7 -1M789 970l-2 -6M793 993l0 3M951 1047l7 2M713 1001l-3 0M816 996l5 2M788 1019l-1 3M790 980l-2 -6M792 985l-2 -7M873 1081l4 5M813 951l1 -2M812 995l2 1M886 938l4 -2M795 993l4 6M791 993l-2 6M787 1011l-1 3M777 943l-3 -7M823 1052l2 4M811 1091l1 6M835 983l8 -1M798 1005l2 5M819 1009l5 4M830 843l2 -6M798 967l2 -8M791 1091l0 4M866 944l7 -4M800 988l6 -1M857 996l8 1M739 968l-5 -3M823 886l1 -3M835 1001l7 3M785 987l-6 -2M759 1022l-2 2M763 778l-1 -7M823 967l5 -4M777 1020l-3 6M784 982l-6 -4M855 1137l2 5M795 983l3 -5M795 948l1 -3M788 931l0 -4M866 1196l2 5M829 935l2 -3M793 987l1 -3M776 951l-1 -3M776 992l-3 1M796 987l3 -2M889 903l3 -3M798 981l2 -3M809 981l5 -3M793 985l1 -4M790 1090l-0 5M880 946l2 -1M740 986l-7 -1M785 942l-0 -4M833 931l3 -4M778 859l-0 -5M822 959l2 -2M804 959l1 -3M825 937l1 -2M807 989l4 -0M807 767l1 -3M802 956l1 -4M798 978l2 -5"/>
<path stroke="#357bb2" stroke-width="2.6" stroke-linecap="round" fill="none" d="M797 978l1 -2M826 1024l5 6M820 811l1 -7M823 1041l3 5M810 979l4 -2M781 882l-1 -4M796 967l1 -4M777 973l-4 -3M822 981l6 -1M795 977l2 -6M772 995l-6 2M806 990l6 1M792 977l-0 -3M819 972l5 -3M699 1131l-4 6M820 949l4 -6M809 917l1 -3M852 946l4 -3M656 898l-4 -3M861 1085l2 3M878 872l2 -3M655 828l-2 -2M795 863l-0 -6M809 988l4 -0M786 967l-0 -3M703 919l-4 -2M795 988l6 -1M818 1138l1 8M756 933l-3 -6M799 982l6 -5M825 967l4 -3M807 981l5 -3M795 986l6 -4M803 763l1 -6M916 1080l4 3M793 987l-0 -7M684 780l-3 -6M826 1028l4 3M878 1008l6 1M753 1073l-3 7M850 996l5 1M987 1011l4 0M870 1069l5 5M794 986l2 -3M892 1039l7 4M828 928l4 -7M883 1004l4 0M815 1002l5 3M785 1039l-1 5M850 903l3 -5M797 1032l0 5M783 966l-2 -5M789 990l-3 1M776 969l-3 -3M797 987l3 -1M750 894l-2 -5M778 1013l-3 6M865 975l5 -1M791 975l-0 -3M889 1009l5 1M760 899l-1 -3M793 979l0 -2M821 998l7 2M790 1005l-0 2M800 973l2 -4M800 960l1 -5M845 903l3 -4M789 999l-3 5M783 1007l-3 5M788 986l-5 -3M788 961l-2 -7M887 970l8 -2M786 984l-5 -3M793 1114l0 5M763 981l-5 -1M684 912l-7 -5M796 991l6 3M839 969l6 -3M785 864l-1 -5M792 977l0 -7M829 1119l1 3M786 1052l-0 7M793 980l1 -6M791 1007l-0 7M763 918l-1 -4M696 1006l-4 1M791 988l-4 -4M926 853l5 -6M802 1002l4 7M805 899l1 -6M788 908l-0 -3M812 987l4 -0M723 1068l-4 5M838 956l5 -3M823 964l3 -3M820 980l6 -2M839 989l5 -0M880 1057l5 4M754 961l-4 -3M723 833l-1 -3M730 984l-7 -1M855 945l4 -3M800 1003l3 7M793 988l3 -3M756 1006l-3 2M941 960l5 -1M905 982l3 0M847 1027l4 2M792 979l-1 -5M913 943l5 -2M806 964l3 -6M788 1009l-2 6M700 1073l-5 4M783 975l-3 -4M909 975l3 -0M807 1060l2 7M789 1022l-1 3M914 1047l3 2M786 964l-1 -3M824 897l2 -7M796 989l2 -0M870 991l5 0M800 954l1 -2M774 999l-1 1M796 983l1 -3M774 910l-2 -7M793 989l2 3M798 1019l1 7M820 950l3 -4M710 935l-6 -4M786 1000l-1 3M785 948l-2 -6M819 1053l2 5M885 918l6 -4M851 1027l6 4M807 987l5 -0M806 985l6 -1M828 965l6 -3M834 972l7 -3M724 934l-2 -2M818 992l7 0M787 980l-2 -2M807 1017l1 2M800 946l1 -5M773 1018l-1 2M796 988l3 -0M761 1062l-2 6M839 1003l3 1M809 1064l2 7M772 1015l-3 4M742 904l-4 -7M825 884l2 -4M797 953l0 -5M823 1005l4 2M765 956l-2 -3M814 1031l2 6M791 972l-1 -3M813 992l5 1M877 969l6 -2M790 986l-1 -3M857 813l0 -1M786 989l-5 0M738 931l-2 -2M845 1058l2 2M750 946l-5 -4M908 1042l4 2M794 993l1 3M797 983l6 -5M793 1012l-0 3M804 978l5 -5M820 969l6 -4M991 978l3 -1M908 977l7 -1M896 1000l4 0M587 1051l-3 1M842 1040l5 5M883 816l2 -4M956 968l6 -0M669 1064l-5 3M970 1047l3 1M786 999l-4 7M930 1023l6 2M825 962l6 -5M800 979l2 -3M794 992l2 3M807 997l5 3M791 994l-1 5M793 977l-0 -7M788 993l-4 4M848 1027l2 1M809 942l2 -5M813 948l1 -3M779 985l-3 -0M812 938l2 -7M894 1063l3 2M798 981l4 -6M893 1064l5 4M817 1015l3 3M831 1053l3 6M825 1000l3 1M817 857l1 -5M808 955l3 -6M664 976l-2 -1M654 803l-3 -5M755 1050l-3 4M811 984l3 -1M822 997l5 1M783 962l-2 -7M825 947l1 -2M778 978l-6 -4M752 945l-4 -4M895 1019l2 0M860 1078l4 6M795 934l0 -6M807 985l3 -0M752 1039l-4 5M773 989l-8 0M753 953l-3 -2M815 976l2 -1M778 824l-0 -2M782 993l-7 3M776 1015l-3 4M835 965l5 -3M801 904l1 -7M802 996l6 5M790 994l-4 6M766 856l-2 -7M807 986l5 -0M820 1030l4 6M880 1075l2 3M848 1088l3 5M802 993l2 1M795 996l0 2M633 941l-3 -1M802 989l6 -0M852 1030l4 3M796 987l7 -4M783 933l-1 -3M826 961l3 -3M798 995l3 5M949 837l3 -2M834 1038l1 2M781 951l-1 -3M799 952l0 -5M788 984l-1 -2M798 988l4 0M798 979l1 -3M802 956l1 -5M805 985l2 -0M775 972l-4 -4M856 1000l4 1M827 1003l3 1M730 937l-5 -4M773 1002l-2 2M840 1043l5 6M839 999l2 1M841 907l3 -6M782 985l-7 -2M783 1146l0 3M805 989l5 1M856 995l6 1M811 813l0 -3M826 922l3 -6M782 981l-4 -2M821 989l4 1M793 987l3 -2M807 996l4 2M794 984l3 -6M846 916l5 -7M723 946l-6 -4M836 1050l4 7M784 840l0 -2M912 945l4 -2M789 990l-5 3M735 988l-3 0M768 921l-2 -5M796 988l7 -0M799 984l3 -1M876 1013l2 1M808 985l2 -0M816 914l1 -3M800 1001l1 3M793 990l3 3M742 912l-4 -6M817 858l0 -2M817 950l2 -2M754 859l-2 -4M794 981l1 -3M778 980l-6 -4M813 967l1 -2M798 1094l-0 2M873 1060l5 4M639 1005l-8 1M767 1002l-3 1M656 934l-6 -2M812 1051l2 6M803 990l7 1M778 1103l-1 6M714 933l-2 -2M802 928l1 -7M811 983l2 -0M769 946l-1 -4M789 986l-6 -5M792 986l-1 -3M803 980l4 -4M750 914l-3 -5M796 986l6 -5M793 988l4 -1M787 988l-5 -1M771 882l-1 -4M846 966l4 -2M853 1026l6 3M807 968l2 -2M888 927l2 -2M865 1005l4 0M994 944l5 -1M761 1002l-7 3M832 906l1 -3M742 989l-4 -0M841 1097l1 4M884 944l6 -3M797 927l-0 -3M855 1012l7 3M771 953l-3 -6M781 979l-4 -2M810 991l5 1M793 906l-0 -3M822 1037l5 6M790 985l-3 -5M890 882l1 -1M790 947l-0 -7M752 958l-5 -3M795 988l4 0M809 985l6 -1M782 842l-0 -5M793 988l1 -5M796 988l7 -1M785 882l-1 -8M822 954l3 -4M800 1035l0 2M795 986l2 -2M784 987l-6 -1M849 955l5 -3M665 964l-4 -1M783 981l-5 -4M803 983l3 -2M787 994l-2 2M772 825l-0 -4M809 961l2 -4M694 956l-6 -3M785 1117l-1 7M761 997l-4 1M784 978l-3 -5M792 985l0 -5M791 984l-2 -5M789 992l-3 2M896 1037l6 3M825 981l3 -1M842 975l3 -1M842 1095l1 2M796 964l0 -4M756 945l-2 -2M1014 993l2 0M786 1016l-1 3M893 965l2 0M837 929l3 -4M798 986l4 -2M815 967l5 -6M780 974l-2 -3M790 957l-0 -7M798 974l1 -4M786 938l-1 -6M794 983l2 -7M795 989l6 2M769 966l-2 -2M904 1099l5 5M915 1066l3 2M806 833l0 -3M795 949l1 -8M802 952l2 -8M820 1012l4 3M909 1074l6 4M781 980l-6 -4M818 982l6 -2M760 888l-2 -6M794 1001l1 5M784 970l-3 -6M780 965l-3 -5M643 1164l-4 5M781 977l-3 -3M626 905l-2 -1M793 989l6 3M779 953l-2 -4M768 901l-1 -4M827 1066l3 7M842 978l5 -1M804 999l3 2M818 941l3 -7M798 976l2 -7M794 1016l-0 3M785 989l-8 0M815 1005l6 4M745 922l-2 -3M794 973l1 -5M803 994l7 3M746 1001l-3 1M822 1000l4 2M750 926l-3 -4M784 1034l-0 3M796 861l0 -3M806 963l2 -3M844 969l2 -1M833 947l3 -3M607 1094l-7 3M756 943l-4 -5M804 990l8 0M860 879l3 -6M846 978l6 -1M809 1014l2 3M835 843l2 -7M830 901l2 -4M791 943l-0 -3M831 959l5 -4M1021 1061l4 1M812 994l5 2M758 920l-1 -3M798 998l2 3M817 987l7 -1M779 1051l-2 7M711 941l-3 -2M783 988l-7 0M886 950l5 -2M919 1037l7 3M814 997l5 1M750 924l-2 -3M729 835l-1 -3M829 991l6 -0M812 976l6 -4M811 1019l2 3M777 974l-5 -5M874 1029l2 1M837 852l1 -4M820 944l4 -6M780 1015l-2 6M821 965l4 -3M803 991l3 2M809 997l3 1M775 980l-5 -2M795 1007l-0 2M765 1012l-2 2M787 1080l-1 4M782 977l-3 -3M824 989l5 0M799 987l5 -2M844 984l7 -1M869 1003l4 1M817 975l2 -2M712 977l-7 -1M810 986l7 -1M802 934l1 -2M802 987l4 -1M847 964l6 -3M772 972l-5 -4M816 1037l1 2M832 963l4 -3M762 992l-6 1M774 953l-2 -4M749 933l-2 -3M814 881l1 -4M795 986l1 -2M828 966l5 -3M912 943l7 -2M798 995l3 3M781 996l-2 1M818 1016l4 4M805 1018l2 3M752 895l-2 -6M793 987l1 -7M711 1066l-5 4M878 936l5 -3M809 1021l2 3M639 917l-3 -1M664 880l-6 -6M771 972l-3 -2M826 920l2 -5M797 994l3 4M792 989l-3 3M799 1018l1 5M786 952l-1 -3M881 1103l2 2M810 947l3 -6M794 985l2 -5M916 1041l4 1M802 981l3 -3M783 993l-4 2M692 882l-3 -2M796 997l2 6M958 1034l6 2M860 845l1 -3M830 961l4 -3M803 939l1 -3M747 930l-4 -6M883 937l6 -3M793 989l4 -0M737 907l-4 -6M841 993l5 0M868 816l1 -4M856 928l3 -3M788 1024l-0 5M790 994l-2 5M795 986l5 -6M792 981l0 -2M743 992l-4 1M699 930l-3 -2M776 1079l-2 7M778 971l-2 -3M790 1025l-1 5M807 1029l1 3M836 862l2 -4M761 920l-3 -7M810 993l6 2M790 968l-0 -3M806 996l7 4M793 988l5 -5M888 952l3 -1M792 1001l-1 4M892 970l6 -1M804 970l1 -3M807 968l4 -6M904 1017l7 2M751 964l-5 -3M787 988l-7 -1M802 1053l1 8M747 990l-4 -0M788 924l-0 -6M816 976l3 -1M854 1052l4 4M665 975l-7 -0M842 925l4 -6M834 992l5 -0M721 946l-4 -3M987 974l6 -0M681 909l-3 -2M748 1025l-4 3M878 1007l7 1M789 985l-5 -4M793 853l-0 -3M839 899l1 -3M792 989l8 -0M790 907l-1 -8M759 1056l-2 3M776 978l-5 -4M774 1023l-2 2M730 916l-3 -4M816 1001l6 3M799 973l2 -4M786 980l-4 -5M789 980l-2 -4M785 968l-2 -4M786 967l-1 -4M761 938l-2 -3M828 977l5 -1M808 927l1 -5M792 988l-5 -5M849 1022l2 2M779 987l-3 -0M772 974l-3 -3M731 899l-4 -6M781 924l-1 -4M833 980l7 -1M667 1065l-4 2M873 977l4 -1M866 1034l2 1M838 775l1 -4M798 986l3 -1M794 990l2 2M864 956l7 -3M796 990l4 1M936 985l8 -0M748 978l-3 -1M837 1008l7 3M989 1079l5 2M861 1019l4 1M627 1091l-3 2M772 999l-3 1M791 984l-0 -2M929 941l6 -2M954 818l5 -5M810 940l1 -2M824 1003l5 2M839 927l5 -7M868 915l4 -3M727 1038l-3 2M810 1003l5 4M891 909l3 -3M767 1049l-1 2M808 935l1 -5M833 989l6 -0M840 1010l4 1M891 1027l6 2M797 980l1 -3M765 957l-2 -3M819 987l5 0M951 960l5 -1M857 843l1 -2M765 962l-4 -4M790 952l-0 -6M821 968l6 -4M792 924l0 -7M794 990l3 1M802 995l3 2M850 995l7 0M796 1024l1 4M791 985l-2 -3M795 1008l0 4M871 1096l1 2M794 987l2 -3M821 1018l1 2M774 1014l-1 2M883 896l5 -5M799 965l1 -3M742 828l-2 -6M797 975l2 -5M729 917l-5 -6M793 1002l-0 3M812 981l2 -1M685 1186l-2 4M829 1001l6 2M795 984l3 -4M803 958l2 -7M796 983l3 -6M762 987l-7 -1M798 993l7 5M810 1064l1 4M899 988l7 -1M788 969l-1 -3M825 1039l4 6M735 984l-3 -1M868 980l5 -1M836 1035l3 3M718 883l-1 -1M790 938l-1 -5M892 951l6 -2M842 954l6 -4M857 1128l1 4M774 954l-1 -2M784 926l-0 -2M885 975l5 -1M776 1003l-2 2M742 1003l-5 2M881 1004l6 1M768 956l-3 -4M796 988l3 -1M899 993l2 0M909 1013l3 1M795 975l-0 -3M758 980l-5 -1M747 952l-6 -4M956 918l4 -2M808 995l7 3M882 998l7 1M871 1069l4 4M953 1122l5 5M888 815l3 -5M791 1022l-0 2M959 979l2 -0M878 958l5 -2M802 970l3 -5M829 973l5 -2M828 934l2 -4M895 943l5 -3M782 955l-2 -7M830 1005l6 3M840 988l7 -0M916 979l8 -1M884 953l2 -1M790 985l-3 -4M772 885l-1 -4M805 955l3 -7M779 941l-1 -5M788 1012l-0 3M717 1134l-1 2M853 945l3 -2M906 1075l5 3M791 969l-1 -7M788 977l-3 -6M827 887l2 -6M752 926l-1 -1M782 878l-1 -6M800 898l1 -4M694 959l-8 -2M809 966l2 -3M961 849l2 -2M927 917l2 -1M786 1053l-0 4M792 944l0 -4M783 986l-3 -1M866 1023l2 1M792 982l-0 -4M788 996l-3 5M772 964l-2 -2M927 913l2 -1M936 1104l4 3M858 1055l2 2M749 898l-3 -7M758 916l-2 -3M806 1103l1 2M829 1222l1 5M793 959l0 -3M788 946l-1 -3M801 989l3 0M651 984l-4 0M815 966l5 -4M886 838l2 -2M802 979l5 -5M852 959l4 -3M825 1055l2 5M889 1012l6 1M782 1058l-1 5M818 916l3 -6M819 972l3 -2M814 996l5 1M816 1023l2 3M780 980l-7 -5M798 1018l1 2M810 991l6 1M796 998l4 6M800 992l3 1M790 973l-0 -4M796 985l2 -2M807 990l3 1M811 938l2 -4M793 989l3 -0M808 931l2 -7M820 1010l3 3M794 984l2 -4M790 985l-3 -6M941 853l2 -2M857 980l3 -0M855 1034l6 5M742 923l-5 -6M810 863l1 -5M766 1000l-7 3M885 869l4 -6M779 933l-1 -6M782 1170l-1 5M830 1033l3 3M841 976l5 -2M802 987l4 -1M792 989l-3 5M816 1025l3 5M852 875l4 -6M824 854l1 -2M762 970l-4 -3M700 1035l-4 2M815 949l4 -7M819 899l2 -7M762 1025l-4 5M848 1033l6 5M821 979l4 -1M797 974l1 -4M852 950l3 -2M798 946l1 -4M846 959l2 -1M835 957l3 -2M790 1006l-0 5M764 1035l-3 3M802 988l8 -1M821 1013l5 4M760 809l-1 -6M864 974l3 -1M800 988l7 -0M796 1079l-0 8M825 947l1 -2M887 1002l2 1M782 980l-5 -4M796 975l1 -5M888 1004l6 1M791 972l-0 -3M983 941l7 -1M837 1070l3 5M821 945l4 -6M795 1009l0 3M815 1010l5 4M779 960l-2 -4M748 976l-3 -1M826 978l5 -1M819 945l2 -3M934 1004l7 0M762 933l-3 -5M795 1000l1 8M864 1054l3 3M848 904l2 -4M663 1009l-4 1M783 971l-3 -6M788 978l-1 -2M790 1022l-1 5M813 1020l3 3M805 1082l0 5M700 989l-7 -0M793 989l3 -0M811 953l1 -2M789 1010l-0 3M922 969l3 -0M788 992l-3 3M880 1024l4 2M842 997l3 1M830 1022l2 2M793 985l-0 -3M840 1020l4 3M860 956l6 -2M835 1011l7 3M890 973l2 -1M819 1141l1 4M733 1037l-2 1M826 971l3 -2M812 1004l3 2M795 965l1 -3M736 1014l-6 3M792 976l-1 -5M703 982l-2 -0M791 981l-2 -7M791 1038l0 3M852 927l4 -4M802 983l4 -3M785 984l-6 -4M837 990l7 0M784 988l-8 -1M816 955l4 -6M815 997l2 1M840 918l2 -5M850 1019l7 3M797 943l0 -7M792 945l-0 -5M771 1112l-0 2M885 939l4 -2M784 939l-2 -6M778 960l-3 -6M882 1020l2 1M825 926l2 -3M797 979l3 -6M805 889l0 -5M825 979l3 -0M771 897l-1 -6M793 999l0 3M789 932l-0 -5M782 979l-4 -3M800 994l2 2M730 1064l-3 3M666 913l-4 -2M799 1043l1 8M896 1034l5 3M801 989l3 0M809 958l3 -6M802 1015l2 5M762 989l-3 1M799 1000l1 3M783 921l-0 -3M831 921l2 -3M971 860l5 -3M786 1000l-4 7M832 878l1 -3M824 999l2 1M858 976l5 -1M565 967l-7 -1M790 987l-5 -3M796 979l1 -3M836 992l2 -0M809 996l4 1M803 959l2 -5M804 987l5 0M798 994l4 4M855 976l6 -2M822 1019l3 4M807 974l4 -4M892 849l2 -4M838 987l2 -0M815 882l1 -2M769 1109l-1 4M764 1006l-3 2M725 1010l-3 1M814 921l3 -7M789 972l0 -2M772 1005l-5 4M793 987l3 -7M800 997l3 3M838 1007l7 3M802 828l0 -4M807 998l3 2M796 987l5 -2M739 1031l-6 5M812 992l4 0M923 1013l5 1M921 1039l4 2M849 952l3 -1M795 978l1 -6M786 816l-0 -3M820 914l2 -5M799 983l6 -5M822 1013l5 4M799 983l5 -5M790 1004l-1 6M847 1047l5 5M685 997l-3 0M790 1003l-1 5M691 1067l-4 3M801 994l5 3M790 944l-0 -7M790 951l0 -5M850 1007l3 1M769 950l-2 -2M863 912l5 -6M838 995l7 1M858 930l4 -4M791 992l-1 2M803 974l3 -3M626 951l-3 -1M805 1006l3 4M809 1018l2 4M838 953l2 -2M704 948l-2 -1M815 964l2 -3M812 984l5 -1M710 942l-2 -1M810 984l6 -1M808 984l5 -1M853 1058l5 6M786 959l-0 -2M793 986l1 -2M874 888l4 -5M799 953l1 -4M792 983l-1 -6M797 987l7 -2M807 944l2 -7M906 1033l3 1M789 890l-0 -5M813 999l6 3M798 1057l0 3M671 857l-3 -3M881 944l2 -1M837 965l5 -3M813 838l1 -6M790 899l-0 -8M893 1102l2 3M791 986l-2 -5M753 874l-2 -4M804 952l1 -3M898 1045l6 3M867 974l6 -1M799 967l2 -5M737 867l-3 -7M809 951l2 -6M825 994l5 1M805 977l3 -2M814 839l-0 -3M810 939l2 -7M809 1003l4 4M791 980l-1 -7M795 988l7 -3M858 1088l3 4M797 985l3 -3M877 1127l3 5M763 920l-2 -5M798 1005l1 2M825 927l2 -2M805 995l6 4M790 986l-2 -1M691 893l-3 -4M784 992l-5 3M835 1133l0 3M855 1009l5 1M793 990l1 4M803 883l-0 -4M809 1012l2 2M786 982l-4 -5M812 971l3 -2M814 1024l2 4M798 958l1 -4M795 971l1 -7M793 937l-0 -2M787 982l-4 -5M806 1001l2 2M797 979l3 -7M705 931l-4 -3M812 997l6 2M728 1150l-1 3M815 978l2 -2M925 977l5 -1M849 1023l5 3M743 1030l-2 2M1025 995l4 1M792 1009l0 7M810 977l3 -2M848 953l2 -2M840 973l3 -1M893 959l7 -2M849 949l5 -4M872 860l2 -4M804 994l2 1M840 934l3 -3M798 961l2 -8M744 916l-2 -3M880 1114l3 3M828 1013l6 4M717 1048l-4 3M681 1076l-3 3M769 956l-1 -2M855 1003l6 2M758 959l-6 -5M818 983l7 -1M779 970l-2 -3M818 960l5 -5M812 992l6 1M797 993l3 2M785 866l0 -6M697 922l-6 -4M827 958l2 -2M805 904l1 -7M791 982l-1 -4M816 967l2 -2M853 964l2 -1M839 958l5 -4M815 1009l4 3M796 937l0 -7M781 944l-1 -4M774 950l-1 -2M819 963l5 -5M793 1006l0 7M776 962l-1 -2M808 964l4 -5M815 1000l7 4M784 968l-3 -6M838 1047l2 3M795 986l2 -3M822 998l7 2M784 930l-1 -4M793 982l1 -7M796 957l0 -4M792 986l1 -4M786 984l-6 -3M883 941l7 -4M896 1054l6 3M734 780l-2 -7M793 962l0 -7M603 963l-2 0M776 929l-0 -3M898 904l3 -2M794 969l1 -3M772 953l-2 -3M791 992l-3 5M886 971l6 -1M922 1066l5 3M863 1064l5 5M835 992l8 1M834 955l3 -3M821 1021l5 5M871 973l7 -2M753 991l-2 1M793 989l6 -0M721 1076l-4 5M882 983l3 -0M744 959l-6 -3M678 847l-1 -1M864 1009l7 2M809 964l4 -5M819 999l6 2M885 1006l3 0M700 930l-4 -3M857 973l4 -1M793 988l5 -3M819 1015l6 5M805 1009l2 4M936 937l6 -2M790 985l-3 -6M799 966l0 -3M806 1002l3 2M850 948l6 -3M861 935l5 -3M851 932l3 -4M816 988l8 -1M782 936l-0 -2M792 952l-0 -6M778 1056l-1 3M798 988l4 -0M783 1136l-1 7M785 1002l-4 7M788 983l-3 -3M790 937l-0 -8M822 997l4 1M779 987l-7 -1M783 993l-4 2M794 995l0 3M808 843l1 -7M708 917l-3 -3M787 1028l-1 6M776 995l-7 3M809 977l2 -2M794 958l1 -5M790 989l-6 2M781 951l-2 -6M807 991l6 0M764 940l-3 -6M893 860l3 -3M837 958l4 -3M868 812l2 -5M944 917l7 -3M764 969l-5 -3M812 986l7 -1M787 890l-0 -7M816 983l3 -0M822 1007l4 3M786 949l-1 -3M847 1013l6 3M798 1005l2 7M730 895l-2 -3M801 977l3 -4M761 989l-7 -0M756 1032l-5 6M797 984l5 -5M767 974l-2 -1M792 989l-1 7M787 988l-4 0M939 965l2 -0M801 1006l3 5M824 1145l2 6M954 959l7 -1M808 993l7 3M828 970l6 -4M788 1010l-1 4M795 991l4 3M797 991l6 5M745 926l-4 -5M795 993l2 5M863 1159l1 3M745 1063l-3 6M857 990l5 0M828 964l2 -2M893 903l3 -3M801 961l3 -6M790 989l-6 1M792 1015l-0 6M933 987l7 0M635 1016l-5 1M963 970l7 -1M755 1013l-2 2M811 959l4 -6M818 985l4 -1M854 1075l1 3M802 901l1 -5M793 987l2 -7M849 942l5 -4M811 984l4 -1M814 1112l1 6M842 969l3 -1M762 904l-3 -8M722 917l-5 -5M797 993l4 3M857 953l3 -2M792 981l1 -2M748 961l-4 -3M785 969l-2 -4M780 967l-2 -3M725 1076l-1 1M795 1023l1 8M790 949l-0 -4M794 988l6 -5M755 936l-2 -3M902 858l4 -4M791 982l-2 -6M793 986l-0 -4M703 1064l-3 3M798 994l2 2M893 1056l5 3M917 1078l5 3M838 1043l5 6M764 969l-7 -4M845 1019l3 1M798 994l3 4M816 1012l3 4M872 880l4 -5M783 960l-1 -2M784 975l-3 -3M832 1070l2 4M795 993l2 2M844 970l5 -1M818 970l5 -4M817 994l6 1M873 930l2 -2M790 1042l0 2M776 993l-5 1M791 963l-1 -6M798 885l-0 -6M789 981l-4 -6M800 963l2 -6M941 937l4 -1M733 935l-3 -3M793 982l1 -3M876 958l8 -3M832 839l2 -6M794 984l2 -3M793 988l1 -2M816 995l5 2M900 903l5 -4M937 864l2 -1M799 985l6 -4M852 1096l2 3M775 961l-3 -5M808 990l6 0M779 993l-5 2M874 877l2 -4M809 879l0 -3M793 987l3 -6M787 986l-7 -4M794 960l1 -5M798 939l0 -2M845 897l4 -7M847 886l1 -3M783 993l-4 3M792 988l-5 -6M752 1086l-2 5M749 938l-4 -4M829 1002l7 3M811 1076l2 6M784 970l-2 -4M793 964l-0 -5M709 891l-4 -5M751 891l-2 -4M901 975l5 -1M765 1002l-4 3M798 963l0 -3M846 996l7 2M822 994l3 1M864 1023l7 3M798 989l6 -0M805 964l1 -2M862 948l6 -3M912 899l3 -2M805 957l1 -3M811 918l2 -6M852 1009l7 2M701 1087l-5 6M727 1033l-2 1M788 998l-3 6M797 993l3 2M819 950l4 -6M878 932l2 -2M800 938l1 -7M803 984l3 -2M774 971l-4 -4M845 821l1 -5M856 1035l2 2M757 992l-6 0M881 980l2 0M674 1036l-3 1M783 967l-3 -5M800 967l2 -5M713 897l-5 -6M871 990l2 -0M820 965l2 -1M800 965l1 -4M873 968l7 -2M870 917l2 -1M1020 924l6 -2M904 1028l4 1"/>
<path stroke="#2d88bf" stroke-width="4" stroke-linecap="round" fill="none" d="M921 969h.01M1073 945h.01M726 780h.01M670 605h.01M735 705h.01M665 711h.01M989 723h.01M898 816h.01M683 743h.01M928 823h.01M909 1115h.01M1066 881h.01M940 747h.01M947 736h.01M915 940h.01M954 924h.01M1021 898h.01M1031 894h.01M1202 855h.01M913 906h.01M898 783h.01M1014 958h.01M698 873h.01M628 787h.01M569 715h.01M713 867h.01M893 1106h.01M930 955h.01M998 938h.01M967 840h.01M848 830h.01M869 771h.01M886 720h.01M930 1127h.01M515 638h.01M904 832h.01M915 1039h.01M1075 1105h.01M1086 1110h.01M1056 1039h.01M1155 1058h.01M907 940h.01M877 862h.01M857 806h.01M931 765h.01M869 1142h.01M886 838h.01M737 856h.01"/>
<path stroke="#357bb2" stroke-width="5" stroke-linecap="round" fill="none" d="M934 967h.01M1042 950h.01M782 839h.01M643 775h.01M680 831h.01M731 841h.01M702 706h.01M731 689h.01M815 767h.01M958 1041h.01M945 783h.01M970 749h.01M1010 891h.01M852 750h.01M843 826h.01M897 653h.01M923 570h.01M914 789h.01M1113 1122h.01M973 1007h.01M1015 1011h.01M1093 962h.01M688 800h.01M627 689h.01M958 786h.01M949 808h.01M928 1136h.01M946 928h.01M1093 871h.01M1145 850h.01M882 843h.01M888 832h.01M1005 997h.01M943 929h.01M616 625h.01M942 813h.01M986 761h.01M897 954h.01M1091 891h.01M803 762h.01M845 827h.01M882 715h.01M993 851h.01M753 873h.01M734 818h.01M775 834h.01M955 597h.01M690 863h.01M535 673h.01M698 843h.01M1122 817h.01M871 796h.01M956 1003h.01M962 1035h.01M1078 1068h.01M914 1148h.01M912 647h.01M824 834h.01M913 1110h.01M993 1191h.01M678 844h.01M642 799h.01M564 700h.01M522 647h.01M971 1062h.01M1148 1135h.01M990 1113h.01M1004 1122h.01M724 814h.01M719 799h.01M1189 1065h.01M674 803h.01M627 731h.01M939 927h.01M989 804h.01M820 816h.01M990 611h.01M884 792h.01M977 591h.01M886 850h.01M935 777h.01M633 675h.01M848 832h.01M954 727h.01M847 843h.01M873 775h.01M875 774h.01M925 644h.01M1023 896h.01M917 1237h.01M947 1297h.01M863 874h.01M944 743h.01M732 1115l-7 14M765 1126l-2 10M807 1128l2 20M699 1108l-17 22M736 1129l-8 18M742 1131l-9 25M804 1139l1 11M807 1150l2 27M835 1145l5 19M731 1151l-9 25M751 1157l-6 27M779 1162l-1 12M689 1142l-5 8M707 1153l-9 17M740 1166l-4 12M760 1170l-4 22M774 1172l-1 12M816 1172l1 12M713 1168l-4 9M759 1182l-3 18M888 1160l7 11M703 1176l-4 10M729 1186l-4 14M750 1191l-5 22M771 1195l-3 27M867 1182l4 11M886 1173l12 23M685 1178l-14 24M703 1188l-4 10M723 1196l-8 24M736 1200l-7 25M743 1201l-2 10M757 1204l-5 29M833 1203l5 23M854 1198l4 14M867 1194l3 9M874 1191l4 11M666 1180l-10 16M672 1184l-5 9M723 1207l-5 17M778 1218l-1 18M785 1218l-0 10M806 1218l1 16M847 1211l7 29M881 1200l5 14M655 1187l-11 16M679 1201l-7 14M731 1221l-3 13M787 1229l-1 28M822 1228l3 26M836 1225l2 11M842 1224l5 22M849 1223l6 25M863 1219l4 13M876 1214l10 28M902 1203l6 13M642 1191l-14 19M660 1203l-6 9M678 1213l-13 26M710 1227l-3 9M724 1231l-3 9M730 1233l-6 27M821 1239l1 13M869 1229l5 17M888 1222l6 13M914 1209l8 16M647 1208l-7 9M653 1212l-8 12M659 1215l-11 18M665 1219l-8 14M690 1231l-9 22M771 1251l-2 20M881 1236l9 26M907 1225l5 10M641 1217l-7 10M671 1234l-10 21M677 1238l-10 20M690 1243l-7 17M785 1263l-0 23M820 1261l2 12M862 1254l6 22M908 1237l8 18M914 1234l4 8M623 1218l-7 10M652 1237l-6 11M697 1258l-4 11M710 1262l-3 9M730 1267l-2 12M765 1273l-1 12M842 1270l2 12M876 1262l3 11M915 1247l5 10M632 1238l-1 1M637 1242l0 0M656 1252l-1 1M735 1280l-0 0M742 1281l-0 1M749 1282l-1 1M825 1283l0 1M853 1279l0 1M860 1278l-0 0M906 1263l1 0M919 1257l0 0M961 1174l15 17M984 1184l8 7M963 1230l9 13M1011 1189l8 7M952 1251l9 16M1007 1208l20 20M994 1235l14 17M1025 1206l19 19M1000 1259l10 12M1068 1208l11 8M1059 1235l10 10M986 1309l2 3M992 1305l2 3M1009 1294l2 2M1026 1281l2 2M1042 1267l2 3M1047 1263l2 2"/>
<path stroke="#357bb2" stroke-width="4" stroke-linecap="round" fill="none" d="M961 963h.01M700 840h.01M623 717h.01M711 872h.01M622 745h.01M564 661h.01M1021 975h.01M619 745h.01M567 672h.01M679 633h.01M838 840h.01M905 1035h.01M961 913h.01M826 856h.01M1100 888h.01M1156 870h.01M829 871h.01M837 847h.01M915 597h.01M937 1003h.01M951 1004h.01M1230 949h.01M1074 827h.01M693 808h.01M680 786h.01M749 803h.01M977 776h.01M902 1108h.01M921 1128h.01M1032 998h.01M1160 1004h.01M723 854h.01M927 935h.01M1006 904h.01M714 828h.01M892 872h.01M1019 915h.01M1030 911h.01M718 770h.01M893 793h.01M778 709h.01M586 735h.01M708 858h.01M1017 934h.01M786 837h.01M1074 842h.01M955 850h.01M657 818h.01M1002 695h.01M702 849h.01M911 1087h.01M747 873h.01M1064 1041h.01M668 795h.01M1011 896h.01M1066 983h.01M919 801h.01M697 800h.01M845 1111h.01M872 1176h.01M917 787h.01M853 831h.01M1041 889h.01M960 1321h.01M1113 944h.01M1235 927h.01"/>
<path stroke="#2d88bf" stroke-width="7" stroke-linecap="round" fill="none" d="M969 961h.01M685 816h.01M811 800h.01M1044 906h.01M863 761h.01M866 751h.01M1005 971h.01M931 1152h.01M1187 953h.01M602 645h.01M935 755h.01M1015 625h.01M738 876h.01M693 784h.01M919 947h.01M1216 851h.01M802 787h.01M781 841h.01M895 742h.01M1016 1020h.01M968 1219h.01M1067 1266h.01M972 1102h.01M744 864h.01M995 1027h.01M580 658h.01M955 1020h.01M823 800h.01M949 690h.01M971 647h.01M864 802h.01"/>
<path stroke="#357bb2" stroke-width="9" stroke-linecap="round" fill="none" d="M999 957h.01M770 656h.01M618 709h.01M599 678h.01M979 977h.01M549 647h.01M737 855h.01M664 588h.01M884 687h.01M988 1069h.01M734 804h.01M724 866h.01M594 634h.01M1046 874h.01M1056 870h.01M1021 914h.01M911 608h.01M862 875h.01M875 853h.01M981 680h.01M980 1067h.01M730 849h.01M708 799h.01M676 727h.01M1024 714h.01M1027 854h.01M698 818h.01M891 867h.01M1023 898h.01M1102 867h.01M976 996h.01M1139 1003h.01M1047 887h.01M703 805h.01M799 854h.01M801 803h.01M806 696h.01M873 741h.01M921 596h.01M927 897h.01M777 845h.01M1061 810h.01M943 695h.01M949 684h.01M956 670h.01M979 626h.01M974 964h.01M928 663h.01M993 1016h.01M1023 869h.01M677 823h.01M661 800h.01M609 726h.01M940 1182h.01M883 729h.01M951 1148h.01M1043 1242h.01M698 869h.01M664 826h.01M608 755h.01M914 818h.01M620 721h.01M595 681h.01M1122 849h.01M941 706h.01M986 618h.01M1049 983h.01M873 814h.01M668 744h.01M882 735h.01M873 743h.01M879 725h.01M879 764h.01M906 943h.01M694 856h.01M666 817h.01M611 743h.01M907 803h.01M993 693l78 -53M1022 689l37 -29"/>
<path stroke="#357bb2" stroke-width="7" stroke-linecap="round" fill="none" d="M1032 952h.01M783 848h.01M930 980h.01M1033 974h.01M706 779h.01M718 622h.01M716 614h.01M744 882h.01M739 871h.01M680 744h.01M670 720h.01M1073 1077h.01M831 877h.01M848 829h.01M887 716h.01M1048 1094h.01M701 824h.01M1088 892h.01M883 699h.01M901 641h.01M905 804h.01M702 786h.01M1167 955h.01M955 895h.01M631 697h.01M919 833h.01M936 812h.01M930 830h.01M889 1093h.01M1043 890h.01M1083 875h.01M954 724h.01M1019 618h.01M1152 1003h.01M684 780h.01M950 884h.01M1005 848h.01M1016 840h.01M710 820h.01M673 743h.01M647 690h.01M1036 702h.01M1053 683h.01M799 839h.01M802 778h.01M911 626h.01M737 783h.01M969 867h.01M978 861h.01M968 872h.01M1011 843h.01M1046 820h.01M994 597h.01M1006 572h.01M784 831h.01M784 821h.01M864 816h.01M562 705h.01M689 829h.01M923 1141h.01M1117 1119h.01M948 951h.01M1097 830h.01M703 860h.01M666 808h.01M941 1001h.01M714 872h.01M986 1042h.01M725 858h.01M922 1096h.01M702 758h.01M935 1016h.01M1229 1072h.01M699 844h.01M1104 1049h.01M1173 1063h.01M1036 760h.01M1043 754h.01M850 864h.01M955 639h.01M966 731h.01M727 859h.01M712 829h.01M689 784h.01M856 1137h.01M813 796h.01M815 773h.01M858 818h.01M907 692h.01M918 663h.01M894 1190h.01M1161 937h.01M854 889h.01"/>
<path stroke="#3a6ea4" stroke-width="7" stroke-linecap="round" fill="none" d="M1055 948h.01M723 878h.01M631 729h.01M617 738h.01M734 805h.01M894 657h.01M812 791h.01M998 1074h.01M1027 1086h.01M650 734h.01M848 767h.01M1111 884h.01M903 634h.01M941 745h.01M1002 646h.01M953 1055h.01M951 976h.01M897 865h.01M940 814h.01M964 1006h.01M1035 850h.01M977 916h.01M716 841h.01M805 708h.01M832 868h.01M860 783h.01M771 571h.01M986 1066h.01M976 944h.01M652 787h.01M1091 1071h.01M930 1169h.01M880 737h.01M1115 1122h.01M941 1112h.01M926 1073h.01M914 757h.01M959 671h.01M1096 982h.01M861 841h.01M879 802h.01M914 726h.01M851 821h.01M865 796h.01M742 868h.01"/>
<path stroke="#3a6ea4" stroke-width="9" stroke-linecap="round" fill="none" d="M1082 944h.01M776 754h.01M606 690h.01M953 979h.01M738 819h.01M711 734h.01M748 770h.01M743 859h.01M735 838h.01M1089 1082h.01M1120 1124h.01M682 791h.01M588 624h.01M985 925h.01M1064 900h.01M1167 866h.01M893 667h.01M967 974h.01M1055 677h.01M1028 1012h.01M948 975h.01M993 997h.01M1076 1000h.01M703 816h.01M588 569h.01M800 829h.01M1116 945h.01M907 712h.01M883 1095h.01M901 1116h.01M1082 838h.01M831 798h.01M889 853h.01M993 707h.01M729 891h.01M931 1046h.01M1032 1140h.01M707 856h.01M826 782h.01M985 703h.01M844 1091h.01M619 754h.01M1020 957h.01"/>
<path stroke="#3a6ea4" stroke-width="4" stroke-linecap="round" fill="none" d="M780 805h.01M773 704h.01M627 752h.01M727 830h.01M1067 1102h.01M1078 895h.01M1218 950h.01M964 708h.01M1020 721h.01M1112 884h.01M740 795h.01M1072 797h.01M1128 943h.01M659 783h.01M1026 1083h.01M956 948h.01M786 827h.01M783 759h.01M687 838h.01M626 750h.01M965 1003h.01M1004 1007h.01M1024 1053h.01M978 1232h.01M857 803h.01M875 751h.01M1025 1224h.01M936 1079h.01M1069 1043h.01M925 864h.01M895 768h.01M853 806h.01M861 781h.01M897 717h.01M947 927h.01M962 965h.01M694 753h.01"/>
<path stroke="#2d88bf" stroke-width="5" stroke-linecap="round" fill="none" d="M775 726h.01M668 790h.01M638 741h.01M613 701h.01M692 845h.01M995 976h.01M613 738h.01M687 659h.01M841 830h.01M726 814h.01M710 772h.01M715 819h.01M656 690h.01M1127 1094h.01M676 781h.01M857 781h.01M871 736h.01M574 594h.01M910 853h.01M1036 893h.01M955 936h.01M1050 905h.01M1104 887h.01M935 890h.01M741 837h.01M882 814h.01M775 752h.01M585 692h.01M866 807h.01M862 804h.01M666 802h.01M876 871h.01M992 1071h.01M1090 1046h.01M1141 1055h.01M860 860h.01M862 792h.01M877 852h.01M650 796h.01M758 1124l-3 14M811 1139l2 14M732 1139l-4 9M751 1146l-3 13M821 1148l3 19M786 1162l-1 21M793 1162l0 30M841 1155l6 20M714 1156l-10 21M753 1169l-3 15M870 1156l8 19M719 1170l-7 18M773 1184l-2 23M673 1158l-13 19M685 1166l-7 11M710 1179l-11 24M736 1188l-5 17M812 1195l2 15M873 1179l11 26M880 1189l5 11M655 1172l-16 22M691 1194l-8 15M716 1205l-9 28M730 1209l-3 12M868 1205l3 10M900 1192l10 19M752 1226l-3 16M759 1227l-2 11M808 1229l1 16M908 1200l9 17M684 1216l-10 22M691 1219l-5 10M704 1224l-7 19M807 1240l1 22M875 1227l9 25M635 1200l-13 18M641 1204l-11 15M709 1238l-2 8M799 1252l1 19M806 1251l1 17M848 1246l3 14M652 1224l-9 16M665 1231l-5 9M716 1252l-6 22M751 1260l-3 14M827 1261l3 17M926 1228l6 9M724 1266l-3 10M835 1271l1 12M855 1267l3 12M908 1249l5 11M626 1234l-1 1M668 1258l0 1M681 1264l-0 0M688 1266l-1 1M839 1282l0 0M893 1268l1 0M971 1165l18 17M965 1186l15 18M980 1172l17 17M994 1156l15 13M967 1213l18 24M978 1204l19 23M1024 1173l11 9M977 1248l9 11M1020 1211l19 19M992 1251l12 15M1019 1228l13 14M1046 1216l20 17M997 1275l7 9M1050 1229l15 14M1063 1213l10 8M1064 1230l10 10M998 1302l1 2M1037 1272l2 2M1076 1232l3 3"/>
<path stroke="#357bb2" stroke-width="6" stroke-linecap="round" fill="none" d="M774 713h.01M576 679h.01M963 978h.01M672 820h.01M667 596h.01M850 799h.01M911 601h.01M854 812h.01M975 1064h.01M630 699h.01M949 918h.01M1009 918h.01M934 757h.01M1004 1077h.01M1052 1097h.01M963 1190h.01M1028 967h.01M1066 964h.01M922 914h.01M618 674h.01M614 666h.01M759 846h.01M944 802h.01M894 921h.01M635 665h.01M628 650h.01M599 590h.01M1005 919h.01M1076 896h.01M863 773h.01M900 658h.01M750 831h.01M769 778h.01M766 749h.01M989 858h.01M1071 803h.01M1095 787h.01M844 888h.01M927 727h.01M1049 954h.01M773 608h.01M772 598h.01M868 806h.01M883 772h.01M914 697h.01M918 1039h.01M1147 1131h.01M784 769h.01M576 679h.01M881 770h.01M893 741h.01M1055 1011h.01M697 848h.01M978 1040h.01M1040 1057h.01M936 866h.01M872 761h.01M889 712h.01M847 720h.01M974 1172h.01M648 806h.01M555 688h.01M985 719h.01M643 758h.01M567 641h.01M946 1086h.01M905 1010h.01M967 1022h.01M970 1023h.01M990 1027h.01M1001 1029h.01M919 870h.01M653 714h.01M871 764h.01M872 859h.01M940 750h.01M851 833h.01M928 637h.01M899 1200h.01M992 1386h.01M598 725h.01M918 786h.01"/>
<path stroke="#3a6ea4" stroke-width="5" stroke-linecap="round" fill="none" d="M637 766h.01M583 695h.01M968 1044h.01M988 1050h.01M1012 1080h.01M904 856h.01M951 801h.01M1011 903h.01M969 700h.01M1150 872h.01M1121 770h.01M933 715h.01M1142 941h.01M776 768h.01M782 787h.01M947 1010h.01M654 819h.01M542 682h.01M679 814h.01M952 1176h.01M909 1141h.01M844 842h.01M531 659h.01M957 1056h.01M979 1106h.01M994 603h.01M860 1147h.01M843 846h.01M605 735h.01M988 961h.01M912 795h.01M940 751h.01M719 1133l-6 11M725 1136l-6 14M758 1147l-4 20M828 1147l4 18M873 1129l5 9M738 1153l-5 16M683 1138l-17 24M809 1173l1 9M857 1162l5 14M882 1150l10 18M822 1182l3 21M784 1196l-0 13M826 1193l4 22M840 1190l6 24M892 1170l10 17M771 1206l-3 24M813 1206l1 20M710 1203l-10 26M771 1217l-3 27M820 1216l2 16M827 1216l3 23M893 1195l12 23M906 1188l12 21M673 1198l-13 23M698 1210l-7 18M766 1228l-2 15M829 1227l1 9M895 1206l8 16M648 1195l-17 25M666 1206l-7 12M882 1224l3 10M703 1236l-7 19M723 1242l-5 19M785 1252l-1 24M629 1209l-14 19M703 1248l-6 18M640 1230l-6 10M658 1241l-5 10M665 1244l-6 11M779 1274l-1 12M848 1269l3 11M776 1285l0 1M867 1276l-0 1M917 1194l7 13M940 1192l14 20M960 1191l10 12M999 1151l7 5M969 1198l19 23M979 1188l10 11M1007 1158l19 15M956 1222l7 9M983 1200l10 10M1012 1169l9 7M969 1240l13 18M1012 1203l16 16M1021 1193l21 19M1010 1221l11 11M963 1270l8 12M981 1259l9 13M1038 1208l15 13M1016 1245l14 16M1055 1205l19 16M974 1290l10 18M1007 1282l8 11M1004 1298l1 2M1052 1258l3 2"/>
<path stroke="#2d88bf" stroke-width="6" stroke-linecap="round" fill="none" d="M944 979h.01M758 881h.01M741 738h.01M1028 1063h.01M1091 1112h.01M1107 1119h.01M835 821h.01M938 941h.01M884 839h.01M717 820h.01M746 791h.01M940 818h.01M1117 1002h.01M931 944h.01M929 898h.01M781 831h.01M775 641h.01M785 799h.01M1002 879h.01M862 818h.01M1080 1013h.01M660 785h.01M737 882h.01M970 1135h.01M1003 1163h.01M919 1013h.01M1086 865h.01M954 837h.01M892 799h.01M901 781h.01M921 712h.01M908 817h.01M948 736h.01M868 792h.01M1011 901h.01M986 1375h.01M1048 953h.01M1178 935h.01"/>
<path stroke="#3a6ea4" stroke-width="8" stroke-linecap="round" fill="none" d="M651 790h.01M573 680h.01M863 756h.01M720 798h.01M962 760h.01M861 717h.01M880 709h.01M1041 966h.01M1115 960h.01M1052 840h.01M666 760h.01M954 925h.01M906 855h.01M993 752h.01M731 759h.01M933 652h.01M619 776h.01M964 1058h.01M784 786h.01M876 783h.01M689 790h.01M947 1117h.01M957 1125h.01M693 833h.01M906 882h.01M977 816h.01M928 729h.01M845 876h.01M891 776h.01M647 703h.01M878 763h.01M641 784h.01"/>
<path stroke="#3a6ea4" stroke-width="6" stroke-linecap="round" fill="none" d="M746 844h.01M1057 1072h.01M882 732h.01M930 1045h.01M656 745h.01M860 773h.01M922 776h.01M975 689h.01M698 776h.01M672 771h.01M606 605h.01M877 889h.01M1133 878h.01M745 849h.01M854 869h.01M939 969h.01M965 965h.01M879 780h.01M643 805h.01M581 729h.01M1062 1097h.01M1107 825h.01M865 779h.01M982 1180h.01M619 721h.01M1013 1127h.01M715 790h.01M660 784h.01M724 881h.01M613 710h.01M1049 748h.01M908 768h.01M1137 982h.01M939 674h.01M967 612h.01M913 809h.01M664 735h.01M889 713h.01M856 821h.01M922 652h.01M584 707h.01"/>
<path stroke="#357bb2" stroke-width="14" stroke-linecap="round" fill="none" d="M1071 329l-14 34M862 1394h.01M798 1414h.01M805 1488h.01M866 1561h.01M1120 1414h.01M956 1566l12 36M660 1511l0 34M723 491h.01M230 655h.01M469 1359h.01M661 565h.01M339 837h.01M655 761h.01M1228 1447h.01M184 1200h.01M725 1497h.01M1225 1404h.01"/>
<path stroke="#2d88bf" stroke-width="16" stroke-linecap="round" fill="none" d="M1288 570l53 -39"/>
<path stroke="#357bb2" stroke-width="15" stroke-linecap="round" fill="none" d="M831 1561l4 50"/>
<path stroke="#2d88bf" stroke-width="15" stroke-linecap="round" fill="none" d="M858 1561l2 50"/>
<path stroke="#357bb2" stroke-width="22" stroke-linecap="round" fill="none" d="M746 1460l-1 27M748 1503l-3 57M751 1568l-2 29M748 1664l2 32"/>
<path stroke="#2d88bf" stroke-width="22" stroke-linecap="round" fill="none" d="M747 1621l2 21"/>
<path stroke="#3a6ea4" stroke-width="14" stroke-linecap="round" fill="none" d="M655 816h.01M372 996h.01M330 1027h.01M159 1101h.01M551 539h.01M272 629h.01M361 817h.01M414 689h.01M664 747h.01M345 881h.01M1162 1399h.01M628 746h.01M926 1406h.01M136 845h.01M609 689h.01M546 744h.01M501 1455h.01M934 1128h.01"/>
<path stroke="#3a6ea4" stroke-width="13" stroke-linecap="round" fill="none" d="M523 644l-13 -15M311 1145l-20 6M656 851l-7 -7"/>
<path stroke="#4ad832" stroke-width="8" stroke-linecap="round" fill="none" d="M346 1332l102 -74M444 1320l22 16"/>
<path stroke="#4ad832" stroke-width="9" stroke-linecap="round" fill="none" d="M500 1318l20 17"/>
<path stroke="#4ad832" stroke-width="6" stroke-linecap="round" fill="none" d="M530 1250l38 12M1120 1300l14 8"/>
<path stroke="#4ad832" stroke-width="7" stroke-linecap="round" fill="none" d="M548 1305l24 13M540 1203l212 30"/>
<path stroke="#4ad832" stroke-width="4" stroke-linecap="round" fill="none" d="M594 1272l20 4M634 1268l20 4M558 1199h.01M588 1203h.01M588 1216h.01"/>
<path stroke="#4ad832" stroke-width="5" stroke-linecap="round" fill="none" d="M962 1275l13 5M896 1265l17 -6M553 1205h.01M602 1218h.01M658 1221h.01"/>
<path stroke="#e2e23a" stroke-width="4" stroke-linecap="round" fill="none" d="M551 1208h.01M634 1214h.01M583 1216h.01M655 1218h.01M663 1215h.01M750 1230h.01M505 1325h.01M510 1330h.01M427 1296h.01M432 1300h.01M1003 1316h.01M600 1208h.01M640 1213h.01M680 1222h.01M720 1228h.01"/>
<path stroke="#40bb28" stroke-width="4" stroke-linecap="round" fill="none" d="M690 1219h.01M610 1220h.01M562 1207h.01"/>
<path stroke="#309420" stroke-width="4" stroke-linecap="round" fill="none" d="M656 1225h.01M619 1213h.01M550 1204h.01M683 1221h.01"/>
<path stroke="#309420" stroke-width="5" stroke-linecap="round" fill="none" d="M562 1214h.01M707 1232h.01M550 1206h.01M683 1219h.01M572 1201h.01M604 1212h.01M588 1203h.01"/>
<path stroke="#4ad832" stroke-width="3" stroke-linecap="round" fill="none" d="M700 1219h.01"/>
<path stroke="#309420" stroke-width="3" stroke-linecap="round" fill="none" d="M613 1211h.01M601 1215h.01"/>
<path stroke="#40bb28" stroke-width="3" stroke-linecap="round" fill="none" d="M643 1212h.01M630 1213h.01M559 1209h.01"/>
<path stroke="#e2e23a" stroke-width="5" stroke-linecap="round" fill="none" d="M718 1226h.01M648 1214h.01"/>
<path stroke="#40bb28" stroke-width="5" stroke-linecap="round" fill="none" d="M683 1222h.01M738 1236h.01M578 1211h.01M645 1218h.01"/>
<path stroke="#e2e23a" stroke-width="3" stroke-linecap="round" fill="none" d="M603 1218h.01M584 1215h.01"/></g>
<circle cx="792.4" cy="988.5" r="741" fill="none" stroke="#fff" stroke-width="2.6"/>
<path d="M622.2,1128.3 L819.0,1128.3 M623.3,1209.0 L630.6,1211.1 L632.7,1217.3 L630.6,1219.4 L639.0,1221.5 L660.0,1217.3 L667.3,1221.5 L667.3,1273.9 L819.0,1273.9 M819.0,1128.3 L948.9,1128.3 M938.4,1280.0 L938.4,1267.6 L1137.5,1267.6 M667.3,1270.0 L667.3,1275.2 L819.0,1275.2 M862.0,1270.0 L862.0,1318.2 L938.4,1318.2 L938.4,1270.0" fill="none" stroke="#808080" stroke-width="2" stroke-linejoin="round"/>
<path d="M317.8,383.5 L425.7,427.5 L484.4,427.5 L513.7,435.9 L530.5,443.2 L561.9,461.1 L614.3,479.9 L643.6,483.1 L645.7,509.3 M300.0,584.7 L331.4,565.8 L352.4,551.2 L369.1,565.8 L381.7,567.9 L390.1,563.7 L402.7,549.1 L413.1,532.3 L417.3,517.6 L425.7,511.3 L427.8,479.9 L446.7,456.9 L486.5,449.5 L509.5,459.0 L530.5,475.7 L551.4,485.2 L572.4,487.3 L593.3,484.1 L616.4,490.4 M419.0,521.0 L412.9,523.0 L410.8,541.9 L404.5,550.3 L389.9,565.0 L379.4,567.1 L364.7,560.8 L354.3,551.3 L341.7,558.7 L333.3,565.0 L308.2,579.6 L291.4,585.9 L283.0,594.3 L279.9,610.0 L264.2,604.8 L255.8,605.8 L252.6,611.1 L247.4,615.2 L216.0,637.2 L208.6,638.3 L207.6,631.0 L216.0,624.7 L218.1,617.3 L213.9,615.2 L202.3,619.4 L201.3,625.7 L204.4,627.8 L203.4,633.1 L195.0,632.0 L186.6,635.1 L178.2,644.6 L174.1,632.0 L169.9,632.0 L165.7,636.2 L157.3,642.5 L144.7,638.3 L145.8,642.5 L155.2,646.7 L158.3,655.1 L167.8,655.1 L169.9,661.3 L163.6,667.6 L157.3,669.7 L153.1,676.0 L151.0,688.6 L150.0,701.2 L142.6,702.2 L141.6,704.3 L151.0,706.4 L158.3,709.5 L159.4,728.4 L155.2,736.8 L148.9,751.4 L145.8,768.2 L143.7,778.7 L138.4,787.1 L133.2,797.5 L132.1,814.3 L132.1,835.3 L130.1,856.2 L128.0,877.2 L130.1,889.7 L133.2,900.0 M419.0,550.3 L406.6,556.6 L400.4,569.1 L404.5,588.0 L408.7,602.7 L387.8,638.3 L379.4,648.8 L358.4,655.1 L345.9,671.8 L339.6,676.0 L324.9,673.9 L312.3,659.2 L297.7,640.4 L291.4,636.2 L280.9,638.3 L268.3,640.4 L255.8,642.5 L239.0,646.7 L234.8,650.9 L236.9,655.1 L253.7,655.1 L264.2,659.2 L268.3,667.6 L272.5,682.3 L273.6,685.4 L266.2,688.6 L262.1,697.0 L263.1,702.2 L269.4,698.0 L275.7,684.4 L280.9,683.3 L289.3,686.5 L297.7,687.5 L306.1,694.9 L308.2,701.2 L304.0,717.9 L298.7,730.5 L291.4,734.7 L276.7,749.3 L262.1,748.3 L257.9,749.3 L262.1,741.0 L256.8,732.6 L255.8,726.3 L262.1,720.0 L260.0,717.9 L253.7,720.0 L241.1,730.5 L238.0,736.8 L236.9,761.9 L239.0,789.2 L234.8,803.8 L233.8,835.3 L235.9,852.0 L241.1,864.6 L251.6,868.8 L260.0,873.0 L270.4,885.5 L285.1,893.9 L293.5,891.8 L304.0,881.4 L316.5,877.2 L327.0,879.3 L341.7,868.8 L366.8,864.6 L389.9,856.2 L400.4,854.1 L419.0,854.1 M163.6,701.2 L192.9,678.1 L196.1,676.0 L192.9,688.6 L188.7,697.0 L176.2,705.3 L169.9,706.4 L163.6,701.2 M21.1,680.2 L31.6,684.4 L34.7,673.9 L32.6,646.7 L35.8,655.1 L45.2,671.8 L52.5,671.8 L65.1,665.5 L73.5,673.9 L81.9,673.9 L94.4,697.0 L95.5,709.5 L84.0,714.8 L78.7,710.6 L70.3,722.1 L68.2,745.2 L60.9,755.6 L56.7,766.1 L48.3,778.7 L37.9,786.0 L27.4,786.0 L21.1,789.2 M128.0,880.0 L132.1,901.0 L140.5,926.1 L142.6,942.9 L140.5,957.5 L135.3,968.0 L136.3,993.1 L132.1,1003.6 L123.8,1012.0 L102.8,1024.6 L79.8,1039.2 L71.4,1041.3 L60.9,1037.2 L50.4,1029.8 L35.8,1023.5 L21.1,1023.5 M228.5,921.9 L221.2,928.2 L221.2,940.8 L216.0,947.1 L207.6,955.4 L199.2,963.8 L190.8,970.1 L188.7,976.4 L191.9,984.8 L192.9,1001.5 L207.6,1012.0 L213.9,1016.2 L213.9,1026.7 L207.6,1030.9 L199.2,1022.5 L184.5,1018.3 L178.2,1016.2 L165.7,1020.4 L157.3,1022.5 L162.5,1028.8 L154.1,1033.0 L157.3,1045.5 L162.5,1048.7 L155.2,1051.8 L157.3,1068.6 L159.4,1089.5 L165.7,1100.0 L176.2,1110.5 L173.0,1116.8 L186.6,1129.3 L203.4,1141.9 L218.1,1147.2 L230.6,1150.3 L236.9,1147.2 L229.6,1141.9 L231.7,1123.1 L226.4,1112.6 L221.2,1107.3 L223.3,1097.9 L220.2,1085.3 L211.8,1077.0 L201.3,1062.3 L203.4,1056.0 L207.6,1053.9 L216.0,1058.1 L230.6,1077.0 L249.5,1093.7 L262.1,1089.5 L270.4,1077.0 L260.0,1056.0 L253.7,1045.5 L245.3,1035.1 L251.6,1028.8 L249.5,1005.7 L241.1,974.3 L238.0,957.5 L240.1,942.9 L238.0,926.1 L228.5,921.9 M419.0,932.4 L402.4,942.9 L375.2,953.3 L354.3,952.3 L350.1,958.6 L329.1,968.0 L304.0,982.7 L298.7,989.0 L297.7,1005.7 L301.9,1022.5 L308.2,1033.0 L308.2,1045.5 L316.5,1060.2 L321.8,1077.0 L327.0,1097.9 L335.4,1108.4 L343.8,1110.5 L358.4,1121.0 L371.0,1127.2 L396.2,1137.7 L419.0,1144.0 M234.8,1102.1 L249.5,1102.1 L270.4,1093.7 L278.8,1093.7 L280.9,1104.2 L278.8,1116.8 L270.4,1125.2 L260.0,1125.2 L247.4,1116.8 L236.9,1106.3 L234.8,1102.1 M234.8,1129.3 L243.2,1125.2 L262.1,1137.7 L280.9,1137.7 L289.3,1145.1 L295.6,1148.2 L293.5,1158.7 L287.2,1165.0 L278.8,1163.9 L266.2,1160.8 L249.5,1154.5 L239.0,1144.0 L234.8,1129.3 M151.0,1115.7 L174.1,1127.2 L197.1,1139.8 L228.5,1156.6 L249.5,1169.2 L276.7,1183.8 L283.0,1190.1 L291.4,1196.4 L304.0,1206.9 L312.3,1215.3 L314.4,1206.9 L324.9,1202.7 L322.8,1194.3 L316.5,1192.2 L306.1,1183.8 L299.8,1175.4 L312.3,1169.2 L316.5,1160.8 L324.9,1154.5 L335.4,1156.6 L343.8,1167.1 L348.0,1190.1 L349.0,1198.5 L354.3,1200.6 L362.6,1215.3 L364.7,1236.2 L368.9,1238.3 M151.0,1115.7 L155.2,1125.2 L165.7,1137.7 L174.1,1143.0 L161.5,1136.7 L158.3,1139.8 L163.6,1154.5 L169.9,1165.0 L182.4,1168.1 L207.6,1166.0 L224.3,1169.2 L232.7,1179.6 L240.1,1188.0 L241.1,1196.4 L249.5,1204.8 L251.6,1217.3 L257.9,1223.6 L278.8,1232.0 L295.6,1236.2 L308.2,1246.7 L316.5,1251.9 L304.0,1248.8 L291.4,1242.5 L283.0,1240.4 L287.2,1248.8 L295.6,1259.3 L293.5,1265.5 L285.1,1263.4 L276.7,1255.1 L270.4,1246.7 L249.5,1236.2 L234.8,1225.7 L224.3,1211.1 L220.2,1206.9 L211.8,1215.3 L203.4,1232.0 L201.3,1257.2 L203.4,1280.0 M364.7,1169.2 L375.2,1165.0 L392.0,1169.2 L406.6,1181.7 L419.0,1198.5 M364.7,1169.2 L362.6,1175.4 L368.9,1181.7 L373.1,1198.5 L375.2,1213.2 L383.6,1225.7 L387.8,1236.2 L389.9,1246.7 L387.8,1253.0 L381.5,1250.9 M21.1,1062.3 L29.5,1077.0 L34.7,1079.1 L37.9,1068.6 L42.0,1063.3 L45.2,1077.0 L50.4,1089.5 L55.7,1102.1 L58.8,1100.0 L57.8,1077.0 L63.0,1070.7 L74.5,1074.9 L80.8,1085.3 L84.0,1106.3 L81.9,1116.8 L88.1,1123.1 L94.4,1139.8 L97.6,1133.5 L102.8,1110.5 L104.9,1106.3 L107.0,1131.4 L110.1,1129.3 L111.2,1104.2 L119.6,1100.0 L125.9,1102.1 L133.2,1110.5 L135.3,1135.6 L130.1,1146.1 L138.4,1137.7 L140.5,1152.4 L140.5,1169.2 L132.1,1177.5 L128.0,1190.1 L119.6,1185.9 L111.2,1181.7 L117.5,1192.2 L123.8,1206.9 L113.3,1206.9 L104.9,1194.3 L102.8,1204.8 L98.6,1202.7 L86.1,1192.2 L73.5,1185.9 L69.3,1181.7 L73.5,1177.5 L81.9,1175.4 L92.3,1169.2 L93.4,1160.8 L88.1,1158.7 L81.9,1167.1 L75.6,1162.9 L69.3,1154.5 M21.1,1148.2 L31.6,1148.2 L25.3,1162.9 L31.6,1175.4 L40.0,1160.8 L35.8,1148.2 L46.2,1139.8 L52.5,1129.3 L63.0,1133.5 L50.4,1141.9 L50.4,1152.4 L60.9,1165.0 L69.3,1165.0 M21.1,1219.4 L31.6,1225.7 L40.0,1236.2 L46.2,1248.8 L31.6,1257.2 L21.1,1257.2 M56.7,1219.4 L75.6,1211.1 L94.4,1215.3 L109.1,1225.7 L115.4,1236.2 L128.0,1250.9 L117.5,1236.2 L113.3,1227.8 L132.1,1225.7 L148.9,1236.2 L148.9,1219.4 L153.1,1206.9 L151.0,1194.3 L163.6,1185.9 L190.8,1183.8 L192.9,1192.2 L207.6,1185.9 L218.1,1190.1 L207.6,1206.9 L197.1,1223.6 L199.2,1236.2 L190.8,1253.0 L188.7,1269.7 L192.9,1280.0 M63.0,1280.0 L77.7,1259.3 L88.1,1269.7 L96.5,1261.4 M419.0,1143.0 L425.3,1144.4 L431.6,1152.4 L460.9,1167.1 L488.1,1181.7 L517.5,1198.5 L530.1,1202.7 L540.5,1213.2 L543.7,1223.6 L534.2,1225.7 L523.8,1219.4 L513.3,1219.4 L507.0,1225.7 L504.9,1244.6 L509.1,1263.4 L502.8,1257.2 L499.7,1240.4 L494.4,1240.4 L484.0,1250.9 L475.6,1263.4 L471.4,1280.0 M419.0,1202.7 L425.3,1202.7 L431.6,1215.3 L437.9,1217.3 L431.6,1200.6 L427.4,1190.1 L435.8,1182.8 L450.4,1185.9 L471.4,1198.5 L486.1,1209.0 L494.4,1219.4 L497.6,1232.0 L494.4,1244.6 L486.1,1255.1 L477.7,1267.6 L467.2,1280.0 M23.2,1291.0 L31.6,1284.7 L35.8,1307.7 L42.0,1291.0 L46.2,1284.7 L44.1,1301.4 L50.4,1317.1 L52.5,1305.6 L67.2,1291.0 L71.4,1282.6 L77.7,1288.9 L69.3,1276.3 L86.1,1272.1 M90.2,1270.0 L94.4,1282.6 L100.7,1291.0 L107.0,1295.1 L102.8,1301.4 L88.1,1303.5 L86.1,1309.8 L102.8,1314.0 L111.2,1320.3 L117.5,1311.9 L128.0,1295.1 L134.2,1282.6 L140.5,1286.8 L153.1,1286.8 L157.3,1291.0 L148.9,1301.4 L144.7,1311.9 L146.8,1326.6 L140.5,1332.9 L138.4,1343.3 L144.7,1337.1 L153.1,1328.7 L159.4,1316.1 L163.6,1311.9 L186.6,1307.7 L190.8,1309.8 L178.2,1314.0 L163.6,1318.2 L163.6,1328.7 L172.0,1332.9 L186.6,1332.9 L197.1,1322.4 L207.6,1324.5 L224.3,1311.9 L228.5,1307.7 L220.2,1303.5 L234.8,1288.9 L247.4,1282.6 L255.8,1288.9 L241.1,1305.6 L228.5,1318.2 L211.8,1326.6 L197.1,1332.9 L184.5,1339.1 L180.3,1349.6 L184.5,1358.0 L197.1,1362.2 L203.4,1353.8 L220.2,1349.6 L226.4,1341.2 L239.0,1341.2 L253.7,1347.5 L266.2,1351.7 L274.6,1358.0 L276.7,1339.1 L287.2,1322.4 L297.7,1307.7 L295.6,1318.2 L285.1,1332.9 L280.9,1349.6 L287.2,1360.1 L297.7,1364.3 L312.3,1362.2 L316.5,1349.6 L322.8,1343.3 L324.9,1345.4 L327.0,1360.1 L341.7,1358.0 L350.1,1351.7 L348.0,1316.1 L352.2,1301.4 L354.3,1318.2 L362.6,1339.1 L375.2,1345.4 L389.9,1341.2 L394.1,1311.9 L398.3,1307.7 L402.4,1332.9 L412.9,1335.0 L419.0,1326.6 M199.2,1372.7 L207.6,1366.4 L218.1,1368.5 L228.5,1360.1 L249.5,1360.1 L266.2,1364.3 L268.3,1372.7 L255.8,1374.8 L239.0,1376.9 L228.5,1381.1 L216.0,1381.1 L207.6,1374.8 L203.4,1379.0 L199.2,1372.7 M226.4,1402.0 L228.5,1395.7 L241.1,1389.4 L255.8,1383.1 L285.1,1379.0 L283.0,1383.1 L268.3,1389.4 L251.6,1395.7 L247.4,1406.2 L247.4,1414.6 L230.6,1414.6 L228.5,1416.7 L207.6,1412.5 L205.5,1420.9 L220.2,1427.2 L241.1,1425.1 L249.5,1423.0 L253.7,1429.2 L268.3,1431.3 L276.7,1425.1 L291.4,1425.1 L293.5,1433.4 L289.3,1437.6 L291.4,1448.1 L297.7,1452.3 L285.1,1458.6 L280.9,1454.4 L278.8,1446.0 L272.5,1441.8 L264.2,1443.9 L260.0,1450.2 L262.1,1458.6 L272.5,1462.8 L276.7,1469.1 L266.2,1473.2 L257.9,1479.5 L253.7,1485.8 L251.6,1475.3 L247.4,1469.1 L241.1,1471.2 L241.1,1479.5 L245.3,1487.9 L239.0,1479.5 L236.9,1464.9 L245.3,1458.6 L249.5,1452.3 L241.1,1446.0 L234.8,1435.5 L230.6,1433.4 L226.4,1441.8 L220.2,1443.9 L216.0,1454.4 L211.8,1460.7 L203.4,1452.3 L205.5,1437.6 L199.2,1435.5 L190.8,1446.0 L184.5,1443.9 L178.2,1437.6 L169.9,1446.0 L161.5,1443.9 L151.0,1435.5 L153.1,1420.9 L157.3,1416.7 L165.7,1416.7 L163.6,1414.6 L151.0,1408.3 L148.9,1404.1 L157.3,1399.9 L165.7,1397.8 L174.1,1395.7 L178.2,1399.9 L180.3,1408.3 L186.6,1406.2 L190.8,1395.7 L197.1,1397.8 L207.6,1404.1 L226.4,1402.0 M58.8,1383.1 L67.2,1366.4 L77.7,1363.2 L84.0,1366.4 L111.2,1366.4 L117.5,1364.3 L121.7,1372.7 L134.2,1376.9 L142.6,1372.7 L151.0,1370.6 L155.2,1379.0 L161.5,1381.1 L165.7,1389.4 L163.6,1393.6 L153.1,1393.6 L144.7,1395.7 L138.4,1402.0 L121.7,1395.7 L123.8,1391.5 L132.1,1389.4 L125.9,1387.3 L111.2,1389.4 L107.0,1376.9 L92.3,1379.0 L88.1,1387.3 L86.1,1404.1 L81.9,1408.3 L77.7,1402.0 L84.0,1389.4 L77.7,1393.6 L71.4,1404.1 L67.2,1399.9 L65.1,1391.5 L58.8,1383.1 M419.0,1366.4 L404.5,1362.2 L394.1,1366.4 L396.2,1379.0 L406.6,1383.1 L406.6,1391.5 L396.2,1391.5 L389.9,1385.2 L383.6,1374.8 L379.4,1370.6 L371.0,1372.7 L364.7,1370.6 L360.5,1379.0 L362.6,1387.3 L377.3,1389.4 L379.4,1393.6 L362.6,1395.7 L360.5,1404.1 L364.7,1416.7 L366.8,1423.0 L375.2,1423.0 L383.6,1416.7 L387.8,1420.9 L419.0,1416.7 M419.0,1425.1 L396.2,1429.2 L379.4,1429.2 L364.7,1435.5 L358.4,1441.8 L356.3,1452.3 L350.1,1454.4 L345.9,1462.8 L345.9,1467.0 L354.3,1469.1 L366.8,1467.0 L379.4,1467.0 L381.5,1475.3 L371.0,1479.5 L364.7,1487.9 L379.4,1490.0 L377.3,1496.3 L387.8,1498.4 L412.9,1492.1 L419.0,1487.9 M329.1,1511.0 L339.6,1508.9 L350.1,1515.2 L362.6,1508.9 L356.3,1527.7 L352.2,1540.3 L348.0,1529.8 L345.9,1521.4 L339.6,1519.3 L329.1,1511.0 M419.0,1500.5 L406.6,1504.7 L394.1,1513.1 L406.6,1515.2 L419.0,1513.1 M389.9,1523.5 L400.4,1527.7 L419.0,1531.9 L410.8,1540.3 L419.0,1546.6 L392.0,1550.8 L396.2,1540.3 L394.1,1531.9 L389.9,1523.5 M672.5,1379.0 L697.7,1372.7 L733.3,1372.7 L754.3,1373.7 L775.2,1376.9 L796.2,1383.1 L819.0,1383.1 M419.0,1348.6 L431.6,1353.8 L440.0,1360.1 L460.9,1366.4 L481.9,1372.7 L502.8,1381.1 L530.1,1389.4 L555.2,1385.2 L582.4,1379.0 L595.0,1372.7 L592.9,1366.4 L582.4,1358.0 L569.9,1349.6 L565.7,1339.1 L551.0,1332.9 L557.3,1330.8 L576.2,1339.1 L590.8,1347.5 L601.3,1358.0 L607.6,1366.4 L613.9,1366.4 L613.9,1353.8 L607.6,1339.1 L601.3,1328.7 L607.6,1328.7 L614.9,1337.1 L614.9,1270.0 M419.0,1366.4 L440.0,1372.7 L446.2,1387.3 L440.0,1391.5 L450.4,1376.9 L460.9,1374.8 L481.9,1379.0 L502.8,1387.3 L511.2,1393.6 L502.8,1397.8 L481.9,1395.7 L475.6,1399.9 L471.4,1408.3 L481.9,1412.5 L488.1,1404.1 L502.8,1404.1 L513.3,1404.1 L536.3,1406.2 L544.7,1402.0 L565.7,1395.7 L586.6,1389.4 L607.6,1385.2 L628.5,1385.2 L639.0,1381.1 L649.5,1383.1 L662.1,1389.4 L670.4,1399.9 L676.7,1412.5 L674.6,1425.1 L670.4,1429.2 L662.1,1427.2 L655.8,1420.9 L655.8,1429.2 L649.5,1437.6 L641.1,1443.9 L632.7,1439.7 L626.4,1433.4 L620.2,1431.3 L620.2,1435.5 L628.5,1441.8 L630.6,1452.3 L622.2,1458.6 L607.6,1454.4 L592.9,1448.1 L578.2,1441.8 L565.7,1435.5 L555.2,1427.2 L544.7,1418.8 L536.3,1414.6 L532.1,1416.7 L534.2,1427.2 L544.7,1433.4 L561.5,1446.0 L578.2,1456.5 L597.1,1464.9 L620.2,1467.0 L632.7,1471.2 L649.5,1469.1 L664.2,1467.0 L672.5,1477.4 L683.0,1481.6 L691.4,1487.9 L701.9,1492.1 L699.8,1498.4 L691.4,1494.2 L685.1,1498.4 L670.4,1502.6 L660.0,1506.8 L649.5,1504.7 L641.1,1508.9 L628.5,1513.1 L620.2,1511.0 L611.8,1506.8 L605.5,1496.3 L597.1,1496.3 L599.2,1500.5 L607.6,1504.7 L616.0,1515.2 L628.5,1521.4 L628.5,1527.7 L636.9,1521.4 L649.5,1519.3 L662.1,1517.2 L670.4,1521.4 L676.7,1534.0 L687.2,1540.3 L697.7,1538.2 L710.3,1542.4 L712.3,1555.0 L708.2,1563.3 L720.7,1563.3 L729.1,1565.4 L724.9,1578.0 L724.9,1588.5 L733.3,1596.9 L745.9,1605.3 L737.5,1615.7 L739.6,1626.2 L745.9,1630.4 L729.1,1647.2 L718.6,1634.6 L712.3,1624.1 L708.2,1615.7 L697.7,1613.6 L689.3,1613.6 L687.2,1605.3 L691.4,1594.8 L693.5,1584.3 L687.2,1578.0 L676.7,1571.7 L670.4,1567.5 L660.0,1571.7 L649.5,1565.4 L641.1,1563.3 L634.8,1555.0 L630.6,1548.7 L624.3,1546.6 L624.3,1559.2 L616.0,1559.2 L607.6,1561.3 L599.2,1563.3 L592.9,1555.0 L586.6,1550.8 L588.7,1561.3 L590.8,1571.7 L582.4,1575.9 L574.1,1573.8 L565.7,1563.3 L561.5,1559.2 L555.2,1552.9 L553.1,1546.6 L561.5,1540.3 L576.2,1536.1 L595.0,1536.1 L584.5,1529.8 L586.6,1521.4 L592.9,1521.4 L576.2,1525.6 L565.7,1531.9 L553.1,1536.1 L555.2,1527.7 L563.6,1517.2 L567.8,1504.7 L572.0,1492.1 L576.2,1483.7 L584.5,1471.2 L569.9,1477.4 L557.3,1485.8 L548.9,1492.1 L536.3,1492.1 L528.0,1487.9 L521.7,1477.4 L519.6,1458.6 L517.5,1458.6 L515.4,1475.3 L523.8,1487.9 L521.7,1492.1 L509.1,1483.7 L502.8,1471.2 L498.6,1454.4 L492.3,1454.4 L481.9,1458.6 L460.9,1464.9 L467.2,1462.8 L486.1,1460.7 L492.3,1471.2 L494.4,1483.7 L479.8,1487.9 L467.2,1492.1 L454.6,1490.0 L458.8,1500.5 L456.7,1513.1 L465.1,1511.0 L473.5,1508.9 L481.9,1513.1 L488.1,1517.2 L490.2,1527.7 L498.6,1534.0 L498.6,1544.5 L490.2,1550.8 L492.3,1557.1 L507.0,1557.1 L519.6,1559.2 L513.3,1567.5 L517.5,1582.2 L507.0,1575.9 L498.6,1571.7 L488.1,1567.5 L481.9,1557.1 L477.7,1544.5 L473.5,1544.5 L471.4,1563.3 L469.3,1578.0 L463.0,1575.9 L460.9,1563.3 L458.8,1548.7 L452.5,1542.4 L446.2,1542.4 L454.6,1536.1 L465.1,1531.9 L460.9,1529.8 L450.4,1525.6 L440.0,1534.0 L429.5,1531.9 L419.0,1527.7 M419.0,1416.7 L431.6,1418.8 L440.0,1416.7 L433.7,1458.6 L431.6,1462.8 L435.8,1458.6 L440.0,1441.8 M817.1,1473.2 L808.7,1483.7 L796.2,1487.9 L783.6,1490.0 L771.0,1487.9 L764.7,1483.7 L775.2,1479.5 L787.8,1481.6 L771.0,1471.2 L760.5,1464.9 L756.3,1471.2 L752.2,1475.3 L733.3,1481.6 L718.6,1483.7 L712.3,1477.4 L714.4,1471.2 L720.7,1464.9 L712.3,1454.4 L708.2,1437.6 L706.1,1425.1 L706.1,1412.5 L706.1,1399.9 L699.8,1397.8 L683.0,1399.9 L674.6,1393.6 L672.5,1381.1 L676.7,1379.0 M819.0,1575.9 L808.7,1571.7 L800.4,1575.9 L798.3,1584.3 L802.4,1596.9 L796.2,1609.4 L794.1,1615.7 L804.5,1613.6 L819.0,1609.4 M819.0,1377.9 L840.0,1377.9 L871.4,1379.0 L892.3,1387.3 L907.0,1399.9 L917.5,1414.6 L925.9,1429.2 L928.0,1448.1 L925.9,1460.7 L919.6,1473.2 L909.1,1487.9 L896.5,1500.5 L886.1,1508.9 L877.7,1511.0 L865.1,1508.9 L852.5,1502.6 L846.2,1492.1 L850.4,1479.5 L850.4,1471.2 L842.0,1464.9 L831.6,1464.9 L819.0,1467.0 M923.8,1406.2 L932.1,1402.0 L948.9,1408.3 L963.6,1412.5 L969.9,1420.9 L974.1,1435.5 L976.2,1446.0 L967.8,1441.8 L961.5,1435.5 L944.7,1423.0 L928.0,1412.5 L923.8,1406.2 M923.8,1496.3 L932.1,1485.8 L944.7,1483.7 L965.7,1485.8 L967.8,1496.3 L972.0,1502.6 L965.7,1513.1 L955.2,1519.3 L944.7,1519.3 L925.9,1517.2 L925.9,1506.8 L921.7,1500.5 L923.8,1496.3 M1005.5,1490.0 L1009.7,1477.4 L1022.2,1469.1 L1030.6,1462.8 L1041.1,1467.0 L1045.3,1471.2 L1051.6,1473.2 L1049.5,1477.4 L1041.1,1479.5 L1039.0,1487.9 L1032.7,1496.3 L1022.2,1502.6 L1016.0,1502.6 L1011.8,1500.5 L1005.5,1490.0 M819.0,1590.6 L823.2,1605.3 L819.0,1613.6 M852.5,1609.4 L860.9,1605.3 L869.3,1601.1 L869.3,1615.7 L873.5,1630.4 L867.2,1638.8 L867.2,1647.2 L881.9,1653.4 L886.1,1663.9 L902.8,1663.9 L907.0,1670.0 M825.3,1647.2 L835.8,1638.8 L846.2,1643.0 L854.6,1651.4 L852.5,1661.8 L860.9,1663.9 L871.4,1670.0 M713.0,1560.0 L708.3,1563.1 L725.5,1566.3 L728.6,1575.6 L722.4,1585.0 L731.8,1597.6 L747.4,1606.9 L741.2,1619.5 L738.0,1632.0 L744.3,1635.1 L731.8,1650.8 L719.2,1638.2 L713.0,1622.6 L709.9,1616.3 L694.2,1614.8 L684.8,1610.1 L694.2,1591.3 L681.7,1578.8 L672.3,1566.3 L666.0,1575.6 L644.1,1575.6 L634.7,1563.1 M806.9,1572.5 L819.4,1578.8 L822.5,1597.6 L813.1,1606.9 L794.4,1617.9 L794.4,1606.9 L803.8,1591.3 L800.6,1578.8 L806.9,1572.5 M866.4,1600.7 L869.5,1622.6 L875.7,1638.2 L869.5,1641.4 L882.0,1650.8 L885.1,1666.4 L872.6,1675.8 L857.0,1666.4 L847.6,1660.2 L838.2,1657.0 L822.5,1647.6 L831.9,1628.9 L844.4,1632.0 L853.8,1644.5 L857.0,1619.5 L853.8,1610.1 L866.4,1600.7 M888.3,1672.7 L900.8,1666.4 L905.5,1671.1 L894.5,1677.4 L888.3,1672.7 M759.9,1688.3 L778.7,1683.6 L803.8,1685.2 L822.5,1682.1 L838.2,1683.6 L844.4,1691.5 L831.9,1688.3 L825.7,1704.0 L816.3,1707.1 L816.3,1718.1 L806.9,1707.1 L791.2,1700.8 L775.6,1707.1 L763.1,1704.0 L759.9,1688.3 M857.0,1685.2 L869.5,1682.1 L882.0,1688.3 L891.4,1697.7 L894.5,1710.2 L885.1,1710.2 L869.5,1700.8 L857.0,1685.2 M903.9,1688.3 L913.3,1680.5 L919.6,1682.1 L921.1,1716.5 L913.3,1716.5 L907.0,1704.0 L903.9,1688.3 M459.5,1560.0 L462.6,1575.6 L468.9,1578.8 L472.0,1560.0 M478.2,1560.0 L481.4,1569.4 L493.9,1575.6 L509.5,1569.4 L515.8,1581.9 L518.9,1572.5 L515.8,1560.0 M556.5,1560.0 L575.3,1578.8 L587.8,1578.8 L594.1,1572.5 L587.8,1560.0 M491.7,257.4 L478.6,272.5 L481.4,274.3 L497.4,265.9 L502.1,263.1 M404.8,557.5 L430.0,544.0 L442.5,536.2 L450.9,541.9 L461.3,561.7 L473.8,581.6 L485.3,601.4 L494.7,610.8 L503.0,615.0 L512.4,614.4 L526.0,603.5 L538.5,602.4 L555.2,593.0 L568.8,582.6 L575.0,568.0 L579.2,567.0 L586.5,574.3 L602.1,595.1 L612.6,601.4 M400.4,854.0 L419.0,854.0 L463.0,852.0 L470.0,870.0 L469.0,890.0 L460.0,903.0 L440.0,918.0 L419.0,932.0 M608.5,603.0 L612.5,1368.0" fill="none" stroke="#c8c8c8" stroke-width="3" stroke-linejoin="round" stroke-linecap="round"/>
<path d="M21.1,397.8 L316.5,386.7 L345.9,402.4 M522.1,244.2 L532.6,249.4 L541.0,270.4 L572.4,343.7 L597.5,396.1 L635.3,456.9 L665.6,490.4 L656.2,505.1 L647.8,515.5 M300.0,384.6 L317.8,384.6 L425.7,431.7 L484.4,433.8 L513.7,440.1 L530.5,446.4 L561.9,467.3 L614.3,488.3 L645.7,492.5 L647.8,511.3 M612.8,602.7 L616.0,611.1 L628.5,634.1 L649.5,663.4 L670.4,688.6 L678.8,705.3 L685.1,722.1 L688.3,734.7 L691.4,747.2 L697.7,770.3 M687.2,736.8 L680.9,722.1 L670.4,724.2 L657.9,734.7 L641.1,751.4 L630.6,766.1 L625.4,778.7 L625.4,797.5 L630.6,810.1 L641.1,820.6 L645.3,824.8 L660.0,826.9 L676.7,831.1 L697.7,824.8 L712.3,835.3 L720.7,849.9 L727.0,873.0 L733.3,900.0 M727.0,880.0 L737.5,905.1 L754.3,932.4 L775.2,957.5 L796.2,978.5 L806.6,991.1 L819.0,1001.5 M819.0,999.4 L831.6,1009.9 L823.2,1014.1 L825.3,1026.7 L835.8,1037.2 L846.2,1045.5 L860.9,1060.2 L873.5,1068.6 L881.9,1079.1 L902.8,1097.9 L913.3,1104.2 L923.8,1108.4 L944.7,1123.1 L953.1,1131.4 L965.7,1139.8 L986.6,1148.2 L995.0,1154.5 L1003.4,1160.8 L1005.5,1173.3 L1016.0,1188.0 L1030.6,1202.7 L1039.0,1213.2 L1045.3,1221.5 L1049.5,1225.7 L1070.4,1234.1 L1091.4,1244.6 L1112.3,1255.1 L1133.3,1263.4 L1158.4,1280.0 M1165.0,1284.4 L1186.0,1290.7 L1206.9,1295.9 L1227.9,1292.8 L1234.1,1299.1 L1248.8,1295.9 L1265.6,1290.7 L1286.5,1286.5 L1290.7,1283.3 L1294.9,1288.6 L1311.7,1294.9 L1313.8,1301.2 L1301.2,1307.4 L1294.9,1313.7 L1292.8,1326.3 L1294.9,1336.8 L1282.3,1343.1 L1286.5,1351.4 L1280.2,1361.9 L1274.0,1370.3 L1271.9,1380.8 L1267.7,1387.1 L1259.3,1393.3 L1253.0,1393.3 L1248.8,1382.9 L1244.6,1378.7 L1234.1,1378.7 L1227.9,1387.1 L1217.4,1391.3 L1206.9,1395.4 L1198.5,1399.6 L1190.1,1397.5 L1188.0,1389.2 L1186.0,1380.8 L1179.7,1376.6 L1171.3,1376.6 L1165.0,1374.5 M620.2,1370.6 L628.5,1368.5 L639.0,1360.1 L649.5,1355.9 L670.4,1349.6 L678.8,1339.1 L691.4,1337.1 L712.3,1345.4 L733.3,1351.7 L754.3,1355.9 L775.2,1358.0 L796.2,1362.2 L819.0,1364.3 M819.0,1364.3 L840.0,1366.4 L860.9,1368.5 L881.9,1366.4 L902.8,1368.5 L923.8,1374.8 L944.7,1381.1 L965.7,1385.2 L982.4,1391.5 L990.8,1402.0 L997.1,1408.3 L1007.6,1412.5 L1018.1,1418.8 L1028.5,1423.0 L1039.0,1425.1 L1049.5,1423.0 L1060.0,1418.8 L1062.1,1410.4 L1070.4,1406.2 L1091.4,1404.1 L1112.3,1404.1 L1133.3,1397.8 L1141.7,1393.6 L1143.8,1385.2 L1135.4,1376.9 L1143.8,1374.8 L1154.3,1376.9 L1175.2,1379.0 L1187.8,1379.0 L1192.0,1387.3 L1192.0,1399.9 L1202.4,1399.9 L1208.7,1391.5 L1219.0,1387.3 M392.2,256.5 L408.2,249.0 L422.3,240.5 L436.3,234.0 L450.4,228.3 L459.8,229.3 L473.9,235.8 L483.3,239.6 L492.7,242.4 L502.1,240.5 L511.5,234.9 L520.8,230.2 L526.5,228.3 M392.2,256.5 L415.7,251.8 L426.9,249.0 L441.0,243.4 L453.2,240.5 L464.5,243.4 L473.9,248.0 L483.3,251.8 L497.4,254.6 L506.8,249.0 L516.2,246.2 L522.7,245.2 L530.2,249.0 L534.9,255.6 L539.6,264.9 L545.3,278.0 M524.6,226.5 L534.9,221.8 L537.7,227.4 L534.0,239.6 L528.4,241.5 L522.7,236.8 L524.6,226.5 M611.5,603.0 L619.5,1350.0 L617.0,1370.0" fill="none" stroke="#fff" stroke-width="4.6" stroke-linejoin="round" stroke-linecap="round"/>
<path d="M1388.8,1388.1 L1382.5,1369.3 L1381.5,1360.9 L1385.6,1352.6 L1396.1,1345.3 L1404.4,1342.2 L1412.8,1350.5 L1420.1,1346.3 L1424.3,1334.9 L1422.2,1324.4 L1428.4,1327.6 L1434.7,1334.9 L1443.0,1333.8 L1451.4,1331.7 L1463.9,1324.4 L1479.5,1324.4 L1490.0,1329.6 L1505.6,1332.8 L1521.3,1334.9 L1531.7,1331.7 L1547.4,1329.6 L1563.0,1327.6 M1563.0,1354.7 L1547.4,1357.8 L1536.9,1358.9 L1521.3,1362.0 L1510.8,1365.1 L1500.4,1369.3 L1490.0,1371.4 L1484.8,1363.0 L1479.5,1356.8 L1472.2,1354.7 L1463.9,1363.0 L1453.5,1368.2 L1443.0,1373.5 L1432.6,1377.6 L1422.2,1373.5 L1411.7,1377.6 L1401.3,1383.9 L1390.9,1389.1 M1401.3,1350.5 L1390.9,1354.7 L1387.7,1362.0 L1396.1,1363.0 L1401.3,1371.4 L1397.1,1378.7 M1428.4,1354.7 L1437.8,1348.4 L1448.2,1352.6 L1458.7,1348.4 L1469.1,1344.3 L1479.5,1346.3 L1490.0,1342.2 L1500.4,1343.2 L1510.8,1340.1 L1521.3,1342.2 L1531.7,1344.3 L1547.4,1348.4 L1563.0,1346.3 M1480.6,1310.9 L1484.8,1314.0 L1482.7,1317.1 M1504.6,1303.6 L1509.8,1304.6 L1507.7,1308.8" fill="none" stroke="#f4f4f4" stroke-width="7" stroke-linejoin="round" stroke-linecap="round"/>
<circle cx="477.2" cy="255.1" r="6.3" fill="#fff"/>
<circle cx="514.8" cy="437" r="6.3" fill="#fff"/>
<circle cx="384" cy="492" r="6.3" fill="#fff"/>
<circle cx="689.3" cy="736.8" r="6.3" fill="#fff"/>
<circle cx="645.3" cy="824.8" r="6.3" fill="#fff"/>
<circle cx="143.7" cy="787" r="6.3" fill="#fff"/>
<circle cx="308.2" cy="1033" r="6.3" fill="#fff"/>
<circle cx="796.2" cy="989" r="6.3" fill="#fff"/>
<circle cx="901.8" cy="1238.3" r="6.3" fill="#fff"/>
<circle cx="679.9" cy="1338" r="6.3" fill="#fff"/>
<circle cx="817" cy="1382" r="6.3" fill="#fff"/>
<text x="482.9" y="242.9" font-family="DejaVu Sans Mono" font-size="30.2" fill="#fff">RÍO GALLEGOS</text>
<text x="519.5" y="427.5" font-family="DejaVu Sans Mono" font-size="30.2" fill="#fff">CÓNDOR</text>
<text x="390.0" y="481.9" font-family="DejaVu Sans Mono" font-size="30.2" fill="#fff">PUNTA DELGADA</text>
<text x="692.5" y="727.3" font-family="DejaVu Sans Mono" font-size="30.2" fill="#fff">EL PÁRAMO</text>
<text x="651.0" y="813.3" font-family="DejaVu Sans Mono" font-size="30.2" fill="#fff">SAN SEBASTIÁN</text>
<text x="148.5" y="776.6" font-family="DejaVu Sans Mono" font-size="30.2" fill="#fff">PUNTA ARENAS</text>
<text x="314.0" y="1021.4" font-family="DejaVu Sans Mono" font-size="30.2" fill="#fff">PUERTO YARTOU</text>
<text x="802.5" y="978.5" font-family="DejaVu Sans Mono" font-size="30.2" fill="#fff">RÍO GRANDE</text>
<text x="908.0" y="1227.8" font-family="DejaVu Sans Mono" font-size="30.2" fill="#fff">TOLHUIN</text>
<text x="685.5" y="1327.6" font-family="DejaVu Sans Mono" font-size="30.2" fill="#fff">USHUAIA</text>
<text x="823.5" y="1371.6" font-family="DejaVu Sans Mono" font-size="30.2" fill="#fff">CABO DE HORNOS</text>
<text x="1453.5" y="1341" font-family="DejaVu Sans Mono" font-size="30.2" fill="#fff">ISLA DE LOS ESTADOS</text>
</g>
<g clip-path="url(#rightclip)">
<path d="M1612.0,266.0 L1645.0,263.0 L1677.0,265.0 L1700.0,273.0 L1715.0,280.0 L1715.0,1711.0 L1690.0,1713.0 L1668.0,1712.0 L1645.0,1717.0 L1620.0,1718.0 L1598.0,1713.0 L1596.0,1675.0 L1590.6,1593.0 L1584.5,1511.0 L1578.0,1409.0 L1567.0,1400.0 L1567.0,800.0 L1568.0,784.0 L1572.0,723.0 L1576.0,643.0 L1580.0,541.0 L1588.0,400.0 L1592.0,323.0 L1598.0,291.0Z" fill="#2d88bf" />
<ellipse cx="1696.2" cy="394.5" rx="29.3" ry="6.0" fill="#2893c6"/>
<ellipse cx="1570.8" cy="1169.7" rx="18.9" ry="7.5" fill="#2d88bf"/>
<ellipse cx="1639.2" cy="1477.3" rx="12.1" ry="9.3" fill="#357bb2"/>
<ellipse cx="1685.4" cy="990.4" rx="18.4" ry="10.3" fill="#3a6ea4"/>
<ellipse cx="1686.2" cy="455.8" rx="26.6" ry="8.0" fill="#2d88bf"/>
<ellipse cx="1606.3" cy="1305.5" rx="21.0" ry="10.7" fill="#2893c6"/>
<ellipse cx="1623.5" cy="442.5" rx="20.5" ry="5.1" fill="#2893c6"/>
<ellipse cx="1655.6" cy="1594.8" rx="23.9" ry="8.8" fill="#3a6ea4"/>
<ellipse cx="1642.2" cy="544.1" rx="17.6" ry="10.0" fill="#27a0d0"/>
<ellipse cx="1616.0" cy="985.3" rx="15.2" ry="10.6" fill="#2893c6"/>
<ellipse cx="1586.0" cy="947.0" rx="24.4" ry="11.8" fill="#357bb2"/>
<ellipse cx="1689.3" cy="909.2" rx="14.9" ry="9.4" fill="#2d88bf"/>
<ellipse cx="1632.6" cy="1527.5" rx="26.6" ry="9.7" fill="#3b6399"/>
<ellipse cx="1703.1" cy="1450.4" rx="16.1" ry="8.4" fill="#2d88bf"/>
<ellipse cx="1703.0" cy="1558.2" rx="13.6" ry="11.8" fill="#3a6ea4"/>
<ellipse cx="1614.1" cy="693.7" rx="28.3" ry="10.5" fill="#2893c6"/>
<ellipse cx="1660.2" cy="405.2" rx="25.3" ry="11.7" fill="#27a0d0"/>
<ellipse cx="1613.3" cy="1370.5" rx="29.2" ry="7.0" fill="#27a0d0"/>
<ellipse cx="1591.4" cy="735.3" rx="13.6" ry="9.8" fill="#2d88bf"/>
<ellipse cx="1644.0" cy="448.0" rx="29.6" ry="7.5" fill="#2893c6"/>
<ellipse cx="1582.6" cy="1222.8" rx="25.5" ry="8.7" fill="#2893c6"/>
<ellipse cx="1640.8" cy="764.6" rx="28.9" ry="5.4" fill="#357bb2"/>
<ellipse cx="1705.0" cy="1417.9" rx="27.4" ry="8.8" fill="#3a6ea4"/>
<ellipse cx="1665.0" cy="1083.2" rx="12.9" ry="6.4" fill="#3a6ea4"/>
<ellipse cx="1583.0" cy="401.6" rx="17.7" ry="7.9" fill="#2d88bf"/>
<ellipse cx="1654.3" cy="1098.5" rx="12.2" ry="5.5" fill="#27a0d0"/>
<ellipse cx="1644.1" cy="1707.1" rx="24.6" ry="6.3" fill="#2893c6"/>
<ellipse cx="1667.6" cy="494.0" rx="16.1" ry="6.5" fill="#2893c6"/>
<ellipse cx="1572.2" cy="1651.9" rx="27.2" ry="9.5" fill="#3b6399"/>
<ellipse cx="1638.1" cy="599.1" rx="14.0" ry="9.9" fill="#357bb2"/>
<ellipse cx="1628.1" cy="1703.5" rx="13.4" ry="8.7" fill="#357bb2"/>
<ellipse cx="1692.7" cy="914.5" rx="19.2" ry="10.3" fill="#3a6ea4"/>
<ellipse cx="1576.0" cy="1405.5" rx="12.5" ry="7.4" fill="#2893c6"/>
<ellipse cx="1687.2" cy="901.6" rx="20.5" ry="9.1" fill="#2d88bf"/>
<ellipse cx="1606.3" cy="914.4" rx="25.0" ry="6.5" fill="#357bb2"/>
<ellipse cx="1619.5" cy="310.6" rx="18.9" ry="6.5" fill="#2d88bf"/>
<ellipse cx="1679.3" cy="1249.7" rx="14.8" ry="11.4" fill="#3a6ea4"/>
<ellipse cx="1651.7" cy="280.4" rx="18.8" ry="6.2" fill="#357bb2"/>
<ellipse cx="1573.9" cy="295.0" rx="18.1" ry="8.0" fill="#357bb2"/>
<ellipse cx="1658.2" cy="733.6" rx="12.3" ry="9.0" fill="#2893c6"/>
<ellipse cx="1595.2" cy="729.5" rx="27.3" ry="5.8" fill="#2893c6"/>
<ellipse cx="1678.1" cy="725.6" rx="13.7" ry="5.9" fill="#2d88bf"/>
<ellipse cx="1621.1" cy="1331.9" rx="29.6" ry="11.8" fill="#27a0d0"/>
<ellipse cx="1628.2" cy="1031.4" rx="14.0" ry="6.9" fill="#2d88bf"/>
<ellipse cx="1604.9" cy="1447.9" rx="29.7" ry="9.3" fill="#357bb2"/>
<ellipse cx="1711.1" cy="1218.2" rx="24.3" ry="7.1" fill="#3a6ea4"/>
<ellipse cx="1681.1" cy="699.6" rx="21.7" ry="8.4" fill="#2893c6"/>
<ellipse cx="1671.9" cy="1580.9" rx="12.0" ry="9.3" fill="#357bb2"/>
<ellipse cx="1683.3" cy="1324.4" rx="23.4" ry="10.1" fill="#2893c6"/>
<ellipse cx="1578.9" cy="961.1" rx="16.7" ry="10.4" fill="#2d88bf"/>
<ellipse cx="1708.4" cy="856.5" rx="23.2" ry="8.5" fill="#357bb2"/>
<ellipse cx="1695.2" cy="904.6" rx="24.4" ry="8.7" fill="#2d88bf"/>
<ellipse cx="1687.3" cy="519.7" rx="27.9" ry="5.9" fill="#27a0d0"/>
<ellipse cx="1621.2" cy="1652.7" rx="26.2" ry="10.0" fill="#2893c6"/>
<ellipse cx="1622.7" cy="804.4" rx="16.1" ry="10.8" fill="#357bb2"/>
<ellipse cx="1573.0" cy="583.7" rx="28.1" ry="10.5" fill="#27a0d0"/>
<ellipse cx="1652.4" cy="1383.1" rx="29.2" ry="10.6" fill="#357bb2"/>
<ellipse cx="1636.7" cy="1289.9" rx="29.2" ry="9.4" fill="#357bb2"/>
<ellipse cx="1662.6" cy="345.1" rx="24.6" ry="9.1" fill="#2893c6"/>
<ellipse cx="1692.8" cy="1582.7" rx="29.6" ry="10.1" fill="#27a0d0"/>
<ellipse cx="1678.4" cy="358.2" rx="28.4" ry="6.0" fill="#357bb2"/>
<ellipse cx="1581.8" cy="621.0" rx="21.7" ry="7.4" fill="#357bb2"/>
<ellipse cx="1631.9" cy="1184.7" rx="14.8" ry="5.3" fill="#357bb2"/>
<ellipse cx="1605.6" cy="527.6" rx="16.7" ry="9.1" fill="#27a0d0"/>
<ellipse cx="1684.3" cy="603.5" rx="17.7" ry="7.3" fill="#2893c6"/>
<ellipse cx="1642.8" cy="1297.7" rx="27.7" ry="7.0" fill="#357bb2"/>
<ellipse cx="1675.0" cy="765.3" rx="18.4" ry="9.4" fill="#357bb2"/>
<ellipse cx="1593.8" cy="602.8" rx="18.9" ry="10.2" fill="#27a0d0"/>
<ellipse cx="1647.7" cy="323.6" rx="27.6" ry="6.9" fill="#2d88bf"/>
<ellipse cx="1711.9" cy="1067.4" rx="29.7" ry="5.7" fill="#2893c6"/>
<ellipse cx="1612.3" cy="945.0" rx="23.1" ry="10.1" fill="#357bb2"/>
<ellipse cx="1626.3" cy="392.2" rx="22.7" ry="7.4" fill="#2d88bf"/>
<ellipse cx="1708.1" cy="1552.0" rx="13.1" ry="9.2" fill="#357bb2"/>
<ellipse cx="1599.6" cy="271.0" rx="13.8" ry="7.6" fill="#2893c6"/>
<ellipse cx="1668.4" cy="1208.1" rx="28.6" ry="6.0" fill="#357bb2"/>
<ellipse cx="1664.4" cy="1134.2" rx="12.5" ry="7.5" fill="#357bb2"/>
<ellipse cx="1672.9" cy="1074.1" rx="26.7" ry="5.9" fill="#2893c6"/>
<ellipse cx="1609.6" cy="832.1" rx="17.2" ry="6.6" fill="#357bb2"/>
<ellipse cx="1643.0" cy="438.9" rx="29.8" ry="10.5" fill="#27a0d0"/>
<ellipse cx="1628.5" cy="552.8" rx="25.8" ry="5.3" fill="#2893c6"/>
<ellipse cx="1689.5" cy="1431.1" rx="20.2" ry="5.3" fill="#27a0d0"/>
<ellipse cx="1581.2" cy="584.7" rx="14.2" ry="11.6" fill="#27a0d0"/>
<ellipse cx="1589.7" cy="1587.6" rx="15.6" ry="11.2" fill="#357bb2"/>
<ellipse cx="1682.4" cy="838.2" rx="21.4" ry="11.9" fill="#357bb2"/>
<ellipse cx="1699.6" cy="1620.7" rx="29.5" ry="10.3" fill="#27a0d0"/>
<ellipse cx="1703.9" cy="1096.3" rx="22.3" ry="5.2" fill="#2893c6"/>
<ellipse cx="1612.4" cy="1330.6" rx="20.6" ry="7.9" fill="#2d88bf"/>
<ellipse cx="1698.0" cy="1644.5" rx="19.9" ry="5.6" fill="#3b6399"/>
<ellipse cx="1599.7" cy="1192.9" rx="23.3" ry="5.9" fill="#3a6ea4"/>
<ellipse cx="1611.3" cy="434.2" rx="19.2" ry="10.5" fill="#27a0d0"/>
<ellipse cx="1581.0" cy="875.7" rx="21.7" ry="8.3" fill="#2893c6"/>
<ellipse cx="1708.9" cy="368.1" rx="18.1" ry="11.8" fill="#27a0d0"/>
<ellipse cx="1605.4" cy="1346.9" rx="15.3" ry="10.7" fill="#3a6ea4"/>
<ellipse cx="1623.9" cy="1703.8" rx="29.2" ry="8.3" fill="#2d88bf"/>
<ellipse cx="1631.5" cy="298.7" rx="21.6" ry="8.0" fill="#357bb2"/>
<ellipse cx="1629.3" cy="910.0" rx="16.2" ry="10.9" fill="#2d88bf"/>
<ellipse cx="1689.5" cy="1155.9" rx="13.0" ry="7.0" fill="#27a0d0"/>
<ellipse cx="1655.1" cy="733.6" rx="19.4" ry="5.5" fill="#2893c6"/>
<ellipse cx="1685.4" cy="981.9" rx="12.6" ry="6.1" fill="#3a6ea4"/>
<ellipse cx="1573.2" cy="303.6" rx="18.8" ry="7.7" fill="#357bb2"/>
<ellipse cx="1604.5" cy="1508.4" rx="25.4" ry="7.5" fill="#3b6399"/>
<ellipse cx="1666.6" cy="1170.8" rx="16.7" ry="8.2" fill="#3a6ea4"/>
<ellipse cx="1578.6" cy="953.5" rx="19.0" ry="8.1" fill="#357bb2"/>
<ellipse cx="1638.7" cy="1141.4" rx="20.2" ry="11.3" fill="#2d88bf"/>
<ellipse cx="1707.2" cy="993.8" rx="21.0" ry="9.5" fill="#27a0d0"/>
<ellipse cx="1693.8" cy="1481.6" rx="15.7" ry="8.8" fill="#3b6399"/>
<ellipse cx="1651.1" cy="310.0" rx="29.3" ry="6.8" fill="#2d88bf"/>
<ellipse cx="1682.7" cy="1661.2" rx="27.5" ry="8.5" fill="#2d88bf"/>
<ellipse cx="1574.0" cy="974.9" rx="25.9" ry="7.8" fill="#2d88bf"/>
<ellipse cx="1595.8" cy="509.1" rx="24.2" ry="8.6" fill="#2893c6"/>
<ellipse cx="1703.5" cy="1473.9" rx="21.1" ry="6.8" fill="#357bb2"/>
<ellipse cx="1588.2" cy="1478.0" rx="25.3" ry="8.7" fill="#27a0d0"/>
<ellipse cx="1586.3" cy="1001.9" rx="25.1" ry="6.4" fill="#3a6ea4"/>
<ellipse cx="1694.3" cy="651.8" rx="21.8" ry="11.8" fill="#357bb2"/>
<ellipse cx="1641.0" cy="677.6" rx="21.9" ry="5.9" fill="#2893c6"/>
<ellipse cx="1679.1" cy="937.8" rx="12.3" ry="8.9" fill="#27a0d0"/>
<ellipse cx="1702.7" cy="657.7" rx="16.1" ry="5.5" fill="#2893c6"/>
<ellipse cx="1573.8" cy="1295.6" rx="23.0" ry="7.8" fill="#2893c6"/>
<ellipse cx="1580.9" cy="1584.6" rx="17.9" ry="7.2" fill="#2d88bf"/>
<ellipse cx="1655.1" cy="1053.7" rx="19.5" ry="11.3" fill="#2d88bf"/>
<ellipse cx="1641.5" cy="1514.4" rx="22.0" ry="6.8" fill="#2893c6"/>
<ellipse cx="1702.6" cy="1179.7" rx="28.0" ry="8.4" fill="#3a6ea4"/>
<ellipse cx="1646.6" cy="409.7" rx="25.1" ry="7.9" fill="#357bb2"/>
<ellipse cx="1612.9" cy="510.9" rx="16.5" ry="7.0" fill="#2893c6"/>
<ellipse cx="1623.6" cy="1368.9" rx="12.7" ry="8.7" fill="#357bb2"/>
<ellipse cx="1582.5" cy="1399.7" rx="12.2" ry="9.3" fill="#357bb2"/>
<ellipse cx="1701.9" cy="363.9" rx="16.0" ry="5.9" fill="#2893c6"/>
<ellipse cx="1611.9" cy="902.8" rx="13.4" ry="10.5" fill="#2d88bf"/>
<ellipse cx="1658.8" cy="1007.5" rx="26.0" ry="10.0" fill="#27a0d0"/>
<ellipse cx="1613.5" cy="995.9" rx="16.9" ry="8.4" fill="#357bb2"/>
<ellipse cx="1603.8" cy="1251.8" rx="29.3" ry="7.0" fill="#2893c6"/>
<ellipse cx="1599.5" cy="994.7" rx="18.3" ry="10.6" fill="#357bb2"/>
<ellipse cx="1688.4" cy="945.9" rx="24.1" ry="6.9" fill="#357bb2"/>
<ellipse cx="1670.4" cy="422.6" rx="13.2" ry="8.7" fill="#2d88bf"/>
<ellipse cx="1690.0" cy="603.5" rx="23.4" ry="10.3" fill="#2d88bf"/>
<ellipse cx="1626.0" cy="973.4" rx="16.0" ry="7.5" fill="#3a6ea4"/>
<ellipse cx="1599.3" cy="1486.8" rx="12.2" ry="11.2" fill="#3a6ea4"/>
<ellipse cx="1635.2" cy="1337.1" rx="15.8" ry="11.6" fill="#357bb2"/>
<ellipse cx="1595.0" cy="1583.5" rx="23.9" ry="9.1" fill="#3a6ea4"/>
<ellipse cx="1648.1" cy="461.4" rx="25.1" ry="11.0" fill="#357bb2"/>
<ellipse cx="1574.2" cy="1628.2" rx="16.8" ry="9.1" fill="#2893c6"/>
<ellipse cx="1626.0" cy="366.8" rx="24.5" ry="10.9" fill="#2893c6"/>
<ellipse cx="1609.8" cy="1372.1" rx="14.7" ry="5.9" fill="#27a0d0"/>
<ellipse cx="1699.5" cy="432.5" rx="27.2" ry="11.2" fill="#2d88bf"/>
<ellipse cx="1648.1" cy="617.1" rx="16.8" ry="11.6" fill="#2893c6"/>
<ellipse cx="1631.0" cy="1591.9" rx="13.8" ry="10.2" fill="#3a6ea4"/>
<ellipse cx="1674.3" cy="937.2" rx="28.3" ry="6.9" fill="#357bb2"/>
<ellipse cx="1607.6" cy="1686.4" rx="17.3" ry="8.6" fill="#357bb2"/>
<ellipse cx="1635.7" cy="955.3" rx="14.4" ry="8.3" fill="#3a6ea4"/>
<ellipse cx="1578.4" cy="1143.6" rx="18.7" ry="11.7" fill="#357bb2"/>
<ellipse cx="1602.9" cy="505.1" rx="22.3" ry="8.7" fill="#27a0d0"/>
<ellipse cx="1699.8" cy="715.3" rx="23.4" ry="9.8" fill="#2893c6"/>
<ellipse cx="1638.2" cy="1249.1" rx="17.0" ry="11.0" fill="#357bb2"/>
<ellipse cx="1713.2" cy="1356.3" rx="24.0" ry="6.3" fill="#2893c6"/>
<ellipse cx="1579.4" cy="1536.7" rx="12.3" ry="9.2" fill="#2d88bf"/>
<ellipse cx="1651.6" cy="856.4" rx="28.4" ry="9.2" fill="#27a0d0"/>
<ellipse cx="1618.8" cy="1490.4" rx="27.9" ry="8.6" fill="#3a6ea4"/>
<ellipse cx="1645.0" cy="372.5" rx="19.7" ry="9.2" fill="#2d88bf"/>
<ellipse cx="1619.2" cy="443.4" rx="27.3" ry="6.5" fill="#2893c6"/>
<ellipse cx="1648.7" cy="1549.9" rx="21.8" ry="8.0" fill="#357bb2"/>
<ellipse cx="1635.9" cy="794.1" rx="16.9" ry="8.1" fill="#2d88bf"/>
<ellipse cx="1607.9" cy="1368.7" rx="24.2" ry="10.6" fill="#357bb2"/>
<ellipse cx="1609.1" cy="727.1" rx="21.9" ry="7.0" fill="#27a0d0"/>
<ellipse cx="1639.2" cy="316.8" rx="21.6" ry="6.6" fill="#2d88bf"/>
<ellipse cx="1607.9" cy="1262.6" rx="23.6" ry="7.5" fill="#3a6ea4"/>
<ellipse cx="1663.4" cy="1048.7" rx="27.2" ry="6.8" fill="#3a6ea4"/>
<ellipse cx="1639.1" cy="1530.4" rx="27.6" ry="11.5" fill="#3a6ea4"/>
<ellipse cx="1646.4" cy="1105.7" rx="26.0" ry="9.2" fill="#2893c6"/>
<ellipse cx="1573.0" cy="373.0" rx="25.2" ry="12.0" fill="#2d88bf"/>
<ellipse cx="1676.0" cy="1458.0" rx="29.5" ry="10.3" fill="#3a6ea4"/>
<ellipse cx="1705.1" cy="850.6" rx="29.2" ry="8.9" fill="#27a0d0"/>
<ellipse cx="1574.3" cy="1211.8" rx="21.5" ry="6.3" fill="#2d88bf"/>
<ellipse cx="1626.9" cy="289.1" rx="12.2" ry="11.3" fill="#357bb2"/>
<ellipse cx="1570.3" cy="1305.5" rx="28.9" ry="6.8" fill="#3a6ea4"/>
<ellipse cx="1586.7" cy="1076.0" rx="16.4" ry="10.1" fill="#357bb2"/>
<ellipse cx="1618.4" cy="1504.7" rx="27.9" ry="9.1" fill="#3a6ea4"/>
<ellipse cx="1688.9" cy="1465.3" rx="15.2" ry="8.8" fill="#3a6ea4"/>
<ellipse cx="1658.1" cy="763.1" rx="13.1" ry="11.7" fill="#27a0d0"/>
<ellipse cx="1615.1" cy="1389.0" rx="15.0" ry="8.6" fill="#3a6ea4"/>
<ellipse cx="1697.5" cy="462.4" rx="18.9" ry="9.0" fill="#2893c6"/>
<ellipse cx="1679.2" cy="1068.0" rx="26.4" ry="8.6" fill="#357bb2"/>
<ellipse cx="1575.6" cy="388.3" rx="15.9" ry="5.1" fill="#2893c6"/>
<ellipse cx="1578.0" cy="1689.9" rx="23.6" ry="10.7" fill="#3a6ea4"/>
<ellipse cx="1657.9" cy="624.3" rx="18.4" ry="5.1" fill="#2d88bf"/>
<ellipse cx="1643.4" cy="1522.0" rx="24.1" ry="5.7" fill="#2893c6"/>
<ellipse cx="1610.1" cy="1013.8" rx="19.4" ry="11.4" fill="#357bb2"/>
<ellipse cx="1635.1" cy="1580.0" rx="26.6" ry="8.7" fill="#3a6ea4"/>
<ellipse cx="1713.7" cy="818.7" rx="13.7" ry="10.9" fill="#27a0d0"/>
<ellipse cx="1628.7" cy="713.1" rx="27.9" ry="10.5" fill="#2d88bf"/>
<ellipse cx="1628.8" cy="1518.5" rx="25.3" ry="9.9" fill="#357bb2"/>
<ellipse cx="1645.3" cy="443.5" rx="25.6" ry="6.2" fill="#2893c6"/>
<ellipse cx="1676.1" cy="416.9" rx="17.8" ry="9.1" fill="#2d88bf"/>
<ellipse cx="1653.4" cy="1099.2" rx="23.8" ry="10.0" fill="#2893c6"/>
<ellipse cx="1574.2" cy="1668.9" rx="28.6" ry="5.8" fill="#3a6ea4"/>
<ellipse cx="1706.7" cy="493.5" rx="26.6" ry="11.5" fill="#27a0d0"/>
<ellipse cx="1602.4" cy="1171.0" rx="13.2" ry="8.3" fill="#2893c6"/>
<ellipse cx="1608.5" cy="624.3" rx="12.4" ry="8.1" fill="#2d88bf"/>
<ellipse cx="1576.5" cy="812.8" rx="18.6" ry="7.7" fill="#357bb2"/>
<ellipse cx="1572.6" cy="1486.4" rx="26.2" ry="11.2" fill="#3b6399"/>
<ellipse cx="1676.4" cy="511.3" rx="18.4" ry="5.3" fill="#27a0d0"/>
<ellipse cx="1587.2" cy="1206.5" rx="16.7" ry="8.5" fill="#357bb2"/>
<ellipse cx="1573.1" cy="1333.5" rx="26.6" ry="6.9" fill="#3a6ea4"/>
<ellipse cx="1659.4" cy="1680.2" rx="25.3" ry="11.2" fill="#3a6ea4"/>
<ellipse cx="1670.5" cy="1513.6" rx="26.0" ry="5.8" fill="#27a0d0"/>
<ellipse cx="1606.5" cy="1697.3" rx="15.4" ry="9.5" fill="#2d88bf"/>
<ellipse cx="1617.9" cy="1312.3" rx="29.1" ry="10.2" fill="#2893c6"/>
<ellipse cx="1651.1" cy="438.5" rx="19.0" ry="10.9" fill="#2893c6"/>
<ellipse cx="1644.3" cy="728.1" rx="22.1" ry="8.8" fill="#2d88bf"/>
<ellipse cx="1597.4" cy="1356.5" rx="21.7" ry="11.2" fill="#27a0d0"/>
<ellipse cx="1617.9" cy="386.9" rx="17.4" ry="7.8" fill="#357bb2"/>
<ellipse cx="1622.8" cy="810.9" rx="19.4" ry="5.5" fill="#3a6ea4"/>
<ellipse cx="1603.5" cy="1069.8" rx="20.1" ry="7.5" fill="#3a6ea4"/>
<ellipse cx="1605.3" cy="596.9" rx="21.9" ry="10.3" fill="#2d88bf"/>
<ellipse cx="1645.2" cy="1044.6" rx="24.4" ry="7.6" fill="#357bb2"/>
<ellipse cx="1572.8" cy="1587.2" rx="14.9" ry="6.0" fill="#3a6ea4"/>
<ellipse cx="1588.7" cy="818.2" rx="30.0" ry="7.6" fill="#2d88bf"/>
<ellipse cx="1578.7" cy="999.4" rx="12.7" ry="5.6" fill="#357bb2"/>
<ellipse cx="1591.6" cy="697.0" rx="27.3" ry="7.5" fill="#2893c6"/>
<ellipse cx="1592.3" cy="374.1" rx="23.2" ry="9.1" fill="#27a0d0"/>
<ellipse cx="1703.7" cy="969.1" rx="22.2" ry="7.1" fill="#357bb2"/>
<ellipse cx="1598.3" cy="1526.9" rx="23.2" ry="7.8" fill="#27a0d0"/>
<ellipse cx="1685.2" cy="1254.4" rx="15.5" ry="6.4" fill="#3a6ea4"/>
<ellipse cx="1614.9" cy="1533.3" rx="16.0" ry="9.4" fill="#357bb2"/>
<ellipse cx="1618.8" cy="751.1" rx="18.4" ry="8.4" fill="#2893c6"/>
<ellipse cx="1666.6" cy="569.1" rx="15.0" ry="6.7" fill="#2893c6"/>
<ellipse cx="1629.6" cy="490.4" rx="14.1" ry="9.1" fill="#2d88bf"/>
<ellipse cx="1598.6" cy="1609.2" rx="23.8" ry="8.4" fill="#357bb2"/>
<ellipse cx="1673.5" cy="942.5" rx="12.4" ry="5.3" fill="#2d88bf"/>
<ellipse cx="1612.1" cy="1210.5" rx="17.7" ry="6.9" fill="#2893c6"/>
<ellipse cx="1699.4" cy="1681.4" rx="25.5" ry="7.8" fill="#3a6ea4"/>
<ellipse cx="1628.3" cy="804.8" rx="19.4" ry="6.4" fill="#3a6ea4"/>
<ellipse cx="1574.4" cy="1675.0" rx="15.2" ry="11.0" fill="#3a6ea4"/>
<ellipse cx="1588.8" cy="1057.5" rx="25.6" ry="5.2" fill="#27a0d0"/>
<ellipse cx="1682.2" cy="894.8" rx="13.1" ry="7.7" fill="#2893c6"/>
<ellipse cx="1703.7" cy="658.8" rx="26.6" ry="5.7" fill="#357bb2"/>
<ellipse cx="1612.7" cy="1154.0" rx="28.6" ry="10.7" fill="#3a6ea4"/>
<ellipse cx="1668.2" cy="573.2" rx="18.3" ry="11.4" fill="#2893c6"/>
<ellipse cx="1703.4" cy="408.6" rx="13.6" ry="9.9" fill="#27a0d0"/>
<ellipse cx="1685.2" cy="520.0" rx="23.3" ry="8.2" fill="#2893c6"/>
<ellipse cx="1676.8" cy="939.6" rx="14.9" ry="7.5" fill="#27a0d0"/>
<ellipse cx="1646.7" cy="945.2" rx="12.1" ry="11.5" fill="#2d88bf"/>
<ellipse cx="1678.3" cy="1597.0" rx="24.0" ry="5.2" fill="#3a6ea4"/>
<ellipse cx="1570.4" cy="1489.5" rx="23.7" ry="11.4" fill="#3b6399"/>
<ellipse cx="1632.5" cy="1250.2" rx="14.4" ry="8.0" fill="#357bb2"/>
<ellipse cx="1595.3" cy="1021.4" rx="23.9" ry="9.0" fill="#27a0d0"/>
<ellipse cx="1582.7" cy="1175.1" rx="21.4" ry="6.9" fill="#2d88bf"/>
<ellipse cx="1599.6" cy="1662.0" rx="15.2" ry="10.0" fill="#357bb2"/>
<ellipse cx="1605.4" cy="1275.5" rx="29.0" ry="10.0" fill="#357bb2"/>
<ellipse cx="1573.6" cy="899.4" rx="15.8" ry="10.5" fill="#3a6ea4"/>
<ellipse cx="1709.3" cy="762.4" rx="15.0" ry="7.9" fill="#2893c6"/>
<ellipse cx="1642.9" cy="1593.5" rx="28.8" ry="8.0" fill="#3a6ea4"/>
<ellipse cx="1617.4" cy="701.4" rx="17.4" ry="6.1" fill="#2d88bf"/>
<ellipse cx="1638.3" cy="904.5" rx="19.7" ry="10.4" fill="#2d88bf"/>
<ellipse cx="1609.0" cy="700.1" rx="27.3" ry="11.8" fill="#2893c6"/>
<ellipse cx="1663.0" cy="625.8" rx="22.3" ry="5.0" fill="#2d88bf"/>
<ellipse cx="1690.2" cy="684.9" rx="20.6" ry="6.2" fill="#2893c6"/>
<ellipse cx="1596.0" cy="576.1" rx="24.5" ry="11.9" fill="#27a0d0"/>
<ellipse cx="1612.1" cy="1282.5" rx="19.9" ry="9.5" fill="#357bb2"/>
<ellipse cx="1666.2" cy="436.5" rx="24.2" ry="5.2" fill="#27a0d0"/>
<ellipse cx="1623.9" cy="722.0" rx="26.3" ry="8.8" fill="#27a0d0"/>
<ellipse cx="1711.9" cy="1205.5" rx="24.7" ry="7.3" fill="#2893c6"/>
<ellipse cx="1710.6" cy="1200.1" rx="26.9" ry="10.0" fill="#2d88bf"/>
<ellipse cx="1585.8" cy="941.9" rx="25.1" ry="11.0" fill="#2d88bf"/>
<ellipse cx="1600.1" cy="912.0" rx="12.3" ry="6.1" fill="#3a6ea4"/>
<ellipse cx="1696.6" cy="657.9" rx="30.0" ry="11.8" fill="#2d88bf"/>
<ellipse cx="1590.8" cy="1332.1" rx="14.0" ry="5.2" fill="#357bb2"/>
<ellipse cx="1685.6" cy="586.7" rx="25.8" ry="9.4" fill="#357bb2"/>
<ellipse cx="1572.5" cy="1554.8" rx="21.3" ry="10.4" fill="#2d88bf"/>
<ellipse cx="1589.6" cy="1523.0" rx="15.7" ry="5.4" fill="#27a0d0"/>
<ellipse cx="1640.8" cy="563.1" rx="19.6" ry="11.3" fill="#27a0d0"/>
<ellipse cx="1706.9" cy="1121.1" rx="15.4" ry="10.5" fill="#357bb2"/>
<ellipse cx="1602.6" cy="1161.2" rx="27.2" ry="8.3" fill="#3a6ea4"/>
<ellipse cx="1653.8" cy="1022.3" rx="25.3" ry="11.3" fill="#2d88bf"/>
<ellipse cx="1701.5" cy="654.9" rx="18.5" ry="7.9" fill="#2d88bf"/>
<ellipse cx="1664.9" cy="535.7" rx="29.8" ry="7.8" fill="#2893c6"/>
<ellipse cx="1634.8" cy="685.7" rx="27.3" ry="8.8" fill="#27a0d0"/>
<ellipse cx="1660.1" cy="525.3" rx="17.9" ry="10.5" fill="#357bb2"/>
<ellipse cx="1687.5" cy="300.2" rx="18.6" ry="10.9" fill="#2d88bf"/>
<ellipse cx="1596.0" cy="866.2" rx="27.9" ry="7.7" fill="#357bb2"/>
<ellipse cx="1571.2" cy="304.4" rx="22.1" ry="8.2" fill="#2893c6"/>
<ellipse cx="1694.4" cy="1637.7" rx="14.9" ry="6.8" fill="#2d88bf"/>
<ellipse cx="1604.4" cy="487.9" rx="15.4" ry="7.0" fill="#2893c6"/>
<ellipse cx="1691.7" cy="1316.3" rx="21.5" ry="6.1" fill="#27a0d0"/>
<ellipse cx="1635.1" cy="902.3" rx="14.4" ry="11.9" fill="#357bb2"/>
<ellipse cx="1611.5" cy="332.6" rx="20.7" ry="8.2" fill="#27a0d0"/>
<ellipse cx="1613.2" cy="1048.5" rx="27.7" ry="12.0" fill="#357bb2"/>
<ellipse cx="1699.1" cy="556.0" rx="20.9" ry="11.2" fill="#2893c6"/>
<ellipse cx="1663.2" cy="349.1" rx="29.3" ry="9.2" fill="#2d88bf"/>
<ellipse cx="1641.4" cy="1323.1" rx="17.2" ry="8.4" fill="#357bb2"/>
<ellipse cx="1664.0" cy="919.3" rx="24.2" ry="8.9" fill="#2d88bf"/>
<ellipse cx="1608.2" cy="976.4" rx="18.4" ry="8.6" fill="#2d88bf"/>
<ellipse cx="1678.1" cy="1514.6" rx="13.2" ry="5.8" fill="#2d88bf"/>
<ellipse cx="1698.7" cy="1528.2" rx="20.0" ry="7.1" fill="#3a6ea4"/>
<ellipse cx="1596.8" cy="1605.7" rx="27.1" ry="9.9" fill="#3a6ea4"/>
<ellipse cx="1706.2" cy="951.7" rx="28.7" ry="7.6" fill="#2893c6"/>
<ellipse cx="1669.8" cy="517.6" rx="24.3" ry="5.6" fill="#2893c6"/>
<ellipse cx="1665.7" cy="727.5" rx="24.0" ry="9.3" fill="#2893c6"/>
<ellipse cx="1700.5" cy="955.7" rx="18.7" ry="10.4" fill="#2893c6"/>
<ellipse cx="1602.5" cy="1445.1" rx="28.7" ry="11.8" fill="#3a6ea4"/>
<ellipse cx="1615.3" cy="618.7" rx="17.7" ry="6.9" fill="#2d88bf"/>
<ellipse cx="1614.5" cy="711.1" rx="22.1" ry="7.6" fill="#2d88bf"/>
<ellipse cx="1642.0" cy="1709.0" rx="26.0" ry="11.0" fill="#2d88bf"/>
<ellipse cx="1698.8" cy="1540.9" rx="13.0" ry="5.4" fill="#2893c6"/>
<ellipse cx="1669.1" cy="1679.9" rx="18.5" ry="6.3" fill="#3a6ea4"/>
<ellipse cx="1601.7" cy="1047.4" rx="14.6" ry="6.7" fill="#2d88bf"/>
<ellipse cx="1629.3" cy="1109.7" rx="23.8" ry="5.9" fill="#2d88bf"/>
<ellipse cx="1613.0" cy="609.9" rx="19.5" ry="5.4" fill="#357bb2"/>
<ellipse cx="1576.4" cy="459.4" rx="12.1" ry="8.7" fill="#2d88bf"/>
<ellipse cx="1651.2" cy="964.6" rx="23.8" ry="10.2" fill="#2d88bf"/>
<ellipse cx="1676.6" cy="431.6" rx="12.4" ry="5.8" fill="#2d88bf"/>
<ellipse cx="1617.0" cy="1068.9" rx="12.0" ry="7.5" fill="#2d88bf"/>
<ellipse cx="1649.2" cy="993.1" rx="25.5" ry="9.1" fill="#357bb2"/>
<ellipse cx="1620.5" cy="741.7" rx="19.4" ry="9.9" fill="#2d88bf"/>
<ellipse cx="1653.8" cy="735.2" rx="23.9" ry="7.1" fill="#2893c6"/>
<ellipse cx="1639.2" cy="1375.4" rx="22.5" ry="10.7" fill="#27a0d0"/>
<ellipse cx="1626.2" cy="1591.2" rx="23.7" ry="5.2" fill="#357bb2"/>
<ellipse cx="1711.5" cy="1016.7" rx="22.1" ry="9.7" fill="#2893c6"/>
<ellipse cx="1601.3" cy="1695.3" rx="19.0" ry="7.5" fill="#357bb2"/>
<ellipse cx="1639.6" cy="396.2" rx="29.1" ry="8.9" fill="#357bb2"/>
<ellipse cx="1626.0" cy="1122.8" rx="26.6" ry="8.2" fill="#357bb2"/>
<ellipse cx="1593.4" cy="1268.9" rx="24.7" ry="11.9" fill="#3a6ea4"/>
<ellipse cx="1665.8" cy="272.8" rx="28.0" ry="9.8" fill="#27a0d0"/>
<ellipse cx="1695.2" cy="854.1" rx="16.4" ry="10.8" fill="#3a6ea4"/>
<ellipse cx="1579.9" cy="1177.3" rx="22.1" ry="11.4" fill="#357bb2"/>
<ellipse cx="1697.0" cy="1431.6" rx="24.9" ry="8.1" fill="#3a6ea4"/>
<ellipse cx="1656.7" cy="904.6" rx="18.1" ry="10.6" fill="#357bb2"/>
<ellipse cx="1672.1" cy="1012.9" rx="27.1" ry="10.7" fill="#27a0d0"/>
<ellipse cx="1576.9" cy="1282.3" rx="27.4" ry="6.2" fill="#357bb2"/>
<ellipse cx="1604.3" cy="881.6" rx="14.3" ry="7.7" fill="#2893c6"/>
<ellipse cx="1645.9" cy="873.1" rx="24.7" ry="11.5" fill="#3a6ea4"/>
<ellipse cx="1613.2" cy="435.5" rx="16.5" ry="8.4" fill="#2893c6"/>
<ellipse cx="1572.0" cy="1533.4" rx="19.2" ry="7.5" fill="#27a0d0"/>
<ellipse cx="1709.4" cy="274.1" rx="23.7" ry="6.6" fill="#2893c6"/>
<ellipse cx="1665.3" cy="817.9" rx="27.5" ry="7.4" fill="#2893c6"/>
<ellipse cx="1595.1" cy="747.4" rx="24.6" ry="5.9" fill="#2893c6"/>
<ellipse cx="1577.8" cy="1187.3" rx="21.3" ry="6.1" fill="#3a6ea4"/>
<ellipse cx="1688.5" cy="1200.0" rx="25.9" ry="6.2" fill="#3a6ea4"/>
<ellipse cx="1706.4" cy="1439.6" rx="22.3" ry="9.7" fill="#2893c6"/>
<ellipse cx="1610.5" cy="905.5" rx="29.7" ry="5.9" fill="#3a6ea4"/>
<ellipse cx="1661.3" cy="327.3" rx="23.3" ry="11.5" fill="#357bb2"/>
<ellipse cx="1609.2" cy="1059.8" rx="16.9" ry="6.5" fill="#3a6ea4"/>
<ellipse cx="1574.8" cy="1069.6" rx="22.2" ry="7.4" fill="#357bb2"/>
<ellipse cx="1608.8" cy="365.8" rx="13.3" ry="7.0" fill="#27a0d0"/>
<ellipse cx="1594.2" cy="689.5" rx="21.0" ry="5.2" fill="#357bb2"/>
<ellipse cx="1653.4" cy="408.4" rx="24.0" ry="9.7" fill="#2893c6"/>
<ellipse cx="1657.7" cy="869.1" rx="22.6" ry="10.0" fill="#3a6ea4"/>
<ellipse cx="1581.0" cy="1072.8" rx="27.0" ry="8.7" fill="#3a6ea4"/>
<ellipse cx="1706.4" cy="992.9" rx="19.5" ry="8.3" fill="#2893c6"/>
<ellipse cx="1695.8" cy="467.3" rx="29.9" ry="6.6" fill="#357bb2"/>
<ellipse cx="1649.4" cy="1079.5" rx="15.8" ry="7.0" fill="#3a6ea4"/>
<ellipse cx="1601.5" cy="307.2" rx="15.7" ry="10.7" fill="#27a0d0"/>
<ellipse cx="1610.5" cy="797.5" rx="29.4" ry="8.7" fill="#27a0d0"/>
<ellipse cx="1672.9" cy="1195.1" rx="22.8" ry="5.2" fill="#2893c6"/>
<ellipse cx="1625.1" cy="511.4" rx="29.7" ry="11.8" fill="#27a0d0"/>
<ellipse cx="1592.6" cy="1485.5" rx="27.8" ry="10.8" fill="#3a6ea4"/>
<ellipse cx="1583.4" cy="1565.0" rx="15.1" ry="10.6" fill="#2d88bf"/>
<ellipse cx="1713.0" cy="367.5" rx="18.6" ry="10.5" fill="#27a0d0"/>
<ellipse cx="1629.4" cy="371.8" rx="19.7" ry="6.7" fill="#2d88bf"/>
<ellipse cx="1602.0" cy="1308.2" rx="25.4" ry="9.2" fill="#2893c6"/>
<ellipse cx="1630.0" cy="710.8" rx="23.0" ry="11.6" fill="#2893c6"/>
<ellipse cx="1710.1" cy="1549.8" rx="23.7" ry="6.1" fill="#3a6ea4"/>
<ellipse cx="1577.5" cy="400.0" rx="12.9" ry="9.7" fill="#2893c6"/>
<ellipse cx="1682.9" cy="1580.8" rx="17.0" ry="6.8" fill="#3a6ea4"/>
<ellipse cx="1625.9" cy="1171.4" rx="26.4" ry="7.1" fill="#2893c6"/>
<ellipse cx="1571.1" cy="1298.7" rx="14.8" ry="9.1" fill="#2893c6"/>
<ellipse cx="1669.4" cy="1639.8" rx="27.3" ry="8.0" fill="#3a6ea4"/>
<ellipse cx="1684.7" cy="1690.5" rx="26.1" ry="7.1" fill="#27a0d0"/>
<ellipse cx="1685.9" cy="1584.3" rx="24.6" ry="11.9" fill="#357bb2"/>
<ellipse cx="1685.3" cy="1606.6" rx="14.0" ry="8.5" fill="#2893c6"/>
<ellipse cx="1639.9" cy="472.5" rx="28.5" ry="6.3" fill="#2893c6"/>
<ellipse cx="1656.5" cy="757.6" rx="18.9" ry="7.7" fill="#27a0d0"/>
<ellipse cx="1681.3" cy="756.9" rx="21.2" ry="9.4" fill="#27a0d0"/>
<ellipse cx="1712.0" cy="919.9" rx="21.3" ry="11.4" fill="#3a6ea4"/>
<ellipse cx="1687.8" cy="826.0" rx="16.8" ry="7.7" fill="#27a0d0"/>
<ellipse cx="1647.6" cy="771.9" rx="19.1" ry="6.1" fill="#2d88bf"/>
<ellipse cx="1703.3" cy="1137.0" rx="20.5" ry="11.8" fill="#27a0d0"/>
<ellipse cx="1627.7" cy="1360.2" rx="21.7" ry="7.3" fill="#357bb2"/>
<ellipse cx="1659.3" cy="1342.6" rx="24.1" ry="8.4" fill="#2893c6"/>
<ellipse cx="1591.6" cy="300.9" rx="20.1" ry="9.4" fill="#2893c6"/>
<ellipse cx="1688.0" cy="1562.6" rx="15.3" ry="11.9" fill="#357bb2"/>
<path d="M1567.0,800.0 L1590.0,805.0 L1605.0,830.0 L1612.0,870.0 L1608.0,910.0 L1625.0,950.0 L1650.0,985.0 L1650.0,1000.0 L1567.0,1000.0Z" fill="#3a6aa0" />
<ellipse cx="1570.9" cy="917.0" rx="11.5" ry="4.9" fill="#357bb2"/>
<ellipse cx="1621.2" cy="816.3" rx="12.0" ry="3.8" fill="#357bb2"/>
<ellipse cx="1629.8" cy="838.1" rx="8.5" ry="4.7" fill="#357bb2"/>
<ellipse cx="1625.2" cy="896.3" rx="8.7" ry="6.8" fill="#357bb2"/>
<ellipse cx="1573.9" cy="987.9" rx="8.6" ry="4.5" fill="#3b6399"/>
<ellipse cx="1597.0" cy="957.6" rx="7.2" ry="6.3" fill="#357bb2"/>
<ellipse cx="1634.1" cy="898.6" rx="11.8" ry="3.3" fill="#3d5a8d"/>
<ellipse cx="1622.3" cy="856.8" rx="14.4" ry="3.6" fill="#3d5a8d"/>
<ellipse cx="1626.9" cy="967.9" rx="14.6" ry="3.5" fill="#357bb2"/>
<ellipse cx="1602.4" cy="852.5" rx="6.8" ry="4.7" fill="#3b6399"/>
<ellipse cx="1604.9" cy="935.4" rx="8.6" ry="3.8" fill="#3d5a8d"/>
<ellipse cx="1591.9" cy="926.4" rx="8.7" ry="3.2" fill="#357bb2"/>
<ellipse cx="1635.1" cy="871.7" rx="7.9" ry="3.2" fill="#357bb2"/>
<ellipse cx="1587.6" cy="959.1" rx="9.2" ry="5.1" fill="#3a6ea4"/>
<ellipse cx="1598.8" cy="964.9" rx="7.9" ry="3.2" fill="#3d5a8d"/>
<ellipse cx="1615.4" cy="940.5" rx="12.9" ry="5.9" fill="#3a6ea4"/>
<ellipse cx="1612.2" cy="820.4" rx="15.0" ry="5.8" fill="#3a6ea4"/>
<ellipse cx="1638.2" cy="898.6" rx="13.6" ry="5.5" fill="#3b6399"/>
<ellipse cx="1580.4" cy="920.0" rx="12.5" ry="6.9" fill="#357bb2"/>
<ellipse cx="1616.2" cy="987.2" rx="14.5" ry="5.3" fill="#3d5a8d"/>
<ellipse cx="1636.1" cy="974.4" rx="14.3" ry="3.9" fill="#357bb2"/>
<ellipse cx="1598.9" cy="940.3" rx="9.4" ry="5.4" fill="#3a6ea4"/>
<ellipse cx="1571.9" cy="975.2" rx="7.1" ry="6.5" fill="#3a6ea4"/>
<ellipse cx="1569.1" cy="917.5" rx="16.0" ry="6.4" fill="#3b6399"/>
<ellipse cx="1583.2" cy="894.1" rx="6.9" ry="5.7" fill="#3b6399"/>
<ellipse cx="1630.5" cy="972.9" rx="15.4" ry="5.4" fill="#357bb2"/>
<ellipse cx="1632.0" cy="852.4" rx="9.8" ry="3.1" fill="#3d5a8d"/>
<ellipse cx="1599.4" cy="825.7" rx="14.2" ry="4.3" fill="#3a6ea4"/>
<ellipse cx="1605.2" cy="874.8" rx="13.1" ry="7.0" fill="#3b6399"/>
<ellipse cx="1613.6" cy="821.6" rx="7.4" ry="4.9" fill="#357bb2"/>
<ellipse cx="1583.9" cy="850.2" rx="11.1" ry="6.9" fill="#3d5a8d"/>
<ellipse cx="1584.7" cy="930.5" rx="8.9" ry="4.4" fill="#357bb2"/>
<ellipse cx="1596.1" cy="999.0" rx="15.0" ry="6.1" fill="#3d5a8d"/>
<ellipse cx="1574.2" cy="967.5" rx="8.4" ry="3.9" fill="#3b6399"/>
<ellipse cx="1624.2" cy="873.2" rx="8.6" ry="6.4" fill="#3a6ea4"/>
<ellipse cx="1574.8" cy="912.6" rx="13.7" ry="4.3" fill="#3d5a8d"/>
<ellipse cx="1624.3" cy="959.9" rx="13.9" ry="5.3" fill="#3b6399"/>
<ellipse cx="1613.5" cy="874.6" rx="15.0" ry="4.9" fill="#357bb2"/>
<ellipse cx="1581.1" cy="881.4" rx="12.3" ry="6.6" fill="#3b6399"/>
<ellipse cx="1631.8" cy="859.9" rx="10.2" ry="5.1" fill="#3d5a8d"/>
<ellipse cx="1571.0" cy="818.0" rx="4.0" ry="2.5" fill="#4ad832"/>
<ellipse cx="1575.0" cy="834.0" rx="4.0" ry="2.5" fill="#4ad832"/>
<ellipse cx="1572.0" cy="850.0" rx="4.0" ry="2.5" fill="#4ad832"/>
<ellipse cx="1590.0" cy="832.0" rx="4.0" ry="2.5" fill="#4ad832"/>
<ellipse cx="1580.0" cy="870.0" rx="4.0" ry="2.5" fill="#4ad832"/>
<ellipse cx="1571.0" cy="1005.0" rx="4.0" ry="2.5" fill="#4ad832"/>
<ellipse cx="1573.0" cy="1020.0" rx="4.0" ry="2.5" fill="#4ad832"/>
<rect x="1618" y="915" width="3" height="1" fill="#1a1a1a"/>
<rect x="1604" y="855" width="4" height="2" fill="#1a1a1a"/>
<rect x="1571" y="850" width="5" height="3" fill="#1a1a1a"/>
<rect x="1624" y="877" width="3" height="3" fill="#1a1a1a"/>
<rect x="1625" y="944" width="2" height="2" fill="#1a1a1a"/>
<rect x="1639" y="853" width="3" height="1" fill="#1a1a1a"/>
<rect x="1607" y="876" width="4" height="1" fill="#1a1a1a"/>
<rect x="1571" y="922" width="4" height="1" fill="#1a1a1a"/>
<rect x="1585" y="963" width="5" height="2" fill="#1a1a1a"/>
<rect x="1608" y="879" width="5" height="2" fill="#1a1a1a"/>
<rect x="1595" y="930" width="4" height="2" fill="#1a1a1a"/>
<rect x="1623" y="972" width="5" height="2" fill="#1a1a1a"/>
<rect x="1624" y="897" width="3" height="1" fill="#1a1a1a"/>
<rect x="1591" y="835" width="5" height="2" fill="#1a1a1a"/>
<rect x="1607" y="985" width="5" height="2" fill="#1a1a1a"/>
<rect x="1583" y="837" width="4" height="3" fill="#1a1a1a"/>
<rect x="1639" y="991" width="3" height="1" fill="#1a1a1a"/>
<rect x="1575" y="895" width="4" height="2" fill="#1a1a1a"/>
<rect x="1581" y="877" width="5" height="1" fill="#1a1a1a"/>
<rect x="1628" y="893" width="3" height="3" fill="#1a1a1a"/>
<rect x="1630" y="983" width="6" height="2" fill="#1a1a1a"/>
<rect x="1603" y="886" width="5" height="2" fill="#1a1a1a"/>
<rect x="1590" y="836" width="5" height="1" fill="#1a1a1a"/>
<rect x="1605" y="891" width="5" height="2" fill="#1a1a1a"/>
<rect x="1630" y="982" width="2" height="3" fill="#1a1a1a"/>
<path d="M1565.0,219.0 L1612.0,219.0 L1612.0,266.0 L1598.0,291.0 L1592.0,323.0 L1588.0,400.0 L1580.0,541.0 L1576.0,643.0 L1572.0,723.0 L1568.0,784.0 L1567.0,800.0 L1565.0,800.0Z" fill="#1a1a1a" />
<path d="M1612.0,219.0 L1716.0,219.0 L1716.0,280.0 L1700.0,273.0 L1677.0,265.0 L1645.0,263.0 L1612.0,266.0Z" fill="#1a1a1a" />
<path d="M1565.0,1400.0 L1567.0,1400.0 L1578.0,1409.0 L1584.5,1511.0 L1590.6,1593.0 L1596.0,1675.0 L1598.0,1713.0 L1620.0,1718.0 L1645.0,1717.0 L1668.0,1712.0 L1690.0,1713.0 L1716.0,1711.0 L1716.0,1760.0 L1565.0,1760.0Z" fill="#1a1a1a" />
<ellipse cx="1617.5" cy="345.5" rx="19.0" ry="6.5" fill="#4ad832"/>
<ellipse cx="1653.0" cy="353.5" rx="24.0" ry="12.0" fill="#40bb28"/>
<ellipse cx="1695.0" cy="354.5" rx="18.0" ry="5.5" fill="#4ad832"/>
<ellipse cx="1650.0" cy="376.5" rx="23.0" ry="5.5" fill="#4ad832"/>
<ellipse cx="1684.0" cy="392.0" rx="21.0" ry="9.0" fill="#4ad832"/>
<ellipse cx="1684.0" cy="396.0" rx="14.0" ry="5.0" fill="#40bb28"/>
<ellipse cx="1613.0" cy="585.0" rx="13.0" ry="3.5" fill="#4ad832"/>
<ellipse cx="1695.0" cy="635.5" rx="18.0" ry="7.0" fill="#40bb28"/>
<path d="M1622.0,1421.0 L1648.0,1418.0 L1648.0,1470.0 L1642.0,1511.0 L1645.0,1552.0 L1654.0,1600.0 L1660.0,1634.0 L1666.0,1716.0 L1640.0,1718.0 L1637.0,1634.0 L1625.0,1590.0 L1621.0,1552.0 L1621.0,1511.0 L1627.0,1470.0Z" fill="#1a1a1a" />
<path fill="#1a1a1a" d="M1697 1032l16 1v4l-16 -1zM1686 986l20 2v4l-20 -2zM1678 929l24 2v4l-24 -2zM1701 1004l12 2v2l-12 -2zM1703 1174l7 0v3l-7 -0zM1678 1127l21 2v2l-21 -2zM1707 1391l7 -3v3l-7 3zM1629 967l15 0v4l-15 -0zM1689 974l24 2v5l-24 -2zM1701 1021l16 2v4l-16 -2zM1696 1101l16 -1v2l-16 1zM1700 1393l21 -0v2l-21 0zM1636 1060l26 2v5l-26 -2zM1669 1194l6 2v3l-6 -2zM1633 919l8 -0v3l-8 0zM1655 1042l23 -2v2l-23 2zM1678 927l17 3v3l-17 -3zM1698 1260l16 2v3l-16 -2zM1684 965l11 -2v3l-11 2zM1688 1202l7 -2v2l-7 2zM1669 959l21 -2v4l-21 2zM1673 1138l16 2v4l-16 -2zM1689 1009l11 2v5l-11 -2zM1663 1358l27 3v4l-27 -3zM1705 1147l17 -1v4l-17 1zM1634 953l21 -1v2l-21 1zM1705 1187l6 1v4l-6 -1zM1690 1225l24 -2v3l-24 2zM1640 1165l7 -3v4l-7 3zM1634 1135l19 -3v5l-19 3zM1633 1111l7 -3v2l-7 3zM1693 1296l24 1v5l-24 -1zM1654 1239l28 1v3l-28 -1zM1685 1001l16 2v4l-16 -2zM1679 1071l18 -1v5l-18 1zM1700 1235l18 1v3l-18 -1zM1611 1018l12 -1v4l-12 1zM1625 1227l9 2v4l-9 -2zM1692 1018l9 2v4l-9 -2zM1684 1170l15 -2v3l-15 2zM1707 1246l5 -0v3l-5 0zM1680 1168l19 2v4l-19 -2zM1689 1304l16 2v5l-16 -2zM1654 1102l25 2v3l-25 -2zM1626 927l15 1v5l-15 -1zM1656 925l7 3v3l-7 -3zM1643 1234l13 -0v2l-13 0zM1662 1154l12 -2v3l-12 2zM1653 1122l17 -2v3l-17 2zM1703 1225l6 -0v5l-6 0zM1704 1211l6 -0v4l-6 0zM1701 1050l17 0v5l-17 -0zM1641 1166l6 0v4l-6 -0zM1667 1317l11 -3v5l-11 3zM1682 1180l20 -0v4l-20 0zM1692 1034l18 -1v3l-18 1zM1673 1114l8 -1v3l-8 1zM1694 1300l22 -0v3l-22 0zM1686 1290l7 1v3l-7 -1zM1668 1151l23 -2v3l-23 2zM1662 1077l27 -1v3l-27 1zM1676 1006l24 -3v2l-24 3zM1696 1092l16 -1v2l-16 1zM1682 1371l7 -0v5l-7 0zM1641 981l9 3v4l-9 -3zM1625 1359l26 1v2l-26 -1zM1696 922l14 -2v4l-14 2zM1662 918l20 -0v5l-20 0zM1688 1245l23 1v2l-23 -1zM1649 1126l14 -2v4l-14 2zM1664 1361l10 2v4l-10 -2zM1626 1179l21 1v2l-21 -1zM1699 928l12 -1v2l-12 1zM1703 978l21 2v4l-21 -2zM1664 1308l23 -1v3l-23 1zM1682 1108l6 1v3l-6 -1zM1694 1105l9 2v5l-9 -2zM1693 1089l26 1v4l-26 -1zM1668 989l8 -3v2l-8 3zM1691 915l23 -1v4l-23 1zM1676 1058l26 -1v4l-26 1zM1692 1137l14 1v3l-14 -1zM1688 1244l12 2v4l-12 -2zM1710 1396l7 -2v4l-7 2zM1698 1124l15 -1v5l-15 1zM1699 929l21 -2v3l-21 2zM1642 1013l16 1v3l-16 -1zM1649 1081l14 1v4l-14 -1zM1700 1316l18 -2v2l-18 2zM1644 1105l27 3v2l-27 -3zM1707 1218l5 -2v4l-5 2zM1697 1162l12 -1v2l-12 1zM1654 1138l27 2v3l-27 -2zM1700 1166l6 1v5l-6 -1zM1697 1195l25 -2v2l-25 2zM1706 1079l11 2v3l-11 -2zM1673 1076l13 -3v5l-13 3zM1670 1118l15 -2v4l-15 2zM1646 1317l8 -2v4l-8 2zM1709 1186l9 -1v5l-9 1zM1648 1233l9 -1v4l-9 1zM1698 1226l26 2v4l-26 -2zM1619 1152l16 -1v2l-16 1zM1696 1146l5 0v2l-5 -0zM1689 999l12 -1v2l-12 1zM1697 920l19 -2v2l-19 2zM1678 1086l27 1v3l-27 -1zM1684 1234l20 -0v3l-20 0zM1703 1230l7 -0v2l-7 0zM1697 959l15 -2v4l-15 2zM1671 1242l17 0v2l-17 -0zM1698 998l27 0v4l-27 -0zM1687 1019l13 2v3l-13 -2zM1695 1060l15 -1v3l-15 1zM1674 1002l18 2v3l-18 -2zM1634 932l21 -2v3l-21 2z"/>
<rect x="1690" y="1030" width="24" height="40" rx="3" fill="#1a1a1a"/>
<rect x="1700" y="1075" width="16" height="50" rx="3" fill="#1a1a1a"/>
<rect x="1695" y="1140" width="20" height="18" rx="3" fill="#1a1a1a"/>
<rect x="1703" y="1260" width="12" height="60" rx="3" fill="#1a1a1a"/>
<rect x="1690" y="1300" width="14" height="30" rx="3" fill="#1a1a1a"/>
<rect x="1700" y="1345" width="14" height="35" rx="3" fill="#1a1a1a"/>
<rect x="1660" y="1000" width="20" height="8" rx="3" fill="#1a1a1a"/>
<rect x="1640" y="1060" width="30" height="6" rx="3" fill="#1a1a1a"/>
<rect x="1650" y="1150" width="40" height="5" rx="3" fill="#1a1a1a"/>
<rect x="1636" y="1343" width="7" height="4" fill="#1a1a1a"/>
<rect x="1600" y="1092" width="18" height="2" fill="#1a1a1a"/>
<rect x="1697" y="1084" width="11" height="3" fill="#1a1a1a"/>
<rect x="1673" y="1329" width="8" height="3" fill="#1a1a1a"/>
<rect x="1655" y="1474" width="13" height="4" fill="#1a1a1a"/>
<rect x="1690" y="1352" width="18" height="3" fill="#1a1a1a"/>
<rect x="1682" y="1051" width="9" height="2" fill="#1a1a1a"/>
<rect x="1696" y="1090" width="13" height="3" fill="#1a1a1a"/>
<rect x="1631" y="1069" width="12" height="3" fill="#1a1a1a"/>
<rect x="1659" y="1352" width="18" height="4" fill="#1a1a1a"/>
<rect x="1661" y="1092" width="11" height="3" fill="#1a1a1a"/>
<rect x="1679" y="1065" width="13" height="3" fill="#1a1a1a"/>
<rect x="1700" y="1091" width="14" height="3" fill="#1a1a1a"/>
<rect x="1667" y="1012" width="17" height="3" fill="#1a1a1a"/>
<rect x="1644" y="1309" width="19" height="4" fill="#1a1a1a"/>
<rect x="1659" y="1046" width="8" height="3" fill="#1a1a1a"/>
<rect x="1696" y="1010" width="17" height="3" fill="#1a1a1a"/>
<rect x="1686" y="1243" width="19" height="3" fill="#1a1a1a"/>
<rect x="1618" y="1190" width="14" height="2" fill="#1a1a1a"/>
<rect x="1672" y="1437" width="6" height="5" fill="#1a1a1a"/>
<rect x="1638" y="1301" width="19" height="4" fill="#1a1a1a"/>
<rect x="1705" y="1384" width="18" height="4" fill="#1a1a1a"/>
<rect x="1657" y="1122" width="15" height="5" fill="#1a1a1a"/>
<rect x="1606" y="1419" width="12" height="3" fill="#1a1a1a"/>
<rect x="1611" y="1391" width="12" height="2" fill="#1a1a1a"/>
<rect x="1627" y="1024" width="10" height="2" fill="#1a1a1a"/>
<rect x="1647" y="1041" width="6" height="4" fill="#1a1a1a"/>
<rect x="1705" y="1375" width="8" height="5" fill="#1a1a1a"/>
<rect x="1694" y="1493" width="11" height="4" fill="#1a1a1a"/>
<rect x="1668" y="1517" width="19" height="3" fill="#1a1a1a"/>
<rect x="1642" y="851" width="8" height="2" fill="#1a1a1a"/>
<rect x="1704" y="678" width="8" height="4" fill="#1a1a1a"/>
<rect x="1710" y="746" width="7" height="2" fill="#1a1a1a"/>
<rect x="1691" y="977" width="10" height="2" fill="#1a1a1a"/>
<rect x="1649" y="988" width="10" height="3" fill="#1a1a1a"/>
<rect x="1695" y="795" width="7" height="4" fill="#1a1a1a"/>
<rect x="1672" y="782" width="5" height="3" fill="#1a1a1a"/>
<rect x="1682" y="727" width="4" height="2" fill="#1a1a1a"/>
<rect x="1649" y="700" width="6" height="4" fill="#1a1a1a"/>
<rect x="1668" y="880" width="6" height="3" fill="#1a1a1a"/>
<path d="M1567.0,1195.0 L1590.0,1195.0 L1600.0,1215.0 L1598.0,1250.0 L1612.0,1255.0 L1616.0,1300.0 L1614.0,1400.0 L1600.0,1412.0 L1578.0,1412.0 L1572.0,1330.0 L1567.0,1300.0Z" fill="#40bb28" />
<path d="M1575.0,1330.0 L1605.0,1330.0 L1612.0,1380.0 L1605.0,1405.0 L1580.0,1405.0Z" fill="#309420" />
<path d="M1578.0,1400.0 L1615.0,1400.0 L1615.0,1413.0 L1580.0,1414.0Z" fill="#4ad832" />
<ellipse cx="1575.0" cy="1105.0" rx="5.0" ry="5.0" fill="#4ad832"/>
<ellipse cx="1574.0" cy="1137.0" rx="4.0" ry="3.0" fill="#e0dd3a"/>
<ellipse cx="1576.0" cy="1170.0" rx="8.0" ry="10.0" fill="#40bb28"/>
<ellipse cx="1575.0" cy="1174.0" rx="4.0" ry="4.0" fill="#e0dd3a"/>
<ellipse cx="1577.0" cy="1207.0" rx="7.0" ry="6.0" fill="#e0dd3a"/>
<ellipse cx="1579.0" cy="1228.0" rx="8.0" ry="6.0" fill="#e0dd3a"/>
<ellipse cx="1578.0" cy="1245.0" rx="7.0" ry="4.0" fill="#e0dd3a"/>
<ellipse cx="1589.0" cy="1271.0" rx="11.0" ry="4.0" fill="#e0dd3a"/>
<ellipse cx="1590.0" cy="1295.0" rx="12.0" ry="5.0" fill="#e0dd3a"/>
<ellipse cx="1587.0" cy="1320.0" rx="11.0" ry="5.0" fill="#e0dd3a"/>
<ellipse cx="1584.0" cy="1430.0" rx="6.0" ry="4.0" fill="#4ad832"/>
<ellipse cx="1600.0" cy="1260.0" rx="10.0" ry="6.0" fill="#4ad832"/>
</g>
<line x1="20" y1="114.6" x2="1564" y2="114.6" stroke="#fff" stroke-width="1.2"/>
<line x1="20" y1="166.8" x2="1564" y2="166.8" stroke="#fff" stroke-width="1.2"/>
<line x1="1616.6" y1="219" x2="1616.6" y2="1757" stroke="#fff" stroke-width="1.2"/>
<line x1="1666.4" y1="219" x2="1666.4" y2="1757" stroke="#fff" stroke-width="1.2"/>
<text x="20" y="86.1" font-family="DejaVu Sans" font-size="22.5" fill="#fff">15 km</text>
<text x="20" y="138" font-family="DejaVu Sans" font-size="22.5" fill="#fff">10 km</text>
<text x="20" y="188.3" font-family="DejaVu Sans" font-size="22.5" fill="#fff">5 km</text>
<text transform="translate(1594,219.5) rotate(90)" x="0" y="0" font-family="DejaVu Sans" font-size="22.5" fill="#fff">5 km</text>
<text transform="translate(1644,219.5) rotate(90)" x="0" y="0" font-family="DejaVu Sans" font-size="22.5" fill="#fff">10 km</text>
<text transform="translate(1694,219.5) rotate(90)" x="0" y="0" font-family="DejaVu Sans" font-size="22.5" fill="#fff">15 km</text>
<rect x="19.5" y="62.5" width="1545" height="155.5" fill="none" stroke="#000" stroke-width="2.2"/>
<rect x="19.5" y="218" width="1545.5" height="1540" fill="none" stroke="#000" stroke-width="2.6"/>
<rect x="1565" y="218" width="150" height="1540" fill="none" stroke="#000" stroke-width="2.6"/>
<rect x="1716" y="219.0" width="37" height="120.5" fill="#8adebe"/>
<rect x="1716" y="339.2" width="37" height="48.1" fill="#98e3c8"/>
<rect x="1716" y="387.0" width="37" height="25.4" fill="#a6e9d1"/>
<rect x="1716" y="412.1" width="37" height="24.6" fill="#b6eddb"/>
<rect x="1716" y="436.4" width="37" height="23.9" fill="#c8f1e3"/>
<rect x="1716" y="460.0" width="37" height="23.9" fill="#e0f6ef"/>
<rect x="1716" y="483.6" width="37" height="24.4" fill="#ffffff"/>
<rect x="1716" y="507.7" width="37" height="24.4" fill="#9a009a"/>
<rect x="1716" y="531.8" width="37" height="24.4" fill="#b000b0"/>
<rect x="1716" y="555.9" width="37" height="24.4" fill="#cc00cc"/>
<rect x="1716" y="580.0" width="37" height="24.4" fill="#e800e8"/>
<rect x="1716" y="604.1" width="37" height="24.4" fill="#dc0099"/>
<rect x="1716" y="628.2" width="37" height="24.4" fill="#c4005a"/>
<rect x="1716" y="652.2" width="37" height="24.4" fill="#9c0000"/>
<rect x="1716" y="676.3" width="37" height="24.4" fill="#b00008"/>
<rect x="1716" y="700.4" width="37" height="24.4" fill="#c2001a"/>
<rect x="1716" y="724.5" width="37" height="24.4" fill="#c8001e"/>
<rect x="1716" y="748.6" width="37" height="24.4" fill="#e80f30"/>
<rect x="1716" y="772.7" width="37" height="24.4" fill="#dc8018"/>
<rect x="1716" y="796.8" width="37" height="24.4" fill="#d6921c"/>
<rect x="1716" y="820.9" width="37" height="24.4" fill="#cfab24"/>
<rect x="1716" y="845.0" width="37" height="24.4" fill="#c4c430"/>
<rect x="1716" y="869.1" width="37" height="24.4" fill="#cfd033"/>
<rect x="1716" y="893.1" width="37" height="24.4" fill="#d8d837"/>
<rect x="1716" y="917.2" width="37" height="24.4" fill="#e2e23a"/>
<rect x="1716" y="941.3" width="37" height="24.4" fill="#eeee3c"/>
<rect x="1716" y="965.4" width="37" height="24.4" fill="#236b1a"/>
<rect x="1716" y="989.5" width="37" height="24.4" fill="#2a801e"/>
<rect x="1716" y="1013.6" width="37" height="24.4" fill="#309420"/>
<rect x="1716" y="1037.7" width="37" height="24.4" fill="#38a824"/>
<rect x="1716" y="1061.8" width="37" height="24.4" fill="#40bb28"/>
<rect x="1716" y="1085.9" width="37" height="24.4" fill="#46cc2c"/>
<rect x="1716" y="1110.0" width="37" height="24.4" fill="#4ad832"/>
<rect x="1716" y="1134.0" width="37" height="24.4" fill="#55f03a"/>
<rect x="1716" y="1158.1" width="37" height="22.8" fill="#29acd9"/>
<rect x="1716" y="1180.6" width="37" height="24.2" fill="#27a0d0"/>
<rect x="1716" y="1204.5" width="37" height="49.6" fill="#2893c6"/>
<rect x="1716" y="1253.8" width="37" height="48.0" fill="#2d88bf"/>
<rect x="1716" y="1301.5" width="37" height="48.0" fill="#357bb2"/>
<rect x="1716" y="1349.2" width="37" height="71.8" fill="#3a6ea4"/>
<rect x="1716" y="1420.7" width="37" height="73.5" fill="#3b6399"/>
<rect x="1716" y="1493.9" width="37" height="73.4" fill="#3d5a8d"/>
<rect x="1716" y="1567.0" width="37" height="71.9" fill="#3d4f7e"/>
<rect x="1716" y="1638.6" width="37" height="119.7" fill="#3d416e"/>
<rect x="1715.8" y="219" width="38.4" height="1539" fill="none" stroke="#000" stroke-width="2.4"/>
<line x1="1754" y1="242.7" x2="1764" y2="242.7" stroke="#000" stroke-width="2"/>
<text x="1774" y="252.9" font-family="DejaVu Sans" font-size="28" fill="#000">75</text>
<line x1="1754" y1="323.0" x2="1764" y2="323.0" stroke="#000" stroke-width="2"/>
<text x="1774" y="333.2" font-family="DejaVu Sans" font-size="28" fill="#000">70</text>
<line x1="1754" y1="403.2" x2="1764" y2="403.2" stroke="#000" stroke-width="2"/>
<text x="1774" y="413.4" font-family="DejaVu Sans" font-size="28" fill="#000">65</text>
<line x1="1754" y1="483.5" x2="1764" y2="483.5" stroke="#000" stroke-width="2"/>
<text x="1774" y="493.7" font-family="DejaVu Sans" font-size="28" fill="#000">60</text>
<line x1="1754" y1="563.8" x2="1764" y2="563.8" stroke="#000" stroke-width="2"/>
<text x="1774" y="574.0" font-family="DejaVu Sans" font-size="28" fill="#000">55</text>
<line x1="1754" y1="644.0" x2="1764" y2="644.0" stroke="#000" stroke-width="2"/>
<text x="1774" y="654.2" font-family="DejaVu Sans" font-size="28" fill="#000">50</text>
<line x1="1754" y1="724.3" x2="1764" y2="724.3" stroke="#000" stroke-width="2"/>
<text x="1774" y="734.5" font-family="DejaVu Sans" font-size="28" fill="#000">45</text>
<line x1="1754" y1="804.6" x2="1764" y2="804.6" stroke="#000" stroke-width="2"/>
<text x="1774" y="814.8" font-family="DejaVu Sans" font-size="28" fill="#000">40</text>
<line x1="1754" y1="884.9" x2="1764" y2="884.9" stroke="#000" stroke-width="2"/>
<text x="1774" y="895.1" font-family="DejaVu Sans" font-size="28" fill="#000">35</text>
<line x1="1754" y1="965.1" x2="1764" y2="965.1" stroke="#000" stroke-width="2"/>
<text x="1774" y="975.3" font-family="DejaVu Sans" font-size="28" fill="#000">30</text>
<line x1="1754" y1="1045.4" x2="1764" y2="1045.4" stroke="#000" stroke-width="2"/>
<text x="1774" y="1055.6" font-family="DejaVu Sans" font-size="28" fill="#000">25</text>
<line x1="1754" y1="1125.7" x2="1764" y2="1125.7" stroke="#000" stroke-width="2"/>
<text x="1774" y="1135.9" font-family="DejaVu Sans" font-size="28" fill="#000">20</text>
<line x1="1754" y1="1205.9" x2="1764" y2="1205.9" stroke="#000" stroke-width="2"/>
<text x="1774" y="1216.1" font-family="DejaVu Sans" font-size="28" fill="#000">15</text>
<line x1="1754" y1="1286.2" x2="1764" y2="1286.2" stroke="#000" stroke-width="2"/>
<text x="1774" y="1296.4" font-family="DejaVu Sans" font-size="28" fill="#000">10</text>
<line x1="1754" y1="1366.5" x2="1764" y2="1366.5" stroke="#000" stroke-width="2"/>
<text x="1774" y="1376.7" font-family="DejaVu Sans" font-size="28" fill="#000">5</text>
<line x1="1754" y1="1446.8" x2="1764" y2="1446.8" stroke="#000" stroke-width="2"/>
<text x="1774" y="1457.0" font-family="DejaVu Sans" font-size="28" fill="#000">0</text>
<line x1="1754" y1="1527.0" x2="1764" y2="1527.0" stroke="#000" stroke-width="2"/>
<text x="1774" y="1537.2" font-family="DejaVu Sans" font-size="28" fill="#000">−5</text>
<line x1="1754" y1="1607.3" x2="1764" y2="1607.3" stroke="#000" stroke-width="2"/>
<text x="1774" y="1617.5" font-family="DejaVu Sans" font-size="28" fill="#000">−10</text>
<line x1="1754" y1="1687.6" x2="1764" y2="1687.6" stroke="#000" stroke-width="2"/>
<text x="1774" y="1697.8" font-family="DejaVu Sans" font-size="28" fill="#000">−15</text>
<rect x="26" y="1652" width="333" height="102" fill="#5c5c5c"/>
<rect x="40" y="1667" width="303" height="72" fill="none" stroke="#ffa500" stroke-width="6"/>
<text font-family="DejaVu Sans Mono" font-size="22.3" fill="#fff"><tspan x="50.5" y="1696">Avisos Meteorológicos</tspan><tspan x="50.5" y="1722">a Muy Corto Plazo</tspan></text>
<path d="M139.1,1814.3 A38.5,38.5 0 1 0 139.1,1852.8" fill="none" stroke="#fdb515" stroke-width="18.4"/>
<path d="M98.8,1819.5 C112,1815 128,1815 140,1818 C150,1820 158,1818 166.2,1814 L166.2,1827 C158,1831 150,1833 140,1831 C128,1828 112,1828 98.8,1833 Z" fill="#0a93d5"/>
<path d="M98.8,1840 C112,1835 128,1835 140,1838 C150,1840 158,1838 166.2,1834 L166.2,1847 C158,1851 150,1853 140,1851 C128,1848 112,1848 98.8,1853 Z" fill="#0a93d5"/>
<g font-family="Liberation Sans, DejaVu Sans, sans-serif" fill="#1e1e1e"><text x="178" y="1807.8" font-size="27" textLength="112" lengthAdjust="spacingAndGlyphs">Servicio</text><text x="178" y="1833.5" font-size="27" textLength="202" lengthAdjust="spacingAndGlyphs">Meteorológico</text><text x="178" y="1860" font-size="27" textLength="120.5" lengthAdjust="spacingAndGlyphs">Nacional</text><text x="180" y="1880" font-size="17" textLength="92.5" lengthAdjust="spacingAndGlyphs">Argentina</text></g>
<path d="M542.6,1796.1L556.3,1799.0M542.8,1795.0L552.7,1796.0M542.8,1793.9L556.8,1793.7M542.7,1792.8L552.6,1791.5M542.5,1791.7L556.1,1788.4M542.2,1790.6L551.6,1787.2M541.8,1789.6L554.3,1783.4M541.2,1788.6L549.6,1783.2M540.6,1787.7L551.5,1778.9M539.8,1786.9L546.8,1779.8M539.0,1786.1L547.7,1775.2M538.1,1785.5L543.4,1777.0M537.1,1785.0L543.1,1772.3M536.1,1784.6L539.4,1775.1M535.0,1784.2L538.1,1770.6M533.9,1784.1L535.0,1774.1M532.8,1784.0L532.8,1770.0M531.7,1784.1L530.6,1774.1M530.6,1784.2L527.5,1770.6M529.5,1784.6L526.2,1775.1M528.5,1785.0L522.5,1772.3M527.5,1785.5L522.2,1777.0M526.6,1786.1L517.9,1775.2M525.8,1786.9L518.8,1779.8M525.0,1787.7L514.1,1778.9M524.4,1788.6L516.0,1783.2M523.8,1789.6L511.3,1783.4M523.4,1790.6L514.0,1787.2M523.1,1791.7L509.5,1788.4M522.9,1792.8L513.0,1791.5M522.8,1793.9L508.8,1793.7M522.8,1795.0L512.9,1796.0M523.0,1796.1L509.3,1799.0" stroke="#4a5580" stroke-width="1.1" fill="none"/>
<circle cx="532.8" cy="1795.0" r="8.5" fill="#e5e5e5" stroke="#4a5580" stroke-width="1.3"/>
<path d="M527.8,1794.0 h3 M534.8,1794.0 h3 M530.8,1798.0 h4" stroke="#4a5580" stroke-width="1.2"/>
<ellipse cx="532.8" cy="1841.5" rx="33.5" ry="42" fill="none" stroke="#7a84a8" stroke-width="5.5" stroke-dasharray="1.8 1.8"/>
<ellipse cx="532.8" cy="1840.5" rx="26.8" ry="38" fill="#e5e5e5" stroke="#28335c" stroke-width="2.4"/>
<path d="M520.3,1808.5H545.3M516.9,1812.2H548.7M514.4,1815.9H551.2M512.4,1819.6H553.2M510.9,1823.3H554.7M509.7,1827.0H555.9M508.9,1830.7H556.7M508.3,1834.4H557.3M508.1,1838.1H557.5" stroke="#6a749a" stroke-width="1"/>
<path d="M508.79999999999995,1847.5 C522.8,1841.5 542.8,1841.5 556.8,1847.5 M510.79999999999995,1856.5 L526.8,1848.5 L538.8,1848.5 L554.8,1856.5" stroke="#4a5580" stroke-width="1.2" fill="none"/>
<path d="M532.8,1829.5 V1872.5" stroke="#28335c" stroke-width="2"/>
<path d="M526.8,1828.5 C523.8,1817.5 529.8,1811.5 534.8,1812.5 C540.8,1813.5 541.8,1823.5 540.8,1829.5 Z" fill="#e5e5e5" stroke="#4a5580" stroke-width="1.3"/>
<path d="M527.8,1879.5 h10 v5 l7,7 l-4,2 l-8,-6 l-8,6 l-4,-2 l7,-7 z" fill="#28335c"/>
<g font-family="DejaVu Serif, Liberation Serif, serif" fill="#28335c"><text x="583.5" y="1827" font-size="24" font-weight="bold" textLength="131" lengthAdjust="spacingAndGlyphs">Ministerio</text><text x="583.5" y="1853.7" font-size="24" font-weight="bold" textLength="132.4" lengthAdjust="spacingAndGlyphs">de Defensa</text><text x="583.5" y="1873.5" font-size="15" textLength="150" lengthAdjust="spacingAndGlyphs">República Argentina</text></g>
<path d="M904.1,1796.1L917.8,1799.0M904.3,1795.0L914.2,1796.0M904.3,1793.9L918.3,1793.7M904.2,1792.8L914.1,1791.5M904.0,1791.7L917.6,1788.4M903.7,1790.6L913.1,1787.2M903.3,1789.6L915.8,1783.4M902.7,1788.6L911.1,1783.2M902.1,1787.7L913.0,1778.9M901.3,1786.9L908.3,1779.8M900.5,1786.1L909.2,1775.2M899.6,1785.5L904.9,1777.0M898.6,1785.0L904.6,1772.3M897.6,1784.6L900.9,1775.1M896.5,1784.2L899.6,1770.6M895.4,1784.1L896.5,1774.1M894.3,1784.0L894.3,1770.0M893.2,1784.1L892.1,1774.1M892.1,1784.2L889.0,1770.6M891.0,1784.6L887.7,1775.1M890.0,1785.0L884.0,1772.3M889.0,1785.5L883.7,1777.0M888.1,1786.1L879.4,1775.2M887.3,1786.9L880.3,1779.8M886.5,1787.7L875.6,1778.9M885.9,1788.6L877.5,1783.2M885.3,1789.6L872.8,1783.4M884.9,1790.6L875.5,1787.2M884.6,1791.7L871.0,1788.4M884.4,1792.8L874.5,1791.5M884.3,1793.9L870.3,1793.7M884.3,1795.0L874.4,1796.0M884.5,1796.1L870.8,1799.0" stroke="#4a5580" stroke-width="1.1" fill="none"/>
<circle cx="894.3" cy="1795.0" r="8.5" fill="#e5e5e5" stroke="#4a5580" stroke-width="1.3"/>
<path d="M889.3,1794.0 h3 M896.3,1794.0 h3 M892.3,1798.0 h4" stroke="#4a5580" stroke-width="1.2"/>
<ellipse cx="894.3" cy="1841.5" rx="33.5" ry="42" fill="none" stroke="#7a84a8" stroke-width="5.5" stroke-dasharray="1.8 1.8"/>
<ellipse cx="894.3" cy="1840.5" rx="26.8" ry="38" fill="#e5e5e5" stroke="#28335c" stroke-width="2.4"/>
<path d="M881.8,1808.5H906.8M878.4,1812.2H910.2M875.9,1815.9H912.7M873.9,1819.6H914.7M872.4,1823.3H916.2M871.2,1827.0H917.4M870.4,1830.7H918.2M869.8,1834.4H918.8M869.6,1838.1H919.0" stroke="#6a749a" stroke-width="1"/>
<path d="M870.3,1847.5 C884.3,1841.5 904.3,1841.5 918.3,1847.5 M872.3,1856.5 L888.3,1848.5 L900.3,1848.5 L916.3,1856.5" stroke="#4a5580" stroke-width="1.2" fill="none"/>
<path d="M894.3,1829.5 V1872.5" stroke="#28335c" stroke-width="2"/>
<path d="M888.3,1828.5 C885.3,1817.5 891.3,1811.5 896.3,1812.5 C902.3,1813.5 903.3,1823.5 902.3,1829.5 Z" fill="#e5e5e5" stroke="#4a5580" stroke-width="1.3"/>
<path d="M889.3,1879.5 h10 v5 l7,7 l-4,2 l-8,-6 l-8,6 l-4,-2 l7,-7 z" fill="#28335c"/>
<g font-family="DejaVu Serif, Liberation Serif, serif" fill="#28335c"><text x="945.0" y="1827" font-size="24" font-weight="bold" textLength="131" lengthAdjust="spacingAndGlyphs">Ministerio</text><text x="945.0" y="1853.7" font-size="24" font-weight="bold" textLength="163" lengthAdjust="spacingAndGlyphs">de Economía</text><text x="945.0" y="1873.5" font-size="15" textLength="150" lengthAdjust="spacingAndGlyphs">República Argentina</text></g>
</svg></body></html>
